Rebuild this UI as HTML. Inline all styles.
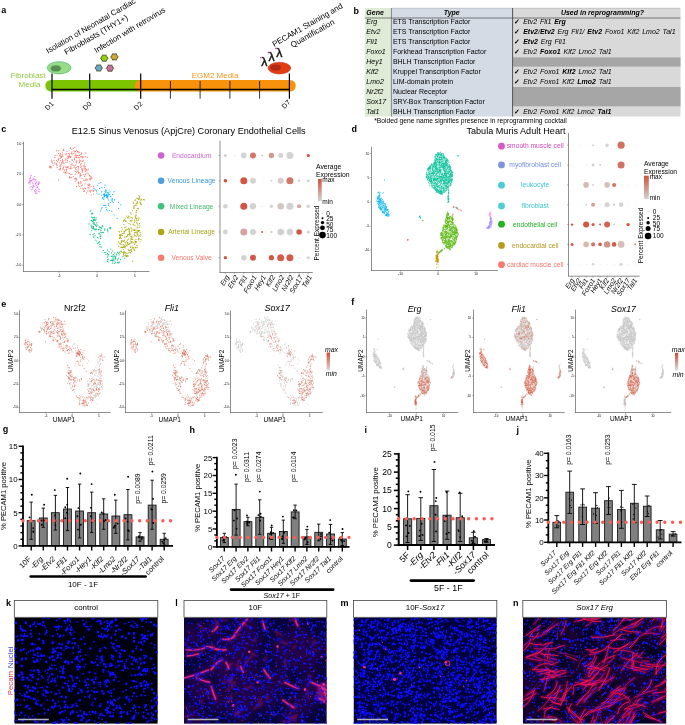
<!DOCTYPE html>
<html lang="en"><head><meta charset="utf-8"><title>Figure</title>
<style>html,body{margin:0;padding:0;background:#fff}svg{display:block}text{font-family:"Liberation Sans", Arial, Helvetica, sans-serif}</style>
</head><body>
<svg width="685" height="725" viewBox="0 0 685 725">
<rect width="685" height="725" fill="#fff"/>
<text x="1.2" y="13.2" font-size="9" font-weight="bold">a</text>
<rect x="45.3" y="79.9" width="100" height="11.7" rx="5.85" fill="#7dc400"/>
<rect x="134.5" y="79.9" width="161.3" height="11.7" rx="5.85" fill="#f7920a"/>
<line x1="51.5" y1="89.5" x2="290" y2="89.5" stroke="#000" stroke-width="1.3"/>
<line x1="52" y1="73.6" x2="52" y2="98.7" stroke="#000" stroke-width="1.2"/>
<line x1="89.7" y1="73.6" x2="89.7" y2="98.7" stroke="#000" stroke-width="1.2"/>
<line x1="140.7" y1="73.6" x2="140.7" y2="98.7" stroke="#000" stroke-width="1.2"/>
<line x1="289.4" y1="73.6" x2="289.4" y2="98.7" stroke="#000" stroke-width="1.2"/>
<line x1="170.4" y1="81" x2="170.4" y2="98.7" stroke="#000" stroke-width="0.8"/>
<line x1="200.1" y1="81" x2="200.1" y2="98.7" stroke="#000" stroke-width="0.8"/>
<line x1="229.9" y1="81" x2="229.9" y2="98.7" stroke="#000" stroke-width="0.8"/>
<line x1="259.6" y1="81" x2="259.6" y2="98.7" stroke="#000" stroke-width="0.8"/>
<text x="28" y="77.8" font-size="8" text-anchor="middle" fill="#8fc73e">Fibroblast</text>
<text x="29.5" y="87.3" font-size="8" text-anchor="middle" fill="#8fc73e">Media</text>
<text x="215" y="77.8" font-size="8" text-anchor="middle" fill="#f7941d">EGM2 Media</text>
<text x="54.2" y="104.3" font-size="7" text-anchor="end" transform="rotate(-45 54.2 104.3)">D1</text>
<text x="91.9" y="104.3" font-size="7" text-anchor="end" transform="rotate(-45 91.9 104.3)">D0</text>
<text x="142.9" y="104.3" font-size="7" text-anchor="end" transform="rotate(-45 142.9 104.3)">D2</text>
<text x="290.9" y="102.8" font-size="7" text-anchor="end" transform="rotate(-45 290.9 102.8)">D7</text>
<text x="48.1" y="53.7" font-size="7.95" transform="rotate(-30.1 48.1 53.7)">Isolation of Neonatal Cardiac</text>
<text x="66.3" y="55" font-size="8" transform="rotate(-30 66.3 55)">Fibroblasts (THY1+)</text>
<text x="96.3" y="53.2" font-size="7.9" transform="rotate(-31 96.3 53.2)">Infection with retrovirus</text>
<text x="274.2" y="47" font-size="8" transform="rotate(-29.7 274.2 47)">PECAM1 Staining and</text>
<text x="292.5" y="47.8" font-size="8" transform="rotate(-29.7 292.5 47.8)">Quantification</text>
<ellipse cx="59.1" cy="67.8" rx="11.8" ry="6.1" fill="#98dc88" stroke="#45b870" stroke-width=".7"/>
<ellipse cx="55.8" cy="68.4" rx="5" ry="2.9" fill="#5a8c52" stroke="#4aa860" stroke-width=".5"/>
<ellipse cx="279.4" cy="68.1" rx="11.4" ry="5.9" fill="#e23c12" stroke="#b42a10" stroke-width=".5"/>
<ellipse cx="275.7" cy="67.6" rx="4.8" ry="2.7" fill="#b02a1a" stroke="#8a1c10" stroke-width=".4"/>
<text x="261.2" y="65.9" font-size="12.3" fill="#111" stroke="#111" stroke-width=".4">&#955;</text>
<circle cx="260.9" cy="57.7" r="0.8" fill="#cc2299"/>
<text x="268.6" y="60.8" font-size="12.3" fill="#111" stroke="#111" stroke-width=".4">&#955;</text>
<circle cx="268.3" cy="52.6" r="0.8" fill="#cc2299"/>
<text x="276.3" y="56.6" font-size="12.3" fill="#111" stroke="#111" stroke-width=".4">&#955;</text>
<circle cx="276" cy="48.4" r="0.8" fill="#cc2299"/>
<line x1="107.8" y1="58.2" x2="108.8" y2="58.2" stroke="#9fc020" stroke-width="0.7"/>
<line x1="106" y1="61.2" x2="106.5" y2="62.1" stroke="#9fc020" stroke-width="0.7"/>
<line x1="102.5" y1="61.2" x2="102" y2="62.1" stroke="#9fc020" stroke-width="0.7"/>
<line x1="100.8" y1="58.2" x2="99.8" y2="58.2" stroke="#9fc020" stroke-width="0.7"/>
<line x1="102.5" y1="55.2" x2="102" y2="54.3" stroke="#9fc020" stroke-width="0.7"/>
<line x1="106" y1="55.2" x2="106.5" y2="54.3" stroke="#9fc020" stroke-width="0.7"/>
<polygon points="107.8,58.2 106,61.2 102.5,61.2 100.8,58.2 102.5,55.2 106,55.2" fill="#8fd400" stroke="#2b2b2b" stroke-width=".7"/>
<line x1="117.9" y1="56.9" x2="118.9" y2="56.9" stroke="#9fc020" stroke-width="0.7"/>
<line x1="116.2" y1="59.9" x2="116.7" y2="60.8" stroke="#9fc020" stroke-width="0.7"/>
<line x1="112.7" y1="59.9" x2="112.2" y2="60.8" stroke="#9fc020" stroke-width="0.7"/>
<line x1="110.9" y1="56.9" x2="109.9" y2="56.9" stroke="#9fc020" stroke-width="0.7"/>
<line x1="112.7" y1="53.9" x2="112.2" y2="53" stroke="#9fc020" stroke-width="0.7"/>
<line x1="116.2" y1="53.9" x2="116.7" y2="53" stroke="#9fc020" stroke-width="0.7"/>
<polygon points="117.9,56.9 116.2,59.9 112.7,59.9 110.9,56.9 112.7,53.9 116.2,53.9" fill="#d4a82a" stroke="#2b2b2b" stroke-width=".7"/>
<line x1="102.3" y1="68" x2="103.3" y2="68" stroke="#9fc020" stroke-width="0.7"/>
<line x1="100.5" y1="71" x2="101" y2="71.9" stroke="#9fc020" stroke-width="0.7"/>
<line x1="97" y1="71" x2="96.5" y2="71.9" stroke="#9fc020" stroke-width="0.7"/>
<line x1="95.3" y1="68" x2="94.3" y2="68" stroke="#9fc020" stroke-width="0.7"/>
<line x1="97" y1="65" x2="96.5" y2="64.1" stroke="#9fc020" stroke-width="0.7"/>
<line x1="100.5" y1="65" x2="101" y2="64.1" stroke="#9fc020" stroke-width="0.7"/>
<polygon points="102.3,68 100.5,71 97,71 95.3,68 97,65 100.5,65" fill="#6aa8cc" stroke="#2b2b2b" stroke-width=".7"/>
<line x1="113.5" y1="68.2" x2="114.5" y2="68.2" stroke="#9fc020" stroke-width="0.7"/>
<line x1="111.8" y1="71.2" x2="112.2" y2="72.1" stroke="#9fc020" stroke-width="0.7"/>
<line x1="108.2" y1="71.2" x2="107.8" y2="72.1" stroke="#9fc020" stroke-width="0.7"/>
<line x1="106.5" y1="68.2" x2="105.5" y2="68.2" stroke="#9fc020" stroke-width="0.7"/>
<line x1="108.2" y1="65.2" x2="107.8" y2="64.3" stroke="#9fc020" stroke-width="0.7"/>
<line x1="111.8" y1="65.2" x2="112.2" y2="64.3" stroke="#9fc020" stroke-width="0.7"/>
<polygon points="113.5,68.2 111.8,71.2 108.2,71.2 106.5,68.2 108.2,65.2 111.8,65.2" fill="#c870a0" stroke="#2b2b2b" stroke-width=".7"/>
<text x="353.5" y="13.6" font-size="9" font-weight="bold">b</text>
<rect x="364.8" y="8" width="26.6" height="108.5" fill="#dfebd6"/>
<rect x="391.4" y="8" width="121.6" height="108.5" fill="#d4dbe5"/>
<rect x="513" y="8" width="167.5" height="108.5" fill="#d9d9d9"/>
<rect x="513" y="57.4" width="167.5" height="9.2" fill="#a6a6a6"/>
<rect x="513" y="87" width="167.5" height="19.3" fill="#a6a6a6"/>
<line x1="391.4" y1="8.1" x2="680.5" y2="8.1" stroke="#888" stroke-width="0.35"/>
<line x1="364.8" y1="18" x2="680.5" y2="18" stroke="#333" stroke-width="0.6"/>
<line x1="391.4" y1="8" x2="391.4" y2="116.5" stroke="#444" stroke-width="0.6"/>
<line x1="512.6" y1="8" x2="512.6" y2="116.5" stroke="#444" stroke-width="0.9"/>
<text x="366.3" y="15.1" font-size="7" font-weight="bold" font-style="italic">Gene</text>
<text x="451.7" y="15.1" font-size="7" text-anchor="middle" font-weight="bold" font-style="italic">Type</text>
<text x="602.5" y="15.1" font-size="7" text-anchor="middle" font-weight="bold" font-style="italic">Used in reprogramming?</text>
<text x="366.3" y="24.4" font-size="7" font-style="italic">Erg</text>
<text x="392.9" y="24.4" font-size="7">ETS Transcription Factor</text>
<text x="515.5" y="24.4" font-size="7" font-style="italic" word-spacing=".9"><tspan font-weight="bold" font-style="normal" dx="-1.2">&#10003;</tspan> Etv2 Fli1 <tspan font-weight="bold">Erg</tspan></text>
<text x="366.3" y="34.4" font-size="7" font-style="italic">Etv2</text>
<text x="392.9" y="34.4" font-size="7">ETS Transcription Factor</text>
<text x="515.5" y="34.4" font-size="7" font-style="italic" word-spacing=".9"><tspan font-weight="bold" font-style="normal" dx="-1.2">&#10003;</tspan> <tspan font-weight="bold">Etv2</tspan>/<tspan font-weight="bold">Etv2</tspan> Erg Fli1/ <tspan font-weight="bold">Etv2</tspan> Foxo1 Klf2 Lmo2 Tal1</text>
<text x="366.3" y="44.3" font-size="7" font-style="italic">Fli1</text>
<text x="392.9" y="44.3" font-size="7">ETS Transcription Factor</text>
<text x="515.5" y="44.3" font-size="7" font-style="italic" word-spacing=".9"><tspan font-weight="bold" font-style="normal" dx="-1.2">&#10003;</tspan> <tspan font-weight="bold">Etv2</tspan> Erg Fli1</text>
<text x="366.3" y="54.3" font-size="7" font-style="italic">Foxo1</text>
<text x="392.9" y="54.3" font-size="7">Forkhead Transcription Factor</text>
<text x="515.5" y="54.3" font-size="7" font-style="italic" word-spacing=".9"><tspan font-weight="bold" font-style="normal" dx="-1.2">&#10003;</tspan> Etv2 <tspan font-weight="bold">Foxo1</tspan> Klf2 Lmo2 Tal1</text>
<text x="366.3" y="64.2" font-size="7" font-style="italic">Hey1</text>
<text x="392.9" y="64.2" font-size="7">BHLH Transcription Factor</text>
<text x="366.3" y="74.2" font-size="7" font-style="italic">Klf2</text>
<text x="392.9" y="74.2" font-size="7">Kruppel Transcription Factor</text>
<text x="515.5" y="74.2" font-size="7" font-style="italic" word-spacing=".9"><tspan font-weight="bold" font-style="normal" dx="-1.2">&#10003;</tspan> Etv2 Foxo1 <tspan font-weight="bold">Klf2</tspan> Lmo2 Tal1</text>
<text x="366.3" y="84.1" font-size="7" font-style="italic">Lmo2</text>
<text x="392.9" y="84.1" font-size="7">LIM-domain protein</text>
<text x="515.5" y="84.1" font-size="7" font-style="italic" word-spacing=".9"><tspan font-weight="bold" font-style="normal" dx="-1.2">&#10003;</tspan> Etv2 Foxo1 Klf2 <tspan font-weight="bold">Lmo2</tspan> Tal1</text>
<text x="366.3" y="94.1" font-size="7" font-style="italic">Nr2f2</text>
<text x="392.9" y="94.1" font-size="7">Nuclear Receptor</text>
<text x="366.3" y="104" font-size="7" font-style="italic">Sox17</text>
<text x="392.9" y="104" font-size="7">SRY-Box Transcription Factor</text>
<text x="366.3" y="114" font-size="7" font-style="italic">Tal1</text>
<text x="392.9" y="114" font-size="7">BHLH Transcription Factor</text>
<text x="515.5" y="114" font-size="7" font-style="italic" word-spacing=".9"><tspan font-weight="bold" font-style="normal" dx="-1.2">&#10003;</tspan> Etv2 Foxo1 Klf2 Lmo2 <tspan font-weight="bold">Tal1</tspan></text>
<text x="374.2" y="122.5" font-size="6.7">*Bolded gene name signifies presence in reprogramming cocktail</text>
<text x="1.2" y="132.3" font-size="9" font-weight="bold">c</text>
<text x="188.7" y="133.9" font-size="9.15" text-anchor="middle">E12.5 Sinus Venosus (ApjCre) Coronary Endothelial Cells</text>
<line x1="23.5" y1="141.7" x2="23.5" y2="271.8" stroke="#444" stroke-width="0.6"/>
<line x1="23.2" y1="271.5" x2="149.5" y2="271.5" stroke="#444" stroke-width="0.6"/>
<line x1="22" y1="143.6" x2="23.4" y2="143.6" stroke="#444" stroke-width="0.4"/>
<text x="21.3" y="144.7" font-size="3.2" text-anchor="end">5.0</text>
<line x1="22" y1="174.2" x2="23.4" y2="174.2" stroke="#444" stroke-width="0.4"/>
<text x="21.3" y="175.3" font-size="3.2" text-anchor="end">2.5</text>
<line x1="22" y1="204.5" x2="23.4" y2="204.5" stroke="#444" stroke-width="0.4"/>
<text x="21.3" y="205.6" font-size="3.2" text-anchor="end">0.0</text>
<line x1="22" y1="234.9" x2="23.4" y2="234.9" stroke="#444" stroke-width="0.4"/>
<text x="21.3" y="236" font-size="3.2" text-anchor="end">-2.5</text>
<line x1="22" y1="265.3" x2="23.4" y2="265.3" stroke="#444" stroke-width="0.4"/>
<text x="21.3" y="266.4" font-size="3.2" text-anchor="end">-5.0</text>
<line x1="59.1" y1="271.4" x2="59.1" y2="272.8" stroke="#444" stroke-width="0.4"/>
<text x="59.1" y="276.6" font-size="3.2" text-anchor="middle">-5</text>
<line x1="97.2" y1="271.4" x2="97.2" y2="272.8" stroke="#444" stroke-width="0.4"/>
<text x="97.2" y="276.6" font-size="3.2" text-anchor="middle">0</text>
<line x1="135" y1="271.4" x2="135" y2="272.8" stroke="#444" stroke-width="0.4"/>
<text x="135" y="276.6" font-size="3.2" text-anchor="middle">5</text>
<path d="M86.6 169.5h0M62.5 159.7h0M60.5 168.7h0M71.9 174.6h0M58.6 153.3h0M78.1 171.3h0M72.2 160.2h0M80.8 156.7h0M78.4 183.4h0M51.1 166.5h0M62.9 155h0M76.4 178.3h0M80.9 154.6h0M68.5 158.2h0M66.9 151.5h0M80.6 160.9h0M90 179.6h0M93.4 191.4h0M75.9 154.2h0M74.8 156h0M91.1 177.4h0M75.8 165.2h0M67.4 158.1h0M69.4 173.5h0M68.1 172.8h0M75.4 181.1h0M65.1 172.2h0M84.2 191h0M85.3 171.7h0M82.7 157.8h0M56.7 164.5h0M56 163.9h0M65.1 160.5h0M83.3 174.5h0M50.5 167.1h0M80.7 181.6h0M63.9 166.1h0M76.9 171h0M76 179h0M69.8 178.1h0M77.8 155.3h0M50.2 166.3h0M84.7 188.1h0M91.1 186.7h0M60.1 158.5h0M86.6 179h0M76.8 157.2h0M63.2 162.6h0M89.4 185.6h0M75.4 178.6h0M77.2 151.8h0M79.9 176.8h0M88.1 187.4h0M89.9 191.1h0M78.4 157.3h0M65.7 158.9h0M53.2 165.1h0M65.6 172.3h0M58.1 159h0M63.3 168.9h0M76.6 160.9h0M77.1 155.6h0M85.7 188.4h0M80.4 164.7h0M83.5 191.3h0M85.7 179.2h0M93.6 188.2h0M85.4 166.6h0M79.4 155.3h0M84.9 183.8h0M82.1 168.7h0M65.9 166.9h0M73.1 165.4h0M82.8 188.3h0M75.8 169.3h0M70.3 148.4h0M63.1 161.6h0M81.9 169.2h0M90.3 191.3h0M59.9 166h0M78.5 173.1h0M76.5 150.1h0M59.1 169.3h0M89.9 184.5h0M87.9 184.8h0M80.9 188.3h0M80.3 183h0M62.1 154.8h0M82 178.5h0M79.4 157.7h0M70.8 166.6h0M82.8 172.1h0M75.4 174.1h0M69.2 177.6h0M73.9 150.6h0M76.4 157.7h0M57.1 167.3h0M83.9 180.6h0M70.3 177.8h0M87.3 179.9h0M78.5 166.7h0M74.4 166h0M83.1 166.1h0M72 163.9h0M88.2 185.4h0M49.5 166.2h0M89.5 175.4h0M74.3 179h0M81.2 175.3h0M67.9 156.6h0M62.5 161.5h0M64.6 169.9h0M93.5 190.7h0M65.9 159.2h0M70.9 156.7h0M84.9 169.2h0M65.2 172.9h0M57.4 161.6h0M82.2 185.2h0M88.5 169.1h0M60 169.8h0M71.3 177.5h0M61.7 162.3h0M82.2 156.7h0M54.6 162.9h0M85.4 170.2h0M91.9 178.3h0M78.4 185.1h0M84.2 163.1h0M60.3 168.2h0M71.4 153.7h0M56.5 160.5h0M57.1 155h0M70.5 147.5h0M69.6 155.2h0M67.2 167.5h0M91.9 189.9h0M80.1 175.7h0M93.9 190.5h0M52.5 161.8h0M91.5 195h0M76.6 179.9h0M80.3 175h0M63.8 172.1h0M80.8 167.5h0M89 183.9h0M63.8 150.1h0M62.5 169h0M90.8 179.8h0M59.9 155.1h0M86 180.7h0M58.3 158.7h0M81.6 152.8h0M73.3 148.4h0M51.6 160.2h0M84.6 176.4h0M78.3 182.5h0M81.2 166.2h0M83.1 157.2h0M83 161.1h0M69.9 161.8h0M63.1 150.5h0M58.5 160.2h0M70.4 157.4h0M71.8 149.5h0M89 188.4h0M86.9 169.9h0M65.8 154.7h0M79.3 162.7h0M75.1 157.5h0M75.2 171.4h0M67.4 160.3h0M66.2 173h0M80.5 173.8h0M59.5 155.3h0M87.8 191h0M69.1 153.7h0M72.4 154h0M54.2 160.5h0M60.2 166.4h0M84.5 166.7h0M90.4 191.9h0M60.4 153.4h0M69.4 176.6h0M82.1 170.2h0M81.5 153.7h0M52.8 163.3h0M70.3 174.6h0M83.8 180.1h0M84.4 191.2h0M70.5 168.2h0M66.3 167.6h0M85.1 174.8h0M79.3 186.5h0M58.7 159.3h0M60.7 160.6h0M84.4 165h0M81.1 182.9h0M49.7 167.5h0M74.6 159.8h0M75.9 155.6h0M60.3 156.6h0M73.4 176.6h0M81.2 163.7h0M63.6 149.4h0M69.8 156.7h0M90.6 178.2h0M51.6 161.8h0M78 151.5h0M64 163.7h0M80.1 173.9h0M77.8 151.2h0M93.6 186.4h0M79.1 172.5h0M81.1 186h0M85.6 168.6h0M67.5 162h0M68.7 157.1h0M82.4 171.2h0M90.1 190.7h0M62.9 160.6h0M71.7 168h0M93.4 194.1h0M78.5 182.5h0M76.3 157.1h0M81.5 156.8h0M73.9 150.8h0M66.3 170.9h0M87.2 173.2h0M65.9 162.5h0M78.2 152h0M89.9 190.4h0M78.5 172.4h0M62.3 152.6h0M75.7 168.1h0M68.7 156.2h0M79.9 160.9h0M66.6 169.8h0M82.1 161.2h0M79.6 152.3h0M54.9 157.4h0M76.6 162.8h0M85.8 174.2h0M78.1 168.2h0M72 151.8h0M83.4 160h0M68.4 166.9h0M78.7 182.1h0M70.8 169h0M56.8 164.8h0M86.7 192.9h0M89.6 178.6h0M84 168.2h0M83.5 189.1h0M89.9 175.9h0M89.8 184.7h0M82.3 156.7h0M61.7 163.1h0M75.8 178h0M56.7 163.8h0M88.4 174h0M79.6 161.3h0M91 176.3h0M51.1 167.9h0M63.4 167.6h0M82.5 170.2h0M87 170.7h0M76.7 172.6h0M71.2 153.2h0M72 159.5h0M74.1 167.5h0M60.7 165.6h0M87.6 157.4h0M69.1 168.7h0M77.8 166.5h0M57.2 165.6h0M60.6 154.9h0M74.5 159.2h0M76.6 186.7h0M76.3 167.3h0M62.9 156.4h0M61.6 157.3h0M61.4 156.3h0M68.4 153.5h0M58.7 150.7h0M73.7 162h0M78.3 169.9h0M67.4 166.9h0M58.6 179.8h0M79.7 159.8h0M60.8 164.6h0M55.1 155.3h0M76.1 162.1h0M66.2 169.1h0M61.8 163.8h0M66.1 154.8h0M73.8 153.6h0M85.3 156.9h0M86 152.8h0M74.9 151.9h0M59.4 162.8h0M75.5 151.3h0M79.6 155.2h0M71.1 164.6h0M74.9 147.2h0M83 166h0M66.7 153.3h0M56.5 150.7h0M74.5 158.8h0M61 157.3h0" stroke="#f8766d" stroke-width="1.2" stroke-linecap="round" fill="none" stroke-opacity="0.95"/>
<path d="M33.1 185.6h0M34.8 179h0M36.3 182.4h0M39.2 182.9h0M33.8 179.3h0M37.9 184.8h0M38.8 191.6h0M29.9 180.9h0M35.5 184.1h0M37.2 186.9h0M29.7 184h0M32.8 187.3h0M32.5 187.3h0M35.4 192.2h0M35.2 191.4h0M35.6 189.6h0M38.7 189h0M29.5 182.1h0M33.4 185.3h0M32.6 179.8h0M31.4 180.6h0M39 182h0M34 186.5h0M36.1 180.9h0M33 187.5h0M30.4 177.9h0M34.4 176.5h0M33.5 186.1h0M29.9 187.6h0M29.8 178.8h0M37 187.5h0M28.5 182.9h0M37.6 187.6h0M36.9 193.1h0M32.8 182.8h0M38 183.5h0M38.5 184.6h0M35.9 193.7h0M39 191.7h0M29.9 183.8h0M33.3 185.5h0M32.5 189h0M33.5 178.8h0M31 175.4h0M29.3 181.7h0M30.8 180.4h0M30.7 181.8h0M30.5 177.1h0M35.7 183.4h0M38.7 181.8h0M38.8 183.7h0M35.8 179.8h0M39.2 189.6h0M31.2 186.5h0M34 181.1h0M34.6 190.6h0M33 183.3h0M36.2 185.6h0M36.7 190.8h0M31.1 189.8h0" stroke="#e76bf3" stroke-width="1.2" stroke-linecap="round" fill="none" stroke-opacity="0.95"/>
<path d="M118.6 208.4h0M108.4 203.8h0M107.7 198.2h0M99.6 188.4h0M113.2 202.5h0M110.3 202.5h0M105.7 190.6h0M112.3 201.2h0M111.8 211.2h0M111.9 200.6h0M117.2 218.3h0M110.3 191.9h0M100.7 182.5h0M106.7 209.3h0M112 199.6h0M105.9 205.6h0M108.8 203.6h0M109.2 210.7h0M103.6 199h0M101.3 208.8h0M97.4 185.3h0M103.8 199.2h0M106 207.5h0M120.8 204.8h0M101.9 187.7h0M105.9 192.6h0M103.8 205.4h0M99 183.3h0M104.6 196.8h0M118.6 202.4h0M114.1 214.8h0M104.5 187.6h0M110.9 196.8h0M112.2 198.6h0M106.3 191.1h0M96.5 190.9h0M114.6 199.8h0M105 185.1h0M107 210.6h0M110.6 196.5h0M108.5 205.5h0M102.1 207.6h0M95.8 189.8h0M100.6 210.9h0M99 194.2h0M97 193.1h0M94.7 188.8h0M104.9 205.3h0M105 191.7h0M108.1 192.5h0M104.3 194.8h0M109.1 190h0M112.5 194.3h0M107.2 196.8h0M107.7 192.8h0M114.1 191.7h0M107.2 196.3h0M104.3 194h0M108.6 200h0M104.8 194.1h0M109.5 194.4h0M103.9 195.2h0M107.8 195.3h0M110.9 196.7h0M108.7 195h0M104.2 193.9h0M108.1 193.3h0M107.8 192.3h0M112.1 199.4h0M106.3 195.2h0M106.8 197.3h0M108.8 194.4h0M106.8 194.6h0M104.5 195.9h0M105.3 195.5h0M107.9 196.9h0M107.4 196.7h0M104.7 195.7h0M106.8 194.7h0M107.7 196.5h0M101.4 195h0M103 197.1h0M101.6 191.8h0M102.5 198.2h0M103.6 194.5h0M105.9 189.9h0M106.5 195.8h0M106.9 196.5h0M106.4 194.3h0M106.3 195.1h0" stroke="#00b0f6" stroke-width="1.2" stroke-linecap="round" fill="none" stroke-opacity="0.95"/>
<path d="M99.9 244.4h0M102.8 252h0M121.3 251.7h0M98.2 238h0M94.2 233.3h0M93.8 228.3h0M100.3 236.7h0M91.9 227.7h0M117.3 262.8h0M93 234.5h0M99.5 227.1h0M102.4 225.7h0M114.6 256.2h0M95.1 235.9h0M110.4 227.6h0M116.7 255h0M115.6 256.7h0M107.9 231.8h0M108 254.5h0M119.7 252.1h0M112.7 256.1h0M99.1 233.4h0M93.2 228.6h0M93.9 224.1h0M111.8 260.3h0M100.8 238.6h0M110.2 228.9h0M102.4 232.2h0M98.3 242.9h0M113.3 254.4h0M110.6 227.9h0M105.6 252.7h0M92.9 226.3h0M92.9 213.7h0M92.1 213.2h0M100.1 234.9h0M99.1 229.1h0M101.6 228.3h0M104.7 252.5h0M104.4 230h0M114.8 261h0M103.4 250.5h0M97.2 243.5h0M102.8 226.6h0M112.6 261h0M90.9 210.6h0M98.6 229.7h0M92.2 228.5h0M98.8 233.8h0M104.9 228.9h0M96.5 229.2h0M115.4 257.4h0M107.6 229.1h0M111.3 256.1h0M95.2 229.8h0M101.2 247.2h0M95.5 225.3h0M93.5 220.6h0M107.5 249.8h0M109.3 227.9h0M92.1 221.3h0M108.7 254.6h0M100.5 238.4h0M91.2 213.9h0M115.4 262.8h0M90.3 211h0M107.9 230.4h0M100.8 232.2h0M98.4 229.5h0M94.2 229.5h0M110.9 249.1h0M99.5 226.9h0M101 229.8h0M113.3 260.1h0M95.2 224.6h0M91.7 230.6h0M95.3 229.2h0M97.7 237.5h0M101.2 227.1h0M100.5 227.7h0M96.8 222.9h0M92.2 221.1h0M108.1 255.9h0M109.1 251.8h0M93.2 236.1h0M96.1 217.9h0M89 223.9h0M93.1 217.6h0M100 246.6h0M119.3 262.2h0M96.6 226.5h0M96.6 225h0M93.4 227.5h0M95.2 240h0M107.6 253.3h0M103.3 232.6h0M113.4 259.8h0M99.6 241.9h0M104.4 230.2h0M91.7 226.4h0M112.5 251.1h0M119.1 254.8h0M98.9 242.1h0M90.2 234.4h0M96.5 241h0M93.9 237.4h0M101 236.2h0M101 230.4h0M91.9 220.8h0M117.7 262.4h0M110.7 260.3h0M102 232.4h0M92.9 221.1h0M108.2 259.1h0M97.3 225h0M112.2 258.9h0M107.4 257h0M117.5 260h0M112.3 260.6h0M122.9 256.6h0M118.4 253.2h0M107.6 259.7h0M115.6 258.5h0M113.1 257h0M118.7 263h0M114.6 252.9h0M120.5 259.7h0M118.2 258.4h0M124.7 258.1h0M117.5 252.3h0M113.1 255.8h0M115.3 258.9h0M112.5 263.1h0M111.2 256.5h0M116.4 254.1h0M117.7 259.8h0M114.3 263.6h0M115.8 258.7h0M111.6 252.9h0M112.9 256.9h0M113.6 260.2h0M105.9 254.5h0M108.1 261.9h0M113.2 256.3h0M111 260.6h0M113.8 258.6h0M107.3 261.4h0M94 222.6h0M95.2 220.4h0M93.1 223.1h0M94 220.2h0M93.4 219.5h0M94.5 223.8h0M93.4 226.6h0M91.1 220.3h0M96 219.7h0M91 225.2h0M94.2 217.4h0M94.6 217.9h0M91.4 220.5h0M92.7 217.7h0M92.8 218h0M93.5 220.9h0M94.5 219.6h0M91.4 217h0" stroke="#00bf7d" stroke-width="1.2" stroke-linecap="round" fill="none" stroke-opacity="0.95"/>
<path d="M123.8 246.5h0M125.6 230.1h0M122.5 240.8h0M120.2 235.4h0M136.6 241.8h0M138.5 219.8h0M129.1 252.6h0M130.7 234h0M137.3 232.2h0M123.7 241.4h0M128.7 239.1h0M123.5 253.3h0M122.1 244.8h0M140.8 204.1h0M132.6 210.5h0M129.4 234.9h0M136 239.4h0M126.6 216h0M123.5 220.9h0M125 255.4h0M135.6 217.7h0M134.8 221.2h0M138.9 231.4h0M128.2 256.1h0M123.6 252.2h0M134.2 234.3h0M135.1 200.4h0M137.1 218.2h0M141.6 199.4h0M122.3 247.4h0M138.4 208.8h0M128.6 234.7h0M131.6 237.1h0M136.1 212h0M134.4 230.3h0M130.6 252.7h0M125.3 252.3h0M121.3 238.5h0M136.1 212.8h0M124.6 237.1h0M127.4 240h0M128.6 216.1h0M136.8 245.5h0M124.4 240.3h0M120.6 236.2h0M126.7 236.4h0M120.7 237.5h0M119.8 243.2h0M131.7 251.4h0M137.3 198.5h0M129.5 243.8h0M131.7 236h0M139.4 230.5h0M122.3 235.6h0M136.8 222.2h0M121 247.3h0M125.3 218.1h0M123.4 221.1h0M124.3 245.7h0M135.1 225.8h0M137.8 224.9h0M120.6 234.5h0M143.6 199.7h0M126 256.6h0M136.8 232.8h0M128.8 244.2h0M133.9 208.4h0M131.2 239.2h0M134.1 229.2h0M137.2 202.3h0M134.4 222.5h0M129.3 229.9h0M126.1 236.9h0M127.3 229.5h0M121.4 231.1h0M130.8 236.3h0M133.1 230.3h0M137.7 203.1h0M137.7 234.1h0M136.5 220.1h0M119.9 253.1h0M130.3 250.1h0M128.3 228h0M134.6 230.4h0M121.8 227.3h0M144.4 199.8h0M139.9 225.8h0M119.5 235.6h0M136.4 210.5h0M125.4 255.2h0M124 220.8h0M130.9 238.2h0M140.4 203h0M135.5 205.1h0M121.5 247.5h0M130.5 224.3h0M120.9 251h0M131.6 250h0M119.7 238.3h0M128.7 228.9h0M135.4 247.1h0M139.9 202.1h0M125.2 242.7h0M131.9 220.2h0M134.4 235.8h0M118.8 246.7h0M128.9 216.7h0M119.6 232h0M138.1 220.6h0M136.5 205h0M134.4 250.4h0M139.5 223.6h0M134.5 244.2h0M127.7 242.7h0M131.7 241.8h0M137 198h0M139.4 196.6h0M129.7 232.9h0M139 198h0M135.3 216.2h0M139.4 197.3h0M123.3 247.4h0M135.3 199.8h0M126.3 245.3h0M126.2 255.3h0M139.3 238.9h0M123.8 241.1h0M137 228.1h0M134.2 205.7h0M126.2 253.2h0M134 249.2h0M136.5 218.3h0M119.5 234.9h0M120.5 244h0M135.8 247.7h0M137.4 227h0M133.8 206.9h0M138.5 239.8h0M125.1 247.9h0M123.5 254.8h0M130.5 247.3h0M133.6 242.9h0M128.3 250.3h0M133.4 247.5h0M123.8 233.7h0M135.4 242h0M121.3 240.6h0M122.2 252.5h0M140.1 232.5h0M127 245.9h0M133.2 202.1h0M124.6 246.8h0M139.1 198.3h0M131.8 239.4h0M127.9 253.4h0M137.5 208.6h0M140.3 236.2h0M140.7 234.1h0M136 242.8h0M127.5 217.7h0M124.9 252.9h0M131.3 242h0M126 227.1h0M139.3 227.5h0M139.6 199h0M130.1 218h0M121.5 247.1h0M130.5 247.5h0M127.6 243.3h0M125.8 221.4h0M131.1 227.9h0M137.4 247h0M124.7 231.4h0M131.2 221.2h0M119 231.5h0M136.3 203.6h0M132.1 246.1h0M122.2 233.5h0M140.9 200.7h0M140 199.1h0M126.9 256.7h0M136 218.8h0M135.3 230h0M141.4 204.4h0M137.3 201.8h0M126.8 241.8h0M119.6 237.7h0M120.4 244.2h0M134 207.3h0M135.8 216.1h0M131.8 229h0M124 220.7h0M139.7 230.4h0M140.4 203.6h0M128 244.3h0M128.3 249.7h0M126.4 256.3h0M123.9 224.6h0M118.5 241.9h0M127.6 234.9h0M133.8 225h0M137.9 230.8h0M136.2 215h0M137.1 235.2h0M138.5 199.5h0M121.3 234.9h0M137.6 198.6h0M138.3 236.8h0M133.2 224.2h0M123.4 254.4h0M138.5 230.7h0M134.9 241h0M139.1 235.6h0M122.4 229h0M121.6 241.4h0M126.5 229.8h0M127 256.2h0M133.7 203.5h0M130.4 212.9h0M131.3 214h0M125.8 220.7h0M129.7 231.1h0M132.5 218.1h0M135.7 241.4h0M134.5 219.8h0M138.9 195.5h0M131.3 217.3h0M123.4 249.6h0M123.7 244.7h0M137.3 233.8h0M129.8 234.1h0M135.4 242.4h0M124.4 219.9h0M125.2 246.7h0M128.1 218h0M131.5 230.9h0M137.1 202.3h0M124.8 227.6h0M130.3 220.6h0M124.9 252.4h0M129 231.8h0M131 241.1h0M136.1 247.7h0M132 242.7h0M131.8 241.5h0M139 218.1h0M130.3 243.3h0M136.9 230.7h0M133 248.3h0M129 223.3h0M129.4 229.7h0M134.5 232.8h0M140.1 241.8h0M127.2 236h0M125.8 244h0M138.7 238.6h0M135.9 232h0M132.8 261.2h0M124.2 251.6h0M137.1 223.6h0M124.1 231.7h0M136.1 236.6h0M130.4 246.9h0M131.8 242.5h0M129.6 250.6h0M127.3 255.6h0M129.5 233.3h0M134.5 244.6h0M121.3 242.5h0M124.5 233h0M135.1 232.7h0M133 237.1h0M140.9 239.6h0M125.3 230.5h0M126.7 241.6h0M131.2 249.2h0M132 241.6h0M132.8 239.3h0M132.6 247.5h0M135.1 235.5h0" stroke="#a3a500" stroke-width="1.2" stroke-linecap="round" fill="none" stroke-opacity="0.95"/>
<line x1="220" y1="140.7" x2="220" y2="272.8" stroke="#444" stroke-width="0.6"/>
<line x1="219.7" y1="272.5" x2="312.8" y2="272.5" stroke="#444" stroke-width="0.6"/>
<circle cx="161.1" cy="155.5" r="3.3" fill="#cc63d0"/>
<text x="191.6" y="157.8" font-size="6.7" text-anchor="middle" fill="#cc66cc">Endocardium</text>
<line x1="218.6" y1="155.5" x2="220" y2="155.5" stroke="#444" stroke-width="0.4"/>
<circle cx="161.1" cy="180.8" r="3.3" fill="#4a9fe0"/>
<text x="191.6" y="183.1" font-size="6.7" text-anchor="middle" fill="#3d9bdc">Venous Lineage</text>
<line x1="218.6" y1="180.8" x2="220" y2="180.8" stroke="#444" stroke-width="0.4"/>
<circle cx="161.1" cy="206.2" r="3.3" fill="#3ec47a"/>
<text x="191.6" y="208.5" font-size="6.7" text-anchor="middle" fill="#3cba6e">Mixed Lineage</text>
<line x1="218.6" y1="206.2" x2="220" y2="206.2" stroke="#444" stroke-width="0.4"/>
<circle cx="161.1" cy="232" r="3.3" fill="#a8a81a"/>
<text x="191.6" y="234.3" font-size="6.7" text-anchor="middle" fill="#a3a51a">Arterial Lineage</text>
<line x1="218.6" y1="232" x2="220" y2="232" stroke="#444" stroke-width="0.4"/>
<circle cx="161.1" cy="257.7" r="3.3" fill="#fb7b72"/>
<text x="191.6" y="260" font-size="6.7" text-anchor="middle" fill="#f8766d">Venous Valve</text>
<line x1="218.6" y1="257.7" x2="220" y2="257.7" stroke="#444" stroke-width="0.4"/>
<circle cx="225.4" cy="155.5" r="1.5" fill="#d3d3d3"/>
<circle cx="234.6" cy="155.5" r="0.35" fill="#d2503a"/>
<circle cx="243.8" cy="155.5" r="2.9" fill="#d3d3d3"/>
<circle cx="253" cy="155.5" r="3" fill="#d27768"/>
<circle cx="262.2" cy="155.5" r="0.7" fill="#d29286"/>
<circle cx="271.4" cy="155.5" r="2.7" fill="#d3988e"/>
<circle cx="280.7" cy="155.5" r="2.5" fill="#d3d3d3"/>
<circle cx="289.9" cy="155.5" r="3.5" fill="#d3d3d3"/>
<circle cx="299.1" cy="155.5" r="0.3" fill="#d3d3d3"/>
<circle cx="308.3" cy="155.5" r="1.6" fill="#d2503a"/>
<circle cx="225.4" cy="180.8" r="1.8" fill="#d2503a"/>
<circle cx="234.6" cy="180.8" r="0.2" fill="#d3d3d3"/>
<circle cx="243.8" cy="180.8" r="3.5" fill="#d25742"/>
<circle cx="253" cy="180.8" r="3" fill="#d3d3d3"/>
<circle cx="262.2" cy="180.8" r="0.4" fill="#d3d3d3"/>
<circle cx="271.4" cy="180.8" r="1" fill="#d3d3d3"/>
<circle cx="280.7" cy="180.8" r="3" fill="#d3cccb"/>
<circle cx="289.9" cy="180.8" r="3.5" fill="#d27768"/>
<circle cx="299.1" cy="180.8" r="1.3" fill="#d3d3d3"/>
<circle cx="308.3" cy="180.8" r="1.5" fill="#d3d3d3"/>
<circle cx="225.4" cy="206.2" r="2.3" fill="#d3d3d3"/>
<circle cx="234.6" cy="206.2" r="0.3" fill="#d3d3d3"/>
<circle cx="243.8" cy="206.2" r="3.5" fill="#d25742"/>
<circle cx="253" cy="206.2" r="3.2" fill="#d3d3d3"/>
<circle cx="262.2" cy="206.2" r="0.5" fill="#d3d3d3"/>
<circle cx="271.4" cy="206.2" r="1.7" fill="#d3d3d3"/>
<circle cx="280.7" cy="206.2" r="3.3" fill="#d3c6c4"/>
<circle cx="289.9" cy="206.2" r="3.5" fill="#d3d0d0"/>
<circle cx="299.1" cy="206.2" r="2" fill="#d3a59d"/>
<circle cx="308.3" cy="206.2" r="1.7" fill="#d3d3d3"/>
<circle cx="225.4" cy="232" r="2.4" fill="#d3d3d3"/>
<circle cx="234.6" cy="232" r="0.3" fill="#d3d3d3"/>
<circle cx="243.8" cy="232" r="3.5" fill="#d3a59d"/>
<circle cx="253" cy="232" r="3" fill="#d3d3d3"/>
<circle cx="262.2" cy="232" r="1" fill="#d2503a"/>
<circle cx="271.4" cy="232" r="1.2" fill="#d3d3d3"/>
<circle cx="280.7" cy="232" r="3.3" fill="#d3d0d0"/>
<circle cx="289.9" cy="232" r="3.2" fill="#d3d3d3"/>
<circle cx="299.1" cy="232" r="2.8" fill="#d25742"/>
<circle cx="308.3" cy="232" r="1.6" fill="#d3d3d3"/>
<circle cx="225.4" cy="257.7" r="1.6" fill="#d2503a"/>
<circle cx="234.6" cy="257.7" r="0.3" fill="#d3d3d3"/>
<circle cx="243.8" cy="257.7" r="2.8" fill="#d3d3d3"/>
<circle cx="253" cy="257.7" r="3" fill="#d25742"/>
<circle cx="262.2" cy="257.7" r="0.5" fill="#d3d3d3"/>
<circle cx="271.4" cy="257.7" r="2.6" fill="#d25742"/>
<circle cx="280.7" cy="257.7" r="3.5" fill="#d25d49"/>
<circle cx="289.9" cy="257.7" r="3.5" fill="#d25d49"/>
<circle cx="299.1" cy="257.7" r="0.8" fill="#d3d3d3"/>
<circle cx="308.3" cy="257.7" r="1.5" fill="#d3d3d3"/>
<line x1="225.4" y1="272.5" x2="225.4" y2="273.9" stroke="#444" stroke-width="0.4"/>
<text x="229.4" y="276.9" font-size="7.0" text-anchor="end" font-style="italic" transform="rotate(-60 229.4 276.9)">Erg</text>
<line x1="234.6" y1="272.5" x2="234.6" y2="273.9" stroke="#444" stroke-width="0.4"/>
<text x="238.6" y="276.9" font-size="7.0" text-anchor="end" font-style="italic" transform="rotate(-60 238.6 276.9)">Etv2</text>
<line x1="243.8" y1="272.5" x2="243.8" y2="273.9" stroke="#444" stroke-width="0.4"/>
<text x="247.8" y="276.9" font-size="7.0" text-anchor="end" font-style="italic" transform="rotate(-60 247.8 276.9)">Fli1</text>
<line x1="253" y1="272.5" x2="253" y2="273.9" stroke="#444" stroke-width="0.4"/>
<text x="257" y="276.9" font-size="7.0" text-anchor="end" font-style="italic" transform="rotate(-60 257 276.9)">Foxo1</text>
<line x1="262.2" y1="272.5" x2="262.2" y2="273.9" stroke="#444" stroke-width="0.4"/>
<text x="266.2" y="276.9" font-size="7.0" text-anchor="end" font-style="italic" transform="rotate(-60 266.2 276.9)">Hey1</text>
<line x1="271.4" y1="272.5" x2="271.4" y2="273.9" stroke="#444" stroke-width="0.4"/>
<text x="275.4" y="276.9" font-size="7.0" text-anchor="end" font-style="italic" transform="rotate(-60 275.4 276.9)">Klf2</text>
<line x1="280.7" y1="272.5" x2="280.7" y2="273.9" stroke="#444" stroke-width="0.4"/>
<text x="284.7" y="276.9" font-size="7.0" text-anchor="end" font-style="italic" transform="rotate(-60 284.7 276.9)">Lmo2</text>
<line x1="289.9" y1="272.5" x2="289.9" y2="273.9" stroke="#444" stroke-width="0.4"/>
<text x="293.9" y="276.9" font-size="7.0" text-anchor="end" font-style="italic" transform="rotate(-60 293.9 276.9)">Nr2f2</text>
<line x1="299.1" y1="272.5" x2="299.1" y2="273.9" stroke="#444" stroke-width="0.4"/>
<text x="303.1" y="276.9" font-size="7.0" text-anchor="end" font-style="italic" transform="rotate(-60 303.1 276.9)">Sox17</text>
<line x1="308.3" y1="272.5" x2="308.3" y2="273.9" stroke="#444" stroke-width="0.4"/>
<text x="312.3" y="276.9" font-size="7.0" text-anchor="end" font-style="italic" transform="rotate(-60 312.3 276.9)">Tal1</text>
<defs><linearGradient id="gr" x1="0" y1="0" x2="0" y2="1"><stop offset="0" stop-color="#d2503a"/><stop offset="1" stop-color="#d3d3d3"/></linearGradient></defs>
<text x="316" y="168.5" font-size="6.8">Average</text>
<text x="316" y="176.6" font-size="6.8">Expression</text>
<rect x="318" y="179" width="3.7" height="22" fill="url(#gr)"/>
<text x="322.3" y="181.8" font-size="6.5">max</text>
<text x="322.3" y="203.6" font-size="6.5">min</text>
<text x="319.3" y="233" font-size="6.5" text-anchor="middle" transform="rotate(-90 319.3 233)">Percent Expressed</text>
<circle cx="322.5" cy="213.8" r="0.3" fill="#000"/>
<text x="326.2" y="216.1" font-size="6.5">0</text>
<circle cx="322.5" cy="218.2" r="1" fill="#000"/>
<text x="326.2" y="221.1" font-size="6.5">25</text>
<circle cx="322.5" cy="222.6" r="1.7" fill="#000"/>
<text x="326.2" y="226.8" font-size="6.5">50</text>
<circle cx="322.5" cy="227.8" r="2.4" fill="#000"/>
<text x="326.2" y="232.3" font-size="6.5">75</text>
<circle cx="322.5" cy="235.1" r="3.3" fill="#000"/>
<text x="326.2" y="238.4" font-size="6.5">100</text>
<text x="351.5" y="131.9" font-size="9" font-weight="bold">d</text>
<text x="516" y="133.7" font-size="9.1" text-anchor="middle">Tabula Muris Adult Heart</text>
<line x1="371.5" y1="146.8" x2="371.5" y2="270.8" stroke="#444" stroke-width="0.6"/>
<line x1="371.2" y1="270.5" x2="498" y2="270.5" stroke="#444" stroke-width="0.6"/>
<line x1="370" y1="153.6" x2="371.4" y2="153.6" stroke="#444" stroke-width="0.4"/>
<text x="369.3" y="154.7" font-size="3.2" text-anchor="end">10</text>
<line x1="370" y1="177.7" x2="371.4" y2="177.7" stroke="#444" stroke-width="0.4"/>
<text x="369.3" y="178.8" font-size="3.2" text-anchor="end">5</text>
<line x1="370" y1="202" x2="371.4" y2="202" stroke="#444" stroke-width="0.4"/>
<text x="369.3" y="203.1" font-size="3.2" text-anchor="end">0</text>
<line x1="370" y1="226" x2="371.4" y2="226" stroke="#444" stroke-width="0.4"/>
<text x="369.3" y="227.1" font-size="3.2" text-anchor="end">-5</text>
<line x1="370" y1="250" x2="371.4" y2="250" stroke="#444" stroke-width="0.4"/>
<text x="369.3" y="251.1" font-size="3.2" text-anchor="end">-10</text>
<line x1="400.4" y1="270.2" x2="400.4" y2="271.6" stroke="#444" stroke-width="0.4"/>
<text x="400.4" y="275.4" font-size="3.2" text-anchor="middle">-10</text>
<line x1="438.2" y1="270.2" x2="438.2" y2="271.6" stroke="#444" stroke-width="0.4"/>
<text x="438.2" y="275.4" font-size="3.2" text-anchor="middle">0</text>
<line x1="476" y1="270.2" x2="476" y2="271.6" stroke="#444" stroke-width="0.4"/>
<text x="476" y="275.4" font-size="3.2" text-anchor="middle">10</text>
<path d="M444.9 166.5h0M433.7 187.7h0M428.8 176.4h0M446.7 175.8h0M439.2 170.2h0M436.5 179.3h0M441.4 192.6h0M450.3 173.6h0M443.1 178.4h0M446.4 188.2h0M446.7 179.3h0M441.8 157.2h0M449.6 177.1h0M438.3 192.6h0M448.1 160.6h0M448 169.4h0M442.7 177.9h0M436.7 174.1h0M443.6 157.6h0M436.2 184.7h0M439.7 165.4h0M446.9 160.1h0M444.8 184h0M428.7 176.3h0M441.7 193.7h0M433.4 171.5h0M450.1 167.4h0M436 162.6h0M431.7 181.3h0M443 162.2h0M439.7 163.9h0M448.3 167.1h0M443 191h0M438.9 179.7h0M432.5 181h0M445.6 177.4h0M448.8 172.1h0M441.1 178.2h0M441.8 153.4h0M443.1 188.5h0M443.6 187.1h0M437 158.6h0M434.1 162.4h0M430.6 181.6h0M441.9 187.3h0M440.8 193.7h0M439.3 153.3h0M444.3 175.5h0M432.5 175.5h0M443.5 170.4h0M431.6 164.8h0M446.5 182.7h0M437.7 186.8h0M440.9 180.8h0M430.7 169.2h0M440.7 157.4h0M436.2 171.2h0M444.9 157.9h0M436.9 174h0M447.2 166h0M443.4 180.6h0M439.5 178.2h0M438.6 178.3h0M438.1 190.8h0M445.1 167.4h0M439.5 174.1h0M445.9 172.4h0M442.7 160.8h0M450.2 168.2h0M443.5 163.8h0M444.6 170.5h0M447.7 163.4h0M434.8 178.9h0M442.4 193.6h0M430.4 181.9h0M437.7 171.8h0M441 171.7h0M431.1 180.6h0M433.1 164h0M446.6 180.7h0M445.3 191.6h0M452.5 173.8h0M440.9 163.7h0M435.8 175.4h0M434.6 181.3h0M444.9 178.1h0M427.4 175.7h0M435.1 182.7h0M445 173.4h0M445.8 158.1h0M436.9 191.7h0M440.7 160.8h0M440.3 188.3h0M444.1 187.8h0M450.8 173.8h0M435.9 158.9h0M444.1 190.4h0M447 175.9h0M440.2 153.1h0M436.5 181h0M441.8 155.7h0M452.1 175.8h0M446.3 180.2h0M439.6 170.6h0M431.6 163.7h0M443.8 175.5h0M441.6 174.3h0M433.3 175.8h0M445 179.4h0M444.1 175.8h0M445.6 167.6h0M451 176.5h0M434.9 179.4h0M444.4 191.3h0M443.1 174.1h0M435.6 170.1h0M433.5 178h0M449.2 177h0M449.5 164.7h0M444.2 192.3h0M451.5 175.9h0M450.4 169.1h0M451.4 180.6h0M429.2 174.5h0M435.9 189.4h0M432.8 182.5h0M446.8 188.5h0M437.6 165.6h0M431.1 165.9h0M437.9 172.8h0M441.7 187.8h0M436.6 168h0M449.2 171.8h0M443.8 163.7h0M444.3 168.1h0M446.8 173.2h0M451.1 175.4h0M448.6 171h0M443.9 163.1h0M442 180h0M431.1 175h0M439.1 187.5h0M437.2 152.8h0M439.8 171.6h0M450.9 180.3h0M447.2 167.5h0M427.6 180.1h0M450.4 179.9h0M441.9 174.9h0M433.6 185.5h0M437 180h0M447.1 183.1h0M447.9 179.7h0M439 159.5h0M451.1 182.7h0M440.9 181.1h0M444.5 164h0M439 154.6h0M448.8 183.8h0M428.2 178.4h0M445.1 169.9h0M435.6 182.9h0M432.8 170.8h0M440.9 170.1h0M446.6 185.8h0M439.2 162.9h0M441.7 179.1h0M443.7 188.9h0M436.7 174.5h0M445.2 176.4h0M438 179.1h0M445 186.1h0M440.7 180.6h0M447.8 161.4h0M437.7 189.8h0M429.6 180.8h0M432 179h0M447.7 186.6h0M446.7 173.6h0M441 159.2h0M431 183.1h0M438 178.2h0M446.1 164.4h0M448 184.2h0M441.3 176.7h0M436.4 162.1h0M440.4 191.5h0M451.1 176.6h0M436 184h0M441.2 186.6h0M448.5 181.5h0M452.2 180.1h0M452.3 179.9h0M431.5 178.7h0M447.2 170.3h0M430.1 166.8h0M447 161.2h0M447.6 183.4h0M440.6 179.4h0M446.3 165.8h0M431 181.4h0M441.9 194.2h0M436.5 169.8h0M429.5 177.4h0M429.9 181.1h0M437.6 184.5h0M442 158.2h0M427.6 179.1h0M440 162.3h0M430 166.5h0M433.9 167h0M434.7 183.8h0M437.9 188.2h0M439.6 164h0M451 179.7h0M448.9 162.1h0M452.3 179.2h0M435.9 162.4h0M430.7 165.1h0M440.1 168.7h0M433.7 179.1h0M439.3 191.8h0M439.8 172.2h0M431.9 175.7h0M440.7 193.5h0M434.5 167.4h0M439 159.1h0M441.4 164.6h0M433.2 173.8h0M426.8 172.7h0M443.2 167.8h0M431.4 181.2h0M442 166h0M442.2 188.4h0M439.8 168.1h0M442.4 173.7h0M429.1 183.6h0M437.3 185.6h0M439.9 187.2h0M438.6 162.2h0M447 187.2h0M439.5 191.5h0M444.9 191.8h0M435 175.7h0M450.4 181.1h0M433.9 164.1h0M451.8 180.7h0M441.3 159.6h0M438.7 180.3h0M444.4 171.9h0M443.3 166.1h0M441 155h0M434.1 176.2h0M448.1 165h0M433.8 178.6h0M444.9 181.4h0M449.1 181.1h0M443.9 177.5h0M443.7 183.3h0M443 157.1h0M436.7 176.2h0M431.2 173.6h0M426.1 176.7h0M451.8 182h0M443.8 175.8h0M434.4 185.3h0M436.3 166.5h0M440.7 194.2h0M446 180.3h0M437.2 178.8h0M440.4 185.3h0M444.1 156.6h0M428.2 174.1h0M434.8 164.9h0M442 193.6h0M435.7 185.1h0M434.7 184h0M444.7 183.8h0M436.7 170h0M447.9 173.7h0M444.7 179.8h0M448 174.9h0M436.8 160.2h0M451.2 184.5h0M433.3 173.8h0M438.6 177.9h0M442.6 173.2h0M443.4 155.9h0M440.4 193.1h0M452.4 175h0M441.9 192.4h0M441.4 161.3h0M437.4 184.2h0M436.1 158.7h0M436.2 155.8h0M439.8 165h0M430.3 183.1h0M442.2 187.2h0M430.2 178.6h0M433 172.5h0M437.9 176.3h0M441.1 191.1h0M442.5 167h0M446.6 177h0M432.9 184.4h0M433.2 173.7h0M442.8 165.7h0M441.2 194h0M433.9 172.2h0M447.8 189.7h0M435.1 166.4h0M441 171h0M443.6 169.4h0M441 159.8h0M428.9 169.1h0M452.2 181.9h0M447.8 159.8h0M441.3 154.7h0M428.3 182.1h0M442.6 161.4h0M443.4 156.3h0M440.8 162.6h0M446.2 165.2h0M435.8 162.3h0M439.8 153.3h0M430.1 179.7h0M440.9 162.2h0M446 180.3h0M434.6 187.9h0M437.9 171h0M450.3 185h0M437.6 181.9h0M431.2 181h0M433.1 180.2h0M435.6 187.4h0M439.2 162.3h0M435.4 166.5h0M438.2 180.2h0M441.4 167.1h0M430.7 177.4h0M442.8 158.6h0M448.8 180.7h0M439.9 191.6h0M439.7 193.2h0M428.1 177.7h0M445.1 181.6h0M435.7 174.6h0M451.4 171.9h0M437.8 175.9h0M450 178.3h0M434.1 177.4h0M444.4 157.8h0M446.5 165h0M439.4 162.9h0M445 181.7h0M432.7 182h0M445.1 165.5h0M450.3 185h0M445.8 164.3h0M427.1 176.2h0M445.9 183.4h0M443.2 173.1h0M438.7 176.6h0M447 181.1h0M445.3 185.3h0M438.1 189.8h0M444.3 170.6h0M444.2 155.3h0M436.3 188.2h0M439 175.3h0M441.2 192.1h0M431 181.3h0M437.9 162h0M427.1 178.1h0M430.5 176.5h0M437.5 169.4h0M441 169.5h0M430 168.7h0M443.9 163.4h0M439.9 175.6h0M435.7 160.6h0M451.5 171.8h0M433 182.4h0M434.9 171.8h0M434.5 165.5h0M444.5 173.4h0M433.2 174.3h0M443.4 165.1h0M448 184h0M446.3 179.8h0M432 182h0M439.4 159.2h0M429.1 177.5h0M437.9 155.6h0M440.4 176.7h0M439.2 153.7h0M444.8 173.6h0M441.8 180.5h0M450.8 170.6h0M437.9 159h0M436 190.4h0M452.1 171.6h0M433.5 165.7h0M450.3 170.7h0M439.6 170.1h0M450.5 183.8h0M437.4 159.7h0M450.6 169.8h0M444.7 183.7h0M440.3 154.6h0M440.4 152.1h0M435.9 186.3h0M447 182h0M435.6 168.7h0M436.6 163.7h0M451 174.6h0M444.9 177.5h0M429.3 173.6h0M450.3 183.3h0M436 166.9h0M445.1 166.5h0M446.6 183.3h0M432.8 185.7h0M435.6 154.5h0M442.7 179h0M448.7 164.7h0M446.6 163.2h0M434.7 179.8h0M434.3 161.6h0M430.3 166.2h0M439.2 154.4h0M436.2 185h0M434 163.5h0M444 157.2h0M439.8 181.8h0M451.5 178.3h0M449.3 174.8h0M432.3 169.7h0M442.2 174.7h0M446.8 174.9h0M436.2 173.7h0M434.7 176.7h0M444.8 169.6h0M446.1 173.1h0M435.8 162.1h0M445.6 161.5h0M445.1 173.4h0M446.5 171.2h0M448.5 177.6h0M440.2 161.9h0M428.8 168.5h0M440.5 171.9h0M444.4 174.7h0M446.1 169.3h0M432.8 186.1h0M435.9 171.4h0M443.5 157.7h0M433.2 169.3h0M433.3 179.8h0M429.4 179.5h0M428.7 176.9h0M451 175.3h0M430.1 167.5h0M443.6 165.8h0M450.6 166.3h0M434.1 163.7h0M440.1 193h0M440.7 183.6h0M440 155.1h0M441.5 177.1h0M442.1 164.2h0M432.9 165.9h0M433.6 173.2h0M450.1 181.6h0M439.7 182.6h0M437.8 154.3h0M444.5 182.2h0M443.4 188.6h0M447.1 187.5h0M441.7 177.4h0M442.7 163.1h0M441.5 193.2h0M431.5 176.8h0M441.9 154h0M442.6 167.9h0M437.2 159.8h0M441.7 180.6h0M444.8 163.7h0M440.4 155.3h0M440.8 164.9h0M440 184.2h0M426.4 172.7h0M438.3 162.9h0M441.9 167.4h0M440 171.4h0M427.4 169.5h0M444.9 157.2h0M439.8 159.3h0M445.1 159.9h0M436.6 186.1h0M435.3 159.9h0M438 163h0M436.1 168.1h0M433 164.4h0M443.3 181.2h0M446.2 179.1h0M450.2 175.6h0M445.9 175.6h0M429.8 173.9h0M451.2 177.8h0M434 185.9h0M433.5 166.9h0M428.1 168.7h0M446.6 174h0M449.4 171.4h0M443 164.8h0M441.6 158.9h0M450.5 173.1h0M444.9 159.5h0M438.4 182.3h0M436.2 154.5h0M438.4 186.8h0M440.8 189.5h0M439.6 167.4h0M439.1 165.1h0M447.5 168.9h0M438.9 176.3h0M430.5 176.5h0M437.2 179.1h0M452.8 172.3h0M438.5 152.8h0M436 167.2h0M446.4 175.3h0M439.6 169.5h0M438.6 181.5h0M434.8 186.1h0M445.6 187.8h0M449.9 185h0M428.5 172h0M427.6 175.7h0M443.5 160.5h0M438.5 172h0M449.8 182.4h0M446.6 186.5h0M441.8 186.4h0M438.3 169.3h0M444.8 171.6h0M434.4 163.2h0M437.5 168.4h0M446.1 185.4h0M447.4 187.9h0M435.4 167.6h0M444.4 174.2h0M443.9 181.7h0M444 162.4h0M450.3 173.4h0M443.6 155.6h0M438.2 176.9h0M445.1 160.9h0M448.2 186.8h0M435.8 166.2h0M430.1 177h0M442.9 173.9h0M434.2 163h0M442.9 159.7h0M450.5 179.2h0M446.9 166.2h0M437.2 162.4h0M432.3 169.7h0M447.3 173.4h0M439.9 180.6h0M429.5 179.6h0M439.7 177.7h0M442.1 192.2h0M446.8 165h0M446.1 171h0M452.2 172.6h0M432.9 187h0M442.1 183.7h0M445.9 190.8h0M448.4 179.1h0M434.6 173.2h0M433.5 166.7h0M438.3 169.7h0M433.4 164.8h0M434.4 159.7h0M441.7 155.9h0M444.7 163.9h0M437.4 186.3h0M434.3 166.7h0M440.6 154.8h0M450 180h0M446.4 161.1h0M450.1 174.6h0M436.7 160h0M445.2 182.3h0M438.4 172.4h0M440.1 166.9h0M445.8 170.1h0M439.3 159.8h0M445.2 180.4h0M434.8 178.6h0M441.6 181.9h0M441.1 169.1h0M444.4 174.5h0M434.1 170.8h0M435.3 168.1h0M443.4 165.8h0M448.7 167.3h0M437.4 170.2h0M450.3 177.5h0M449 178.5h0M444.1 168.4h0M436.4 158.6h0M429.5 178.3h0M430.8 171.4h0M450.8 176.4h0M444.4 188.9h0M442.3 193.1h0M445.4 182.6h0M435.7 154.9h0M429.5 180.9h0M438.9 164.6h0M432.8 167.2h0M435.6 161.6h0M437.5 178.3h0M444.5 165.8h0M443.1 176.8h0M445.4 175.4h0M451.5 174.7h0M430 185.1h0M439.3 161.5h0M447.7 160.5h0M443.2 180.9h0M439.5 157.3h0M441.1 162.5h0M439 154.6h0M431.9 178.7h0M444.3 178.2h0M448.3 171.9h0M446 162.4h0M447.4 173.1h0M448.2 173.9h0M448.1 182.1h0M443.3 192.6h0M439.7 182.3h0M443.9 168.4h0M440 193.5h0M439.1 191.2h0M444.2 168.6h0M446.1 168.2h0M446.9 187.4h0M447.9 163.1h0M442.9 171.8h0M436.7 169.4h0M438.7 167.4h0M442.5 178.8h0M436.8 179.6h0M443.6 183.7h0M430 179.7h0M437.1 189.8h0M441.7 186.7h0M448 161.2h0M444.6 170.1h0M443.8 157.4h0M443.2 191h0M433.9 168.8h0M439.2 189.9h0M438.3 154.9h0M443.3 188h0M442 190.1h0M426.4 177.7h0M437.1 156.7h0M436.7 183.6h0M441.8 177.7h0M433.1 173.9h0M438.1 191h0M449.4 170.3h0M439.5 164.9h0M441.1 157.7h0M447.5 166.9h0M430 168.9h0M436 190.3h0M440.3 191.6h0M436.6 169.1h0M440.3 180.5h0M448.8 187.2h0M434 183.4h0M435.6 185.1h0M444.4 157.8h0M432.1 165h0M440.1 190.6h0M452.2 178.2h0M443.7 180.1h0M443.8 182.6h0M434.9 179.9h0M438.3 160.4h0M439.2 160.3h0M446.5 180h0M429.9 167.8h0M436.4 171.1h0M430.2 181.7h0M446.6 161.9h0M436.8 169.7h0M437.1 177.1h0M446.9 185.7h0M451.1 180.6h0M449.7 168h0M434.8 188h0M431.3 179.1h0M433.6 175.1h0M437.4 182.8h0M439.3 157.3h0M442.1 170.1h0M443.4 176.9h0M445.9 180.2h0M444.8 188h0M434.4 156.1h0M433 172.7h0M449.4 178.5h0M437.6 156.5h0M435.9 168.2h0M436.9 165.2h0M447 171.3h0M450.5 166.8h0M429.8 167.5h0M449.7 167.1h0M448.5 181.7h0M429.1 171h0M444.1 164.1h0M447.1 159.2h0M450.7 169.2h0M431.3 168h0M428 175.9h0M442.5 174.7h0M430.2 178.8h0M447.7 184.5h0M441.1 173.8h0M440.8 169.9h0M441.5 190.2h0M435.3 171h0M437.5 189.2h0M432.4 170.3h0M445.9 168.5h0M449.3 174.9h0M428.5 167.4h0M429.3 171.1h0M436.2 166.4h0M446.2 185h0M450.6 174.9h0M440 177.1h0M440.8 176.6h0M444.1 192.5h0M434 177.9h0M430.8 169h0M435.5 160.9h0M427.5 168.5h0M450 166h0M438.9 181.5h0M435.5 157.8h0M443 169h0M449.6 165.6h0M439.9 168h0M438.9 193h0M440.4 165.3h0M444 180.7h0M451.4 183h0M429.3 167h0M431.2 175.5h0M449.4 168.1h0M439.7 162.2h0M438.2 165.6h0M430.3 175.2h0M445 166.1h0M449.8 171.7h0M445 158h0M436.8 155.4h0M439.4 189.9h0M428 179.3h0M430.1 173.9h0M434.6 163.5h0M437.2 181.6h0M442.6 157.2h0M432.8 173.2h0M446.2 188.7h0M434.2 179.6h0M444 190.7h0M431.5 173.1h0M448.9 182.3h0M447.1 176.2h0M449.1 168.7h0M432.4 167.7h0M444.3 158.1h0M429.6 179.9h0M449.8 180.6h0M435.1 167.8h0M435.4 163.5h0M447.3 164h0M437.3 172.2h0M444.5 166.1h0M447.5 168.5h0M426.1 174.1h0M434.1 163.3h0M445.3 175.5h0M443.4 175.9h0M436.2 171.4h0M438.7 190.9h0M435.1 158.3h0M441.6 177.3h0M445.6 180h0M428.4 168.5h0M435.7 156.6h0M441.8 185.2h0M426.6 174.5h0M441.3 154.9h0M439.8 162.2h0M431.2 180.7h0M436.5 191.7h0M436.7 190.5h0M435.4 188.9h0M426.3 176.4h0M441.1 157.6h0M444.4 173.7h0M431.9 175.1h0M437.8 153.1h0M445 182.9h0M436 179.2h0M442.2 153.9h0M445.3 163h0M437.2 178.1h0M439.3 164.1h0M442.3 159.5h0M444.9 189.5h0M446.1 179.6h0M446 190.6h0M431.7 183.1h0M430.4 172h0M435.1 179h0M443.5 190.8h0M444.9 166.7h0M446.3 177.5h0M442.6 180.5h0M431.6 173h0M441.3 165.6h0M447.6 167.4h0M440.5 177.1h0M451.7 176h0M445.3 186.5h0M428.4 176.9h0M447 163.9h0M449.3 185.9h0M435.8 177.1h0M438.3 192.1h0M440.7 155.3h0M440.1 152.7h0M429 172.7h0M438.3 154.7h0M434.5 164.2h0M433.2 171.2h0M432 183.1h0M448.2 188.1h0M445.4 162.9h0M439.3 170.2h0M426.8 174.7h0M443.8 185.9h0M447.7 171.8h0M432.6 172.7h0M440.6 170.4h0M434.6 180.4h0M444.5 166.7h0M439.9 167h0M451.6 174h0M450.8 170.8h0M453.1 172.5h0M443.8 167.4h0M433.2 166.5h0M432.6 169.6h0M439.3 188.8h0M446.7 179.3h0M434.8 182h0M441.6 192.1h0M441.6 176.2h0M449.5 176.5h0M427.6 178h0M433.9 178.8h0M448.3 166.6h0M433.4 165.7h0M443.6 183.9h0M446.6 184.1h0M448.8 182.5h0M437.9 169.5h0M449 169.1h0M439.9 191.9h0M439.6 163.3h0M436.5 179.7h0M450.8 175.1h0M438.1 174.2h0M451 167.5h0M443.3 187.2h0M451.2 181.5h0M448.2 186.6h0M447.6 177.8h0M428 174.6h0M436.2 164.3h0M436.3 155.9h0M442.8 165.5h0M450.1 183.6h0M452.3 176.3h0M440.4 180.6h0M429.9 172.1h0M439.3 157.4h0M452 176.7h0M446.3 185.9h0M444.7 170.8h0M442.7 156.1h0M435.7 189.7h0M452.6 174.6h0M434.4 166h0M441 157.7h0M438.2 157.5h0M437.9 190.1h0M445.2 183.6h0M437.2 190.5h0M428.5 169h0M430.8 181.1h0M441 181.5h0M444.8 185.3h0M438.9 176.6h0M432.2 173.2h0M440.2 172.3h0M434.6 178.4h0M436.8 168.9h0M426.6 177.3h0M438.5 167.1h0M443.8 190h0M430.4 168.6h0M436.5 167.4h0M429.1 176.1h0M441.4 176.3h0M446.2 189.9h0M436.4 165.5h0M448.9 162.1h0M449.6 182.1h0M448.8 179.3h0M428.5 182.7h0M439.4 159.4h0M441.3 154.4h0M441.2 176.4h0M446.6 186.9h0M440.1 187.8h0M439.8 174.1h0M426.4 173.7h0M441.4 191.3h0M429.5 168.4h0M447.1 159.2h0M446.9 177.2h0M449.6 165.9h0M436.3 154.6h0M439.7 185.5h0M440.1 173.8h0M450.7 185.4h0M445.2 164.8h0M431.3 180.7h0M439.4 177.5h0M449.3 169.6h0M440.5 170.3h0M433.4 174.1h0M443.7 167.5h0M433.8 188.6h0M443.9 164.4h0M430 168.4h0M431.2 178.1h0M435.2 164.4h0M430.8 181.2h0M431.4 180.3h0M440.8 179h0M442.5 179.8h0M446.8 165.7h0M448.8 170.1h0M434.9 179.4h0M435.1 173.2h0M440.6 182.1h0M433.5 180.7h0M432 185.6h0M426.3 177.4h0M434.7 176.1h0M434.2 170.7h0M438.9 183.8h0M436 190.4h0M440.2 190.3h0M443.6 154.4h0M429.6 167.8h0M443 190.8h0M432.8 168h0M443.4 164.6h0M439 191h0M429.3 174.2h0M431.2 185.1h0M431.3 186.9h0M436.9 192.2h0M435.3 173.1h0M436.9 190.4h0M441.7 186.8h0M434 187.6h0M446.1 175.9h0M436.5 172.9h0M435.6 157.8h0M432.2 186.2h0M446.1 183h0M441.1 191.6h0M432.2 178.7h0M435.4 162.2h0M446.6 186.4h0M445.4 185.3h0M430.7 177.9h0M440.4 191h0M436.3 162.6h0M434.1 173.7h0M445.1 171.5h0M436.1 192.1h0M437.6 157.3h0M446.9 160.3h0M436.2 178h0M443.7 157.7h0M442.9 177.4h0M439.3 170.5h0M440.2 192.5h0M435.5 171.6h0M429.8 168.7h0M429.4 180.4h0M441.7 179.9h0M433.8 188.2h0M441.2 191.9h0M449 169.4h0M439.2 187.4h0M443.3 170.2h0M451.6 170.1h0M433.9 173.3h0M435.2 168.7h0M439.4 154.8h0M442.2 176.9h0M445.5 161.7h0M435.7 178h0M432.9 166.6h0M433.2 173.5h0M443.3 161.7h0M434.1 171.5h0M444.4 167.4h0M427.4 174.1h0M441.6 153.7h0M442.9 155.5h0M442.1 159h0M439.7 171.8h0M436.3 183.9h0M430.9 167.2h0M427.1 170.1h0M437.7 161.3h0M447.4 177.6h0M442.2 178.2h0M430.6 177.6h0M445.2 186.5h0M446.4 165.5h0M446.6 158.2h0M436 169.1h0M444.7 178.6h0M433.4 183.6h0M433.9 180.3h0M428.2 169.4h0M436 164.8h0M439.8 174.1h0M447.5 182.9h0M432.6 168.1h0M430.5 166.5h0M432.5 168.6h0M450.2 183.8h0M446.7 162.8h0M437 164.2h0M441.5 188.6h0M435.8 163.3h0M441.3 183.3h0M435.7 155.7h0M448.2 173.2h0M432.2 173.1h0M438.8 186.8h0M431.8 173.4h0M437.5 156.2h0M437.6 175.9h0M446 190.7h0M436.5 185.3h0M434.6 183.6h0M439.6 161.5h0M441.6 159.2h0M442.2 184.6h0M442.2 187.8h0M435.9 180.5h0M438.1 190.9h0M449.5 176.2h0M448.7 185.6h0M445.2 188.1h0M443.1 168.5h0M435.9 164.6h0M438.4 173.1h0M440 159.7h0M433.8 179.8h0M446.4 169.6h0M438.6 190.5h0M432.1 173.1h0M445.4 165.8h0M438.5 153.4h0M444 159h0M445.1 168.7h0M451.3 181.5h0M432 165.5h0M435.6 160.4h0M438.5 185.5h0M439.9 158.8h0M438.2 158.2h0M445.8 174.7h0M447.3 177.6h0M443.2 177.4h0M446.5 160.9h0M441.6 163.3h0M445.3 162.6h0M433.9 170.1h0M446 182.4h0M445.9 164.9h0M431.6 178.1h0M432 174h0M430.9 166.6h0M446 162.5h0M437.7 179.8h0M449.8 176.6h0M439.3 156.4h0M440 170.5h0M441.6 157.6h0M447.5 180.1h0M439.6 161.9h0M438 152.8h0M434.3 172.6h0M428.5 176.8h0M437.4 154h0M429.6 172.9h0M441.2 164.2h0M436.6 191.1h0M443.1 163.5h0M449.4 169.8h0M439.6 171.7h0M450.6 179.4h0M439.7 176.4h0M435.7 189.8h0M440.9 188.4h0M444.5 180.6h0M444.3 185h0M447.6 181.3h0M434.5 163.1h0M442 188.8h0M439.7 181.6h0M442.8 166.8h0M446.9 189.3h0M436.1 162.3h0M449 179.8h0M449.9 167h0M441.1 166.8h0M440.3 159.9h0M435.8 171.3h0M441.8 161.1h0M442.3 161.2h0M440.8 171.3h0M444.1 156.9h0M436.7 175.9h0M441.2 164.9h0M428.6 178.9h0M440.9 172.2h0M445.3 172h0M447.1 164.2h0M441.4 192.7h0M441.4 157.1h0M433.9 172.4h0M440.9 172.7h0M435.1 182.3h0M439.8 180h0M441.2 191h0M431.4 176.2h0M428.1 170.3h0M441.6 173.9h0M437.8 191.7h0M434.3 179h0M439.3 185.4h0M442.1 194.5h0M443.2 166.8h0M436.9 188.7h0M437.7 192.1h0M429.5 185.8h0M437.8 161.4h0M441.8 154.5h0M440 166.7h0M431.8 171.3h0M437.3 189.4h0M448.7 182.1h0M432.8 170.5h0M451.3 172.7h0M430.6 175h0M444.7 180.5h0M431.5 183.5h0M441.1 182.1h0M448.7 189h0M443.3 169.1h0M440 157.3h0M445.5 174.9h0M441.3 182.3h0M435.7 180.1h0M450.7 168.5h0M441.3 185.9h0M438.2 153.5h0M443.6 180.1h0M444.4 166.6h0M448.7 177.1h0M435.6 162.5h0M434.3 188.1h0M434.6 164.5h0M447.1 168.2h0M452.6 175.8h0M449.5 172.2h0M445.7 174.7h0M439.1 159.9h0M436 168.3h0M435.5 182.6h0M448 187.3h0M444.4 182.9h0M446.8 190.4h0M435.8 165.6h0M428.5 180.6h0M439.7 178.5h0M449.2 176.5h0M440.2 178h0M438.1 168.1h0M445.4 176.8h0M435.6 180.1h0M440.2 156.8h0M445.3 173.1h0M445 160.7h0M448 180.5h0M444.5 177.3h0M444.2 192.1h0M435.3 161.7h0M441.1 191.6h0M448.6 181.4h0M437.7 164.2h0M426.8 175.9h0M436.2 163.9h0M437.2 186.4h0M448 182.7h0M439.8 159.2h0M436.6 183.3h0M447 178.2h0M449.9 175.8h0M437.4 170.1h0M438.8 171.8h0M428.4 170.6h0M432.6 177.9h0M440.5 184.5h0M435 157h0M436 187.2h0M437.2 168.6h0M447.2 176.8h0M429.8 167.3h0M446.3 164.9h0M446.1 159.1h0M443.5 188.4h0M448.3 174.2h0M439.3 187.1h0M445.8 163.2h0M445.9 164.5h0M437.1 155.1h0M429.1 173.4h0M448.3 185.9h0M429.7 175.1h0M434.2 160.6h0M435.8 180.6h0M433.7 184h0M439.1 168.4h0M448.1 187.6h0M448.4 177.8h0M443.5 153.6h0M437.4 178.6h0M433.2 181h0M440.6 180.5h0M449.2 165.5h0M442.7 153.7h0M447.1 187.1h0M444.7 181.2h0M440.7 165.9h0M441.3 156.3h0M445.5 173.3h0M443.2 158.9h0M437 180.5h0M437.9 183.2h0M436.6 184.2h0M442.2 186.1h0M427.7 171.4h0M437.4 159.2h0M443.5 182.2h0M441.9 163.2h0M430.2 167.2h0M437.3 178.6h0M431.7 179.5h0M437.2 167.1h0M446.4 176.1h0M442.8 163.5h0M451.3 179.7h0M443 184.3h0M443.8 190.1h0M437 186.2h0M450.7 174.2h0M436.9 173.1h0M451.6 179.7h0M427.7 177.2h0M432.4 187.9h0M447.1 171.7h0M430.4 166.5h0M433.9 181.8h0M446.7 183.1h0M444 183.6h0M449.8 180.5h0M447.1 179.2h0M433.7 176h0M434.6 186.3h0M431.9 185.3h0M452.1 172.7h0M443.8 180.2h0M437.8 187.6h0M450 172h0M445.1 167.7h0M430 168.7h0M437.7 186.7h0M444.5 173.2h0M450.3 177.1h0M445.9 162.4h0M434.3 189.6h0M432.2 183.5h0M442.5 165.9h0M446 161.6h0M441.6 158.6h0M443.1 176.1h0M436.1 180.8h0M446.8 164.6h0M446.5 160.8h0M442.3 167.2h0M440.4 167.5h0M441.8 183.5h0M444.9 170.3h0M428.8 167.9h0M450.9 179.4h0M449.5 179.3h0M428.1 178.4h0M446.7 173h0M445 171.9h0M429.3 166.8h0M437.1 160.1h0M430.6 170.4h0M447.9 173.3h0M436.9 176.6h0M443 177.9h0M431.8 173.6h0M445.9 159.2h0M448.6 176.4h0M436.9 186.8h0M429.6 168.8h0M443.6 166.4h0M434.1 170.4h0M450.2 171.6h0M441.7 174.9h0M451.6 173.8h0M447.3 184.1h0M438.7 169.7h0M438.4 156.8h0M436.6 158.2h0M432.2 165h0M445.7 178.4h0M442.8 191.9h0M441.6 191.4h0M428.9 169.7h0M432.8 166.6h0M447.2 183.1h0M447.5 159.7h0M434.9 179.2h0M438.9 186.2h0M436.7 190.9h0M431.4 179.9h0M435.7 189.6h0M442.2 179.4h0M441.1 176.7h0M430.6 181.1h0M445.9 158.8h0M446.9 179.4h0M433.5 179.9h0M444.7 173.5h0M444.3 185.7h0M451.2 172.3h0M439.9 171.7h0M449.4 181.3h0M441.1 190h0M443.1 163.6h0M449.8 182.9h0M435.9 187.9h0M434.5 188.8h0M452.1 174.4h0M440.4 177.9h0M448.7 166.5h0M436.6 189h0M444.1 183.5h0M431.3 181.2h0M437.7 171.1h0M436.4 191h0M436.3 160h0M452.1 179h0M451.3 171.1h0M442.2 165.8h0M446.4 179.2h0M446.8 160.3h0M427.6 179.3h0M445.5 160.6h0M444 183.7h0M428.3 178.7h0M448.5 182.9h0M439 162.8h0M445.5 188.7h0M431.1 182.2h0M436 168.9h0M445.9 163.6h0M447.8 167.5h0M446.2 170.4h0M450 185.9h0M448.5 178.8h0M431.4 164.5h0M436.2 159.6h0M435.9 178.3h0M431.4 184.1h0M446.7 185.4h0M441.4 165.1h0M446.6 179.1h0M444.4 176.1h0M436.2 175h0M432.4 176.9h0M448.5 173.1h0M441.2 179.5h0M446.9 161.9h0M446 176.7h0M439 192.8h0M444.7 177.8h0M435 158.2h0M430.1 173.3h0M451.1 175.7h0M430 165.1h0M434.3 188.3h0M436.5 179.6h0M435 186.9h0M445.4 171.6h0M449 176.5h0M440.4 173.2h0M426.7 177.2h0M442.3 163.5h0M434.1 169.4h0M434.1 162.8h0M434.3 164.6h0M436.5 189.4h0M428.6 172.8h0M439.2 192.3h0M438.1 183.4h0M438.3 192.6h0M442.8 178.1h0M444.8 163.2h0M437.8 161.3h0M447.6 165.7h0M437.8 179.6h0M446.9 173.9h0M449.9 174.4h0M429.2 174.7h0M452 175.7h0M437.6 156.6h0M436.1 159.5h0M438 171.6h0M450.8 168.8h0M435.1 183.2h0M437.6 155.2h0M435.2 175.4h0M441.8 166.5h0M436.6 166h0M443.8 189.6h0M437.2 172.5h0M437.5 172.9h0M449.1 167h0M446.6 162.9h0M438.5 155h0M449.5 166.9h0M442.6 175.8h0M439.4 162.1h0M448.2 172.1h0M439.9 176.2h0M448.6 181h0M448.4 192.4h0M448.1 198.9h0M448.4 196.2h0M448.3 197.2h0M448.8 191.9h0M448.7 190h0M448.5 201.6h0M448.3 198.4h0M447.5 202.5h0M448.3 196.2h0M448.6 193.2h0M448.7 190.3h0M447.4 197h0M447.7 200h0M448.6 201.9h0M448.1 194.6h0M448.4 193.2h0M448.3 192.8h0M448.7 202.1h0M447.9 198.6h0M448.3 196.7h0M448.8 201.8h0M448.6 199.5h0M448.2 196.7h0M448.7 199.9h0M448.6 198.4h0M448.2 199.6h0M448.7 194h0M448.7 199h0M448.5 191.7h0M448.8 190.2h0M448.1 196.2h0M448.8 199.7h0M448.4 192.5h0M448.2 201.4h0M448.3 195.8h0M448.9 198.4h0M448.3 201.2h0M448.4 200.2h0M448.3 198.3h0" stroke="#00c19a" stroke-width="0.7" stroke-linecap="round" fill="none" stroke-opacity="1"/>
<path d="M384 206.4h0M385.5 208.8h0M379.9 194.7h0M384.7 213.1h0M379 202h0M380.2 199.1h0M384.7 205.3h0M378.4 197.7h0M378.5 198.1h0M379.1 202.4h0M379.6 198.7h0M381.8 209.4h0M378.2 197.7h0M376.7 200.8h0M385.9 215.2h0M388.4 215.1h0M379.8 198.8h0M385 206.9h0M382 206.8h0M378 204.1h0M387.4 209.4h0M386.7 214.3h0M388.7 216.3h0M387.3 213.8h0M378.4 196.3h0M386.2 215.2h0M380.4 209.2h0M380.5 199.9h0M383.2 201h0M381.1 206.2h0M386.2 210.1h0M380.5 209.9h0M382.5 211.8h0M387.2 210.5h0M381.8 200h0M385.3 208.8h0M382.4 207h0M384.3 211.1h0M379.7 199.8h0M377.8 201.2h0M386.7 206.6h0M385.6 206.2h0M388.9 211.4h0M380.6 198.6h0M383.2 201.7h0M383.2 205.2h0M379 200.3h0M387.5 216.3h0M383.1 202.5h0M379.5 205.6h0M381.4 204h0M385.5 210h0M381.1 206.6h0M380 208.9h0M386.1 212.6h0M382.4 203.8h0M380.6 201.1h0M380.6 207.6h0M382.6 212.4h0M382.1 203h0M381.6 209h0M380.8 205.9h0M377.9 201.8h0M380.1 192.4h0M383.5 207.2h0M388.1 213.9h0M383.6 213h0M388.2 213.9h0M381.6 198.3h0M382.1 207.6h0M385 209.3h0M381.3 208.5h0M379.6 207.8h0M386.1 207.1h0M382.5 211.6h0M382.5 207.4h0M382.6 211.9h0M380.7 204.5h0M378.4 198.2h0M385.2 208.2h0M378.9 207.1h0M380.2 208.2h0M384.4 207.9h0M387.2 214.6h0M378.7 196.8h0M386.6 215h0M387.1 215.3h0M385.5 204.7h0M382.2 199.6h0M380.8 209.4h0M383.5 205.3h0M384.9 206.1h0M382.5 203.9h0M386.9 215.4h0M383.4 207.9h0M383.9 211.4h0M382.2 201h0M381.9 202h0M379 206.6h0M384.6 213.7h0M381.3 206.3h0M380.7 200.3h0M377.6 198h0M379.8 199.8h0M385.4 206.9h0M380.5 202.5h0M386.8 209.4h0M382.3 209.8h0M378.8 197.6h0M379.5 202.4h0M378.9 195.4h0M383.4 203.9h0M378.2 201.4h0M381.5 209h0M383.1 201.5h0M386.7 207.5h0M380 207.3h0M386.2 215.9h0M386 207.6h0M377.3 203.2h0M385.8 211.7h0M387.8 213.5h0M385.8 209.1h0M378 197.9h0M379.8 192.8h0M380.2 203.2h0M380.1 208.2h0M382.2 207.7h0M382.2 212.4h0M382.5 212.4h0M377.6 198h0M383.8 211.3h0M386.7 214.6h0M385.2 215.3h0M387.7 210.8h0M379.7 205.1h0M388.4 212.6h0M379.1 197h0M383.7 205.6h0M381.8 202.6h0M381 204.7h0M378.3 201.6h0M385.5 215.4h0M378.6 204.3h0M378.8 197.2h0M379.3 196.1h0M380.6 207.9h0M384.9 203.5h0M387.8 214.2h0M379.1 195.5h0M382.8 205.4h0M385.8 208.3h0M378.2 193.6h0M384.5 207.2h0M386.5 207.9h0M379 199.7h0M381.1 198.6h0M385.8 209.1h0M380.5 201.2h0M385.1 211.2h0M386 215.5h0M389 215.9h0M386.4 215.8h0M380.3 199.8h0M381.4 202h0M384.6 209.9h0M379.1 202.2h0M378 198h0M379.3 192h0M380.6 202.1h0M387.2 210h0M379.2 200.7h0M379.4 201.9h0M384.6 212.2h0M388.8 214.5h0M383.7 209.9h0M388.2 209.7h0M382.6 211.8h0M389.4 215.1h0M378.4 204h0M381.2 201h0M378.8 207.6h0M377.3 196.6h0M386.1 208.9h0M384.4 212.5h0M379.4 194.5h0M379.8 203.9h0M385.3 204.7h0M387.3 214.3h0M384.3 208.4h0M378.1 201.6h0M380.4 208.6h0M380 199.3h0M377.9 201.7h0M386.5 210.6h0M385 208.7h0M378.2 192.5h0M387 212.8h0M377.9 192.2h0M386.1 206.3h0M379.9 208.6h0M387 213.3h0M382.1 211.1h0M380.6 200.9h0M382.2 208.7h0M378.1 199.4h0M377.3 199.3h0M379.4 203.6h0M379 201.6h0M381.3 203.1h0M379.1 202.9h0M381 200.6h0M387.5 209.4h0M380 204.9h0M385.7 214.2h0M388.3 215.8h0M377.3 198.1h0M383.4 212.7h0M387.5 215.2h0M384.4 212.7h0M379.7 195.7h0M385.7 208.7h0M379.5 201.6h0M381.3 203.4h0M388.4 211.6h0M381.2 210.1h0M386.8 210.4h0M383.7 202.9h0M379.2 197.1h0M378.6 205h0M380.1 196.1h0M379.1 206.2h0M378.7 204.9h0M388.1 209.9h0M383.5 201.8h0M380.2 202.5h0M382.3 199.4h0M384.2 210h0M385.5 209.9h0M384 212.5h0M387 209.7h0M385.1 211h0M382.2 212.5h0M378.4 192.6h0M380.4 199.4h0M379.3 200.2h0M385.4 203.7h0M381.6 209.8h0M379.5 193.7h0M377.2 199.2h0M382.9 205.3h0M383.3 212.4h0M384.8 205.1h0M380.5 208.1h0M384.5 203.7h0M383.6 203.3h0M378.8 206.9h0M377.1 201.4h0M386.7 212.9h0M387.5 210.1h0M384.3 179.8h0M384.5 180.2h0M383.6 192.6h0M382.4 193.1h0" stroke="#00b6eb" stroke-width="0.7" stroke-linecap="round" fill="none" stroke-opacity="1"/>
<path d="M456.3 237.8h0M448.9 222.8h0M442.5 235.3h0M448.3 246.8h0M440.3 234.5h0M449 221.5h0M449.6 245.1h0M453.6 232.8h0M455.9 232.3h0M447.9 241h0M444.7 242.7h0M450.3 221.8h0M442.1 235h0M447.6 213.9h0M446.4 226.6h0M443 237.6h0M446 247h0M449 245.7h0M449.9 246.5h0M455.7 233.2h0M452.8 240h0M451.1 240.5h0M449.2 218.7h0M451.7 228.5h0M451 228.4h0M446.9 232.2h0M451.4 227.6h0M440.9 237.9h0M449.2 248.9h0M446.5 237.1h0M441.3 237.7h0M441.2 235.1h0M452.3 238.6h0M449.3 229.3h0M446.6 231.2h0M445.8 221h0M455.3 243.7h0M451.9 245.4h0M455.9 232.9h0M442.9 233.5h0M445.5 225.4h0M447.7 226.3h0M452.3 222.2h0M446 242h0M446 242.8h0M446.6 237.3h0M448.8 241.5h0M451.4 236.4h0M455.6 230.7h0M452.6 220.5h0M445.5 232.2h0M448.8 214.4h0M456.7 239h0M451 228.3h0M449.4 248h0M455 237.5h0M449.2 241.6h0M453.6 242.6h0M453.3 219.3h0M447.5 218h0M447.6 226.1h0M455.1 240.5h0M443.1 242.6h0M453.5 223.1h0M445.2 230.7h0M447.7 218h0M449.9 244.7h0M449.9 227.4h0M455.5 238.2h0M452.2 246.2h0M449.4 236.7h0M453 244.5h0M447.1 237.9h0M445.9 239.3h0M450.5 221.2h0M450.8 228.8h0M442.4 231.9h0M458.3 233.8h0M448 216.8h0M445.7 229.9h0M451.8 231.7h0M446.8 215.2h0M449 246.5h0M457.2 233.2h0M449.9 218.5h0M454.3 233.3h0M447.7 212.3h0M443.2 237.6h0M449.8 240.9h0M442 237.5h0M454 231.4h0M446.3 223.6h0M443 235h0M455.3 226.4h0M448.3 242.1h0M444.8 231.6h0M450.5 237h0M452.1 218.7h0M445.1 231.8h0M448.9 247.8h0M447.8 222.4h0M445.4 241.2h0M447.3 215.4h0M448.6 217.7h0M449.2 219.3h0M447.6 247.8h0M449.2 239.2h0M446.4 217.6h0M446.8 218.3h0M449.8 237.4h0M445 238.4h0M449.6 242.1h0M446.4 225.6h0M447.4 237.1h0M453 226.4h0M451 228.8h0M452.9 243.5h0M450.3 245.5h0M451.7 222.8h0M452.4 217.3h0M452.3 234h0M448.6 239.9h0M448.8 221.4h0M454.5 237.6h0M448.7 243.9h0M454.5 227.5h0M448.6 244.3h0M450.2 235.4h0M452.1 227.3h0M452.2 219.4h0M455.9 232.8h0M444.7 233.8h0M454 244.3h0M451.4 231.7h0M451.9 219.6h0M450.9 248.7h0M446.6 231.8h0M451.9 234.2h0M446.7 233.7h0M448.3 239.1h0M446.9 228.3h0M451.3 217.2h0M450 245.8h0M453.1 230.1h0M442.3 233.2h0M448 224.5h0M450 216.9h0M453.2 228.1h0M456.2 241.2h0M447 243.2h0M450.4 238.6h0M441.6 234.5h0M453 237.4h0M442 237.5h0M451.6 247.6h0M450.9 243.2h0M446.2 244.7h0M443.5 227.5h0M447.7 222.1h0M447.7 220.2h0M448 214.5h0M445.5 238h0M441.7 232.7h0M447.5 227.7h0M448.8 218.3h0M452.5 234.3h0M444.7 231.6h0M449.6 226.6h0M447.4 247.2h0M453.1 226.4h0M451.1 235.7h0M456.2 228.1h0M454.1 238.6h0M441.6 232.8h0M454.9 238.6h0M455.4 238.2h0M447.3 218.3h0M446.6 243.9h0M450.7 246.1h0M449.7 240.1h0M451.9 235.6h0M445.3 234.5h0M454.2 244.2h0M453.8 231.6h0M454.1 240.4h0M451.1 244.8h0M444.2 225h0M457.3 232.3h0M442.9 242.8h0M446 245.8h0M450.2 236.4h0M445.6 239.9h0M447.5 244.7h0M450.8 227.1h0M449.3 226.3h0M449.5 238.4h0M453.2 228h0M442.4 236.2h0M444.1 242.7h0M450.6 244.6h0M452.8 227.9h0M449.8 246.3h0M456.6 232.4h0M444.7 243.5h0M446.3 234.7h0M447.6 215.1h0M448.5 222.9h0M453.9 240h0M452.2 230.4h0M443.8 228.5h0M454.6 232.3h0M450.1 242.2h0M446.3 243.2h0M448.1 242.3h0M450.3 249.9h0M451.9 236.1h0M446.2 240.8h0M447.9 227.2h0M446.1 224.9h0M451.5 236.4h0M451.7 227h0M442.8 239.9h0M443.8 228.9h0M454.3 242.1h0M450.2 234.9h0M452.5 242.1h0M453.5 243.2h0M445.4 235.9h0M450.3 243.8h0M452.1 236.5h0M454 242.8h0M445.6 222.3h0M455.3 242.3h0M454.6 238.8h0M447.6 242.5h0M453.1 227.3h0M449.3 218.5h0M448.1 214.1h0M451 230.1h0M451.1 236.5h0M449.6 246.6h0M452.3 215.3h0M441.1 232.3h0M448.4 246.3h0M448.3 246.8h0M446.1 218h0M451.9 217.6h0M454.5 232.1h0M448.4 233.7h0M447.2 247.3h0M455.1 236.4h0M445.6 238.2h0M447.2 247h0M447 244.9h0M449.5 233.9h0M453.4 227.7h0M451.2 224.1h0M450.6 220.2h0M442.8 230.9h0M447.9 225.2h0M452.7 216.3h0M449.1 247h0M447.3 239.6h0M447.5 219.5h0M447.5 212.3h0M445.9 222h0M454.5 229.7h0M441.4 237.5h0M449.6 242.4h0M448.5 215.2h0M446.7 226.1h0M450.6 235.3h0M452.7 243.6h0M447.9 226.1h0M454.2 231.8h0M458.4 234.8h0M452.6 223.8h0M453.3 236.8h0M454.8 234.3h0M449.3 230.4h0M456 237.7h0M451 241.9h0M441.4 234.2h0M456.2 233h0M450.7 221.3h0M453.9 233.5h0M449.8 241.6h0M454.9 243.1h0M450.2 229.1h0M449.4 247.7h0M446.9 241.9h0M445.1 220.9h0M445.2 221.1h0M449.3 230.4h0M445 229.3h0M445.7 227.1h0M448 214h0M443.1 237.2h0M444.1 235.9h0M446.4 235.9h0M452 218.5h0M451.2 235h0M452.8 223.4h0M452 215.9h0M454.5 240.4h0M456.2 228.3h0M445.4 242.8h0M447 228.8h0M448.4 225.5h0M443.3 234.2h0M445.4 237.1h0M446.2 238h0M450.8 226.7h0M449.4 225.1h0M451.9 221.2h0M457 236.1h0M452.3 244.9h0M448.5 213.7h0M445.8 223.2h0M450.7 232h0M445.9 234.1h0M443.8 236.8h0M445.9 218.7h0M446.7 219.8h0M454.6 240.8h0M449.2 230.4h0M453.7 231.9h0M453.1 222.2h0M453.7 225.9h0M454.3 240.1h0M444.3 226.6h0M453 232.1h0M453.8 243h0M450.5 234h0M450.9 221.1h0M442.9 230.8h0M453.2 229.5h0M450.7 226.7h0M456.4 229.3h0M455.7 227.4h0M448.3 236.8h0M444.1 227.1h0M448.7 234h0M447.7 217.5h0M455.1 232.1h0M446.4 226.7h0M445.6 220.4h0M452.8 218.3h0M454.3 239.7h0M448.2 236.9h0M445.6 239h0M447.1 238.3h0M442.7 227.9h0M443.5 225.2h0M443.6 238.3h0M456.6 237.7h0M442.8 235.4h0M448.1 222.1h0M442.6 230.9h0M451.7 218.4h0M447.2 232.3h0M449.3 227.5h0M448.6 222.1h0M447.2 241.9h0M454.4 233.9h0M448.6 233h0M451.5 242.9h0M447.6 225.7h0M454.8 243.6h0M451.1 245.1h0M455 229.1h0M446.1 234h0M447.3 218.1h0M455.7 242.5h0M441.2 238.5h0M448.3 246.3h0M457.3 236.6h0M452.2 218.9h0M452 247.7h0M450.9 247.3h0M446.7 220.1h0M446 236.5h0M449.4 246.5h0M452.3 246.7h0M451.8 217.9h0M454.7 243.8h0M450.2 224.7h0M452.7 219h0M451.9 222.1h0M447.1 247.7h0M446.8 241.9h0M442 237.8h0M448.3 235.7h0M453.7 239.1h0M448.7 227.1h0M448.1 232.2h0M454.9 233h0M443.3 237h0M446.3 229.4h0M457.8 230.5h0M449.3 225.4h0M451 235.2h0M449.2 243.7h0M446.7 213.8h0M453 240h0M447.8 236.6h0M452.4 235h0M448.6 217.7h0M446.5 226.4h0M455.6 239.7h0M449.7 222h0M446.9 223.1h0M448.1 215.5h0M452.5 219.1h0M456.9 236h0M448.2 221.5h0M448.4 241.1h0M456.5 233.7h0M452.5 222.5h0M445.7 239.5h0M447.7 213h0M452.2 230.4h0M452.4 241.3h0M449.8 242h0M450.4 249.2h0M451.5 222.5h0M445.7 245.5h0M445.5 242h0M456.3 238.9h0M445.9 235h0M456.5 238.9h0M450.4 237.1h0M455.4 241.3h0M445.9 243.8h0M444.6 240.7h0M446.6 216.6h0M451.3 224.8h0M446.5 223.8h0M443.4 228.7h0M442.2 238.2h0M445.2 232.3h0M450 216.6h0M456.7 228.6h0M449.4 237h0M441.9 237.6h0M440.7 235.4h0M452.9 218.9h0M448 220.8h0M452.8 239.2h0M444.8 242.2h0M445.4 240.5h0M451.6 221.6h0M446 240.8h0M450.4 245.8h0M450.2 241h0M444.1 241.8h0M446.2 223.9h0M454.3 233h0M447.7 223.9h0M446.2 245.4h0M451.3 241.2h0M449.2 237.3h0M454.5 234.7h0M449.2 247.8h0M443.4 237.9h0M455.6 227.8h0M445.2 232.6h0M449.6 240.7h0M456.4 236.3h0M450 240.7h0M456.5 230.4h0M446.6 217.6h0M452.5 238.1h0M443 239.8h0M450.2 237.3h0M456 228.7h0M457.6 233h0M444.8 225.2h0M452.3 231.8h0M457.5 234.1h0M449.9 228.2h0M456.5 230.8h0M447.2 218h0M445.9 241.2h0M443.8 244.3h0M450.5 243.9h0M452.4 219.7h0M455 225.7h0M448.1 222.2h0M446.6 214.6h0M450.9 224.5h0M443.7 226.1h0M451.1 229.9h0M442.4 236.8h0M444.2 242.5h0M448.2 224.5h0M443.2 242.5h0M449.5 234.6h0M444.6 234.1h0M445.5 246.1h0M446.2 227.4h0M455.2 233.7h0M446.5 231.9h0M453 244.7h0M448 222.2h0M454.3 234.3h0M448.6 213.6h0M450 229.5h0M443.3 239.6h0M445.6 228.1h0M448 218.4h0M451.7 241.5h0M447.5 219.1h0M446.3 217.4h0M455.6 229.4h0M447.3 227.2h0M456.5 239.3h0M449.7 243.5h0M449.9 216.6h0M451.7 240.9h0M450.1 229.8h0M445.6 225.7h0M446.3 236.6h0M454.4 230.5h0M456.6 239.9h0M453.2 225.9h0M450.6 233.5h0M442.5 241.7h0M445.4 227.4h0M444.6 236.5h0M444.2 232.9h0M448.3 233.8h0M456.3 229.3h0M451.7 233.6h0M444 244h0M450 244h0M456.8 233.8h0M446.3 229.5h0M441.9 234.7h0M452.4 232.3h0M457 236.9h0M444.7 237.1h0M449.3 219.1h0M448.2 240.2h0M451.9 234h0M455.8 230h0M449.3 237.9h0M441.3 232.8h0M450.3 223.4h0M455.3 235.6h0M446.9 240.6h0M451.2 217.7h0M445.2 221.9h0M446.3 233.2h0M451 241.1h0M455.4 232.5h0M443.2 229.8h0M446.3 244.3h0M455 241.9h0M442.8 231.1h0M447.5 225.9h0M448 248.5h0M450 218.8h0M453.1 235.7h0M454.7 228.5h0M455.3 242.6h0M456.1 241.3h0M457.3 235.8h0M445.3 241h0M450.4 246.6h0M446.5 217.7h0M445.6 226.7h0M450.5 230.7h0M452.6 224.7h0M453.1 232.6h0M452.3 236.8h0M442.6 240.6h0M447.9 222.7h0M453.6 227.2h0M446.8 224h0M446.3 246.4h0M448 242h0M442 239.3h0M450.3 230.5h0M447 216.4h0M448 243.6h0M445.7 221.7h0M457.2 230.4h0M448 244.8h0M447.4 233.2h0M445.4 235.5h0M448 234.7h0M454.6 233.8h0M449.3 217.6h0M443.6 227.5h0M445.5 238.9h0M448.6 233.6h0M446.8 241.4h0M449.8 244.1h0M448.8 244.2h0M447.7 235.5h0M457.1 231.4h0M449.7 248.4h0M442.2 230.1h0M448.5 240.7h0M447.4 217.3h0M455.1 231.1h0M451.7 242h0M442.7 240.3h0M446.3 235h0M446.6 220.2h0M449.4 242.6h0M444.3 238.8h0M442 233.8h0M452.1 217.7h0M445.9 231.7h0M453.8 245.5h0M448.7 246.8h0M448.1 229.5h0M451.8 224.2h0M447.1 226.7h0M450.3 216.7h0M442.1 235.5h0M449.2 227.4h0M447.4 230.2h0M443.7 230.7h0M448.3 248.6h0M447.2 247h0M449.4 237.8h0M456.2 228.7h0M455.6 235.3h0M440.9 235.7h0M449.6 249.7h0M446.4 245.7h0M451.4 222.7h0M450.6 235h0M448.1 215h0M445.2 232h0M443.7 227.8h0M456.6 227h0M453.7 224.5h0M454.7 235.9h0M453 220h0M446.2 247h0M445.9 226.2h0M451 237.7h0M451.8 232.1h0M447 243.9h0M453.1 241.7h0M458 234.6h0M448.7 244.6h0M443.1 233.9h0M443.6 225.6h0M456.8 237.2h0M452.4 232.4h0M444.8 226.4h0M449.7 221.1h0M448.7 224.3h0M457 235.9h0M454.4 228h0M441.9 235.1h0M444.6 241.2h0M454.8 224.6h0M443.3 242.9h0M449.4 220.4h0M447.3 217.3h0M449.5 217.4h0M443.2 228.8h0M452.3 247.4h0M445.4 219.4h0M451.8 240.8h0M445.8 235.8h0M444.1 240.7h0M452.3 246h0M453 232.4h0M454.2 242.3h0M452.7 219.2h0M447.4 228.4h0M443 235.2h0M452.4 224.2h0M445.8 226.5h0M445.8 236.3h0M448.8 239.5h0M454.2 227h0M455.6 228.2h0M455.7 236.1h0M448.3 219.4h0M456 232.5h0M456.5 231.5h0M448.5 232.1h0M447 221.8h0M443.9 237.7h0M453 220.3h0M442.8 240.8h0M455.2 229.2h0M454.7 231.3h0M451.4 245.4h0M449 231h0M451.9 230.1h0M445.7 227.6h0M444.7 237h0M441.7 236.9h0M455 234.5h0M454.5 242.6h0M448.4 222.3h0M456.9 228.5h0M440.3 233.5h0M449 239.7h0M451.4 229.4h0M454.6 238.6h0M447.7 226.3h0M451 246.8h0M448.6 223.9h0M444.5 229.7h0M446.7 233.5h0M448.2 243.7h0M455.5 231.7h0M456.7 230h0M446.9 233.1h0M456.1 232.1h0M452.5 232.8h0M452.4 228h0M447.9 225.1h0M448.1 223.1h0M452.2 230.6h0M446.7 231.6h0M446.4 229h0M453.8 243.5h0M441.1 233.2h0M445.8 233.6h0M451.9 226.3h0M453.8 244.5h0M445.9 226.1h0M454.4 244.9h0M446 237.3h0M447.8 228.6h0M449.4 225.2h0M445.9 225.2h0M453.6 234.4h0M442.7 237.1h0M449.5 230.4h0M444.7 226.7h0M442.9 229.2h0M455.1 225.4h0M448.9 236.3h0M443.9 235.5h0M454.9 237.7h0M441 238h0M453.8 223.2h0M445.2 237.3h0M454.9 234.5h0M444.2 232.9h0M452.3 241.9h0M453.4 236.9h0M446.2 246.8h0M452.7 228.5h0M444.6 238.3h0M453.3 234.5h0M446.3 223.4h0M457.1 229.5h0M450.3 230.1h0M446.7 248h0M441.6 239h0M447 243.4h0M447 221.5h0M449.8 217.1h0M442.8 240.5h0M450.7 236.7h0M451.7 219.1h0M450.6 232.8h0M453.7 226.8h0M448.2 213.7h0M447.3 247.1h0M448.5 222h0M448.3 243.7h0M446 221.1h0M454.3 229.9h0M447.5 233h0M450.9 224.8h0M448.1 222.3h0M452.6 221.1h0M457.1 232.6h0M443.1 228.8h0M446.1 225.9h0M448.5 237.6h0M449.9 230.8h0M452.2 231.3h0M449.5 233h0M448.9 217.5h0M443 233h0M455.2 237.3h0M441.7 232.5h0M441.2 233.9h0M456.7 230.6h0M447.4 237h0M443.4 227.6h0M446.8 215.8h0M451 236.5h0M451.9 245.4h0M446.4 236.6h0M441.9 250.4h0M439.4 252.3h0M440.8 250.4h0M438.8 252.4h0M438.9 253.5h0M442 250.1h0M443.6 248h0M438.5 252.6h0M444.4 248.4h0M442.1 250.6h0M444.4 248.5h0M440 252.3h0M439.9 251.9h0M442 249.8h0M439.2 252.6h0M441.5 251.3h0M441.2 250.8h0M440.9 251.6h0M439.4 252.2h0M442.4 250h0M440.6 251.6h0M442.2 249.4h0M440.7 251.3h0M441.4 250.1h0M440.5 251.6h0" stroke="#53b400" stroke-width="0.7" stroke-linecap="round" fill="none" stroke-opacity="1"/>
<path d="M438 258.5h0M437.6 257.5h0M437.9 260.5h0M436.4 264.5h0M438.1 261.1h0M437.6 258.4h0M438 266.4h0M437.3 255.2h0M437.3 258.8h0M438 254.8h0M437 257.6h0M438 261.9h0M437.5 261.8h0M437.4 258.8h0M435.7 255.8h0M436.5 259.9h0M437.4 255.2h0M437.4 258.1h0M437.6 256.8h0M436.8 262.1h0M437.1 261.5h0M436.7 257.7h0M437.1 255.5h0M437.8 254.3h0M437.5 251.9h0M437.8 258.5h0M438.1 264.5h0M436.8 258.4h0M436.4 257h0M437.4 258.5h0M437.9 259.9h0M438 256.3h0M437.4 255.2h0M437.2 250.1h0M437.2 258.5h0M437 257.1h0M436.1 256.4h0M436.9 259h0M437.6 257h0M437.2 259.4h0M436.7 261.4h0M438.7 259.5h0M437 259h0M438.1 262.1h0M436.4 259.3h0M436.8 257h0M437.5 259.9h0M437.1 255.8h0M437.2 255.2h0M438.5 253.6h0M437.7 258.6h0M437.3 255.2h0M437 257.3h0M436.9 257.6h0M437.4 257h0M437.6 260.5h0M436.9 260.5h0M437.3 256.6h0M437.6 261.6h0M437.1 252.8h0M437.8 261.3h0M436.5 257.9h0M437.6 251.2h0M437.8 260.4h0M437.9 262.7h0M436.6 261.1h0M438.9 251.5h0M437 260.3h0M436.8 252.8h0M437.5 258.7h0M436.8 259h0M437.9 261.2h0M437.6 254.5h0M437.1 251.4h0M436.5 258.7h0M437.7 258.1h0M437.3 252.3h0M436.4 254.7h0M436.9 256.4h0M438.8 261.2h0M436.5 256.2h0M436.9 256.4h0M436.9 252h0M438.1 260.2h0M437.7 258.5h0M437.6 257.1h0M435.9 258.5h0M437.3 254.2h0M435.7 261.5h0M436.5 257.5h0M436.8 263.2h0M436.2 261.3h0M435.5 260.9h0M436.9 251.3h0M437.3 257.9h0M436.1 259.2h0M437.2 259.5h0M436.3 255.8h0M436.6 258.5h0M436.9 255.1h0M438.2 256.5h0M438 260.6h0M436.7 252.6h0M437.4 260.1h0M438.1 259.3h0M437.6 256.2h0M436.7 267.8h0M438.1 254.1h0M437.5 259.5h0M436 257.2h0" stroke="#c49a00" stroke-width="0.7" stroke-linecap="round" fill="none" stroke-opacity="1"/>
<path d="M490.6 217.8h0M487 227.6h0M490.2 216.9h0M489.6 227h0M491.1 219.5h0M490.5 221.5h0M489.5 223.7h0M490.8 218.3h0M490 227h0M491 225.1h0M488.7 226.2h0M491.6 220.9h0M489.7 227.8h0M491.3 218.2h0M491.4 224.9h0M488.1 226.5h0M488.6 227.3h0M490.1 218.6h0M488.7 226.5h0M490.8 222.8h0M490.3 226.5h0M487.4 228.4h0M490.1 224.1h0M489.7 226.1h0M491.3 224.5h0M489.9 222.4h0M487.2 228.5h0M489.5 227h0M491.7 222.8h0M491.4 224.2h0M489.8 222.6h0M489.7 224.8h0M491.6 222.1h0M490.5 221.2h0M486.4 228.1h0M491.4 219.3h0M490.4 219.9h0M491.6 222.3h0M490.5 219.1h0M491.8 223.4h0M490.1 222.5h0M490.3 222.4h0M491 227.3h0M490.6 222.8h0M490.5 217.8h0M490.7 220.6h0M487.9 228.1h0M491.1 220.4h0M491.5 221.1h0M490.8 221.7h0M488.2 228.6h0M489.9 221.9h0M491.3 220.5h0M488 227.2h0M488.4 226.7h0M489.5 223.3h0M489.6 225.8h0M490.2 219.1h0M489.8 225.4h0M490.5 224.9h0M490.3 224.6h0M490.7 222.9h0M491.8 223.6h0M488.6 225.7h0M487.1 228.3h0M488.2 227h0M491.3 225.8h0M492.4 221.5h0M487.9 227.3h0M489.9 222.4h0M491.5 223.1h0M490.4 218h0M491.3 218.1h0M491.3 218.8h0M489.8 227.8h0M488.3 227.4h0M489.2 224.1h0M488.8 227.9h0M489.8 226.4h0M490.1 221.6h0M488.7 227.6h0M490.7 226.2h0M490.1 223.9h0M490.3 222.1h0M489.7 227.4h0M491.1 218.3h0M490.2 216.8h0M489.1 228.6h0M488.5 228.1h0M491.6 221.1h0" stroke="#a58aff" stroke-width="0.7" stroke-linecap="round" fill="none" stroke-opacity="1"/>
<path d="M488.9 215h0M489.2 215.3h0M489.6 213.6h0M491.1 213.1h0M490 212.8h0M490 214.5h0M490.7 211.5h0M490.1 214.7h0M490.4 213.3h0M490.1 216h0M490.2 216.2h0M489.6 213.4h0" stroke="#fb61d7" stroke-width="0.7" stroke-linecap="round" fill="none" stroke-opacity="1"/>
<path d="M460.7 210.2h0M453.7 207.1h0M461.2 210.7h0M459.3 209.7h0M453.2 207.7h0M457.3 209.1h0M456.9 208.5h0M458.6 209.2h0M456.7 208.2h0M461.6 211h0M457 208h0M453.2 207.1h0M455.5 207.6h0M455.3 207h0M453.9 207.4h0M453.5 207h0M460.4 210.1h0M453.5 206.8h0M453.7 207h0M453.6 206.7h0M458.7 209.7h0M457 208.9h0M407.6 239.8h0M407.7 240.3h0M407.7 239.6h0M407.5 240h0M407.6 239.6h0M408.1 240h0M408 239.4h0M408 239.8h0M453.1 214.4h0M453 214.4h0M453.2 214.6h0" stroke="#f8766d" stroke-width="0.7" stroke-linecap="round" fill="none" stroke-opacity="1"/>
<path d="M420.8 217.3h0M419.9 216.9h0M419.4 216.4h0M420 215.9h0M420.6 218h0M419 217.8h0M420.3 217.7h0M420.1 218.1h0M419.4 216.6h0M420.1 217h0M457.9 156h0M458.6 155.6h0M458.4 156h0M457.7 155.5h0M456.5 207.5h0M456.2 207.2h0M457.4 208.1h0M456.2 208.1h0M458 207.9h0" stroke="#00c0c8" stroke-width="0.7" stroke-linecap="round" fill="none" stroke-opacity="1"/>
<path d="M423.1 220.6h0M423 220.4h0M422.7 220.7h0" stroke="#53b400" stroke-width="0.7" stroke-linecap="round" fill="none" stroke-opacity="1"/>
<line x1="568.5" y1="133" x2="568.5" y2="276.4" stroke="#444" stroke-width="0.6"/>
<line x1="568.3" y1="276.2" x2="639.6" y2="276.2" stroke="#444" stroke-width="0.6"/>
<circle cx="501.5" cy="146.2" r="3.4" fill="#d659c4"/>
<text x="535.2" y="147.8" font-size="6.7" text-anchor="middle" fill="#d048b8">smooth muscle cell</text>
<line x1="567.1" y1="145.2" x2="568.5" y2="145.2" stroke="#444" stroke-width="0.4"/>
<circle cx="501.5" cy="164.9" r="3.4" fill="#7a95d9"/>
<text x="535.2" y="167.1" font-size="6.7" text-anchor="middle" fill="#6f8fd8">myofibroblast cell</text>
<line x1="567.1" y1="165" x2="568.5" y2="165" stroke="#444" stroke-width="0.4"/>
<circle cx="501.5" cy="185.2" r="3.4" fill="#4ccfd2"/>
<text x="535.2" y="187.4" font-size="6.7" text-anchor="middle" fill="#3cc4c9">leukocyte</text>
<line x1="567.1" y1="184.9" x2="568.5" y2="184.9" stroke="#444" stroke-width="0.4"/>
<circle cx="501.5" cy="206" r="3.4" fill="#4ccfd2"/>
<text x="535.2" y="207.7" font-size="6.7" text-anchor="middle" fill="#3cc4c9">fibroblast</text>
<line x1="567.1" y1="204.8" x2="568.5" y2="204.8" stroke="#444" stroke-width="0.4"/>
<circle cx="501.5" cy="224.2" r="3.4" fill="#1fb51f"/>
<text x="535.2" y="226.6" font-size="6.7" text-anchor="middle" fill="#1fae1f">endothelial cell</text>
<line x1="567.1" y1="224.6" x2="568.5" y2="224.6" stroke="#444" stroke-width="0.4"/>
<circle cx="501.5" cy="245.4" r="3.4" fill="#b89a1e"/>
<text x="535.2" y="247.6" font-size="6.7" text-anchor="middle" fill="#b2961e">endocardial cell</text>
<line x1="567.1" y1="244.4" x2="568.5" y2="244.4" stroke="#444" stroke-width="0.4"/>
<circle cx="501.5" cy="264.7" r="3.4" fill="#fa7a70"/>
<text x="535.2" y="266.9" font-size="6.7" text-anchor="middle" fill="#f8766d">cardiac muscle cell</text>
<line x1="567.1" y1="264.3" x2="568.5" y2="264.3" stroke="#444" stroke-width="0.4"/>
<circle cx="572.1" cy="145.2" r="0.42" fill="#d3d3d3"/>
<circle cx="579.1" cy="145.2" r="0.42" fill="#d3d3d3"/>
<circle cx="586.1" cy="145.2" r="0.42" fill="#d3d3d3"/>
<circle cx="593.1" cy="145.2" r="1" fill="#d3d3d3"/>
<circle cx="600.1" cy="145.2" r="0.42" fill="#d3d3d3"/>
<circle cx="607.1" cy="145.2" r="1.7" fill="#d3d3d3"/>
<circle cx="614.1" cy="145.2" r="0.42" fill="#d3d3d3"/>
<circle cx="621.1" cy="145.2" r="3.6" fill="#d27160"/>
<circle cx="628.1" cy="145.2" r="0.42" fill="#d3d3d3"/>
<circle cx="635.1" cy="145.2" r="0.42" fill="#d3d3d3"/>
<circle cx="572.1" cy="165" r="0.42" fill="#d3d3d3"/>
<circle cx="579.1" cy="165" r="0.42" fill="#d3d3d3"/>
<circle cx="586.1" cy="165" r="0.5" fill="#d3d3d3"/>
<circle cx="593.1" cy="165" r="1.4" fill="#d3d3d3"/>
<circle cx="600.1" cy="165" r="0.8" fill="#d39f96"/>
<circle cx="607.1" cy="165" r="0.42" fill="#d3d3d3"/>
<circle cx="614.1" cy="165" r="0.42" fill="#d3d3d3"/>
<circle cx="621.1" cy="165" r="3.5" fill="#d27160"/>
<circle cx="628.1" cy="165" r="0.42" fill="#d3d3d3"/>
<circle cx="635.1" cy="165" r="0.42" fill="#d3d3d3"/>
<circle cx="572.1" cy="184.9" r="0.42" fill="#d3d3d3"/>
<circle cx="579.1" cy="184.9" r="0.42" fill="#d3d3d3"/>
<circle cx="586.1" cy="184.9" r="2.8" fill="#d3b9b4"/>
<circle cx="593.1" cy="184.9" r="1" fill="#d3d3d3"/>
<circle cx="600.1" cy="184.9" r="0.42" fill="#d3d3d3"/>
<circle cx="607.1" cy="184.9" r="2.8" fill="#d3bfbc"/>
<circle cx="614.1" cy="184.9" r="2" fill="#d27160"/>
<circle cx="621.1" cy="184.9" r="0.42" fill="#d3d3d3"/>
<circle cx="628.1" cy="184.9" r="0.42" fill="#d3d3d3"/>
<circle cx="635.1" cy="184.9" r="0.42" fill="#d3d3d3"/>
<circle cx="572.1" cy="204.8" r="0.42" fill="#d3d3d3"/>
<circle cx="579.1" cy="204.8" r="0.42" fill="#d3d3d3"/>
<circle cx="586.1" cy="204.8" r="1" fill="#d3d3d3"/>
<circle cx="593.1" cy="204.8" r="2" fill="#d39f96"/>
<circle cx="600.1" cy="204.8" r="0.5" fill="#d3d3d3"/>
<circle cx="607.1" cy="204.8" r="2.5" fill="#d3d3d3"/>
<circle cx="614.1" cy="204.8" r="1.2" fill="#d3d3d3"/>
<circle cx="621.1" cy="204.8" r="2.2" fill="#d3d3d3"/>
<circle cx="628.1" cy="204.8" r="0.42" fill="#d3d3d3"/>
<circle cx="635.1" cy="204.8" r="0.42" fill="#d3d3d3"/>
<circle cx="572.1" cy="224.6" r="1.2" fill="#d2503a"/>
<circle cx="579.1" cy="224.6" r="0.42" fill="#d3d3d3"/>
<circle cx="586.1" cy="224.6" r="3" fill="#d25742"/>
<circle cx="593.1" cy="224.6" r="1.6" fill="#d25d49"/>
<circle cx="600.1" cy="224.6" r="1" fill="#d25d49"/>
<circle cx="607.1" cy="224.6" r="3" fill="#d26451"/>
<circle cx="614.1" cy="224.6" r="1" fill="#d3d3d3"/>
<circle cx="621.1" cy="224.6" r="0.42" fill="#d3d3d3"/>
<circle cx="628.1" cy="224.6" r="1.7" fill="#d25742"/>
<circle cx="635.1" cy="224.6" r="0.42" fill="#d3d3d3"/>
<circle cx="572.1" cy="244.4" r="1.5" fill="#d25d49"/>
<circle cx="579.1" cy="244.4" r="0.42" fill="#d3d3d3"/>
<circle cx="586.1" cy="244.4" r="2.8" fill="#d3b9b4"/>
<circle cx="593.1" cy="244.4" r="2.1" fill="#d27768"/>
<circle cx="600.1" cy="244.4" r="1.8" fill="#d25d49"/>
<circle cx="607.1" cy="244.4" r="3.2" fill="#d29286"/>
<circle cx="614.1" cy="244.4" r="2.3" fill="#d25d49"/>
<circle cx="621.1" cy="244.4" r="3.4" fill="#d3bfbc"/>
<circle cx="628.1" cy="244.4" r="0.42" fill="#d3d3d3"/>
<circle cx="635.1" cy="244.4" r="0.8" fill="#d2503a"/>
<circle cx="572.1" cy="264.3" r="0.42" fill="#d3d3d3"/>
<circle cx="579.1" cy="264.3" r="0.42" fill="#d3d3d3"/>
<circle cx="586.1" cy="264.3" r="0.5" fill="#d3d3d3"/>
<circle cx="593.1" cy="264.3" r="1.2" fill="#d3d3d3"/>
<circle cx="600.1" cy="264.3" r="0.42" fill="#d3d3d3"/>
<circle cx="607.1" cy="264.3" r="0.42" fill="#d3d3d3"/>
<circle cx="614.1" cy="264.3" r="0.42" fill="#d3d3d3"/>
<circle cx="621.1" cy="264.3" r="1.5" fill="#d3d3d3"/>
<circle cx="628.1" cy="264.3" r="0.42" fill="#d3d3d3"/>
<circle cx="635.1" cy="264.3" r="0.42" fill="#d3d3d3"/>
<line x1="572.1" y1="276.2" x2="572.1" y2="277.6" stroke="#444" stroke-width="0.4"/>
<text x="574.5" y="280.2" font-size="6.9" text-anchor="end" font-style="italic" transform="rotate(-58 574.5 280.2)">Erg</text>
<line x1="579.1" y1="276.2" x2="579.1" y2="277.6" stroke="#444" stroke-width="0.4"/>
<text x="581.5" y="280.2" font-size="6.9" text-anchor="end" font-style="italic" transform="rotate(-58 581.5 280.2)">Etv2</text>
<line x1="586.1" y1="276.2" x2="586.1" y2="277.6" stroke="#444" stroke-width="0.4"/>
<text x="588.5" y="280.2" font-size="6.9" text-anchor="end" font-style="italic" transform="rotate(-58 588.5 280.2)">Fli1</text>
<line x1="593.1" y1="276.2" x2="593.1" y2="277.6" stroke="#444" stroke-width="0.4"/>
<text x="595.5" y="280.2" font-size="6.9" text-anchor="end" font-style="italic" transform="rotate(-58 595.5 280.2)">Foxo1</text>
<line x1="600.1" y1="276.2" x2="600.1" y2="277.6" stroke="#444" stroke-width="0.4"/>
<text x="602.5" y="280.2" font-size="6.9" text-anchor="end" font-style="italic" transform="rotate(-58 602.5 280.2)">Hey1</text>
<line x1="607.1" y1="276.2" x2="607.1" y2="277.6" stroke="#444" stroke-width="0.4"/>
<text x="609.5" y="280.2" font-size="6.9" text-anchor="end" font-style="italic" transform="rotate(-58 609.5 280.2)">Klf2</text>
<line x1="614.1" y1="276.2" x2="614.1" y2="277.6" stroke="#444" stroke-width="0.4"/>
<text x="616.5" y="280.2" font-size="6.9" text-anchor="end" font-style="italic" transform="rotate(-58 616.5 280.2)">Lmo2</text>
<line x1="621.1" y1="276.2" x2="621.1" y2="277.6" stroke="#444" stroke-width="0.4"/>
<text x="623.5" y="280.2" font-size="6.9" text-anchor="end" font-style="italic" transform="rotate(-58 623.5 280.2)">Nr2f2</text>
<line x1="628.1" y1="276.2" x2="628.1" y2="277.6" stroke="#444" stroke-width="0.4"/>
<text x="630.5" y="280.2" font-size="6.9" text-anchor="end" font-style="italic" transform="rotate(-58 630.5 280.2)">Sox17</text>
<line x1="635.1" y1="276.2" x2="635.1" y2="277.6" stroke="#444" stroke-width="0.4"/>
<text x="637.5" y="280.2" font-size="6.9" text-anchor="end" font-style="italic" transform="rotate(-58 637.5 280.2)">Tal1</text>
<text x="644" y="166" font-size="6.7">Average</text>
<text x="644" y="174" font-size="6.7">Expression</text>
<rect x="644" y="175.7" width="4.8" height="23.4" fill="url(#gr)"/>
<text x="649.7" y="179.3" font-size="6.5">max</text>
<text x="649.7" y="200.3" font-size="6.5">min</text>
<text x="642.8" y="235.5" font-size="6.6" text-anchor="middle" transform="rotate(-90 642.8 235.5)">Percent Expressed</text>
<circle cx="648.1" cy="211.6" r="0.3" fill="#000"/>
<text x="652.8" y="213.9" font-size="6.5">0</text>
<circle cx="648.1" cy="218.1" r="1" fill="#000"/>
<text x="652.8" y="220" font-size="6.5">25</text>
<circle cx="648.1" cy="222.8" r="1.7" fill="#000"/>
<text x="652.8" y="225.5" font-size="6.5">50</text>
<circle cx="648.1" cy="228.6" r="2.5" fill="#000"/>
<text x="652.8" y="231.3" font-size="6.5">75</text>
<circle cx="648.1" cy="236" r="3.3" fill="#000"/>
<text x="652.8" y="238.1" font-size="6.5">100</text>
<text x="1.2" y="307.2" font-size="9" font-weight="bold">e</text>
<line x1="19.5" y1="310.3" x2="19.5" y2="412.8" stroke="#444" stroke-width="0.6"/>
<line x1="19.2" y1="412.5" x2="110.6" y2="412.5" stroke="#444" stroke-width="0.6"/>
<line x1="18.2" y1="314.2" x2="19.5" y2="314.2" stroke="#444" stroke-width="0.4"/>
<text x="18.2" y="315.1" font-size="3.0" text-anchor="end">5.0</text>
<line x1="18.2" y1="337.4" x2="19.5" y2="337.4" stroke="#444" stroke-width="0.4"/>
<text x="18.2" y="338.3" font-size="3.0" text-anchor="end">2.5</text>
<line x1="18.2" y1="360.7" x2="19.5" y2="360.7" stroke="#444" stroke-width="0.4"/>
<text x="18.2" y="361.6" font-size="3.0" text-anchor="end">0.0</text>
<line x1="18.2" y1="384.2" x2="19.5" y2="384.2" stroke="#444" stroke-width="0.4"/>
<text x="18.2" y="385.1" font-size="3.0" text-anchor="end">-2.5</text>
<line x1="18.2" y1="407.4" x2="19.5" y2="407.4" stroke="#444" stroke-width="0.4"/>
<text x="18.2" y="408.3" font-size="3.0" text-anchor="end">-5.0</text>
<line x1="46" y1="412.5" x2="46" y2="413.8" stroke="#444" stroke-width="0.4"/>
<text x="46" y="416.6" font-size="3.0" text-anchor="middle">-5</text>
<line x1="72.3" y1="412.5" x2="72.3" y2="413.8" stroke="#444" stroke-width="0.4"/>
<text x="72.3" y="416.6" font-size="3.0" text-anchor="middle">0</text>
<line x1="98.9" y1="412.5" x2="98.9" y2="413.8" stroke="#444" stroke-width="0.4"/>
<text x="98.9" y="416.6" font-size="3.0" text-anchor="middle">5</text>
<text x="74.8" y="311.2" font-size="8.9" text-anchor="middle">Nr2f2</text>
<text x="64" y="421.8" font-size="6.5" text-anchor="middle">UMAP1</text>
<text x="13" y="360.7" font-size="6.5" text-anchor="middle" transform="rotate(-90 13 360.7)">UMAP2</text>
<path d="M69.7 350.7h0M41.6 330.5h0M55.5 330.7h0M45.8 333.7h0M57.8 324.9h0M56.4 331.2h0M61.1 338.4h0M60.8 332.3h0M49 319h0M45.2 325.6h0M45.4 326.8h0M67.6 351h0M46.6 321.6h0M63 342h0M63.8 337.9h0M57.4 323.2h0M54.5 332.7h0M59.1 320.5h0M60.2 327.3h0M61.8 327.6h0M67.2 345.5h0M54.2 321.4h0M46.9 330.9h0M52.2 321.7h0M55.9 328.2h0M56.4 325.7h0M30.5 347.2h0M27.4 347.5h0M31.5 348.8h0M26.5 342.4h0M29.7 342.6h0M27.6 347.7h0M29.6 352.5h0M27.8 346.1h0M26.1 338.4h0M29.5 341.8h0M29.8 346.3h0M80.1 360.2h0M81.4 359.2h0M81.4 351.1h0M78.3 361.5h0M80.6 365.5h0M73.6 344.5h0M74.7 365.6h0M79 353.2h0M75.2 353.4h0M74.2 391.2h0M81.5 378.4h0M83.1 400.2h0M68.8 367.4h0M75.3 378.9h0M77.4 380.3h0M75.1 393.4h0M69.7 373h0M80.7 378.7h0M70.9 379.6h0M69.5 384.9h0M74.2 392.9h0M77.3 380.4h0M87.5 399.2h0M71.8 388.6h0M70 385.9h0M79.9 402.5h0M86.6 403h0M69.3 371h0M88.4 384.3h0M101.1 372.4h0M94.6 397.5h0M89.6 391.6h0M97 365.3h0M99.4 387.4h0M92.8 369.5h0M98.5 373.5h0M101.3 381.3h0M93.9 400.2h0M103.2 356.8h0M89.8 393.6h0M101 364h0M96.3 385.7h0M99.4 366.5h0M91.9 397.3h0M89.1 386.7h0M99.4 367h0M91.4 385.7h0M93.4 387.9h0M99.9 392.1h0M91.3 388.1h0M88.7 386h0M96.3 396.6h0M100.3 356.1h0M94.8 390.8h0M96.4 384.8h0M89.8 384.5h0M88.9 393.5h0M98.7 377h0M100.6 376.4h0M88.6 383.7h0M104.6 357h0M92.4 400.6h0M97.9 363.7h0M96 387.3h0M100.2 359h0M98.2 374.5h0M94.7 380.1h0M89.2 381h0M95.7 385h0M100.5 359.6h0M105.2 357.1h0M102.1 377h0M87.8 384.5h0M99.6 365.3h0M91.9 399.5h0M90.9 373.1h0M102.4 359.5h0M99 361.2h0M95.5 375.8h0M88 386.6h0M94.2 379.4h0M102.1 358.9h0M96.5 372.7h0M94.4 370h0M87.9 381.7h0M99.7 361.1h0M98.2 395.9h0M98.3 391.1h0M94.9 382.5h0M92.6 391.9h0M101.6 387h0M90.8 388.7h0M98.1 361.6h0M99.7 371.3h0M88.5 391h0M100.3 377.9h0M97.8 362.5h0M101.1 387.8h0M91.8 394h0M90.6 399.2h0M95.5 393.5h0M90.8 383h0M89.1 388.4h0M89.8 397.5h0M97.4 358.9h0M101.5 356h0M96.4 387.4h0M102.6 383.4h0M99.3 390.1h0M93.4 370.8h0M101.6 378.3h0M101.8 356.5h0M89.3 393.3h0M95.5 393.6h0M95.9 378.6h0M96 373.5h0M87.5 381.4h0M96.6 392.6h0M89.7 382.9h0M102.1 356.6h0M99.4 371.6h0M98.8 380.2h0M103.1 360.6h0M92.9 389.3h0M87.9 386.1h0M98 362.8h0M90.9 373.1h0M101.9 380.5h0M102.4 360h0M90.9 376.1h0M97.8 376.4h0M89.1 384h0M101 385.5h0M97.4 375.8h0M90.6 398.9h0M101.5 384.5h0M89.9 379.4h0M89.3 388.9h0M93.1 400.3h0M97.7 359.9h0M95.5 367.1h0M96 368h0M96.9 371.1h0M98.3 372.4h0M90.6 395.2h0M100.3 383.1h0M98.9 389.8h0M91.8 393h0M96.2 380.9h0M95.3 373h0M94.5 381.6h0M99.4 393.8h0M95.4 390.4h0M94.8 380h0M98.3 382.4h0M102.2 389.3h0M93.2 384.8h0M92.2 391h0M101.2 386.8h0M99.2 381.8h0M97.1 404.2h0M100.1 375.3h0M99.4 385.3h0M95.4 393.1h0M94.9 396h0M93.3 399.8h0M89.1 389.8h0M91.3 382.5h0M97.2 385.6h0M102.7 387.6h0M97 393.6h0M98.7 384.4h0" stroke="#c9c9c9" stroke-width="0.85" stroke-linecap="round" fill="none" stroke-opacity="0.95"/>
<path d="M48.4 322.8h0M60.9 322.5h0M51.2 320.1h0M67.3 341.6h0M68.1 339.9h0M51.6 325.2h0M52.9 337h0M57.1 342.8h0M63.2 350.4h0M44.1 330.1h0M39.7 332h0M58.1 324.5h0M59.2 324.6h0M48.7 333.4h0M63.7 344.9h0M46.3 331.2h0M59.3 336.7h0M61.7 340.8h0M57.1 337.4h0M52.8 340.1h0M65.4 341.9h0M54.7 329.6h0M66.9 338.4h0M49.6 334.2h0M69.7 350.1h0M50.5 326h0M61.8 345.9h0M54.3 321.8h0M58 341.8h0M66.6 344.9h0M48.1 333.5h0M40.5 326.8h0M62.4 327.5h0M53.3 328h0M54.6 318.5h0M65.1 334.2h0M57 335.4h0M65.8 350.3h0M55 322h0M42.3 327h0M40.5 328h0M51.6 328.2h0M52.4 324.4h0M48.4 327.1h0M50.8 335h0M59.3 336.1h0M42.8 324.6h0M59.4 343.6h0M66.2 337.3h0M40.1 332.7h0M65.6 324.6h0M48.4 323.9h0M47.3 323.8h0M45.5 319.5h0M59.1 334.2h0M51.5 331.9h0M56.8 320.5h0M45.9 328.8h0M60 322.9h0M56.7 316.8h0M44 319.5h0M27.6 346.2h0M28.8 341.2h0M25.1 343.6h0M31.7 343.5h0M28.5 339.3h0M30.7 347.8h0M30.3 352h0M31.7 350.9h0M25.4 344.9h0M27.9 341h0M25 343.2h0M25.8 339.7h0M29.4 344.5h0M26.3 346.9h0M28.3 342.8h0M79.6 355.9h0M75.2 364h0M87.2 359.1h0M78.6 350.5h0M75.7 363.1h0M73.5 352.8h0M79.9 351.5h0M80.3 353.4h0M78.6 353.6h0M77.4 354.1h0M78.3 349.5h0M76.2 397.1h0M70.9 384.7h0M85.9 399.4h0M79.8 399h0M69.5 379.2h0M75.9 381.9h0M83.5 398.9h0M69.3 377.4h0M74.3 384h0M83.1 404h0M73.4 383.1h0M77.7 379.4h0M82.1 400.2h0M80.3 399.1h0M67.5 365.7h0M81.8 394.9h0M83.5 403.2h0M68.5 380.7h0M76.6 382.3h0M73.5 389.5h0M75.6 382.1h0M69.3 373.4h0M72.4 376.4h0M79.4 400.9h0M87.1 398h0M91.5 401.8h0M84.9 402.4h0M82 400.5h0M85.7 398.7h0M82.3 397.7h0M78.4 399h0M83.9 402.1h0M69.5 375h0M69.7 372.2h0M71.4 372.3h0M70.2 370.6h0M69.1 370.8h0M68.2 370.3h0M100.3 381.9h0M98.7 357.5h0M98.2 380.5h0M94.2 369.6h0M92.9 385.2h0M88 390.3h0M92.4 385.5h0M97.3 380.5h0M94 378.7h0M95.8 386.5h0M88.8 396.3h0M96.2 395.5h0M87.4 393h0M101.4 355.7h0M90.5 393.6h0M92.5 399.6h0M87.8 384h0M91.6 397.8h0M96.1 389.4h0M100.3 393.2h0M93 400.7h0M93.8 391.1h0M93.9 395.3h0M101.1 356.9h0M101.1 380.7h0M101.3 353.8h0M100.1 359h0M91.5 378.4h0M91.6 397.3h0M95.9 388.8h0M96.6 389.9h0M97.2 394.2h0M98.7 382.3h0" stroke="#e4bbb0" stroke-width="0.85" stroke-linecap="round" fill="none" stroke-opacity="0.95"/>
<path d="M64.9 333.9h0M54.6 337.8h0M59 335.3h0M60.9 324.1h0M60.8 327.3h0M64 335.6h0M62.2 325h0M43.6 329.6h0M62.6 337.7h0M49.1 331.3h0M58.1 335.1h0M39.5 331.5h0M48.6 328.6h0M58.3 320.3h0M50.3 325.8h0M45.1 325.9h0M53.6 317.7h0M61.6 333.7h0M65.8 345.6h0M59.9 324.9h0M44.3 332.2h0M51.9 324h0M54 324.1h0M63.7 333.6h0M54.2 340h0M47.5 328.4h0M61.8 324.1h0M59.2 345.9h0M43.9 327h0M53.7 317.1h0M60.4 338.7h0M70 350h0M63.5 339.2h0M62.4 324.5h0M66.6 348.3h0M59.8 328.7h0M52.7 321.8h0M63.5 331.8h0M52.9 339.3h0M61.3 321.8h0M53.6 337.8h0M50.8 332.5h0M45.5 326h0M63.4 330.5h0M62 335.2h0M67.3 350.1h0M69.6 352.8h0M56 319.6h0M48 321h0M54.8 320.4h0M44.2 330.3h0M63.1 332.9h0M60.1 327.6h0M68 339.1h0M48.7 332.4h0M52.7 333.3h0M56.5 326h0M46.9 330.1h0M57.6 328.3h0M50.7 333.6h0M47.6 329.5h0M50.6 322.6h0M31 345.6h0M27.8 346h0M27.4 344.1h0M27.2 348.8h0M26 342.3h0M31.5 343.3h0M87.2 363.7h0M78.9 364.4h0M80.4 360h0M72.4 346h0M76.9 356.6h0M88.8 360.9h0M77.4 347.7h0M71.8 350.3h0M77.7 350.9h0M77.2 353.3h0M77.6 352.8h0M76.9 353.6h0M79.7 353.7h0M82.7 356.8h0M79.4 354.7h0M77.5 354h0M76 355.9h0M79.1 354.6h0M89.1 396.9h0M69.9 378.9h0M75.9 377h0M84.4 400.3h0M79.8 381.6h0M88 397.2h0M70 375.7h0M73.7 379.6h0M76.2 377.7h0M68.8 379.1h0M79.5 379.5h0M79.5 395.4h0M74.6 386.6h0M74.6 378.5h0M68.8 373.4h0M80.6 396.9h0M66.6 375.6h0M69.4 370.7h0M71.9 377.6h0M71.9 376.4h0M74.9 380.5h0M86.6 405.1h0M81.7 403.4h0M82.7 402.4h0M86.5 403.2h0M82.8 403.7h0M83.4 400.4h0M81.9 403.7h0M70.1 374.6h0M70.1 372.8h0M70.4 375.5h0M69.6 377.6h0M90.8 389h0M94.2 387.2h0M90.6 398.1h0M90.6 373.3h0M98.1 383.5h0M94.2 383.8h0M95.6 397.6h0M101.7 380.6h0M90.5 373.4h0M99.9 382.3h0M94.3 391.1h0M98 379.6h0M99.7 372.6h0M95.4 395.7h0M98.4 380.5h0M98.9 393.3h0M93.5 389.9h0M101.7 354.6h0M101.7 355.2h0M98.9 357.1h0M99.2 393.8h0M102.2 382.1h0M93 392.4h0M91.4 393.1h0M102.3 385h0M92.4 378h0M95.2 371h0M99.5 360h0M102.8 357.8h0M100.3 358.6h0M87.2 389.3h0M99.5 368.7h0M100.5 356.2h0M98.6 388.6h0M92.7 380.1h0M94.9 381.1h0M90.8 391.5h0M95 383.4h0M96.4 389h0M94.5 375.1h0M91.1 396.8h0M91.9 380.6h0" stroke="#dd917c" stroke-width="0.85" stroke-linecap="round" fill="none" stroke-opacity="0.95"/>
<path d="M48.1 326.4h0M46.7 333.3h0M45.4 321.5h0M54.9 326.8h0M59.2 344.5h0M40.1 331.6h0M57.8 340.6h0M52.3 325.3h0M57.5 322.2h0M56.7 323.5h0M57.4 330.6h0M52 336.4h0M49.9 335.9h0M49.9 327h0M60.8 343.2h0M57.6 341.2h0M53.2 340.5h0M58.8 323h0M63.6 348.1h0M68.1 347h0M46.5 325.4h0M64.9 341.2h0M66.9 346.3h0M57.1 340.9h0M60.3 339.5h0M66 347.6h0M67.2 350.5h0M50.3 336.1h0M57.9 327.3h0M58.3 323.3h0M64.3 348.4h0M60.6 330.2h0M62.8 350.6h0M64.3 341.3h0M69.8 348.2h0M64.1 331.7h0M59.9 323.1h0M61.7 333.3h0M50.5 331.9h0M62.2 348.3h0M57.4 333.8h0M48.5 327.8h0M67.5 350.6h0M57.9 319.1h0M67.2 345.4h0M61 348.3h0M60.5 344.2h0M47.8 322.6h0M53.9 331.7h0M62.3 335.9h0M56.1 319.4h0M63 342.4h0M53.6 340.3h0M59.3 331.7h0M62.5 331.3h0M66 346.1h0M39 331.4h0M56.3 341.2h0M48.1 327.7h0M50 336.5h0M44.5 327.9h0M66.2 333.6h0M46.3 334.1h0M42.6 328.9h0M64.1 334.5h0M68.6 340.7h0M63.2 329h0M46.6 332.9h0M44.4 322.8h0M53.1 323h0M51.4 332.3h0M68.6 349.5h0M41.2 328h0M68.3 353.4h0M60.5 338.1h0M49 335.9h0M67.8 341.8h0M46.3 322.8h0M64.5 342.4h0M61.4 321.1h0M55.6 317.8h0M59.1 343.8h0M61.2 331.4h0M48.5 319.4h0M53.6 324.7h0M50.4 322.6h0M56.9 324.7h0M51.5 326.8h0M50.7 336.6h0M60.7 337.2h0M46 323h0M46.5 331.5h0M61.8 334.4h0M41.4 329.1h0M63.4 350.6h0M53.7 332.9h0M59.8 346.9h0M46.8 327.1h0M61.1 344.1h0M39.2 332.4h0M56.6 326.5h0M46.6 324h0M55.7 339.3h0M61.2 329.4h0M48.9 318.5h0M53.2 324.1h0M67.7 340.6h0M58.9 320.1h0M49.2 329.5h0M60.4 337.3h0M58.8 319.9h0M69.8 346.9h0M59.7 336.2h0M61.1 346.5h0M64.2 333.2h0M59.3 343.9h0M57.7 324.4h0M61.4 324.2h0M65.3 336.7h0M50.5 328.5h0M67.2 349.9h0M57.3 332.8h0M52.4 323.7h0M51 334.1h0M60 320.8h0M57.9 328.7h0M64.4 337.5h0M59 332.9h0M62.7 326.6h0M52.2 331.9h0M53.9 333.5h0M65 351.8h0M67 340.9h0M62.7 348.9h0M67.2 338.8h0M61.9 324.1h0M47.5 329h0M57.4 340.4h0M44.1 329.6h0M62 334.4h0M65.2 334.8h0M58 336.2h0M54.7 326.2h0M56.2 332.4h0M58.7 331.6h0M44.4 330.9h0M46.8 322.7h0M57.9 347.1h0M57.7 332.2h0M47.5 324.5h0M45.4 341.8h0M60.1 326.5h0M43 323h0M56 321.7h0M64 324.2h0M64.5 321.1h0M57.2 320h0M54.1 330.1h0M62.4 331.2h0M51 321.5h0M47.1 324.6h0M29.9 343.8h0M31.9 344.1h0M28.1 341.4h0M31.6 350.9h0M25.4 342.6h0M29.3 345.1h0M25.2 345h0M27.2 347.5h0M29.2 351.3h0M29.1 350.6h0M29.4 349.3h0M27.3 341.8h0M28.3 346.9h0M25.7 340.3h0M27.9 346.6h0M25.4 347.8h0M25.3 341h0M30.4 347.7h0M24.4 344.1h0M31 344.7h0M31.4 345.5h0M26 343.3h0M31.6 344.7h0M31.9 349.3h0M28.6 350.1h0M27.6 344.5h0M30.1 350.2h0M26.3 349.4h0M73.9 348.4h0M83.4 359.2h0M78.2 350.1h0M82.8 358.2h0M82.5 365.8h0M82.6 357.7h0M86.2 371.3h0M74.7 343.8h0M82.6 357h0M76.7 356.5h0M78.5 363h0M75.6 347.8h0M78.4 351.6h0M76.9 361.4h0M77.5 354.8h0M84.1 368.6h0M81.8 354.8h0M82.8 356.1h0M84.4 357.1h0M77.7 345.8h0M79.1 365.4h0M81.6 354.6h0M80.2 361.5h0M71.3 349.5h0M72.1 351.9h0M70.5 348.7h0M77.6 361.3h0M80.6 349.6h0M83 352.9h0M79.2 354.8h0M79.6 351.7h0M84.1 350.9h0M79.3 354.4h0M77.2 352.7h0M80.3 357.3h0M80.8 353h0M81.8 354.7h0M77.2 352.6h0M79.9 352.1h0M79.7 351.3h0M79 355.2h0M80.4 353h0M79 353.1h0M78 353.8h0M79.7 354.9h0M79.6 354.6h0M76.3 355.1h0M75.3 351h0M76.8 353.1h0M78.8 354.1h0M78.7 352.9h0M78.7 353.5h0M73 386.4h0M70.2 382.8h0M74.5 385.4h0M68.6 378.5h0M86.3 405.3h0M69.4 383.7h0M73.9 378h0M85.2 400.7h0M73.6 382.9h0M82.5 403.5h0M74.8 386.8h0M81.4 379.4h0M73.1 390.1h0M81.7 378.7h0M78.1 397.6h0M69.3 367.7h0M77.5 397.4h0M84.6 404h0M76.6 395.9h0M72.3 390.5h0M67.9 365.3h0M73.3 380h0M71.8 379.6h0M85 401.2h0M70.9 380.1h0M71.1 376.6h0M68.7 373.6h0M68.1 367.9h0M85 405.4h0M79.8 380.5h0M74.8 381.9h0M73.2 379.8h0M70.2 379.8h0M73.9 377.8h0M74.9 380.1h0M70.9 376.1h0M72.6 386h0M75.1 378h0M72 374.8h0M79.9 400.1h0M71.5 371h0M87.7 404.9h0M69.7 378.3h0M70.9 387.9h0M79.5 398.1h0M83.6 403.1h0M74 389.4h0M68.5 377.5h0M82.9 396.4h0M67.4 383.6h0M75 385h0M68.6 373.1h0M90.2 400.6h0M79.5 403h0M85.1 402h0M83.4 400.9h0M87.3 405.5h0M84.4 397.8h0M88.6 403h0M86.9 402h0M86.5 397.3h0M83.4 400h0M82.9 405.6h0M84.2 406h0M85.2 402.2h0M83.3 400.8h0M83.7 403.3h0M79.9 404.7h0M79.3 404.3h0M70.9 372.9h0M68 372.8h0M68 376.5h0M70.5 371h0M68.2 373h0M69.7 373.3h0M70.4 372.3h0M90.9 392.8h0M92.1 380.3h0M90 388.5h0M99.8 389.2h0M95.6 383.3h0M102.7 360.4h0M94.7 384h0M91.7 399.7h0M99.1 370.8h0M90.7 397.2h0M100.1 371.2h0M88.6 385h0M99.9 374.3h0M91.9 371.1h0M91.2 392.2h0M93.3 379.8h0M100.5 383.3h0M88.1 397.9h0M89.4 378.2h0M89.2 393.6h0M91.8 389.9h0M98.2 384.7h0M100.8 373h0M101.8 375.3h0M96.4 389.3h0M100 355.7h0M98.9 369.6h0M100 378.7h0M92.5 398h0M98 394.9h0M97.7 390.1h0M94 395.8h0M97.5 393.6h0M98.9 389.4h0M93.7 398.1h0M100.4 363.9h0M93.5 390.4h0M92.3 373.7h0M91.4 381.3h0M88.5 391.1h0M99.2 369.6h0M96.4 379.4h0M92.7 400.4h0M93.5 384h0M100.6 380.9h0M100.1 384.2h0M92.3 373.1h0M99.1 389h0M96.1 370.5h0M91.3 372.5h0M93.8 371h0M101.4 371.1h0M100 380.7h0M91 381.5h0M96.4 389.8h0M94.8 382.8h0M98.3 391.4h0M92.8 389.1h0M96 394.9h0M96.6 389.1h0M97.1 387.3h0" stroke="#d6624a" stroke-width="0.85" stroke-linecap="round" fill="none" stroke-opacity="0.95"/>
<line x1="125.5" y1="310.3" x2="125.5" y2="412.8" stroke="#444" stroke-width="0.6"/>
<line x1="125.2" y1="412.5" x2="219.9" y2="412.5" stroke="#444" stroke-width="0.6"/>
<line x1="124.2" y1="314.2" x2="125.5" y2="314.2" stroke="#444" stroke-width="0.4"/>
<text x="123.9" y="315.1" font-size="3.0" text-anchor="end">5.0</text>
<line x1="124.2" y1="337.4" x2="125.5" y2="337.4" stroke="#444" stroke-width="0.4"/>
<text x="123.9" y="338.3" font-size="3.0" text-anchor="end">2.5</text>
<line x1="124.2" y1="360.7" x2="125.5" y2="360.7" stroke="#444" stroke-width="0.4"/>
<text x="123.9" y="361.6" font-size="3.0" text-anchor="end">0.0</text>
<line x1="124.2" y1="384.2" x2="125.5" y2="384.2" stroke="#444" stroke-width="0.4"/>
<text x="123.9" y="385.1" font-size="3.0" text-anchor="end">-2.5</text>
<line x1="124.2" y1="407.4" x2="125.5" y2="407.4" stroke="#444" stroke-width="0.4"/>
<text x="123.9" y="408.3" font-size="3.0" text-anchor="end">-5.0</text>
<line x1="151.7" y1="412.5" x2="151.7" y2="413.8" stroke="#444" stroke-width="0.4"/>
<text x="151.7" y="416.6" font-size="3.0" text-anchor="middle">-5</text>
<line x1="178" y1="412.5" x2="178" y2="413.8" stroke="#444" stroke-width="0.4"/>
<text x="178" y="416.6" font-size="3.0" text-anchor="middle">0</text>
<line x1="204.6" y1="412.5" x2="204.6" y2="413.8" stroke="#444" stroke-width="0.4"/>
<text x="204.6" y="416.6" font-size="3.0" text-anchor="middle">5</text>
<text x="171.8" y="311.2" font-size="8.9" text-anchor="middle" font-style="italic">Fli1</text>
<text x="169.7" y="421.8" font-size="6.5" text-anchor="middle">UMAP1</text>
<text x="118.7" y="360.7" font-size="6.5" text-anchor="middle" transform="rotate(-90 118.7 360.7)">UMAP2</text>
<path d="M170.6 333.9h0M153.8 326.4h0M166.6 324.1h0M166.6 322.5h0M158 325.3h0M166.5 327.3h0M173 341.6h0M175.4 350.7h0M163.2 322.2h0M162.4 323.5h0M157.3 325.2h0M167.9 325h0M149.8 330.1h0M149.3 329.6h0M154.8 331.3h0M164.5 323h0M152.2 325.4h0M163.8 324.5h0M162.8 340.9h0M164 320.3h0M171.7 347.6h0M172.9 350.5h0M164.9 324.6h0M156 325.8h0M156 336.1h0M163.6 327.3h0M168.5 350.6h0M175.5 348.2h0M165.6 323.1h0M169.4 344.9h0M163.6 319.1h0M159.6 331.7h0M161.8 319.4h0M163.5 324.9h0M172.6 338.4h0M157.6 324h0M156.2 326h0M150.2 327.9h0M167.5 324.1h0M169.8 334.5h0M152.3 332.9h0M149.6 327h0M150.1 322.8h0M158.8 323h0M163.7 341.8h0M153.8 333.5h0M152 322.8h0M150.9 325.6h0M167.1 321.1h0M161.3 317.8h0M154.2 319.4h0M159.3 324.7h0M160.3 318.5h0M165.5 328.7h0M162.6 324.7h0M151.7 323h0M169.2 331.8h0M167 321.8h0M163.1 323.2h0M152.3 324h0M158.9 324.1h0M146.2 328h0M164.6 320.1h0M164.5 319.9h0M158.1 324.4h0M163.4 324.4h0M167.1 324.2h0M171 336.7h0M164.8 320.5h0M158.1 323.7h0M167.5 327.6h0M165.7 320.8h0M148.5 324.6h0M170.1 337.5h0M164.7 332.9h0M160.5 320.4h0M168.4 326.6h0M149.9 330.3h0M168.8 332.9h0M167.6 324.1h0M154.4 332.4h0M159.9 321.4h0M152.6 330.9h0M163.6 347.1h0M154.1 323.9h0M153.2 324.5h0M153 323.8h0M148.7 323h0M156.4 333.6h0M161.7 321.7h0M169.7 324.2h0M162.9 320h0M165.7 322.9h0M162.4 316.8h0M149.7 319.5h0M152.8 324.6h0M133.3 346.2h0M130.9 345h0M133.1 347.5h0M134 346.9h0M135.4 342.6h0M133.6 346.6h0M130.1 344.1h0M136.4 347.8h0M137.4 350.9h0M131.8 338.4h0M137.2 343.3h0M134 342.8h0M185.8 360.2h0M185.3 355.9h0M188.3 357.7h0M186.3 365.5h0M181.3 347.8h0M183.1 347.7h0M185.4 353.7h0M184.4 353.5h0M174.5 367.4h0M179.4 379.6h0M176.8 376.6h0M185.2 395.4h0M190.7 405.4h0M180.5 381.9h0M176.6 376.1h0M177.7 374.8h0M193.2 399.2h0M175.7 385.9h0M180.7 385h0M181.3 382.1h0M192.2 403.2h0M187.7 400.5h0M185.6 404.7h0M189.1 400.4h0M189.6 402.1h0M173.7 376.5h0M173.9 373h0M175 371h0M194.1 384.3h0M208.4 360.4h0M204.2 373.5h0M196.4 397.2h0M203.8 383.5h0M205.1 366.5h0M201.3 397.6h0M193.7 390.3h0M201.1 395.7h0M207.8 377h0M197.6 399.5h0M199.9 379.4h0M203.9 384.7h0M200.1 370h0M200.6 382.5h0M204.6 357.1h0M203.8 361.6h0M198.2 398h0M205.4 371.3h0M201.2 393.5h0M197.1 393.1h0M207.3 378.3h0M201.7 373.5h0M196.6 373.1h0M207.6 380.5h0M199.2 384h0M205.8 384.2h0M206.8 356.9h0M194.8 384h0M206.8 380.7h0M198.8 400.3h0M204.6 389.8h0M207.1 371.1h0M196.8 396.8h0M200.6 396h0M202.9 385.6h0M202.8 387.3h0" stroke="#c9c9c9" stroke-width="0.85" stroke-linecap="round" fill="none" stroke-opacity="0.95"/>
<path d="M151.1 321.5h0M164.7 335.3h0M154.1 322.8h0M163.5 340.6h0M156.9 320.1h0M173.8 339.9h0M155.6 327h0M145.4 332h0M169.3 348.1h0M172.6 346.3h0M150.8 325.9h0M164 323.3h0M173.2 350.6h0M165 336.7h0M165.6 324.9h0M162.8 337.4h0M175.4 350.1h0M174.3 340.7h0M168.9 329h0M159.4 317.1h0M166.1 338.7h0M146.9 328h0M154.7 319h0M173.5 341.8h0M168.1 324.5h0M168.1 327.5h0M151.1 326.8h0M166.4 337.2h0M152.2 331.5h0M152.5 327.1h0M166.8 344.1h0M162.3 326.5h0M166.1 337.3h0M175.5 346.9h0M166.8 346.5h0M169.9 333.2h0M173 350.1h0M160.2 332.7h0M156.5 335h0M165 336.1h0M165.1 343.6h0M159.6 333.5h0M153.2 329h0M171.9 337.3h0M163.7 336.2h0M161.9 332.4h0M151.2 319.5h0M164.8 334.2h0M157.2 331.9h0M162.5 320.5h0M136.7 345.6h0M137.3 350.9h0M135 345.1h0M132.9 347.5h0M134.8 350.6h0M137.2 348.8h0M130.8 343.6h0M132.2 342.4h0M133.3 347.7h0M136 352h0M133.5 346.1h0M133.3 344.5h0M135.5 346.3h0M192.9 363.7h0M188.5 358.2h0M188.2 365.8h0M187.1 351.1h0M188.3 357h0M182.6 361.4h0M188.5 356.1h0M177 349.5h0M180.4 365.6h0M179.2 352.8h0M182.9 353.3h0M183.3 352.8h0M186.5 353h0M186 353.4h0M183.7 353.8h0M185.4 354.9h0M185.1 354.7h0M184.8 354.6h0M194.8 396.9h0M175.6 378.9h0M191.6 399.4h0M189.2 398.9h0M183.8 397.6h0M181 378.9h0M190.3 404h0M182.3 395.9h0M185.2 379.5h0M174.4 373.6h0M173.8 367.9h0M173.2 365.7h0M185.5 380.5h0M175.9 379.8h0M180.6 380.1h0M177.2 371h0M177.6 377.6h0M175.4 378.3h0M173.1 383.6h0M187.4 403.4h0M188.5 403.7h0M192.8 398h0M185.2 403h0M190.9 402.2h0M189 400.8h0M184.1 399h0M175.4 372.2h0M176.1 375.5h0M175.9 370.6h0M174.8 370.8h0M175.4 373.3h0M176.1 372.3h0M202 396.6h0M200.4 380.1h0M201.4 385h0M193.8 397.9h0M199.7 378.7h0M204.1 380.5h0M210.9 357.1h0M196.6 373.1h0M208.1 359.5h0M194.9 393.6h0M194.5 396.3h0M201.9 395.5h0M204.6 393.3h0M197.5 389.9h0M193.1 393h0M207.4 354.6h0M193.5 384h0M206 377.9h0M197.5 394h0M196.5 383h0M204.6 389.4h0M194.8 388.4h0M195.5 397.5h0M207.9 382.1h0M202.1 387.4h0M201.8 389.4h0M193.2 381.4h0M204.5 380.2h0M208.8 360.6h0M194.2 391.1h0M199.6 395.3h0M196.6 376.1h0M198.4 380.1h0M201.2 367.1h0M200.6 381.1h0M204 372.4h0M207 353.8h0M201.8 370.5h0M206 383.1h0M200.7 383.4h0M197.2 378.4h0M202.1 389h0M204 382.4h0M202.8 404.2h0M204 391.4h0M197 382.5h0" stroke="#e4bbb0" stroke-width="0.85" stroke-linecap="round" fill="none" stroke-opacity="0.95"/>
<path d="M152.4 333.3h0M157.7 336.4h0M169.7 335.6h0M158.9 340.5h0M145.2 331.5h0M154.4 333.4h0M169.8 331.7h0M167.9 348.3h0M171.5 345.6h0M150 332.2h0M168.7 342.4h0M165 331.7h0M162.1 331.2h0M144.7 331.4h0M153.8 327.7h0M159.7 324.1h0M169.4 333.6h0M155.7 336.5h0M171.9 333.6h0M152 334.1h0M159.9 340h0M148.3 328.9h0M164.9 345.9h0M166.2 338.1h0M146.2 326.8h0M166.9 331.4h0M156.1 322.6h0M152.3 321.6h0M168.7 342h0M156.5 332.5h0M151.2 326h0M169.1 330.5h0M154.6 318.5h0M154.9 329.5h0M154.1 327.1h0M161.7 319.6h0M156.2 328.5h0M172.7 340.9h0M168.4 348.9h0M171.3 324.6h0M150.1 330.9h0M152.5 322.7h0M157.9 321.7h0M156.3 322.6h0M151.6 328.8h0M159.8 330.1h0M131.1 342.6h0M136.2 347.2h0M137.1 345.5h0M130.7 343.2h0M131.7 343.3h0M135.8 350.2h0M132 349.4h0M187.1 359.2h0M191.9 371.3h0M184.2 363h0M192.9 359.1h0M190.1 357.1h0M176.2 348.7h0M189.8 350.9h0M185 354.4h0M185.4 351.3h0M184.7 353.1h0M183.1 354.1h0M181 351h0M184 349.5h0M184.4 352.9h0M180.2 385.4h0M190.1 400.3h0M187.2 378.4h0M185.5 381.6h0M175.2 379.2h0M175 377.4h0M179 380h0M174.5 379.1h0M175.4 373h0M180.3 386.6h0M178.9 379.8h0M187.5 394.9h0M179.6 377.8h0M178.3 386h0M174.5 373.4h0M186.3 396.9h0M175.2 384.9h0M188.6 396.4h0M185.6 402.5h0M178.1 376.4h0M192.3 403h0M188 397.7h0M189.4 403.3h0M175.8 374.6h0M195.7 388.5h0M206.8 372.4h0M200.3 397.5h0M201.3 383.3h0M196.3 398.1h0M195.3 391.6h0M202.7 365.3h0M199.6 400.2h0M197.6 397.3h0M205.1 367h0M197.1 385.7h0M205.6 392.1h0M197 388.1h0M194.4 386h0M202.1 384.8h0M205.6 374.3h0M204.4 377h0M203.6 363.7h0M198.1 385.5h0M194.9 381h0M206.2 359.6h0M205.3 365.3h0M207.5 375.3h0M207.1 355.7h0M205.7 378.7h0M203.7 394.9h0M204.9 393.8h0M206.1 363.9h0M197.3 397.8h0M195 393.3h0M198 373.7h0M206 393.2h0M197.1 381.3h0M195.4 382.9h0M206 358.6h0M203.7 362.8h0M202.1 379.4h0M208.1 360h0M195.6 379.4h0M204.8 389h0M196.3 395.2h0M196.5 391.5h0M201.9 380.9h0M200.2 381.6h0M201.6 388.8h0M205.1 393.8h0M205.7 380.7h0M196.7 381.5h0M201.1 393.1h0M199 399.8h0M198.5 389.1h0" stroke="#dd917c" stroke-width="0.85" stroke-linecap="round" fill="none" stroke-opacity="0.95"/>
<path d="M160.3 337.8h0M160.6 326.8h0M164.9 344.5h0M145.8 331.6h0M163.1 330.6h0M158.6 337h0M162.8 342.8h0M155.6 335.9h0M168.9 350.4h0M168.3 337.7h0M166.5 343.2h0M163.8 335.1h0M163.3 341.2h0M173.8 347h0M170.6 341.2h0M154.3 328.6h0M166 339.5h0M147.3 330.5h0M170 348.4h0M166.3 330.2h0M170 341.3h0M167.4 333.3h0M156.2 331.9h0M161.2 330.7h0M163.1 333.8h0M159.3 317.7h0M154.2 327.8h0M167.3 333.7h0M152 331.2h0M151.5 333.7h0M172.9 345.4h0M166.7 348.3h0M166.2 344.2h0M153.5 322.6h0M167.4 340.8h0M168 335.9h0M158.5 340.1h0M159.3 340.3h0M171.1 341.9h0M168.2 331.3h0M160.4 329.6h0M171.7 346.1h0M162 341.2h0M166.8 338.4h0M155.3 334.2h0M167.5 345.9h0M153.2 328.4h0M160 321.8h0M157.1 332.3h0M174.3 349.5h0M175.7 350h0M174 353.4h0M154.7 335.9h0M166.5 332.3h0M172.3 344.9h0M170.2 342.4h0M169.2 339.2h0M164.8 343.8h0M159 328h0M172.3 348.3h0M170.8 334.2h0M162.7 335.4h0M157.2 326.8h0M156.4 336.6h0M171.5 350.3h0M158.4 321.8h0M160.7 322h0M148 327h0M173.3 351h0M158.6 339.3h0M167.5 334.4h0M147.1 329.1h0M159.3 337.8h0M169.1 350.6h0M159.4 332.9h0M169.5 337.9h0M165.5 346.9h0M144.9 332.4h0M161.4 339.3h0M166.9 329.4h0M173.4 340.6h0M165.4 336.2h0M157.3 328.2h0M167.7 335.2h0M175.3 352.8h0M165 343.9h0M172.9 349.9h0M153.7 321h0M163 332.8h0M165.9 327.3h0M156.7 334.1h0M163.6 328.7h0M157.9 331.9h0M170.7 351.8h0M172.9 338.8h0M172.9 345.5h0M163.1 340.4h0M149.8 329.6h0M165.8 327.6h0M173.7 339.1h0M145.8 332.7h0M167.7 334.4h0M170.9 334.8h0M160.4 326.2h0M158.4 333.3h0M164.4 331.6h0M162.2 326h0M163.4 332.2h0M161.6 328.2h0M151.1 341.8h0M165.8 326.5h0M152.6 330.1h0M163.3 328.3h0M153.3 329.5h0M170.2 321.1h0M168.1 331.2h0M156.7 321.5h0M162.1 325.7h0M134.5 341.2h0M135.6 343.8h0M137.6 344.1h0M133.8 341.4h0M134.9 351.3h0M135.1 349.3h0M133.5 346h0M133 341.8h0M137.4 343.5h0M131.4 340.3h0M134.2 339.3h0M131.1 347.8h0M131 341h0M136.1 347.7h0M133.1 344.1h0M136.7 344.7h0M135.3 352.5h0M131.1 344.9h0M132.9 348.8h0M133.6 341h0M131.7 342.3h0M131.5 339.7h0M135.1 344.5h0M137.3 344.7h0M135.2 341.8h0M137.6 349.3h0M132 346.9h0M134.3 350.1h0M179.6 348.4h0M189.1 359.2h0M183.9 350.1h0M180.4 343.8h0M184.6 364.4h0M184 361.5h0M186.1 360h0M182.4 356.5h0M180.9 364h0M178.1 346h0M182.6 356.6h0M194.5 360.9h0M184.1 351.6h0M179.3 344.5h0M183.2 354.8h0M189.8 368.6h0M187.5 354.8h0M184.3 350.5h0M177.5 350.3h0M183.4 345.8h0M184.8 365.4h0M187.3 354.6h0M185.9 361.5h0M181.4 363.1h0M177.8 351.9h0M183.3 361.3h0M183.4 350.9h0M185.6 351.5h0M186.3 349.6h0M188.7 352.9h0M184.9 354.8h0M185.3 351.7h0M182.9 352.7h0M186 357.3h0M182.6 353.6h0M187.5 354.7h0M182.9 352.6h0M185.6 352.1h0M188.4 356.8h0M184.3 353.6h0M184.7 355.2h0M186.1 353h0M183.2 354h0M184.7 353.2h0M185.3 354.6h0M180.9 353.4h0M182 355.1h0M181.7 355.9h0M182.5 353.1h0M184.5 354.1h0M179.9 391.2h0M181.9 397.1h0M178.7 386.4h0M175.9 382.8h0M174.3 378.5h0M192 405.3h0M175.1 383.7h0M179.6 378h0M181.6 377h0M176.6 384.7h0M190.9 400.7h0M185.5 399h0M193.7 397.2h0M188.8 400.2h0M179.3 382.9h0M175.7 375.7h0M188.2 403.5h0M180.5 386.8h0M187.1 379.4h0M181.6 381.9h0M178.8 390.1h0M187.4 378.7h0M175 367.7h0M180 384h0M183.2 397.4h0M183.1 380.3h0M178 390.5h0M181.9 377.7h0M188.8 404h0M173.6 365.3h0M179.1 383.1h0M183.4 379.4h0M177.5 379.6h0M190.7 401.2h0M187.8 400.2h0M176.6 380.1h0M180.8 393.4h0M186.4 378.7h0M186 399.1h0M189.2 403.2h0M174.2 380.7h0M176.6 379.6h0M180.8 378h0M180.3 378.5h0M185.6 400.1h0M172.3 375.6h0M175.1 370.7h0M179.9 392.9h0M193.4 404.9h0M177.6 376.4h0M176.6 387.9h0M185.2 398.1h0M182.3 382.3h0M189.3 403.1h0M179.7 389.4h0M183 380.4h0M174.2 377.5h0M179.2 389.5h0M177.5 388.6h0M180.6 380.5h0M174.3 373.1h0M192.3 405.1h0M175 373.4h0M188.4 402.4h0M185.1 400.9h0M195.9 400.6h0M190.8 402h0M189.1 400.9h0M193 405.5h0M190.1 397.8h0M194.3 403h0M192.6 402h0M197.2 401.8h0M192.2 397.3h0M189.1 400h0M190.6 402.4h0M188.6 405.6h0M191.4 398.7h0M189.9 406h0M187.6 403.7h0M185 404.3h0M176.6 372.9h0M175.2 375h0M175.8 372.8h0M175.3 377.6h0M173.7 372.8h0M177.1 372.3h0M176.2 371h0M173.9 370.3h0M196.6 392.8h0M197.8 380.3h0M205.5 389.2h0M206 381.9h0M196.5 389h0M199.9 387.2h0M200.4 384h0M205.1 387.4h0M198.5 369.5h0M196.3 373.3h0M197.4 399.7h0M204.8 370.8h0M207 381.3h0M204.4 357.5h0M205.8 371.2h0M208.9 356.8h0M195.5 393.6h0M206.7 364h0M199.9 383.8h0M202 385.7h0M203.9 380.5h0M194.8 386.7h0M199.1 387.9h0M199.9 369.6h0M194.3 385h0M198.6 385.2h0M206 356.1h0M200.5 390.8h0M207.4 380.6h0M195.5 384.5h0M194.6 393.5h0M197.6 371.1h0M196.2 373.4h0M196.9 392.2h0M206.3 376.4h0M194.3 383.7h0M210.3 357h0M198.1 400.6h0M205.6 382.3h0M200 391.1h0M201.7 387.3h0M203.7 379.6h0M205.9 359h0M203.9 374.5h0M199 379.8h0M203 380.5h0M206.2 383.3h0M205.4 372.6h0M195.1 378.2h0M193.5 384.5h0M201.5 386.5h0M204.7 361.2h0M201.2 375.8h0M193.7 386.6h0M207.8 358.9h0M202.2 372.7h0M193.6 381.7h0M206.5 373h0M205.4 361.1h0M203.9 395.9h0M204 391.1h0M199.2 389.9h0M202.1 389.3h0M205.7 355.7h0M204.6 369.6h0M207.4 355.2h0M196.2 393.6h0M198.3 391.9h0M198.2 399.6h0M207.3 387h0M196.5 388.7h0M194.2 391h0M203.5 362.5h0M206.8 387.8h0M196.3 399.2h0M203.4 390.1h0M199.7 395.8h0M203.2 393.6h0M198.7 392.4h0M203.1 358.9h0M207.2 356h0M199.4 398.1h0M208 385h0M208.3 383.4h0M205 390.1h0M199.1 370.8h0M198.1 378h0M207.5 356.5h0M200.9 371h0M201.2 393.6h0M199.2 390.4h0M201.6 378.6h0M205.2 360h0M202.3 392.6h0M208.5 357.8h0M207.8 356.6h0M198.7 400.7h0M205.1 371.6h0M198.6 389.3h0M193.6 386.1h0M204.9 369.6h0M199.5 391.1h0M198.4 400.4h0M192.9 389.3h0M203.5 376.4h0M206.3 380.9h0M205.2 368.7h0M206.2 356.2h0M206.7 385.5h0M203.1 375.8h0M196.3 398.9h0M204.3 388.6h0M207.2 384.5h0M195 388.9h0M203.4 359.9h0M201.7 368h0M198 373.1h0M202.6 371.1h0M197 372.5h0M197.5 393h0M199.5 371h0M205.8 359h0M201 373h0M197.3 397.3h0M202.3 389.9h0M201.1 390.4h0M202.9 394.2h0M200.2 375.1h0M200.5 380h0M207.9 389.3h0M198.9 384.8h0M197.9 391h0M206.9 386.8h0M204.9 381.8h0M205.8 375.3h0M205.1 385.3h0M202.1 389.8h0M200.5 382.8h0M194.8 389.8h0M204.4 382.3h0M208.4 387.6h0M197.6 380.6h0M201.7 394.9h0M202.3 389.1h0M202.7 393.6h0M204.4 384.4h0" stroke="#d6624a" stroke-width="0.85" stroke-linecap="round" fill="none" stroke-opacity="0.95"/>
<line x1="230.5" y1="310.3" x2="230.5" y2="412.8" stroke="#444" stroke-width="0.6"/>
<line x1="230.2" y1="412.5" x2="322.8" y2="412.5" stroke="#444" stroke-width="0.6"/>
<line x1="229.2" y1="314.2" x2="230.5" y2="314.2" stroke="#444" stroke-width="0.4"/>
<text x="229" y="315.1" font-size="3.0" text-anchor="end">5.0</text>
<line x1="229.2" y1="337.4" x2="230.5" y2="337.4" stroke="#444" stroke-width="0.4"/>
<text x="229" y="338.3" font-size="3.0" text-anchor="end">2.5</text>
<line x1="229.2" y1="360.7" x2="230.5" y2="360.7" stroke="#444" stroke-width="0.4"/>
<text x="229" y="361.6" font-size="3.0" text-anchor="end">0.0</text>
<line x1="229.2" y1="384.2" x2="230.5" y2="384.2" stroke="#444" stroke-width="0.4"/>
<text x="229" y="385.1" font-size="3.0" text-anchor="end">-2.5</text>
<line x1="229.2" y1="407.4" x2="230.5" y2="407.4" stroke="#444" stroke-width="0.4"/>
<text x="229" y="408.3" font-size="3.0" text-anchor="end">-5.0</text>
<line x1="256.8" y1="412.5" x2="256.8" y2="413.8" stroke="#444" stroke-width="0.4"/>
<text x="256.8" y="416.6" font-size="3.0" text-anchor="middle">-5</text>
<line x1="283.1" y1="412.5" x2="283.1" y2="413.8" stroke="#444" stroke-width="0.4"/>
<text x="283.1" y="416.6" font-size="3.0" text-anchor="middle">0</text>
<line x1="309.7" y1="412.5" x2="309.7" y2="413.8" stroke="#444" stroke-width="0.4"/>
<text x="309.7" y="416.6" font-size="3.0" text-anchor="middle">5</text>
<text x="277.2" y="311.2" font-size="8.9" text-anchor="middle" font-style="italic">Sox17</text>
<text x="274.8" y="421.8" font-size="6.5" text-anchor="middle">UMAP1</text>
<text x="223.8" y="360.7" font-size="6.5" text-anchor="middle" transform="rotate(-90 223.8 360.7)">UMAP2</text>
<path d="M258.9 326.4h0M265.4 337.8h0M256.2 321.5h0M269.8 335.3h0M265.7 326.8h0M270 344.5h0M250.9 331.6h0M259.2 322.8h0M271.7 322.5h0M263.1 325.3h0M262 320.1h0M271.6 327.3h0M278.1 341.6h0M280.5 350.7h0M268.3 322.2h0M267.5 323.5h0M268.2 330.6h0M262.4 325.2h0M263.7 337h0M260.7 335.9h0M274.8 335.6h0M273 325h0M254.9 330.1h0M254.4 329.6h0M260.7 327h0M250.5 332h0M271.6 343.2h0M259.9 331.3h0M268.9 335.1h0M268.4 341.2h0M264 340.5h0M269.6 323h0M250.3 331.5h0M274.4 348.1h0M257.3 325.4h0M268.9 324.5h0M259.4 328.6h0M277.7 346.3h0M269.1 320.3h0M271.1 339.5h0M278 350.5h0M270 324.6h0M261.1 325.8h0M252.4 330.5h0M255.9 325.9h0M259.5 333.4h0M268.7 327.3h0M269.1 323.3h0M275.1 348.4h0M271.4 330.2h0M280.6 348.2h0M274.9 331.7h0M270.7 323.1h0M274.5 344.9h0M261.3 331.9h0M266.3 330.7h0M268.2 333.8h0M264.4 317.7h0M259.3 327.8h0M272.4 333.7h0M257.1 331.2h0M268.7 319.1h0M256.6 333.7h0M276.6 345.6h0M271.8 348.3h0M271.3 344.2h0M258.6 322.6h0M264.7 331.7h0M273.1 335.9h0M266.9 319.4h0M268.6 324.9h0M255.1 332.2h0M264.4 340.3h0M276.2 341.9h0M270.1 331.7h0M267.2 331.2h0M265.5 329.6h0M249.8 331.4h0M277.7 338.4h0M267.1 341.2h0M271.9 338.4h0M262.7 324h0M261.3 326h0M264.8 324.1h0M274.5 333.6h0M260.8 336.5h0M255.3 327.9h0M272.6 345.9h0M277 333.6h0M257.1 334.1h0M265 340h0M258.3 328.4h0M272.6 324.1h0M253.4 328.9h0M274.9 334.5h0M274 329h0M257.4 332.9h0M265.1 321.8h0M254.7 327h0M255.2 322.8h0M264.5 317.1h0M262.2 332.3h0M279.4 349.5h0M252 328h0M279.1 353.4h0M268.8 341.8h0M259.8 335.9h0M271.6 332.3h0M259.8 319h0M258.9 333.5h0M257.1 322.8h0M256 325.6h0M272.2 321.1h0M266.4 317.8h0M251.3 326.8h0M269.9 343.8h0M272 331.4h0M273.2 324.5h0M273.2 327.5h0M264.1 328h0M259.3 319.4h0M256.2 326.8h0M264.4 324.7h0M265.4 318.5h0M275.9 334.2h0M261.2 322.6h0M267.7 324.7h0M267.8 335.4h0M262.3 326.8h0M256.8 323h0M263.5 321.8h0M265.8 322h0M253.1 327h0M257.3 331.5h0M274.3 331.8h0M257.4 321.6h0M272.6 334.4h0M272.1 321.8h0M252.2 329.1h0M264.4 337.8h0M273.8 342h0M274.2 350.6h0M264.5 332.9h0M261.6 332.5h0M256.3 326h0M257.6 327.1h0M274.2 330.5h0M271.9 344.1h0M250 332.4h0M268.2 323.2h0M257.4 324h0M266.5 339.3h0M272 329.4h0M259.7 318.5h0M264 324.1h0M278.5 340.6h0M251.3 328h0M269.7 320.1h0M260 329.5h0M271.2 337.3h0M269.6 319.9h0M271.9 346.5h0M275 333.2h0M262.4 328.2h0M263.2 324.4h0M272.8 335.2h0M259.2 327.1h0M265.3 332.7h0M280.4 352.8h0M270.1 343.9h0M268.5 324.4h0M272.2 324.2h0M266.8 319.6h0M261.6 335h0M276.1 336.7h0M261.3 328.5h0M269.9 320.5h0M278 349.9h0M258.8 321h0M268.1 332.8h0M263.2 323.7h0M271 327.3h0M261.8 334.1h0M272.6 327.6h0M270.8 320.8h0M253.6 324.6h0M268.7 328.7h0M265.6 320.4h0M273.5 326.6h0M263 331.9h0M264.7 333.5h0M255 330.3h0M277.8 340.9h0M273.9 332.9h0M278 345.5h0M272.7 324.1h0M258.3 329h0M268.2 340.4h0M277 337.3h0M270.9 327.6h0M278.8 339.1h0M250.9 332.7h0M259.5 332.4h0M276 334.8h0M265 321.4h0M265.5 326.2h0M267 332.4h0M257.7 330.9h0M276.4 324.6h0M263.5 333.3h0M269.5 331.6h0M255.2 330.9h0M257.6 322.7h0M267.3 326h0M268.7 347.1h0M268.5 332.2h0M259.2 323.9h0M263 321.7h0M256.3 319.5h0M266.7 328.2h0M269.9 334.2h0M262.3 331.9h0M256.2 341.8h0M270.9 326.5h0M253.8 323h0M268.4 328.3h0M261.5 333.6h0M258.4 329.5h0M261.4 322.6h0M266.8 321.7h0M274.8 324.2h0M275.3 321.1h0M267.6 320.5h0M268 320h0M270.8 322.9h0M264.9 330.1h0M267.5 316.8h0M273.2 331.2h0M261.8 321.5h0M254.8 319.5h0M267.2 325.7h0M257.9 324.6h0M238.4 346.2h0M239.6 341.2h0M240.7 343.8h0M242.7 344.1h0M238.9 341.4h0M241.8 345.6h0M242.4 350.9h0M236.2 342.6h0M240.1 345.1h0M241.3 347.2h0M238.2 347.5h0M238 347.5h0M240 351.3h0M239.9 350.6h0M240.2 349.3h0M242.3 348.8h0M235.9 343.6h0M238.6 346h0M238.1 341.8h0M242.5 343.5h0M239.1 346.9h0M240.5 342.6h0M236.5 340.3h0M239.3 339.3h0M238.7 346.6h0M236.2 347.8h0M236.1 341h0M241.2 347.7h0M235.2 344.1h0M241.5 347.8h0M241.1 352h0M238.2 344.1h0M242.2 345.5h0M240.4 352.5h0M242.5 350.9h0M236.2 344.9h0M238.6 346.1h0M238 348.8h0M238.7 341h0M236.9 338.4h0M235.8 343.2h0M236.8 342.3h0M236.8 343.3h0M236.6 339.7h0M240.2 344.5h0M242.3 343.3h0M242.4 344.7h0M240.3 341.8h0M242.7 349.3h0M237.1 346.9h0M239.1 342.8h0M239.4 350.1h0M238.4 344.5h0M240.6 346.3h0M240.9 350.2h0M237.1 349.4h0M298 363.7h0M290.9 360.2h0M284.7 348.4h0M294.2 359.2h0M292.2 359.2h0M293.3 365.8h0M293.4 357.7h0M292.2 351.1h0M285.5 343.8h0M289.7 364.4h0M291.2 360h0M286 364h0M283.2 346h0M287.7 356.6h0M289.3 363h0M299.6 360.9h0M287.7 361.4h0M284.4 344.5h0M288.3 354.8h0M298 359.1h0M294.9 368.6h0M288.2 347.7h0M292.6 354.8h0M293.6 356.1h0M289.4 350.5h0M282.6 350.3h0M289.9 365.4h0M292.4 354.6h0M286.5 363.1h0M282.1 349.5h0M285.5 365.6h0M284.3 352.8h0M281.3 348.7h0M288.4 361.3h0M288.5 350.9h0M290.7 351.5h0M288 353.3h0M293.8 352.9h0M290 354.8h0M290.4 351.7h0M288 352.7h0M291.1 357.3h0M288.4 352.8h0M287.7 353.6h0M290.5 353.7h0M292.6 354.7h0M291.1 353.4h0M288 352.6h0M290.5 351.3h0M293.5 356.8h0M289.4 353.6h0M289.8 355.2h0M289.8 353.1h0M288.8 353.8h0M288.3 354h0M289.8 353.2h0M290.4 354.6h0M287.1 355.1h0M286.1 351h0M287.6 353.1h0M289.1 349.5h0M289.6 354.1h0M289.9 354.6h0M289.5 353.5h0M287 397.1h0M283.8 386.4h0M281 382.8h0M284.7 378h0M286.7 377h0M295.2 400.3h0M281.7 384.7h0M292.3 378.4h0M296.7 399.4h0M296 400.7h0M290.6 381.6h0M290.6 399h0M298.8 397.2h0M284.4 382.9h0M280.3 379.2h0M280.8 375.7h0M293.3 403.5h0M285.6 386.8h0M294.3 398.9h0M292.5 378.7h0M288.9 397.6h0M279.6 367.4h0M285.1 384h0M284.5 379.6h0M295.4 404h0M287.4 395.9h0M283.1 390.5h0M287 377.7h0M293.9 404h0M278.7 365.3h0M279.6 379.1h0M282.6 379.6h0M290.3 379.5h0M281.7 380.1h0M285.9 393.4h0M281.9 376.6h0M280.5 373h0M290.3 395.4h0M291.5 378.7h0M285.4 386.6h0M278.9 367.9h0M295.8 405.4h0M278.3 365.7h0M285.6 381.9h0M284 379.8h0M281 379.8h0M292.6 394.9h0M284.7 377.8h0M285.7 380.1h0M281.7 376.1h0M279.3 380.7h0M281.7 379.6h0M283.4 386h0M285.4 378.5h0M282.8 374.8h0M279.6 373.4h0M290.7 400.1h0M282.3 371h0M298.5 404.9h0M281.7 387.9h0M290.3 398.1h0M287.4 382.3h0M284.8 389.4h0M293.7 396.4h0M298.3 399.2h0M284.3 389.5h0M278.2 383.6h0M282.6 388.6h0M285.8 385h0M279.4 373.1h0M297.4 405.1h0M286.4 382.1h0M290.7 402.5h0M283.2 376.4h0M293.5 402.4h0M293.6 403.7h0M301 400.6h0M297.9 398h0M290.3 403h0M295.9 402h0M294.2 400.9h0M298.1 405.5h0M295.2 397.8h0M297.7 402h0M302.3 401.8h0M297.3 397.3h0M294.2 400h0M293.7 405.6h0M296.5 398.7h0M297.4 403h0M294.1 400.8h0M294.5 403.3h0M289.2 399h0M294.2 400.4h0M292.7 403.7h0M290.1 404.3h0M280.9 374.6h0M281.7 372.9h0M280.3 375h0M280.9 372.8h0M280.4 377.6h0M278.8 372.8h0M282.2 372.3h0M278.8 376.5h0M279 373h0M279.9 370.8h0M280.1 371h0M280.5 373.3h0M281.2 372.3h0M279 370.3h0M306.4 383.3h0M301.6 389h0M309.9 370.8h0M309.3 373.5h0M301.5 397.2h0M305 369.6h0M299.4 385h0M307.2 384.8h0M310.7 374.3h0M303.2 400.6h0M306.8 387.3h0M308.8 379.6h0M305.5 380.1h0M300 381h0M309.2 380.5h0M300.2 378.2h0M299.6 396.3h0M298.8 386.6h0M305 379.4h0M309.7 393.3h0M309 395.9h0M307.2 389.3h0M310.8 355.7h0M312.5 354.6h0M309.7 357.1h0M303.3 399.6h0M308.9 361.6h0M298.6 384h0M311.2 363.9h0M304.2 370.8h0M300.1 393.3h0M302.2 381.3h0M306.8 373.5h0M298.3 381.4h0M313.9 360.6h0M311.1 358.6h0M311.8 385.5h0M309.4 388.6h0M303.5 380.1h0M312.1 353.8h0M306.9 370.5h0M311.1 383.1h0M307 380.9h0M305.3 381.6h0M306.7 388.8h0M307.4 389.9h0M312.2 371.1h0M305.6 380h0M304 384.8h0M307.9 404.2h0M301.9 396.8h0M305.7 396h0M299.9 389.8h0M302.7 380.6h0" stroke="#c9c9c9" stroke-width="0.85" stroke-linecap="round" fill="none" stroke-opacity="0.95"/>
<path d="M257.5 333.3h0M267.9 342.8h0M274 350.4h0M267.9 340.9h0M273.6 350.6h0M270.1 336.7h0M263.6 340.1h0M273.8 342.4h0M273.3 331.3h0M271.3 338.1h0M275.3 342.4h0M270.6 328.7h0M278.1 350.1h0M269.8 332.9h0M275.8 351.8h0M278 338.8h0M254.9 329.6h0M258.1 323.8h0M257.7 330.1h0M236 345h0M293.4 357h0M282.9 351.9h0M291.6 353h0M290.7 352.1h0M290.5 354.9h0M286.8 355.9h0M285 391.2h0M299.9 396.9h0M280.7 378.9h0M285.3 385.4h0M279.4 378.5h0M297.1 405.3h0M288.2 380.3h0M284.2 383.1h0M291.1 399.1h0M290.6 380.5h0M291.4 396.9h0M280.3 384.9h0M282.7 376.4h0M280.5 378.3h0M288.1 380.4h0M280.1 373.4h0M290.2 400.9h0M297.3 403.2h0M295 406h0M296 402.2h0M290.7 404.7h0M280.5 372.2h0M281.3 371h0M302.9 380.3h0M300.8 388.5h0M299.2 384.3h0M300.4 391.6h0M313.5 360.4h0M305.5 384h0M301.4 373.3h0M300.6 393.6h0M311.8 364h0M309 380.5h0M299.9 386.7h0M303.7 385.2h0M307.1 396.6h0M312.5 380.6h0M302.7 371.1h0M302 392.2h0M315.4 357h0M305.1 391.1h0M309 374.5h0M310.5 372.6h0M304.8 378.7h0M309 384.7h0M298.2 393h0M305.2 370h0M310.5 361.1h0M312.6 375.3h0M309.1 391.1h0M301.3 393.6h0M303.4 391.9h0M311.1 377.9h0M304.8 395.8h0M300.6 397.5h0M313 382.1h0M302.2 393.1h0M312.3 356h0M313.1 385h0M312.6 356.5h0M306.3 393.6h0M306.7 378.6h0M300.5 382.9h0M313.6 357.8h0M303.7 389.3h0M298.7 386.1h0M310 369.6h0M307.2 379.4h0M301.7 373.1h0M313.2 360h0M304.7 395.3h0M303.5 400.4h0M311.3 356.2h0M301.4 398.9h0M300.7 379.4h0M308.5 359.9h0M306.8 368h0M309.7 389.8h0M302.1 372.5h0M307.2 389h0M306.2 390.4h0M312 386.8h0M310.9 375.3h0M310.2 385.3h0M304.1 399.8h0M309.5 382.3h0M307.9 387.3h0" stroke="#e4bbb0" stroke-width="0.85" stroke-linecap="round" fill="none" stroke-opacity="0.95"/>
<path d="M275.7 333.9h0M271.7 324.1h0M278.9 339.9h0M273.4 337.7h0M278.9 347h0M261.1 336.1h0M275.1 341.3h0M272.5 333.3h0M273 348.3h0M278.3 350.6h0M278 345.4h0M272.5 340.8h0M258.9 327.7h0M260.4 334.2h0M280.5 350.1h0M279.4 340.7h0M270 345.9h0M263.9 323h0M271.2 338.7h0M278.6 341.8h0M274.3 339.2h0M261.5 336.6h0M276.6 350.3h0M263.7 339.3h0M274.6 337.9h0M267.4 326.5h0M275.2 337.5h0M273.5 348.9h0M272.8 334.4h0M268.8 336.2h0M258.3 324.5h0M256.7 328.8h0M237.3 342.4h0M238.4 347.7h0M241.8 344.7h0M290.4 355.9h0M297 371.3h0M289.1 361.5h0M291.4 365.5h0M287.5 356.5h0M289.2 351.6h0M291 361.5h0M291.4 349.6h0M294.9 350.9h0M290.1 354.4h0M291.2 353h0M286 353.4h0M280.2 383.7h0M292.2 379.4h0M286.7 381.9h0M283.9 390.1h0M280.1 377.4h0M288.5 379.4h0M292.9 400.2h0M285 392.9h0M282.7 377.6h0M294.4 403.1h0M280.8 385.9h0M285.7 380.5h0M292.5 403.4h0M299.4 403h0M292.8 400.5h0M294.7 402.1h0M281.2 375.5h0M301.7 392.8h0M305.4 397.5h0M311.1 381.9h0M301.4 398.1h0M307.8 365.3h0M310.2 387.4h0M312.1 381.3h0M309.5 357.5h0M305 383.8h0M310.2 366.5h0M302.7 397.3h0M310.2 367h0M304.2 387.9h0M302.1 388.1h0M311.4 376.4h0M311 359h0M303.2 385.5h0M306.5 385h0M309.8 361.2h0M300 393.6h0M311.6 373h0M305.7 382.5h0M309.7 369.6h0M312.5 355.2h0M310 393.8h0M301.4 399.2h0M308.3 393.6h0M313.4 383.4h0M302.4 397.8h0M312.4 378.3h0M306 371h0M311.1 393.2h0M303.8 400.7h0M310.2 371.6h0M309.6 380.2h0M299.3 391.1h0M312.7 380.5h0M301.7 376.1h0M298 389.3h0M304.3 384h0M311.4 380.9h0M303.9 400.3h0M301.6 391.5h0M310.9 359h0M302.3 378.4h0M302.4 397.3h0M313 389.3h0M303.6 389.1h0M306.8 394.9h0M307.4 389.1h0" stroke="#dd917c" stroke-width="0.85" stroke-linecap="round" fill="none" stroke-opacity="0.95"/>
<path d="M268.6 340.6h0M262.8 336.4h0M275.7 341.2h0M276.8 347.6h0M270.7 324.9h0M267.9 337.4h0M276.8 346.1h0M280.8 350h0M277.4 344.9h0M277.4 348.3h0M271.5 337.2h0M278.4 351h0M270.6 346.9h0M280.6 346.9h0M270.5 336.2h0M270.1 336.1h0M270.2 343.6h0M289 350.1h0M293.6 358.2h0M286.4 347.8h0M295.2 357.1h0M288.5 345.8h0M288.2 354.1h0M290.2 354.7h0M289.5 352.9h0M293.9 400.2h0M280.1 367.7h0M286.1 378.9h0M288.3 397.4h0M284.1 380h0M295.8 401.2h0M279.5 373.6h0M294.3 403.2h0M285.9 378h0M277.4 375.6h0M280.2 370.7h0M279.3 377.5h0M295.7 402.4h0M293.1 397.7h0M281 370.6h0M310.6 389.2h0M311.9 372.4h0M305 387.2h0M303.6 369.5h0M302.5 399.7h0M304.7 400.2h0M308.9 383.5h0M310.9 371.2h0M314 356.8h0M307.1 385.7h0M306.4 397.6h0M302.2 385.7h0M310.7 392.1h0M299.5 386h0M298.8 390.3h0M311.1 356.1h0M305.6 390.8h0M300.6 384.5h0M299.7 393.5h0M301.3 373.4h0M309.5 377h0M299.4 383.7h0M310.7 382.3h0M308.7 363.7h0M304.1 379.8h0M308.1 380.5h0M311.3 359.6h0M311.3 383.3h0M298.9 397.9h0M306.2 395.7h0M316 357.1h0M312.9 377h0M298.6 384.5h0M310.4 365.3h0M302.7 399.5h0M301.7 373.1h0M306.6 386.5h0M313.2 359.5h0M306.3 375.8h0M307 395.5h0M312.9 358.9h0M302.6 389.9h0M307.3 372.7h0M298.7 381.7h0M304.3 389.9h0M312.2 355.7h0M312.4 387h0M301.6 388.7h0M310.8 378.7h0M303.3 398h0M308.8 394.9h0M310.5 371.3h0M299.3 391h0M308.6 362.5h0M311.9 387.8h0M302.6 394h0M306.3 393.5h0M308.5 390.1h0M301.6 383h0M309.7 389.4h0M299.9 388.4h0M303.8 392.4h0M308.2 358.9h0M307.2 387.4h0M304.5 398.1h0M310.1 390.1h0M306.9 389.4h0M303.2 378h0M304.3 390.4h0M303.1 373.7h0M310.3 360h0M307.4 392.6h0M312.9 356.6h0M308.8 362.8h0M304.6 391.1h0M308.6 376.4h0M310.3 368.7h0M310.9 384.2h0M311.9 356.9h0M299.9 384h0M308.2 375.8h0M311.9 380.7h0M312.3 384.5h0M300.1 388.9h0M306.3 367.1h0M303.1 373.1h0M305.7 381.1h0M307.7 371.1h0M309.9 389h0M309.1 372.4h0M301.4 395.2h0M305.8 383.4h0M302.6 393h0M304.6 371h0M306.1 373h0M310.2 393.8h0M310.8 380.7h0M308 394.2h0M305.3 375.1h0M309.1 382.4h0M303 391h0M310 381.8h0M301.8 381.5h0M306.2 393.1h0M307.2 389.8h0M305.6 382.8h0M309.1 391.4h0M302.1 382.5h0M308 385.6h0M313.5 387.6h0M307.8 393.6h0M309.5 384.4h0" stroke="#d6624a" stroke-width="0.85" stroke-linecap="round" fill="none" stroke-opacity="0.95"/>
<defs><linearGradient id="gr2" x1="0" y1="0" x2="0" y2="1"><stop offset="0" stop-color="#d6482f"/><stop offset="1" stop-color="#dcdcdc"/></linearGradient></defs>
<rect x="326.6" y="352.5" width="3.4" height="18" fill="url(#gr2)"/>
<text x="325" y="351.5" font-size="6.9" font-style="italic">max</text>
<text x="325.7" y="376.3" font-size="6.9" font-style="italic">min</text>
<text x="351.2" y="305.3" font-size="9" font-weight="bold">f</text>
<line x1="366.5" y1="309.6" x2="366.5" y2="412.8" stroke="#444" stroke-width="0.6"/>
<line x1="366.2" y1="412.5" x2="458.2" y2="412.5" stroke="#444" stroke-width="0.6"/>
<line x1="365.2" y1="318" x2="366.5" y2="318" stroke="#444" stroke-width="0.4"/>
<text x="364.5" y="318.9" font-size="3.0" text-anchor="end">10</text>
<line x1="365.2" y1="337.4" x2="366.5" y2="337.4" stroke="#444" stroke-width="0.4"/>
<text x="364.5" y="338.3" font-size="3.0" text-anchor="end">5</text>
<line x1="365.2" y1="356.8" x2="366.5" y2="356.8" stroke="#444" stroke-width="0.4"/>
<text x="364.5" y="357.7" font-size="3.0" text-anchor="end">0</text>
<line x1="365.2" y1="376.2" x2="366.5" y2="376.2" stroke="#444" stroke-width="0.4"/>
<text x="364.5" y="377.1" font-size="3.0" text-anchor="end">-5</text>
<line x1="365.2" y1="395.7" x2="366.5" y2="395.7" stroke="#444" stroke-width="0.4"/>
<text x="364.5" y="396.6" font-size="3.0" text-anchor="end">-10</text>
<line x1="389.7" y1="412.5" x2="389.7" y2="413.8" stroke="#444" stroke-width="0.4"/>
<text x="389.7" y="416.6" font-size="3.0" text-anchor="middle">-10</text>
<line x1="416.3" y1="412.5" x2="416.3" y2="413.8" stroke="#444" stroke-width="0.4"/>
<text x="416.3" y="416.6" font-size="3.0" text-anchor="middle">0</text>
<line x1="443.6" y1="412.5" x2="443.6" y2="413.8" stroke="#444" stroke-width="0.4"/>
<text x="443.6" y="416.6" font-size="3.0" text-anchor="middle">10</text>
<text x="414.5" y="311.5" font-size="8.8" text-anchor="middle" font-style="italic">Erg</text>
<text x="411.7" y="421.4" font-size="6.5" text-anchor="middle">UMAP1</text>
<text x="363.3" y="360.5" font-size="6.5" text-anchor="middle" transform="rotate(-90 363.3 360.5)">UMAP2</text>
<path d="M422.9 341.8h0M410.4 332.8h0M418.9 339.5h0M417.1 347.1h0M416.3 336.6h0M422.2 323.6h0M421 332.3h0M424.5 336.4h0M415.2 344h0M421.9 331.8h0M422.3 336.6h0M415.5 339.1h0M414.8 322h0M424.2 330.7h0M414.7 330.2h0M418.8 338.3h0M417 347.1h0M418.3 319h0M420 317.9h0M422.1 338.5h0M414.8 330.3h0M410.6 328.8h0M414.9 326.1h0M416.3 330.5h0M417.5 329.4h0M413.1 338.4h0M423.8 354.3h0M413.8 342h0M413 333.6h0M425.7 337.7h0M418.7 348.8h0M420.4 339.7h0M411.6 326h0M416.2 337.7h0M425 333.5h0M420.5 329.7h0M420.4 342h0M414.5 334.8h0M414.6 328h0M417.4 327h0M417.9 336.8h0M412.7 330.5h0M415.4 321.8h0M413.8 340.1h0M420.7 346.3h0M416.3 334.4h0M408.6 334.3h0M419.4 339h0M414.2 329.5h0M411.8 333.9h0M423.3 340.8h0M412.8 333.9h0M421.9 327.2h0M411 332.2h0M415.8 335.8h0M414.7 326.9h0M420.9 333.8h0M420.9 334h0M410 339.4h0M417.2 318.8h0M418.4 350.4h0M415.2 342h0M423.5 343.8h0M423.4 334.1h0M413.4 324.9h0M414.6 325.6h0M414.1 341.7h0M423 355.2h0M416 317.4h0M409.4 331.5h0M413.8 342.3h0M419.4 335.7h0M409.9 342h0M419.7 342.5h0M409.2 330.5h0M415.1 346.7h0M411.6 333.4h0M411.2 341.6h0M421.2 340.4h0M424.9 339h0M417.9 327.2h0M414.5 319.5h0M412.6 333.2h0M419.6 337h0M415 332h0M415 345.7h0M415.2 348.1h0M420.9 345.5h0M425.2 331.6h0M423.8 326.8h0M414.3 346.3h0M417.3 320.8h0M415.6 325h0M423.3 327h0M417.2 337.1h0M414.7 337.7h0M425.5 336.3h0M424.7 329h0M419.7 330.3h0M409.4 332.7h0M416.2 347h0M424.4 327.8h0M412.2 331.2h0M423.9 324.7h0M415.9 320.8h0M414.2 330h0M424.3 328.6h0M420 336.6h0M421.9 331.4h0M421.9 343.5h0M423 332.5h0M415.3 330.8h0M421.9 341.5h0M417.5 348.5h0M411.4 340.1h0M417 331.2h0M423.5 328.3h0M424.1 335h0M421.4 343.4h0M419.8 348h0M422.5 346.5h0M418.7 336h0M410.6 340.4h0M413.2 332.8h0M418.1 339.6h0M409.5 339.5h0M425.7 335.8h0M424.7 334.8h0M418.8 341.9h0M421.9 338.3h0M416.2 347.9h0M412.4 341.1h0M417 327.1h0M410.5 338.9h0M420.9 338h0M410.9 340.4h0M416.4 320.4h0M419.1 348.9h0M422.3 321.5h0M413.4 331.7h0M422.4 327.6h0M423 328.9h0M423.4 350.9h0M422.2 342.4h0M411.1 340.1h0M422.4 333.4h0M417.5 348.6h0M418.7 321.9h0M419.4 324.1h0M423.7 331.9h0M417.4 334.3h0M419.8 325.8h0M423.8 347.3h0M418.2 326h0M415.3 338.7h0M418.4 328.5h0M418.5 349.2h0M412.3 335.5h0M422 338.9h0M426.1 336.4h0M423.2 354.1h0M417.5 332.4h0M417.7 317.1h0M420.8 340.9h0M420.3 337.1h0M421.8 339.3h0M420.1 342.1h0M413.3 339.3h0M414.7 328.8h0M411.5 326.6h0M419.3 350.1h0M422.3 341.6h0M415.8 330.5h0M416.5 332.7h0M423.6 340.3h0M426.1 333.2h0M420 326.7h0M410.2 338.8h0M413.6 345.6h0M417.4 322.4h0M418.1 332.1h0M423.6 352.1h0M409.4 329.8h0M419.3 334.8h0M416.3 321.6h0M414.7 344.9h0M413.2 338h0M411.9 343.6h0M418.9 320.8h0M417 322.9h0M415.2 336.1h0M407.9 333.2h0M422.2 339.6h0M419.7 334.3h0M423.8 328.8h0M416.2 325.4h0M412.7 339.3h0M424.2 331.3h0M415.3 334.3h0M419.8 329.3h0M408.8 338.3h0M423.5 334.4h0M420.7 321.2h0M415 319.7h0M414 338.6h0M418.4 325h0M423.5 355.4h0M426.2 338.3h0M419.2 322.6h0M415.2 335.8h0M413.4 336h0M424.2 343.8h0M418.2 345.8h0M417.1 320.1h0M426.5 334.8h0M412.2 345.4h0M418.8 345.3h0M414.9 342.2h0M420.3 320.9h0M416.1 332.3h0M423.3 323.5h0M410.8 336.3h0M416.4 318.7h0M419.9 327.9h0M417.4 349.7h0M418.3 348.5h0M412.7 326.2h0M419.8 328.5h0M415.2 346.4h0M421.7 335.5h0M410.3 335.1h0M417 325.3h0M416.8 338.9h0M419.8 333.6h0M420.8 339.6h0M418.8 350.1h0M419.6 334.2h0M415.6 322.9h0M413 337.5h0M415.9 324h0M416.3 325.3h0M421.8 341.1h0M415.4 346.1h0M413.5 331.6h0M424.5 329.4h0M418.4 348.6h0M426 339.7h0M422.6 345.2h0M420.5 347.5h0M422.7 331.3h0M416 324.1h0M420.2 318.5h0M424.3 326.8h0M411.8 335.6h0M423.8 331.2h0M415.2 323h0M415.9 326.4h0M418.7 340.7h0M416.8 318.6h0M417.7 324.5h0M414.7 332.2h0M419.8 325.9h0M409.2 330h0M422.1 327.7h0M416.9 322.3h0M411 330.4h0M420.7 328.3h0M421.6 334.8h0M418.5 336.2h0M425.4 335.6h0M424 330.6h0M413.7 327.4h0M425 330.3h0M424.7 339.1h0M420.1 321.1h0M422.5 323.1h0M420.6 337.7h0M422.4 335h0M420.2 328.1h0M417 349h0M421.2 328.9h0M414.7 328.6h0M421.7 334.8h0M425.4 335.3h0M418.5 338.7h0M416 324h0M421.9 338.8h0M410.8 329.9h0M421 326h0M423.2 330.5h0M415.2 329.4h0M412.2 329.2h0M418.2 332.8h0M420.4 347.7h0M414.6 339.6h0M424.9 336.8h0M420.6 321.4h0M415.7 331.1h0M412.9 334.4h0M412.5 331.7h0M421.2 327.4h0M414.4 331.1h0M417.1 320.9h0M419.6 327.6h0M416.1 331.9h0M415.1 338.8h0M417.1 348.6h0M416.6 337.4h0M410.7 341.6h0M416.5 333h0M424.4 336.8h0M424.6 335.7h0M425.2 336.2h0M425.2 330.4h0M413.4 337h0M414.6 323.5h0M421.1 344h0M411.5 339h0M418.9 325.5h0M417.6 347.7h0M410.5 333.7h0M420.4 335.7h0M413.7 337.8h0M422.2 324.5h0M419 321.5h0M410.2 339.7h0M419.1 322.2h0M417.9 316.7h0M408.9 332.1h0M414.9 332.2h0M408.6 335.7h0M407.9 336.2h0M416.3 327.5h0M424.3 332.8h0M418 338.6h0M423.1 329.1h0M420.9 337.3h0M417.7 349.6h0M418.5 328.7h0M423.6 356.5h0M423.5 349.4h0M415.7 332.8h0M423 342.7h0M420.5 345.4h0M412 327h0M418.7 336.8h0M421.9 335.8h0M413.8 338.9h0M420.8 331.1h0M422.5 334.2h0M420.3 326.6h0M423.3 323.9h0M411.4 338.4h0M419 339.1h0M414.9 335h0M421.2 330h0M417.5 328.7h0M416.2 347.8h0M417.3 324.5h0M410 334.4h0M424.2 330.9h0M409.7 333.2h0M418.6 320.7h0M410.4 340h0M419.5 317.9h0M411.3 343.2h0M413.5 346.9h0M416.9 345.1h0M424.1 334.9h0M410.4 329.3h0M419 342.1h0M423.7 353.9h0M416.1 322.2h0M416 335.8h0M417.1 343.4h0M415 324.7h0M412.5 327.7h0M410.6 328.4h0M411.5 340h0M414.9 343.2h0M412.1 330.8h0M412.8 335.7h0M423.2 344.9h0M424.9 343.1h0M413.5 324.3h0M415.1 339.9h0M423.2 338.8h0M416.1 319.4h0M421.5 333.7h0M415.6 337.6h0M414.2 324.3h0M420.5 349.1h0M426.3 336.1h0M418.8 339h0M421.6 337h0M417 318.5h0M420.5 326.3h0M419.6 327.4h0M412.9 326.9h0M425.2 331.6h0M412.5 328.8h0M418.5 327.5h0M416 344.6h0M419.1 345.3h0M410.2 339h0M422.1 323.9h0M417.1 344.8h0M425.5 340.3h0M413.9 327h0M423.8 343.6h0M415.4 344.1h0M423.4 352.9h0M414.1 328.1h0M422.7 336.5h0M416.4 333.6h0M425.4 338.8h0M417.7 349.2h0M411 337.4h0M420.8 333.6h0M415.2 321.6h0M413 327.5h0M420.2 339.2h0M421.8 347.7h0M412.6 326.5h0M407.9 337h0M413.5 328.4h0M411.4 339.6h0M420.9 331.7h0M409.7 330.8h0M422.9 329.8h0M422.6 338.4h0M420.6 329.5h0M417.8 329h0M422.3 325.2h0M416.1 336.1h0M416.8 349.4h0M423.8 348.7h0M417.2 326.9h0M413.3 325.8h0M421.2 328.2h0M420.8 328.4h0M419.6 319.4h0M424.9 333.9h0M418.1 323.6h0M413.1 342.3h0M419.7 329.8h0M414.2 326.5h0M421.8 322.4h0M422.5 324.6h0M417.2 337.7h0M417.3 331.5h0M420.4 329.8h0M420.4 342.1h0M416.1 333.3h0M418.8 328.2h0M412.9 342h0M419.4 339.5h0M418.5 318.5h0M410.9 335.1h0M422.7 327.8h0M413 328.5h0M416.8 335.3h0M408.5 331.1h0M416.1 347.2h0M423.9 353.9h0M422.6 344.9h0M411 330.2h0M408.7 329.8h0M423.6 349.7h0M417.8 345.8h0M415.6 338.1h0M425.7 332.5h0M420.4 322.2h0M417.5 322h0M411.6 337.5h0M423.5 356.1h0M411 337h0M418.8 319.6h0M413.6 333.1h0M411.4 335.4h0M413.6 319.9h0M422.2 332h0M419.1 345.8h0M421.5 323.5h0M425.4 335.3h0M415.1 330.3h0M413.2 345.7h0M420.7 329h0M424 330h0M422.6 340.7h0M409.3 340.8h0M420.9 342.1h0M415.6 343.6h0M420 324.3h0M424.1 336.7h0M418.3 348.4h0M411 340h0M422.8 345.5h0M424.3 340.1h0M411.4 329.5h0M424.7 343.9h0M410 328.6h0M422.3 344.6h0M424.5 339.6h0M414.8 347.4h0M426.7 332.9h0M415.4 333.6h0M415.9 342.7h0M417.4 322.3h0M416.9 318.6h0M414.6 346.8h0M426.2 335.7h0M408.2 335.8h0M423.9 340.9h0M422.1 335.3h0M425.2 334.1h0M423.4 353.8h0M420.7 333.7h0M418.9 350.5h0M422.1 327.4h0M425 342.1h0M420 346h0M419 347.2h0M416.1 324.6h0M423.8 340.8h0M418.9 344.2h0M408 336.9h0M418.7 348.3h0M423.4 356.3h0M423.3 339.5h0M418.2 325h0M410.1 339.9h0M423.6 338.1h0M417.3 336.2h0M424 330.3h0M420.2 321.2h0M423.5 352.5h0M414.6 335.4h0M416.3 317.7h0M413.6 327.8h0M422.4 323.3h0M410.5 330.1h0M414.3 325.8h0M412.5 342.6h0M412.8 338.9h0M423.8 356.8h0M409.5 333.3h0M422 347.1h0M416.4 330.8h0M414.4 332.4h0M410.4 334.2h0M414 338.6h0M418 339.5h0M417.3 332.4h0M413.3 338.1h0M413.3 333.7h0M424 328.6h0M415.7 322.4h0M426.1 335.6h0M415.6 338.4h0M425 328.5h0M420.7 327.9h0M426.3 335h0M423.5 351.8h0M418.8 318.6h0M421.3 345.6h0M421.1 323.6h0M410 333.9h0M414.5 330h0M413.9 345.6h0M418.4 344.4h0M410.7 338.1h0M415.5 326.4h0M414.7 339.5h0M422.5 338.6h0M419.4 327.8h0M413.8 336h0M421.8 324.9h0M412.3 337.4h0M417.8 333.6h0M420.7 335.9h0M421 328.4h0M413.4 325.6h0M421.3 342h0M412.7 334.1h0M412.6 333.1h0M408.5 336h0M413.7 325.5h0M422.6 326.1h0M417.4 324.8h0M416.9 348.1h0M417.4 337.9h0M410.5 330h0M415.5 319h0M412.5 344.8h0M411.5 342.4h0M415.4 339.5h0M425.6 338.8h0M424.3 329.5h0M423.8 338.5h0M420.3 326h0M415.2 347.9h0M412.1 341.9h0M421.3 326.8h0M416.7 329h0M417.8 339.6h0M418.5 320h0M413 335.2h0M417.7 337.5h0M416.5 317.7h0M418.7 336.9h0M413.6 345.8h0M417.6 319h0M416 339h0M415.3 319.3h0M423.3 342.5h0M414.7 345.4h0M414 321.5h0M423 337.3h0M421.5 335h0M418.5 341.7h0M414.9 334h0M417.4 332.4h0M413.3 337.4h0M421.7 325.6h0M423.4 345.6h0M423.8 350.4h0M415.1 329h0M419.5 325.5h0M412.8 334h0M422.3 335.7h0M410.9 340h0M413.7 329h0M415.1 338.5h0M421.6 337.8h0M417 345h0M415.8 346.5h0M415.9 320.2h0M411.3 340.8h0M418.9 345h0M418.8 337h0M420.2 329.1h0M419.9 345.6h0M411.5 341.9h0M414.6 332.1h0M420.1 340.9h0M417.1 317.6h0M417.6 332.2h0M417.6 324.8h0M420.7 332.6h0M419.7 347.7h0M410.8 340.6h0M421.8 341.9h0M423.7 346.3h0M414.8 329.5h0M408.9 336.8h0M415.6 317.2h0M420 327.7h0M426.4 334.1h0M414.6 324.7h0M417.7 328.5h0M420.1 342.2h0M410 331.9h0M408.8 337.5h0M415.4 348.9h0M420.6 319.2h0M410.6 338h0M422.5 324h0M421.4 325.3h0M425.4 329h0M418.9 337.2h0M414.9 337.5h0M409.5 338.2h0M412.8 332h0M415.8 329.8h0M424.1 336.3h0M415 348h0M414.5 347h0M410.5 330h0M416.6 337.7h0M419.3 334h0M422.8 326.2h0M420 335.8h0M424.6 343.1h0M412 333.5h0M422.7 342.4h0M416.5 328.7h0M419 335h0M411.9 341.6h0M420.8 326.2h0M418.2 340h0M417 324.8h0M417.1 322.3h0M423.5 352.1h0M419.1 318h0M417.4 332.5h0M411.9 338.3h0M419.1 334.8h0M409.4 330.2h0M418.3 348h0M423.1 324.1h0M419.6 337.6h0M419.7 337.8h0M426.2 332.4h0M425.9 335.8h0M414.7 347.5h0M418.8 317.7h0M421.8 347.7h0M420.6 329.9h0M417.3 328.9h0M413.9 338h0M417.7 317.4h0M426 340.7h0M419.6 328.5h0M421.4 336.5h0M409.6 329.8h0M421.5 346.1h0M408.5 337.6h0M409.9 334.6h0M418.3 330.6h0M414.8 348.9h0M419.5 321.9h0M418.2 331.1h0M409.5 336.6h0M422.3 325.3h0M419.2 338.6h0M416 345.2h0M416.9 322.6h0M418.7 334.5h0M411.3 334h0M411.5 336.5h0M423.8 347.3h0M417.4 324.7h0M423.5 353.9h0M414.5 323.3h0M417.4 343.5h0M421 346.8h0M423.7 349.7h0M422.5 328h0M425.6 332h0M414.9 326.5h0M417 331.2h0M420.3 340.5h0M420.1 345.9h0M417.5 328.4h0M408.6 330.6h0M424.1 332.5h0M409.1 337.2h0M418.7 317.9h0M417.8 339.5h0M409.6 336.1h0M413.2 326.3h0M413.4 325.4h0M423.3 345.2h0M411.2 328.8h0M418.5 322.6h0M412 344.1h0M417.9 342.7h0M423.8 356.7h0M419.8 337h0M423.6 348.5h0M414 320.6h0M425.2 330h0M420.3 339.3h0M413.4 326h0M421.7 332.9h0M425.8 331.1h0M415.7 318.1h0M410.3 329h0M420.1 344.8h0M415.8 333.4h0M417.7 332.9h0M412.6 341h0M414.6 322.1h0M413.1 345.3h0M419.8 336h0M413.4 323.5h0M420.3 341.2h0M421.3 332.7h0M420.2 346.3h0M417.4 334.4h0M424.5 341h0M422.9 341.4h0M409.4 341.2h0M422.3 343.4h0M412.9 328.4h0M414.1 333.7h0M413.9 340.7h0M414.5 341.4h0M422.1 337.1h0M409.1 334.7h0M422.8 337.2h0M423.8 355h0M420.6 331.5h0M423.4 332.7h0M418.8 323.8h0M423.3 342.3h0M419.9 331.2h0M425.7 341.5h0M423.5 338.4h0M414.4 321.2h0M421.8 336.5h0M413.8 342.2h0M414.3 322.9h0M409.8 335.9h0M417.5 336h0M424.8 342h0M413.3 345.2h0M422.8 352.8h0M415 328.2h0M423.1 322.8h0M416.8 325.2h0M411.7 338.7h0M422.3 341.7h0M417.4 332.8h0M418.3 340.8h0M424.3 338.5h0M421.9 329.6h0M416.3 321h0M416.8 336.1h0M425.6 333.2h0M422.8 333.6h0M421.6 329.1h0M421.8 327h0M425.3 338.6h0M418.8 335h0M412.4 340.7h0M412.7 334.1h0M414.5 337.5h0M414.4 339.1h0M424.3 336h0M421.1 337.1h0M422.8 333.7h0M408.1 336.8h0M415.6 347.5h0M416.1 345.7h0M424.2 337.8h0M421 342.3h0M419.8 336.5h0M412.5 333.6h0M426.5 335.7h0M410.7 328h0M418 350.6h0M423.7 340.2h0M410.5 343.2h0M414.7 338.4h0M422.2 338.4h0M413.4 334h0M424.6 334.6h0M425.2 334.4h0M419.1 350.7h0M417.6 320.9h0M416.4 349.2h0M411.1 328.3h0M422.9 327.6h0M420.3 335.5h0M420.1 347.8h0M413.1 335.9h0M426.2 333.1h0M409.7 336.2h0M418.4 347.1h0M418.3 322.4h0M417.7 347.3h0M423.2 335h0M420.2 343.8h0M411.9 338h0M411.3 327.8h0M423.6 341.4h0M424.5 332.4h0M415 327.4h0M418.5 336.1h0M425.1 335h0M410.1 337.7h0M416.5 340.9h0M419.1 344.9h0M422.9 322.7h0M417 346.2h0M425.1 338.6h0M425.4 336.3h0M409.4 336.5h0M423.4 344.4h0M423.5 337.3h0M413.6 322.7h0M412.8 334.1h0M417.1 322.8h0M413.5 338.3h0M421.3 325.4h0M414.7 344.1h0M420.9 338.9h0M414.4 323.7h0M420 327.1h0M408.2 333.2h0M422.3 344.3h0M410.1 337h0M420.1 330.6h0M424.8 342.1h0M421.2 322.9h0M423.6 340.4h0M418.3 332.4h0M417.1 324.2h0M423.9 338.9h0M424.4 327.5h0M413.4 343.9h0M422.9 328.6h0M416.7 336.4h0M420.3 346.8h0M416.2 341.9h0M413.1 343.5h0M410.5 329h0M411.3 337.5h0M417.8 348.5h0M413 339.6h0M423.5 332.6h0M418.7 347.3h0M410.2 330.1h0M411.8 332.1h0M416.8 349.5h0M410.4 330h0M417.5 336.7h0M418.1 346.8h0M412.5 329.4h0M425.4 339.6h0M421.8 326.6h0M418.8 339.6h0M424.5 328.7h0M414.5 320.3h0M422.6 344.8h0M423.4 344.5h0M421.8 329.8h0M420.4 325.5h0M423.5 349.1h0M415 321.8h0M420.7 334.6h0M413.8 336.4h0M414.5 343.2h0M426.3 340.6h0M414.1 321.6h0M422.4 326.7h0M415.6 328.7h0M421.6 345.4h0M425.1 330.9h0M422.2 341.2h0M422.3 344.2h0M415.9 320.2h0M419.5 325.8h0M409.7 330.3h0M411.5 339.3h0M415.9 327.5h0M418.4 348.8h0M425.2 329.8h0M420.9 342.1h0M417.4 341h0M412.3 330h0M421.9 330.5h0M423.3 352.2h0M421.1 332.6h0M420 339.6h0M425.8 334.2h0M422.5 323.2h0M414.3 333.5h0M412 327h0M419.9 330.3h0M424.9 333.8h0M421.1 337.6h0M425.1 328.1h0M410.6 334.2h0M423.2 333.7h0M423.8 342.2h0M415.9 332.5h0M419.4 329.4h0M413.4 338.8h0M409.3 336.6h0M418 331.4h0M410.8 332.6h0M421.4 335.4h0M414.8 322.6h0M410.9 331.4h0M423.2 341.3h0M425.6 340.3h0M414.3 329.1h0M423.7 336.8h0M419.8 322.1h0M418.5 318.9h0M422.3 338.5h0M419.4 338.1h0M424.7 337.7h0M418.6 327.1h0M418.3 340.3h0M415.7 337.9h0M424.9 340h0M410.7 328.2h0M416.8 326.7h0M424.9 337h0M411.8 335.2h0M418.8 344.5h0M422.7 329h0M415.4 344.6h0M419.2 349.6h0M415.1 330.9h0M418.5 340.9h0M414.9 318.6h0M418.1 336.4h0M421.3 339.4h0M411.6 333.5h0M414.1 338.3h0M410.1 343.7h0M426.2 339.1h0M423 344.4h0M413.4 325.2h0M423.6 349.2h0M408.1 334.7h0M412.1 333.6h0M409.9 334.8h0M417.4 337.3h0M414.9 322.7h0M413.2 340.5h0M420.7 348.2h0M421.2 344.3h0M419.7 337.4h0M419.5 319.9h0M410.5 328.2h0M411.7 340.1h0M418.4 336.5h0M421.7 331.1h0M421 348.6h0M417.1 331.5h0M422.6 322.3h0M414.3 324.7h0M422.9 330.1h0M409.2 337.8h0M417 323.3h0M424.5 339.5h0M419.2 328.8h0M422.1 330.7h0M416.7 339.3h0M416.2 317.2h0M411.3 339.9h0M422.7 341.6h0M421.1 340.2h0M422 326.9h0M410.5 327.1h0M421.7 326.4h0M414.3 328.2h0M419.1 331.1h0M422.6 326.4h0M421.8 347.8h0M423.6 339.9h0M414.5 346.9h0M418 350h0M416.6 330.8h0M422.2 327h0M418.7 321h0M421.2 340.5h0M420.5 320.5h0M414.8 347.5h0M417.5 344.9h0M423.4 333.6h0M422.6 322.3h0M414.1 341.3h0M412.2 336.6h0M411.5 336h0M418.8 344.5h0M421.2 323.7h0M418.6 349.7h0M421.8 324.3h0M409.9 331.8h0M415.5 323.1h0M415.2 334.6h0M421 321.3h0M408.8 338.5h0M415.4 327.2h0M414.4 318.6h0M410.1 329.7h0M414.9 328.2h0M416.4 318.9h0M414 338.4h0M411.3 339.6h0M422.2 334.3h0M417.3 340.4h0M419.4 328.6h0M421.9 333.6h0M413.8 325.8h0M417.8 337.4h0M423.1 346.9h0M416.7 347.9h0M417.1 320.8h0M419.7 324.7h0M415.8 340.6h0M417.4 327.3h0M422.5 336.8h0M412.3 329.5h0M419.9 340.1h0M426.3 339h0M421.1 321.3h0M416.3 347.8h0M424.5 341.4h0M416.6 324.8h0M423.4 354.3h0M413.4 341.8h0M417.6 330h0M421.9 339.4h0M414.3 331.9h0M421.3 343.4h0M413.4 330.6h0M423 323.4h0M419.2 336.6h0M421.6 324.2h0M420.7 334.8h0M415.8 337.7h0M426.9 333.1h0M414.1 341h0M423 325.8h0M415.2 347.5h0M421.8 322h0M421.3 335.4h0M415.5 320.3h0M410.2 329.3h0M413.4 331.4h0M417.3 325.6h0M414.6 324.8h0M416.5 343.5h0M412.6 328.3h0M416 348.5h0M417.2 348.4h0M410.4 328.9h0M418.2 338.3h0M415.7 337.9h0M421.1 341.4h0M420.7 341.5h0M425.4 334.8h0M416 318.4h0M420.7 321.2h0M412.5 344h0M421.3 340.9h0M419.1 342.8h0M413.7 333.6h0M422.1 345.7h0M425.7 332.6h0M422.4 345.9h0M424.8 335.6h0M420 323.4h0M419.5 323.7h0M413.3 333h0M415.3 348.5h0M418.7 325.7h0M412.9 332.3h0M417.6 342.5h0M418.4 348h0M419.7 320.7h0M425.5 332.9h0M420.2 341.7h0M414.9 323h0M423.8 341.1h0M422.6 332.4h0M419.8 345.9h0M421.8 339.3h0M425.8 334.9h0M421.7 321.5h0M413 339h0M421.1 333.8h0M423.4 328.7h0M419 327.8h0M415.3 330.5h0M419.7 326.8h0M421.2 329.2h0M423.2 334h0M412 338.1h0M424 337.9h0M409.1 335.8h0M419.1 344h0M419.4 320.8h0M424.9 343.1h0M416.4 348.9h0M416.7 344.6h0M422.3 338.5h0M414.7 326.7h0M413.9 338.2h0M418.3 321.1h0M418.3 321.1h0M414 339h0M412.5 328.3h0M411.9 343.3h0M416 338.8h0M418.2 339.7h0M423.8 347.1h0M415.1 342.5h0M411.9 340.7h0M416.1 330.6h0M422 346.1h0M415.2 326h0M425.4 341.3h0M425.5 337.3h0M422.2 339.1h0M413.3 328.7h0M421 330.7h0M422.6 329.6h0M415.7 341.4h0M417.8 336.4h0M422.3 325.5h0M415.6 340.4h0M421.3 325.1h0M418.1 342h0M411.2 340.2h0M418.6 346h0M417 318h0M421.4 332.3h0M417.4 339.1h0M415.9 344.5h0M413.4 332.3h0M407.7 334.3h0M418.3 322.8h0M422.6 340h0M420.7 334.1h0M410.5 329.8h0M413.7 339.4h0M421.3 333.5h0M409.1 338.5h0M424.4 340.8h0M425.7 339.6h0M411.4 344.6h0M418 318.8h0M419 326.4h0M411.6 326.9h0M410.9 337.2h0M415.3 323.2h0M418.1 330.9h0M415.4 336.4h0M424.7 327.8h0M410.2 333.3h0M426.3 338.5h0M420.4 324.9h0M422.5 332.1h0M415.2 327.8h0M413.2 346h0M419.9 349.2h0M418.5 343.8h0M417.8 343.3h0M416.8 332.5h0M424.2 332.2h0M422.1 343.9h0M419.7 322.8h0M416.4 323.3h0M423.2 325.5h0M416.8 340.3h0M417.7 320.4h0M424.6 328.7h0M423.7 354.8h0M423.6 337.2h0M418 340.8h0M424.8 332.3h0M421.2 333.8h0M408.2 334.8h0M420.7 334.4h0M410.8 336.3h0M415.1 343.4h0M425.3 339.3h0M423.6 333.5h0M416.2 338.3h0M419.1 327.7h0M414.1 329.3h0M415.7 346.7h0M422.9 357.2h0M415.9 319.2h0M421.9 326.6h0M412 333.5h0M414.5 321.2h0M411.9 327.5h0M414.6 327.5h0M422.5 345h0M420.5 320.2h0M424.9 331.6h0M416.5 319h0M417.5 329.5h0M422.6 337.7h0M415.1 333.4h0M417.8 348h0M418.2 333.2h0M416.5 317.2h0M419.7 348h0M415.4 347.4h0M414.6 336.7h0M418.4 326.4h0M420.5 341.9h0M425.8 338.9h0M409.8 337.1h0M412.7 339.9h0M420.4 320.8h0M407.9 334h0M415.1 348.5h0M420.6 335.5h0M424.7 340.4h0M413.3 331.1h0M420.7 327.6h0M415.6 333.1h0M415.6 329.9h0M422.4 333.7h0M415.8 319.9h0M420.1 321.1h0M418.6 326.7h0M411.2 340.1h0M417.9 331.3h0M416.1 341.7h0M417.4 326.2h0M419.9 344.9h0M421.8 325.9h0M417.1 322.5h0M417.8 322.9h0M409.3 338.1h0M418.5 324h0M377.7 359.7h0M374 358.6h0M376.7 349.6h0M376.6 362.2h0M376.9 365.2h0M374.9 349.4h0M377.4 365.2h0M374.2 361.3h0M378.3 365h0M374.4 357h0M373.9 352.2h0M378.9 363.2h0M375.3 362.6h0M373.7 354.7h0M373.1 354.5h0M374 353.7h0M376.5 364.1h0M373.9 358.4h0M374.1 359.2h0M376.3 357.3h0M379.3 361.3h0M374.8 361.5h0M379.9 362.8h0M374.6 355.4h0M375.5 361.6h0M377.6 349.2h0M376.7 363.1h0M375.2 354.4h0M375.8 354h0M380.6 366.6h0M379.9 367.6h0M379.3 360.3h0M376.6 361.4h0M376.6 356h0M373.9 349.2h0M375.4 357.2h0M380.3 367.4h0M381 364.5h0M373.8 349.1h0M379.3 360.9h0M377.6 363.2h0M376.8 364.6h0M376.6 365.2h0M374.2 353.3h0M375.2 355h0M379.5 363.3h0M378.1 365.2h0M375.9 356h0M375.4 363.2h0M378.4 359.3h0M380 363h0M378.3 358.2h0M378.8 360.7h0M375.9 362h0M378.9 358.2h0M375.1 359.1h0M379.6 361.5h0M376.6 354.8h0M376.5 357.6h0M376 356.8h0M379.3 367.6h0M376.9 364.8h0M381.2 368.3h0M378.4 359.5h0M381 367.4h0M373.6 358.5h0M373.5 356.6h0M374.4 356.8h0M375.8 359h0M380.5 363.9h0M381.3 366.9h0M379.1 366.6h0M374.2 360.9h0M380 365.9h0M378.6 362.2h0M376.9 364.7h0M374.6 348.8h0M375.3 354.7h0M375.6 359.9h0M378.7 364.2h0M376.5 361.3h0M374.4 360.1h0M378.9 358.9h0M375.1 361h0M373.9 353.3h0M374.9 355h0M374.6 352h0M374.4 357.1h0M373.8 356.3h0M375.6 362.8h0M378.6 362.7h0M374.2 352.9h0M376.8 358.3h0M374.4 351.6h0M374.9 358.3h0M377.6 365.7h0M372.7 355.9h0M375 354.7h0M376 358.4h0M379.2 362.5h0M377.5 361h0M380.6 366h0M374.3 360.5h0M378.1 364.1h0M378.5 358h0M375.5 356.9h0M380.4 368.3h0M379.3 365.3h0M377.8 364.3h0M377.1 359.5h0M377.5 356.6h0M377.5 365.4h0M377.6 357.9h0M376.8 361.1h0M378 363.2h0M379.9 363.5h0M379.1 362.2h0M376.8 358.3h0M377.5 358.3h0M374.6 356.7h0M377.5 361.5h0M375.8 360.5h0M380.1 367.5h0M374.5 355.8h0M374.6 350.7h0M380.4 363.3h0M373.1 352.5h0M374.9 354.2h0M375.4 356.2h0M376.3 362.8h0M375.8 360.2h0M375.5 358.8h0M378.3 363.1h0M374.4 357.5h0M377.3 356.4h0M373 356.3h0M376.7 360.8h0M377.5 359.5h0M374.7 356.5h0M374.3 356.5h0M379.8 361.2h0M378.1 362h0M380.8 366.4h0M377.3 356h0M378.8 359h0M375.5 355.9h0M380.3 362.7h0M373.5 356.5h0M375 350.9h0M381.7 367.4h0M373.3 353.6h0M374.5 352.9h0M375.5 355.5h0M381.4 368h0M374.2 360.7h0M377.3 359.4h0M374.7 357.1h0M378.2 339.3h0M374.7 359.7h0M375.2 361.8h0M374.3 351.5h0M373.5 348.9h0M375 362.3h0M379.1 364.6h0M379.4 367.4h0M377.8 365.2h0M378.5 360.1h0M374.4 355.5h0M375.1 352.1h0M376.3 355.2h0M373.6 353.6h0M375.3 362.1h0M376.6 365.1h0M376.8 365.1h0M380.8 363.1h0M379.4 368h0M379 360.1h0M374.8 351.8h0M380.7 366.4h0M374.8 354.2h0M376.2 362.4h0M379.8 365.6h0M376.2 353.8h0M373.5 356.2h0M380.2 366.3h0M377.8 364.3h0M378.4 365.7h0M374.6 358.1h0M376.4 356.8h0M379.6 363.7h0M379.3 362.4h0M374.9 362.1h0M374.7 350.2h0M378.6 360.8h0M380.2 366.7h0M373.8 350.1h0M380.8 363h0M380.2 367h0M375.5 356.1h0M374.4 354.9h0M376 357.7h0M378.3 366.2h0M379.2 367.4h0M379.6 367.9h0M373.9 353.7h0M376.8 364.7h0M378.8 362.3h0M375.2 357.8h0M378.2 365.4h0M379 362.2h0M378.1 338.9h0M378.7 364.1h0M377 359.5h0M380.1 363.6h0M376.1 362.4h0M377.3 356.6h0M375.2 357.2h0M379.8 366.9h0M376.2 363.1h0M373.1 354.6h0M380.9 367.9h0M379.8 360.5h0M376.4 360.7h0M424.2 392.7h0M420.9 380.6h0M423.2 366.4h0M422.5 388.9h0M425.4 383.9h0M424.5 372.2h0M424.9 385h0M424.4 376.6h0M425.9 374.7h0M420.3 390.9h0M418 396.5h0M424.7 368.8h0M422.8 369.1h0M421.3 388.2h0M423.6 372.9h0M424.2 371.6h0M420.9 385h0M420.2 377.6h0M423.3 374.9h0M426.6 374.1h0M426.6 390.3h0M427.8 381h0M427.8 377.3h0M422.7 377.1h0M419.8 385.1h0M427.3 376.8h0M421.5 392.3h0M418.9 383.5h0M421 375.5h0M422.1 369.2h0M418.5 381.6h0M424.6 380h0M423.6 390.9h0M429.7 378.9h0M422.3 390.5h0M418.5 382.7h0M423 366.4h0M423.4 384.8h0M423 367.4h0M422.9 369.7h0M426.7 377.6h0M420.2 375.8h0M423.8 366.8h0M421.7 386.8h0M419.8 385.4h0M428.2 378.6h0M428.7 384.2h0M419.6 383.7h0M425.1 383.4h0M428.6 378.9h0M426.4 389.1h0M426.1 370.1h0M423 383.8h0M419 386.8h0M425.8 389.7h0M423.3 381.1h0M423.5 370.8h0M423.6 367.4h0M425.9 370h0M422.2 374.3h0M423.3 394.2h0M422.4 388.5h0M426.3 383.4h0M418.8 381.5h0M424.2 385.6h0M424.1 379.7h0M419.3 384.3h0M426.2 379.8h0M420.9 382.4h0M425 385h0M423.1 369.3h0M426 376.3h0M424.1 370.7h0M427.3 374.9h0M424.7 379.1h0M422.1 383.1h0M422.3 376.2h0M422.2 385.1h0M423.2 373h0M422.6 386h0M428.2 389.9h0M421.8 384.6h0M424.5 372.9h0M422.7 388.9h0M421.6 372.6h0M428.6 383.6h0M419.8 389.4h0M424.9 390.5h0M423 369.7h0M425.2 377h0M423.3 367.7h0M425.7 373.3h0M427.7 387.2h0M425.4 379.3h0M423 373h0M421.3 379.9h0M423.7 366.1h0M423.4 390.4h0M425.7 373.4h0M423.2 377.1h0M420.9 389.5h0M423.9 372.5h0M421.7 372.1h0M424.1 393h0M425.9 388.6h0M428.2 375.9h0M421.9 372.2h0M425.5 369.5h0M421.5 375.6h0M429.6 384.9h0M421.8 370.3h0M421.3 372.2h0M428.9 378.3h0M423.6 373.1h0M422.3 366.9h0M422.2 376.4h0M428.7 377.2h0M424.1 394.6h0M424.9 379.7h0M424.2 370.5h0M422.3 366.3h0M423.1 376.2h0M429 381h0M421.6 377h0M426.8 385.3h0M423.1 384.6h0M422 391.2h0M429.1 378h0M422 392.6h0M425 386.2h0M428.2 381.8h0M423.5 390.4h0M421.6 377.4h0M419.2 381.9h0M426.9 379.4h0M424.1 377.3h0M422.1 390h0M424.2 370.1h0M422.9 376.2h0M424.4 390.2h0M424.9 368.6h0M421.6 387h0M420.6 375.4h0M419.1 383.8h0M421.8 388.1h0M422.1 376.7h0M421.9 369.7h0M427.8 382.5h0M423.1 365.6h0M424.7 390.6h0M423.5 375.7h0M423.1 373.4h0M427.1 384.9h0M426.8 376.5h0M424.2 375.5h0M424.9 372.8h0M428.6 377.6h0M424.1 369.4h0M424.4 394.1h0M422.1 383.4h0M424.2 377.3h0M429.1 381.8h0M425.1 371.4h0M424 387.1h0M419.7 387.3h0M419.6 389.6h0M418 396.7h0M425.2 376.7h0M422.7 393h0M423.3 367.3h0M424.7 387.9h0M422 388.1h0M426.9 373.1h0M424.3 393.8h0M425.9 373.6h0M423.4 392.9h0M424.4 389.3h0M427.2 373.8h0M425.3 372.2h0M418 383.7h0M424.6 370.1h0M421.4 370.8h0M428.2 385.4h0M427.3 380.6h0M425.3 374.9h0M420.9 376.7h0M420.2 376.2h0M423.6 373h0M424.4 391.5h0M423.7 374.4h0M421.6 379.3h0M425.3 376.7h0M423.6 373.6h0M427.1 390h0M417.2 397.3h0M426.6 370.5h0M427 382.9h0M425.5 383.4h0M426.8 371.5h0M426.9 376.5h0M422.4 367.4h0M424.6 368.6h0M419.7 382.2h0M426.4 371.1h0M428.3 385.2h0M423.3 379h0M422.8 369.1h0M423.3 383.1h0M420 377.4h0M426.5 374.3h0M424.1 390.3h0M426.8 377.2h0M423.4 374.9h0M423.3 373.1h0M424.8 378.6h0M417 397.5h0M429.2 378.8h0M426.3 382.5h0M426.3 386.3h0M426.5 375.1h0M426.5 372.2h0M423.8 377h0M425.7 380.7h0M426 373h0M419.9 389.8h0M424.7 392.1h0M424.1 370.2h0M429.4 378.2h0M423.3 371.9h0M423 371.5h0M421.9 375.2h0M422.5 372.7h0M428.5 385.9h0M426.3 367.5h0M422.4 371.1h0M429.4 385.5h0M428.3 381h0M423.5 386.7h0M422 374.2h0M426.8 388.8h0M426.2 370.2h0M418.2 385.7h0M426.7 370.4h0M422.9 370.5h0M426 383.8h0M423.5 388.3h0M421.4 388.3h0M422.1 376.6h0M424.3 379.7h0M423.4 366.2h0M426.3 370.8h0M425.4 388.3h0M423.7 381.7h0M423.4 384.9h0M428.9 381.6h0M424.3 369.2h0M429.4 377h0M425.6 369h0M426.8 391h0M422.8 369.7h0M416.7 397.4h0M419.5 377.6h0M421.7 376.6h0M421.4 387.8h0M428.3 375.7h0M423.6 366.2h0M420.4 390.6h0M421.2 372.8h0M422.9 381.8h0M419.5 380.2h0M422 374h0M420.1 377.3h0M427 370.7h0M426.1 369.5h0M421.8 376.3h0M422.1 378.9h0M424.9 374h0M425.4 385.6h0M422.7 369.7h0M426 369.3h0M423.7 369.4h0M423 389.4h0M426.1 377.1h0M424.2 389.5h0M428.9 381.2h0M419.7 378.7h0M423.3 373.1h0M425.6 384.5h0M425.6 375.1h0M420.1 375.5h0M420.1 377.3h0M423.3 373h0M423.1 373.2h0M424.1 385.2h0M422.9 370.9h0M422.3 368.5h0M422.9 377.5h0M429.1 378.8h0M418.9 385.5h0M422.2 380.8h0M423.3 370h0M425.3 375.2h0M423 376.4h0M426.4 369.1h0M424.6 370.3h0M423.2 375.4h0M415.9 401.1h0M416 398.9h0M415.4 402.7h0M416.2 405.2h0M415.3 402.2h0M416 404.5h0M416.2 407.1h0M415.8 403.1h0M415.5 396.5h0M415.9 401.1h0M415.3 397.5h0M415.8 400.4h0M415.7 401.8h0M415.5 399.8h0M415.6 397.3h0M415.3 400.6h0M416.2 400.5h0M415.4 403.9h0M415.6 398.8h0M415.8 403.4h0M415.4 396.5h0M416.2 402.9h0M415.3 397.7h0M416.1 404.5h0M414.7 402.3h0M415.4 400.6h0M451.7 377h0M451.2 378h0M453.5 371.8h0M454 370.7h0M451.6 377.1h0M451.9 377.3h0M452.8 375.1h0M453.8 370h0M452.7 376.9h0M452.4 374.6h0M454.2 372.2h0M453.1 370.2h0M453.2 368.8h0M453.7 375.4h0M452.8 376.2h0M453.1 373.3h0M453 373.2h0M453.6 373.5h0M453.4 372.5h0M453.9 370.3h0M450.5 377.8h0M452.9 377.6h0M453.3 375h0M453.6 369.9h0M453.2 373.2h0M452.1 377.7h0M453.6 372.6h0M454.1 372h0M453.2 376.5h0M453 376.9h0M452.8 376h0M454 371.7h0M452.8 377.6h0M451 378.2h0M452.9 375.7h0M454.2 373.6h0M453.3 369.6h0M453.8 370.9h0M453.3 371.2h0M453.4 369.5h0M453 373.2h0M452.1 376.3h0M451.9 376.6h0M452.8 377.2h0M454.2 373h0M453.8 371.6h0M452.1 375.9h0M453.9 369.8h0M454.7 372.5h0M451.7 378.2h0M454 375.2h0M452.1 377.4h0M453.1 374.4h0M454.1 373.8h0M450.9 377.4h0M451.6 377.2h0M451.9 377.8h0M454.1 372.2h0M452.1 376.6h0M454.2 373.2h0M454.3 374h0M453.5 373.6h0M453.9 369.8h0M452.4 378.2h0M452.8 376.9h0M451 378h0M452.3 367.2h0M453.3 365.9h0M452.8 366.1h0M453.2 368.2h0M453 365.5h0M452.5 367.5h0M453.1 368h0M453.5 364.4h0M453 366.9h0M453.8 365.7h0M426.9 361.4h0M394.6 387.4h0M426.8 366.8h0M426.9 360.9h0M429.6 362.4h0M432.1 363.3h0M429.4 361.8h0M427.4 361.2h0M394.6 387.1h0M429.6 362h0M394.6 387.2h0M429.6 361.7h0M428.4 360.9h0M432.3 363.4h0M394.7 387.1h0M432.6 363.8h0M432.9 364h0M430.8 363h0M429.9 362.5h0M430.8 362.6h0M394.9 386.9h0M427.1 360.6h0M427.1 360.9h0M426.9 366.9h0M426.9 366.8h0M394.7 387.6h0M427.3 360.8h0M431.3 363h0M429.9 361.7h0M404 369.1h0M403 368.4h0M429.1 361h0M403.5 368.9h0M430.8 319.5h0M403.8 369.7h0M402.7 369.5h0M429.3 361.3h0M403.6 369.5h0M403.5 369.8h0M429.1 361.7h0" stroke="#c6c6c6" stroke-width="0.6" stroke-linecap="round" fill="none" stroke-opacity="0.95"/>
<path d="M379.8 366.7h0M421.4 384.1h0M425.7 378.9h0M424.2 379.6h0M425.9 370.6h0M429.7 381.9h0M429 378.3h0M422.9 365.1h0M424.9 395.3h0M417.5 396.9h0M427.9 385.5h0M422.5 387.9h0M427.2 389.5h0M422.2 385.2h0M425.9 382.2h0M429.1 377.8h0M430.6 383.2h0M425.9 376.9h0M421.5 386.5h0M423.4 372.5h0M419.9 385h0M425.4 387.8h0M425.1 381.6h0M424.2 385.7h0M424.4 387.9h0M425.8 393.5h0M426.9 378.9h0M425 382.6h0M427.6 389.2h0M423.4 392.8h0M424.8 385.2h0M430.1 381.8h0M418.8 381.4h0M421.8 376.2h0M426.4 381.2h0M421.7 384.4h0M422 385.8h0M421.2 372h0M419.9 378.4h0M423.3 389.3h0M423.7 374.7h0M420.5 388h0M419.4 387.9h0M422.9 375.9h0M421.3 381.5h0M426 379.5h0M420.7 394.1h0M426 393.6h0M428.4 376.4h0M424.8 383.7h0M422.1 384.1h0M423.2 389h0M424.6 377.2h0M426.3 384.9h0M427.4 389.8h0M426 391.8h0M423.1 378.2h0M420.2 384.8h0M426.6 378.1h0M429.3 386.5h0M420.8 379.1h0M423.2 388.2h0M421.1 386.1h0M423.4 394.3h0M426.8 381.1h0M419.4 380h0M420.6 386.4h0M428.3 382.4h0M423.8 382.6h0M421.5 375.9h0M424.5 390.7h0M427.8 379.1h0M427.7 382.8h0M422.7 387.1h0M424.2 393.6h0M421.9 376h0M427.4 391.8h0M420.5 381.7h0M428 378.1h0M423.8 392.8h0M428.4 389.5h0M418.2 383.9h0M426 372.3h0M428.6 385.9h0M423.2 368.7h0M422.1 378.5h0M422.3 380.8h0M421.8 372.9h0M429.6 384.2h0M418.5 385.5h0M422.4 367.9h0M419.1 383.3h0M421.6 376.7h0M423 374.4h0M418.4 381.2h0M428.2 383h0M422.3 371.4h0M416 402.2h0M415.7 401h0M414.7 401.3h0M415.4 401.2h0M415.9 404.8h0M416.2 404h0M415.9 396.4h0M415.3 409.8h0M416 403.8h0M415.3 405.2h0M415.3 406.1h0M416.1 405.7h0M415.6 402.3h0M452.7 374h0M453.7 377.2h0M453.5 376.3h0M452.1 377.1h0M453 372.9h0M430.7 319.8h0M403 368.6h0" stroke="#e4bbb0" stroke-width="0.6" stroke-linecap="round" fill="none" stroke-opacity="0.95"/>
<path d="M428.5 388.4h0M424.9 379.4h0M422 393h0M419.5 385.1h0M422.6 376.7h0M424.8 388.2h0M422.4 374.5h0M421.6 385.9h0M426 382.6h0M428.3 387.8h0M422.3 382.2h0M421.5 389h0M419.7 381.7h0M423.8 369.9h0M423.9 384.4h0M427 384.8h0M429.4 379.4h0M422.2 369.4h0M421 376.4h0M421.7 373.9h0M423.2 390.3h0M428.9 381.3h0M420.5 388.9h0M419 395.3h0M418.7 381.6h0M425.4 377.9h0M422.4 388.9h0M425.1 382.2h0M421.4 385h0M419.8 379.1h0M429.4 379.8h0M428.4 389.2h0M420.2 379.9h0M421.8 390.5h0M426.4 377.8h0M427.3 382.8h0M426 391.7h0M425.2 384.7h0M425.1 380.9h0M422 392.9h0M428 382.8h0M422.6 390h0M424.6 391.1h0M422 374.5h0M426 382.7h0M429.3 382.3h0M424.2 378.8h0M423.2 375.5h0M426.8 371.3h0M428.1 386.2h0M423.7 369.4h0M429.1 386.5h0M420.9 390.2h0M424.2 375.6h0M425 379.9h0M419.8 378.3h0M418.2 395.8h0M422.1 384.6h0M424.8 384.5h0M419.8 382.5h0M419 385.4h0M427.3 386.7h0M421.8 389h0M424.6 368.5h0M426.7 386.8h0M425 372.3h0M423.6 385.5h0M427.2 377.1h0M425.4 383.5h0M420.6 376.6h0M424.6 388.7h0M422.3 382.3h0M420.6 381.7h0M421.4 389.7h0M420.9 386h0M420.9 388.4h0M422.4 381.8h0M425.1 383.6h0M421.8 393h0M424.9 394.8h0M426.4 385.9h0M425.4 378h0M427.7 387.4h0M426.4 381.3h0M424.4 395.2h0M425.4 379.4h0M424.3 383.1h0M424.8 375h0M427.7 382h0M419 382.4h0M422.6 368.4h0M427.9 388.1h0M422.8 381.9h0M428.6 377.9h0M424.5 392.4h0M419.3 395.5h0M426 381.1h0M427.8 377.8h0M422.9 376h0M425.3 389.9h0M422.9 393.7h0M424.4 392.7h0M425.4 391.5h0M427.7 380.8h0M426.2 379.6h0M420.5 389.6h0M423.9 373.6h0M425.4 388.9h0M422.5 372.5h0M427.8 387.7h0M426.6 368.3h0M429.2 384.4h0M421.2 381.2h0M426.8 381.3h0M421.8 382.7h0M430.3 383.1h0M423.8 388.6h0M426.8 387.4h0M418.2 396.7h0M423.5 383.9h0M423.5 382.3h0M425.5 374.6h0M424.8 383.3h0M415.1 401.5h0M415.9 402h0M416.2 404.3h0M415.7 402.5h0M416.1 403.9h0M415.1 404.4h0M414.8 402.8h0M416.2 403.6h0M416.7 404.4h0M416.2 405h0M415.6 399.6h0M415.1 403.4h0M415.5 404.7h0M415 399.2h0M416.8 396.6h0M415.9 400.9h0M415.5 400.1h0M415.1 400.4h0M415 401.1h0M451.6 377.8h0M453.9 374.9h0M454.3 374.2h0M451.7 376.5h0M453.1 372.6h0M430.3 319.7h0M403.4 368h0" stroke="#dd917c" stroke-width="0.6" stroke-linecap="round" fill="none" stroke-opacity="0.95"/>
<path d="M426.4 374.6h0M418.7 386.6h0M423.7 387.3h0M421.7 388.4h0M421.8 389.7h0M423.4 389.1h0M428.4 390.4h0M417.8 382.2h0M427 377.8h0M420.5 384.1h0M417.1 397.2h0M429.3 387.3h0M416.5 397.6h0M426.9 381.5h0M426.4 388.4h0M423.8 390.8h0M418.6 395.5h0M427.4 391h0M419.6 380h0M428.5 381.3h0M418.3 382h0M425.8 384.5h0M424.3 382.5h0M423.8 390.5h0M421.8 380.7h0M419.5 387.3h0M427.9 382.4h0M419.7 383.3h0M426.2 379.7h0M423.3 391.2h0M423.8 387h0M427.9 381.2h0M419.1 379.4h0M421.9 382.6h0M425.8 372.6h0M427.9 386.5h0M424.1 386.8h0M419 385.6h0M422.5 390.5h0M429.5 385.2h0M427.4 387.4h0M419.7 383.5h0M428 390.3h0M425.4 392.8h0M428 390.4h0M423.9 393.6h0M427.6 387.7h0M421.9 391.7h0M419.1 395.9h0M422.2 371.5h0M426.3 380.8h0M426.3 393.3h0M427.6 386.3h0M424.6 377.9h0M420.8 384.6h0M429.7 380.5h0M426.2 392.4h0M422.3 393.8h0M428.8 381.7h0M419.4 383.6h0M421.4 383.8h0M424.4 389h0M429 388.4h0M419.3 380.9h0M425.3 378.4h0M422.9 391.2h0M419.3 384.8h0M422.9 385.1h0M419.7 385.5h0M429.5 382.4h0M425 390.5h0M419.3 388.7h0M418.4 396.1h0M420.1 386h0M426.9 377.8h0M429.1 388.4h0M421.6 371.6h0M422.4 378h0M425.9 388h0M423.4 382.4h0M426.4 382.8h0M428.2 388.9h0M426.3 392.8h0M423.7 391.1h0M426.8 391.2h0M425.4 384.6h0M419.5 387.8h0M422.8 393.2h0M421.5 387.3h0M428.6 380.7h0M425.1 391.1h0M425.1 392.3h0M419.5 388.1h0M420.3 385.6h0M427.3 376.1h0M421.4 381.1h0M428.7 389.4h0M422.8 385h0M422.5 378.4h0M427.7 379.2h0M427.4 382.1h0M419.1 394.9h0M420.7 394.2h0M420.3 378.1h0M424 392h0M430.6 382.4h0M419.1 385.9h0M418.9 383.1h0M423.7 382.2h0M424.9 392.1h0M422.4 380.6h0M426.2 370.4h0M423 376.4h0M422 381.9h0M421.8 392.1h0M421.2 380.8h0M422.7 381.2h0M428.7 387.1h0M428.1 385.5h0M428.4 383.9h0M426.3 392.2h0M425.3 393.3h0M423.6 381h0M422 390.8h0M419.5 387.6h0M421.3 385.2h0M420.5 389.4h0M421.3 381h0M422.7 393.1h0M420.3 383.8h0M420 378.3h0M417.6 397.3h0M427.8 379.8h0M421.7 383.4h0M427.5 389.6h0M426.4 370.6h0M424.5 388.1h0M427.3 380.9h0M427.5 380.4h0M425.4 378.4h0M423.4 387.5h0M425.8 378.1h0M424.2 384.7h0M427.4 390.2h0M428.4 378.7h0M425 392.7h0M424.3 381.7h0M426.4 381.6h0M424 392.6h0M418.9 395.8h0M421.5 385.8h0M424.5 387.5h0M420 385.7h0M421.7 384h0M420.1 393.8h0M422.8 379.5h0M426 371h0M428.1 383h0M422 378.9h0M427.9 389.5h0M427.9 383.1h0M426 384.3h0M426.7 387.4h0M421 380.7h0M422.4 373.8h0M426.3 391.3h0M418.6 396.5h0M424.3 386.1h0M428.6 379.9h0M418.6 385.4h0M422.5 391.3h0M419 385.4h0M421 389.2h0M421.1 378.7h0M421.8 385.3h0M424.2 385h0M415.7 402.3h0M415.3 401.1h0M415.8 402.5h0M416.2 399.3h0M416.1 403.4h0M415.4 401.3h0M416.2 402.3h0M415.7 403.6h0M415.7 399.6h0M415.4 399.5h0M415.7 401.9h0M415.4 401.5h0M415.9 401.4h0M414.8 400.6h0M415.8 397h0M415.1 401.8h0M414.4 404.2h0M415.3 402.6h0M416 402.3h0M415 402.9h0M415.9 402.2h0M415.5 397.7h0M415.4 402.7h0M416 402.4h0M415.4 397.1h0M416.5 398.4h0M415.5 403.8h0M416.1 408.6h0M415.6 403h0M415.7 399.6h0M414.9 400.1h0M415.2 404.6h0M415.6 395.5h0M416.2 398.7h0M416.7 403.1h0" stroke="#d6624a" stroke-width="0.6" stroke-linecap="round" fill="none" stroke-opacity="0.95"/>
<line x1="473.5" y1="309.6" x2="473.5" y2="412.8" stroke="#444" stroke-width="0.6"/>
<line x1="473.2" y1="412.5" x2="564.7" y2="412.5" stroke="#444" stroke-width="0.6"/>
<line x1="472.2" y1="318" x2="473.5" y2="318" stroke="#444" stroke-width="0.4"/>
<text x="471" y="318.9" font-size="3.0" text-anchor="end">10</text>
<line x1="472.2" y1="337.4" x2="473.5" y2="337.4" stroke="#444" stroke-width="0.4"/>
<text x="471" y="338.3" font-size="3.0" text-anchor="end">5</text>
<line x1="472.2" y1="356.8" x2="473.5" y2="356.8" stroke="#444" stroke-width="0.4"/>
<text x="471" y="357.7" font-size="3.0" text-anchor="end">0</text>
<line x1="472.2" y1="376.2" x2="473.5" y2="376.2" stroke="#444" stroke-width="0.4"/>
<text x="471" y="377.1" font-size="3.0" text-anchor="end">-5</text>
<line x1="472.2" y1="395.7" x2="473.5" y2="395.7" stroke="#444" stroke-width="0.4"/>
<text x="471" y="396.6" font-size="3.0" text-anchor="end">-10</text>
<line x1="496.2" y1="412.5" x2="496.2" y2="413.8" stroke="#444" stroke-width="0.4"/>
<text x="496.2" y="416.6" font-size="3.0" text-anchor="middle">-10</text>
<line x1="522.8" y1="412.5" x2="522.8" y2="413.8" stroke="#444" stroke-width="0.4"/>
<text x="522.8" y="416.6" font-size="3.0" text-anchor="middle">0</text>
<line x1="550.1" y1="412.5" x2="550.1" y2="413.8" stroke="#444" stroke-width="0.4"/>
<text x="550.1" y="416.6" font-size="3.0" text-anchor="middle">10</text>
<text x="518.7" y="311.5" font-size="8.8" text-anchor="middle" font-style="italic">Fli1</text>
<text x="516.8" y="421.4" font-size="6.5" text-anchor="middle">UMAP1</text>
<text x="469.8" y="360.5" font-size="6.5" text-anchor="middle" transform="rotate(-90 469.8 360.5)">UMAP2</text>
<path d="M518.1 326h0M525 338.7h0M524.4 342.7h0M521.1 328h0M524.9 348.6h0M527 320.2h0M528.1 324.2h0M525 318.8h0M528.9 327h0M519.8 331.1h0M530.2 336.2h0M525 336.2h0M521.1 322.1h0M518.4 338.3h0M531.9 335.3h0M524.2 328.5h0M525.2 334.2h0M532.2 339.6h0M522.1 337.6h0M521.2 325.1h0M520.1 343.3h0M521.7 336.1h0M523.3 349.5h0M517 329.8h0M524.2 317.4h0M523.6 326.3h0M532.3 334.1h0M521 334.8h0M529.7 334h0M528.8 325.3h0M531.1 335.7h0M522.2 346.7h0M524 328.7h0M520.9 331.1h0M521.4 342.2h0M519.8 333h0M523.3 336.1h0M529.4 328.6h0M518.7 331.2h0M532.2 335.8h0M528.6 339.3h0M521.2 326.7h0M525.4 344.2h0M528.3 339.3h0M517.9 340.1h0M524 348.5h0M516.7 339.7h0M519.9 343.9h0M517 330.1h0M521.6 330.3h0M515.6 338.5h0M526.7 339.2h0M517.8 340.8h0M525.2 322.4h0M523.9 334.3h0M529.7 325.5h0M528 323.5h0M521.9 346.1h0M527.9 341.2h0M530.1 339.9h0M516.3 337.1h0M527.7 340.5h0M522.8 339.2h0M527.2 334.1h0M526.9 324.9h0M526.2 320.7h0M527.9 324.4h0M524 336.7h0M522.8 330.5h0M524.9 337.7h0M524.1 324.8h0M520.6 341.7h0M528.8 341.7h0M521 346.9h0M522 319h0M527.7 329.2h0M525.3 339.6h0M523.6 344.8h0M515.1 334.3h0M529.7 338.8h0M529.7 330.5h0M530.5 328.6h0M518.3 332.1h0M529 346.5h0M522.4 324h0M530.8 326.8h0M523 328.7h0M517.1 334.2h0M529.1 338.4h0M530.8 336.2h0M521.9 344.1h0M522.1 338.1h0M521.6 333.4h0M517.1 338h0M523.4 318.6h0M518.1 333.5h0M531.7 334.1h0M525.9 328.6h0M522.1 322.9h0M530 349.4h0M523.9 332.4h0M524.6 332.1h0M531 329.4h0M528.9 326.7h0M522.9 330.8h0M527 349h0M522.5 347h0M526 317.9h0M515.3 339.1h0M532.8 339h0M517.7 340.1h0M529.5 323.4h0M531.4 343.1h0M527.5 328.4h0M530.8 338.5h0M530.2 328.2h0M531.4 340h0M516.2 329.3h0M528.3 322h0M523.9 332.8h0M528.4 338.8h0M527.5 348.6h0M516.1 336.1h0M518.3 335.6h0M525.1 320.7h0M530.6 336.3h0M526.1 337h0M517.3 340.6h0M528.1 334.8h0M522 326.4h0M529.4 330.1h0M529.7 333.7h0M525.2 322.1h0M530.3 344.9h0M530.8 329.5h0M528.4 343.5h0M521.9 327.2h0M527.5 343.4h0M528.3 326.6h0M531 328.7h0M529.3 337.2h0M525.7 349.6h0M530.4 338.9h0M521.9 339.5h0M519.9 336h0M516.9 332.8h0M520.5 339h0M529.1 336h0M524 328.4h0M526.1 319.4h0M532.6 336.4h0M530.1 348.5h0M528.3 327h0M530.3 350.4h0M519.5 327.5h0M516.7 329.3h0M528.7 332h0M517.6 340.1h0M530.9 327.5h0M523.1 337.4h0M520.2 329h0M527.6 331.3h0M529.8 323.5h0M532.7 332.4h0M521.3 348.9h0M514.2 336.4h0M518.4 327.5h0M527.3 333.6h0M531.3 342h0M527 320.5h0M514.2 334.3h0M522.4 332.5h0M523.9 341h0M525.6 342.8h0M519.4 342h0M519.2 339.3h0M523.5 318.5h0M516 339.5h0M519 342.6h0M529.6 346.9h0M521.5 348h0M519 344.8h0M523.6 320.8h0M518.2 340.1h0M526.9 347.7h0M527.6 341.4h0M520.9 341.2h0M523.5 324.8h0M518.2 341.6h0M522.3 340.6h0M529.9 344.5h0M528.4 322.3h0M531.6 328.1h0M519.3 334.1h0M526.1 348.6h0M527.9 343.4h0M520.5 338.4h0M523.3 342.1h0M523.9 324.8h0M530.7 343.8h0M514.7 333.2h0M516.4 334.8h0M527.4 333.8h0M529.4 339.2h0M521.6 339.9h0M529.1 340h0M522.6 330.6h0M527.8 332.7h0M527.2 341.5h0M523.3 336.4h0M531.3 335.6h0M525.6 345.8h0M528.7 342.4h0M521.4 322.7h0M519.9 331.4h0M519.9 324.9h0M523.9 343.5h0M530.9 327.8h0M522.8 325.3h0M520.8 333.5h0M523.8 328.9h0M527.8 326.8h0M526.9 342.1h0M522.7 347.9h0M514.4 333.2h0M519.9 334h0M525.1 348.2h0M529.9 345.6h0M519.6 345.3h0M521 343.2h0M520.5 320.6h0M520.9 339.1h0M525.1 349.3h0M519.5 339h0M523.9 317.6h0M516 338.2h0M520.4 327h0M516.6 337.7h0M526.5 336.6h0M525.4 318.2h0M528.8 333.9h0M531.3 332.3h0M530.3 356.7h0M528 339.1h0M527.3 328.4h0M523.6 317.6h0M526 338.3h0M529 335.8h0M519.9 330.6h0M527.2 334.4h0M519.2 334.1h0M528.7 324.5h0M521.2 332.2h0M524.8 340.8h0M518.1 337.5h0M524.8 348.5h0M521.1 324.7h0M523.8 331.2h0M525.9 335.7h0M530.1 340.3h0M527.2 333.7h0M519.1 326.5h0M522.8 321h0M524.6 346.8h0M527 347.5h0M528.8 344.6h0M531.4 336.8h0M526.7 328.1h0M515.6 337.8h0M527.2 321.2h0M526.7 343.8h0M527.7 323.7h0M526.8 341.2h0M521.2 346.6h0M523.6 324.2h0M524.2 347.3h0M516.2 333.2h0M516.9 328.9h0M523.3 325.2h0M524.8 321.1h0M529.9 352.5h0M517.2 341.6h0M520.6 328.1h0M521 343.2h0M524.5 327.8h0M529 343.7h0M527.2 334.6h0M522.6 319.4h0M524.3 329h0M517.3 329.9h0M530.3 331.2h0M522.4 327.5h0M524.3 333.6h0M529.9 350.9h0M532 342.7h0M524.3 339.5h0M523.5 345h0M522.7 317.2h0M524.3 348h0M525.2 347.3h0M518.5 344.1h0M527.1 319.2h0M531.2 343.9h0M517.9 338.4h0M522.9 349.2h0M530.2 354.8h0M529.8 323.9h0M516.5 333.9h0M526.9 325.5h0M529.8 345.2h0M523.8 336.2h0M526.8 346.8h0M517.8 343.2h0M519 333.6h0M515.1 335.7h0M519 331.5h0M522.9 333.6h0M528.4 326.6h0M528.4 331.8h0M517.1 328.8h0M527.4 339.5h0M525.3 328.2h0M522.2 344.2h0M525.6 334.8h0M517.1 328.4h0M530 355.4h0M521.7 327.8h0M526.5 339.6h0M523.9 327h0M515.6 331.3h0M530.5 330.6h0M515.7 337.8h0M520.6 321.6h0M521.2 338.4h0M528.8 336.6h0M530 349.1h0M529.3 352.8h0M524.3 348.5h0M515.9 336.5h0M525.3 341.9h0M529.1 345.2h0M520.3 340.1h0M523.9 337.9h0M522.1 317.2h0M522.7 337.7h0M524.2 349.6h0M520.5 338.6h0M526.4 340.1h0M514.7 335.8h0M526.6 347.8h0M522.4 344.5h0M520.6 341h0M529.9 334.1h0M521.6 346.7h0M529 328h0M530.1 341.4h0M519.9 337h0M522.9 323.3h0M532.8 340.6h0M524.7 345.8h0M517.3 336.3h0M532.3 334.9h0M523.2 344.6h0M521.8 319.3h0M524.5 331.4h0M521.4 332h0M528.2 332.9h0M516.6 337h0M530 343.8h0M528.2 331.1h0M527.1 321.4h0M521.3 322.6h0M521.7 346.4h0M528.7 339.1h0M530.6 340h0M527.6 332.6h0M515 337.6h0M526.8 326h0M521.3 322h0M522.6 322.2h0M519.7 345.7h0M528.6 337.1h0M523.7 348.4h0M528.5 326.9h0M527.6 337.6h0M518 336h0M529.5 325.8h0M515.9 329.8h0M528.4 331.4h0M528.3 325h0M527 326.3h0M523.9 332.5h0M519.9 332.3h0M523.7 334.3h0M527.7 330h0M521.8 330.8h0M527.4 331.7h0M524.4 348.3h0M525.4 339.5h0M517.4 340h0M522.3 319.9h0M523.8 324.2h0M530.5 330h0M522.2 341.4h0M526.8 326.6h0M522.2 322.4h0M530.1 333.5h0M530.3 354.3h0M525.8 334.8h0M522.9 320.4h0M523.5 347.1h0M523 340.3h0M532.6 335.6h0M521.6 338.8h0M528.3 339.3h0M524.8 322.4h0M519.2 339.9h0M515.7 334.3h0M525 318.9h0M530.1 337.2h0M522.1 344.3h0M524.6 323.6h0M529 324h0M520.2 339.4h0M527.4 345.5h0M517.8 327.8h0M518.5 327h0M521.4 342.8h0M524.2 324.5h0M529.3 326.2h0M529.3 333.6h0M528.3 322.4h0M526.6 340.9h0M520 324.3h0M525 336.1h0M521.7 342h0M526.7 346.3h0M527.8 345.6h0M526 337.4h0M525.2 340.7h0M518 341.9h0M530.6 335h0M517.9 339.7h0M530.4 324.7h0M529.5 355.2h0M519.5 339.6h0M524.7 340h0M520.4 332.5h0M520.8 331.9h0M517.9 339.6h0M521.6 342.5h0M522.6 341.7h0M529.9 356.3h0M526.2 324.7h0M523.3 349.4h0M520.2 326.6h0M525.2 348.3h0M526.3 336.5h0M524.2 320.4h0M522.8 321.6h0M516.3 333.7h0M528.9 335h0M532.7 334.6h0M523.1 324.8h0M533.2 332.9h0M522.1 329.9h0M526.6 342.1h0M522.1 338.4h0M521.4 328.2h0M526.7 318.5h0M523.7 337.1h0M522.5 348.8h0M525.5 350h0M531 341.4h0M522.1 325h0M522.9 344.6h0M522.8 317.7h0M532.5 340.7h0M525.4 328.9h0M523.9 322.3h0M529.1 329.6h0M532.2 332.5h0M522 320.3h0M531.3 342.1h0M519.4 327.6h0M524.7 326.9h0M531.5 338.5h0M530.3 340.8h0M520.3 342h0M515.3 338.3h0M517.5 327.1h0M527.8 348.5h0M519.9 325.6h0M525.3 335h0M521.1 346.8h0M521.4 326.1h0M520.2 344.2h0M522.4 320.2h0M517.2 328h0M530.4 353.9h0M521 324.3h0M523 317.7h0M524.9 350.4h0M521.6 343.4h0M525.1 327.1h0M527.4 334h0M520.1 345.6h0M524.5 350.6h0M523.9 339.1h0M521 319.5h0M532.3 334.2h0M526 319.9h0M521.6 338.9h0M516.2 330.3h0M531.7 334.4h0M527.2 327.9h0M525.9 320.8h0M523.2 347.9h0M524.8 330.6h0M526.2 347.7h0M519.7 326.3h0M525.3 323.8h0M523.6 348.6h0M529.2 331.3h0M529.2 341.6h0M521.9 347.4h0M523 332.7h0M527.5 320.8h0M521.7 341.8h0M530 352.1h0M528.1 337.8h0M519.8 345.2h0M520.2 325.5h0M525.3 344.5h0M518.3 333.9h0M520.2 346.2h0M525.4 337.2h0M530.3 348.7h0M531 339.5h0M517.8 339.6h0M527.8 325.4h0M523.2 339.3h0M522.6 333.3h0M521.8 334.3h0M524.6 319.2h0M526.1 327.4h0M524.9 348h0M522.2 342.5h0M528.8 344.3h0M531.4 341.7h0M531.9 338.8h0M530.2 340.2h0M522.1 333.1h0M524.4 316.7h0M521.9 348.9h0M525.5 326.4h0M524 339.6h0M521.7 347.9h0M520.2 333.6h0M528.9 345.9h0M525.2 336.9h0M530.6 336.7h0M522.6 347.2h0M531 332.4h0M524.8 332.4h0M521.2 328.8h0M524.6 330.9h0M519.5 337.5h0M525.9 327.8h0M519.8 328.7h0M518.7 345.4h0M531.5 330.3h0M520.3 342.2h0M516.9 329.3h0M523.3 344.1h0M524.2 337.5h0M525.6 350.7h0M522.3 330.5h0M523 343.5h0M521.6 330.9h0M519.4 334.4h0M530.8 328.6h0M521.5 328.2h0M527.8 333.5h0M531.5 342.1h0M530.6 334.9h0M526.8 339.3h0M517.4 340.4h0M518.4 343.6h0M525.2 321.9h0M521.6 348.5h0M519.2 330.5h0M517.3 336.3h0M517.5 332.2h0M521 323.3h0M517.2 338.1h0M524 348.6h0M525.5 346.1h0M520.7 329.5h0M525.6 344h0M523.7 337.7h0M526.1 337.6h0M528.1 337h0M528.4 333.6h0M526.2 337.8h0M520.4 344h0M529.2 336.5h0M522.3 333.4h0M531.9 341.3h0M530.2 346.3h0M531.6 335h0M524.5 350h0M521.7 331h0M529.3 337.2h0M514.6 334.7h0M522.3 337.7h0M526.3 333.6h0M516.8 329h0M526.9 339.7h0M526.4 330.3h0M516.8 335.1h0M520.8 346.3h0M527.2 328.3h0M524.3 349.6h0M527.8 344.3h0M529.2 329h0M531.7 330h0M526.2 330.3h0M527.8 339.4h0M527.9 335.4h0M522.9 348.9h0M529.1 337.7h0M526.8 320.9h0M529.6 329.1h0M528.3 329.8h0M522.5 348.5h0M522.8 334.4h0M529.9 353.8h0M531.9 339.6h0M523.8 341.2h0M527.1 331.5h0M522.7 341.9h0M531.2 332.7h0M526.2 329.8h0M514.4 336.2h0M521.9 344.6h0M518.9 340.7h0M529.9 333.6h0M517 333.7h0M524.1 349.9h0M520.6 329.3h0M519.1 328.3h0M524.8 340.3h0M526.5 320h0M528.5 347.1h0M523.5 327.1h0M521.9 336.4h0M522.5 345.2h0M526 321.9h0M531.4 343.1h0M521.1 329.6h0M531.6 330.9h0M529.4 329.8h0M519.3 332h0M518 338.1h0M530 351.8h0M520.4 345.6h0M515.3 338.5h0M528.2 335.5h0M520.2 337.8h0M526.8 335.5h0M528.3 347.8h0M522.6 324.6h0M532.3 338.9h0M519.7 332.8h0M525.6 327.7h0M526.1 328.5h0M521.7 335.8h0M529.9 354.9h0M527.5 321.3h0M517.7 328.8h0M526.1 327.6h0M528.4 330.5h0M528.7 343.7h0M527.1 343.7h0M521.5 319.7h0M521.4 323h0M527.4 331.4h0M530.3 339.7h0M516.5 339.4h0M520.6 344.6h0M517.1 340.4h0M528.7 338.4h0M525.9 329.4h0M526.6 326.1h0M532.7 333.1h0M523.5 323.3h0M516.9 330h0M524.7 331.1h0M527.2 348.2h0M526.4 331.2h0M524.1 330h0M527.7 344.3h0M521.9 321.8h0M523.8 340.4h0M521.7 348.1h0M520.3 342.3h0M522.2 337.9h0M516.6 329.7h0M525.5 321.5h0M532 337.3h0M525.6 331.1h0M514.4 337h0M527.4 338.9h0M523.4 322.6h0M521.2 330.2h0M519.4 328.4h0M525.2 317.9h0M526 325.5h0M523.5 322.9h0M526.8 340.5h0M530.3 347.1h0M530.3 332.8h0M524.7 326h0M524.6 350.2h0M521.5 327.4h0M527 345.4h0M520 331.6h0M518.6 333.6h0M532.5 339.7h0M524.5 340.8h0M518.5 333.5h0M525.3 344.5h0M526.8 325.7h0M522.6 331.9h0M524.1 319h0M528.4 341.5h0M520.5 335.6h0M515.8 338.1h0M519.6 338.4h0M518.8 337.4h0M521 330h0M516.5 331.9h0M529.8 340.8h0M527.1 337.7h0M528.1 329.1h0M521.7 344h0M528.7 323.6h0M525 340.9h0M524.3 322.9h0M526.7 341.7h0M526.3 325.9h0M526.5 327.7h0M521.8 334.3h0M527.6 344h0M514.5 336.9h0M527.6 322.6h0M527.7 333.8h0M523 319h0M528.9 327.6h0M528.7 339.6h0M527.8 325.1h0M521.3 347.5h0M523.2 329h0M530.4 324.7h0M529.7 344.9h0M531.2 334.8h0M518.6 330.8h0M526.7 321.2h0M526.9 335.7h0M519.5 333.6h0M525.5 339.1h0M522.9 318.9h0M529.2 342.4h0M520.8 322.9h0M522 336.8h0M530.7 331.3h0M516.5 334.4h0M530.1 356.7h0M515.6 334.7h0M526.5 319.7h0M531.4 333.9h0M530.3 356.8h0M532.4 335.8h0M526.2 332.5h0M523.3 326.7h0M521.5 325.1h0M528.6 327.7h0M532.9 334.1h0M524.3 345.8h0M529.5 332.5h0M530.3 347.3h0M525.3 350.1h0M523.6 320.1h0M526.9 322.2h0M524.5 332.6h0M527.2 335.9h0M524.9 347.1h0M526 323.7h0M526.2 334.3h0M519.6 335.9h0M523.8 326.2h0M518.6 330.8h0M519.5 335.2h0M527.2 321.2h0M526.2 326.8h0M519.9 325.4h0M519.3 335.7h0M517.5 340h0M527.6 321.3h0M516.2 336.2h0M524.5 339.5h0M522.6 345.7h0M523.9 334.4h0M518.8 330h0M528.3 324.9h0M527.4 337.3h0M520.1 325.5h0M518.4 340.7h0M521.2 329.7h0M514.7 334.8h0M518.8 330.7h0M522.7 325.4h0M520.3 336h0M521.5 332h0M526.4 345.6h0M525.3 345.3h0M523 317.2h0M521.2 342.3h0M525.2 348.8h0M525.1 346h0M518.4 341.6h0M530 356.1h0M517 329h0M521 345h0M526.9 342h0M530.3 342.2h0M521 341.4h0M525.9 333.7h0M519.7 346h0M523.5 318h0M521.2 345.4h0M525.9 339.5h0M526.2 322.8h0M525.4 325.5h0M521.3 339.7h0M526.3 345.9h0M529.3 345.5h0M528.8 321.5h0M524.3 339.6h0M530.3 341.1h0M525.7 328.8h0M531.7 329.8h0M529.1 326.4h0M523.6 343.4h0M519.8 339.3h0M528.5 346.1h0M522.5 317.4h0M521.7 347.5h0M526.8 347.2h0M518.8 339.9h0M521.5 324.7h0M525 320h0M528 335h0M525 328.7h0M519.3 334h0M530.8 332.8h0M531.1 343.1h0M530 337.3h0M521.5 321.8h0M522.7 347h0M524.9 330.3h0M530.5 337.9h0M515.7 330h0M527.5 332.3h0M517.2 328.2h0M523.8 332.4h0M524 329.5h0M527.2 329h0M528.1 345.4h0M521.1 327.5h0M519.9 338.8h0M529.1 322.3h0M523.6 324.7h0M527.7 328.9h0M523.7 326.9h0M524.6 336.4h0M518 340h0M518.5 338.1h0M525.4 350.5h0M524 332.4h0M516.6 339.9h0M526.3 325.8h0M521.7 329.4h0M519.4 326.9h0M524 344.9h0M526.3 348h0M523.5 331.2h0M526.8 337.1h0M532 332.9h0M521.2 326.9h0M524.2 345.3h0M524.6 342h0M527.6 327.9h0M528.6 343.9h0M527.1 343.1h0M523.6 322.8h0M521.4 335h0M517 328.2h0M517.9 329.5h0M526.6 330.6h0M525.3 317.7h0M523.1 347.5h0M527.5 330.7h0M521.8 348.5h0M529.8 342.5h0M526.7 328.9h0M531.8 339.3h0M530.3 347.3h0M530 352.5h0M530.2 355.1h0M522.4 320.2h0M528.8 341.6h0M532.6 333.2h0M520.3 336.4h0M530.1 352.1h0M518.4 343.3h0M527.2 334.8h0M528.8 343.4h0M523.6 347.1h0M529 338.6h0M527.6 333.8h0M520.8 324.7h0M521.3 324.9h0M522.5 324.1h0M526.6 342.2h0M521.5 345.7h0M525.4 320.8h0M532.3 331.1h0M523.9 326.2h0M527.3 339.6h0M532.8 336.1h0M516 333.3h0M529.8 339.5h0M522.5 339h0M528.6 330.7h0M523.4 345.1h0M519.9 326h0M525.6 348.9h0M528.8 344.2h0M524.4 336.8h0M515.2 329.8h0M528.3 341.9h0M527.8 343.4h0M531.7 331.6h0M528.4 335.8h0M528.5 343.1h0M522.2 331.1h0M531.2 340.4h0M522.9 349.2h0M520.7 326.5h0M528.6 345.7h0M531.9 329h0M526.3 339.8h0M522 323.1h0M521.2 337.7h0M516.9 340h0M515.1 330.6h0M527.4 338h0M520.6 338.3h0M525.2 321h0M524.2 332.9h0M523.3 318.6h0M528.6 338.5h0M529.5 344.4h0M531.2 339.1h0M519.7 340.5h0M527.5 346.8h0M519.1 341h0M525.2 325.7h0M520 326.7h0M521 320.3h0M530.7 330.9h0M521.1 336.7h0M531 339.6h0M517.4 331.4h0M521.1 324.8h0M524 335.6h0M526.5 323.4h0M532.1 338.8h0M530.3 355h0M517.2 335.2h0M517 338.9h0M517 330h0M526.3 336h0M531.2 329h0M529.4 341.4h0M531.7 330.4h0M524.9 344.4h0M523.8 320.8h0M517.4 335.1h0M520 346.9h0M482 358.8h0M481.2 356.5h0M481.8 362.6h0M482.5 360.2h0M484.8 363.1h0M482.7 362.4h0M479.6 354.5h0M487.5 367.4h0M481 355.8h0M482 355.9h0M484.6 338.9h0M485.3 362.3h0M484 361h0M481.5 362.3h0M523.3 398.3h0M528.1 373.2h0M528.3 389h0M526.3 389.5h0M530.1 385.5h0M532.4 373.6h0M525.3 381.5h0M534.5 382.8h0M533.1 370.5h0M531.5 385h0M524.7 396.7h0M526.6 377.3h0M533.3 387.4h0M535.9 379.4h0M531.9 388.9h0M531.3 384.5h0M534.2 379.2h0M532.7 384.6h0M528.5 381.9h0M532.8 392.8h0M530 382.3h0M535.6 381.8h0M530.8 386.1h0M530.2 381.7h0M529.6 384.6h0M526 387.8h0M530.3 388.6h0M530.6 369.4h0M527.8 385.2h0M528.9 371.1h0M531.8 372.2h0M536.6 381.8h0M534.4 382.4h0M529.2 393h0M535.2 387.1h0M528.6 369.4h0M532.5 369.3h0M530.6 394.6h0M528.1 371.6h0M522.1 395.5h0M521.7 401.7h0M521.6 402.3h0M522.4 401.4h0M522.7 402.3h0M521.8 409.8h0M522.6 405.7h0M522.4 402.2h0M522.4 404.8h0M521.9 396.5h0M522.7 402.9h0M521.7 404.6h0M522.7 403.6h0M522.6 403.4h0M522.7 404h0M522.1 399.6h0M522.2 399.6h0M522.2 403.6h0M521.9 403.9h0M522.5 403.8h0M522.7 399.3h0M522.4 403.9h0M522.2 402.3h0M520.9 404.2h0M522.7 404.3h0M522.2 399.6h0M522.7 400.5h0M521.8 402.6h0M521.9 401.3h0M521.5 407.1h0M521.3 402.8h0M522.1 403.1h0M522 400.1h0M521 400.1h0M522.3 397h0M522.3 404.9h0M521.8 397.5h0M522.3 403.4h0M521.2 402.3h0M522 399.8h0M522 396.5h0M521.4 404.5h0M521.9 400.6h0M522.6 404.5h0M521.5 401.1h0M560.1 372.6h0M560.7 373.6h0M560.4 369.8h0M558.1 377.1h0M559.6 370.2h0M559.9 370.6h0M559.3 375.1h0M560 373.6h0M561.2 372.5h0M558.6 375.9h0M558.2 378.2h0M558.6 377.7h0M557 377.8h0M559.6 368.7h0M560 371.8h0M559.6 373.3h0M558.9 378.2h0M558.1 377.2h0M559.7 376.5h0M560.7 373h0M558.6 377.4h0M560.4 374.9h0M559.4 376.5h0M559.8 371.2h0M559.3 377.2h0M558.9 374.6h0M559.2 374.3h0M559.5 373.2h0M559.3 376.9h0M560.3 370h0M558.1 377.8h0M560.7 372.2h0M558.6 376.3h0M560.7 373.2h0M559.5 376.9h0M557.4 377.4h0M560.4 369.8h0M560.5 374.6h0M559.9 372.3h0M560.2 377.2h0M560.1 373.5h0M559.8 373h0M559.3 376h0M559 367.5h0M559.2 366h0M559.6 368h0M558.8 367.2h0M559.8 365.9h0M559.7 368.2h0M501.2 387.1h0M533.9 361.2h0M539.4 364h0M533.4 366.9h0M501.2 387.6h0M533.6 360.9h0M533.3 366.8h0M501.4 387.3h0M539.1 363.8h0M537.3 362.6h0M533.6 360.6h0M501.5 387.4h0M533.8 360.8h0M533.4 360.9h0M538.6 363.3h0M538.8 363.4h0M533.4 366.8h0M509.5 368.6h0M535.6 361h0M509.9 368h0M510 369.8h0M509.5 368.4h0M537.2 319.8h0M537.3 319.5h0M509.2 369.5h0" stroke="#c6c6c6" stroke-width="0.6" stroke-linecap="round" fill="none" stroke-opacity="0.95"/>
<path d="M529.9 354.3h0M527.7 328.2h0M522.1 328.7h0M520.1 327.8h0M516.6 338.7h0M520.1 322.7h0M530.1 349.7h0M522.1 343.6h0M529.2 327.8h0M531.7 343.4h0M521.1 325.6h0M526.4 327.9h0M530 328.3h0M526.7 339.2h0M532.2 337.7h0M517.1 336.7h0M524.8 348.4h0M517.4 337.2h0M526.5 326.7h0M519.7 338.9h0M518.2 338.7h0M524.4 319.2h0M526.3 329.3h0M526.8 335.7h0M527.7 331h0M527 329.7h0M523.4 329.7h0M531.3 329.6h0M517.8 337.5h0M515.9 330.2h0M517.8 339.9h0M522.4 320.8h0M522.9 318.7h0M529.5 342.7h0M525.9 338.1h0M530.2 349.7h0M520.2 327.4h0M531.4 337h0M524.8 322.8h0M532.8 335h0M519.9 323.5h0M525.6 337.6h0M518.8 335.5h0M527.7 322.9h0M521.6 329h0M518.5 333.5h0M522.2 332.8h0M523.4 322.3h0M519.3 338.9h0M528.6 336h0M522 346.9h0M527.5 325.6h0M519 328.3h0M519.3 328.3h0M532.7 338.3h0M518.8 329.5h0M528 346.1h0M524.3 343.3h0M527 348.8h0M520.7 335.4h0M525.4 349.1h0M518.5 327h0M519.5 328.5h0M527.5 326h0M525.3 338.3h0M528.3 347.7h0M524.1 334.1h0M527.3 331.1h0M530.3 343.6h0M532.1 333.2h0M526.3 328.5h0M521 325h0M531.4 339h0M516.1 329.8h0M524.7 338.3h0M519.8 338.1h0M520.1 333.1h0M514.4 334h0M529.1 326.1h0M521.8 330.2h0M532.2 332.6h0M524.8 321.1h0M520.5 321.5h0M528.8 335.7h0M521.8 323.2h0M532.7 339.1h0M519.3 333.9h0M520.8 328.2h0M521.2 344.1h0M522.2 322.7h0M525.8 334h0M522.7 329.5h0M529.1 322.3h0M526.2 348h0M524.1 342.5h0M530.1 349.2h0M529.7 354.1h0M524 322h0M523.6 322.5h0M530.5 330.3h0M529.1 344.9h0M531.7 336.2h0M531.4 333.8h0M522.6 332.3h0M531.5 333.5h0M515.6 335.8h0M527.9 327.6h0M527.1 329.5h0M528.9 333.4h0M521.4 332.2h0M521.3 329.5h0M520.9 323.7h0M518.7 336.6h0M533 335.7h0M523.8 324.5h0M524 336h0M523.6 320.9h0M524.1 320.9h0M529 324.6h0M533 334.8h0M516.7 333.3h0M517 330h0M515 331.1h0M480.5 353.7h0M479.6 354.6h0M480.9 356.8h0M481.2 350.2h0M486.3 361.2h0M480.9 351.6h0M479.6 357.8h0M481.9 363.2h0M487.8 366.9h0M483.4 364.7h0M482 356.1h0M480 356.5h0M485.6 364.6h0M483.2 360.8h0M486.9 362.7h0M481.9 357.2h0M484.3 364.3h0M479.5 356.3h0M482.7 353.8h0M486.5 365.5h0M486.3 365.6h0M480.5 359.2h0M484.6 364.1h0M481.8 362.1h0M481.1 352h0M482.8 357.3h0M479.6 353.7h0M483.7 357.2h0M482.4 356h0M485.1 362.2h0M481.4 355h0M487.4 367.9h0M481.9 356.2h0M484.1 357.9h0M481.3 359.3h0M483.1 365.1h0M484.8 365h0M485.7 367.4h0M480.4 349.2h0M526.6 375.5h0M529.4 391.2h0M532.5 372.3h0M531.4 385h0M528.3 372.9h0M534.2 387.4h0M533.7 389.5h0M525.2 382.9h0M532.8 393.3h0M529.4 370.9h0M525.5 386.8h0M524.3 382.2h0M531.6 383.4h0M535.6 378.8h0M531.6 380.9h0M529.6 376.2h0M529.3 379.5h0M528.1 379.3h0M532.9 381.3h0M529.8 373.1h0M528.8 371.4h0M529.1 393.6h0M526.6 377.3h0M528.1 385.9h0M530.7 389.5h0M532.2 373.4h0M530.7 375.5h0M524.5 396.5h0M536.1 384.9h0M528.9 388.9h0M524.3 383h0M532.9 377.8h0M531.8 376.7h0M535 388.4h0M528.9 373.8h0M535.8 382.3h0M529.2 393.1h0M525.2 381.6h0M533.5 376h0M532.1 384.5h0M531.9 388.3h0M530.6 385.2h0M528.6 375.8h0M528.6 376.7h0M528.7 374.3h0M531.7 384.7h0M532.6 377.1h0M531.4 374h0M532.2 377.4h0M535.9 385.5h0M534.7 383h0M524.5 396.7h0M527.1 381.7h0M528.4 376h0M529.8 367.3h0M534.3 381h0M528.4 375.2h0M532.5 371h0M528.3 376.2h0M532.1 388.3h0M532.8 383.4h0M528 385.8h0M536.1 384.1h0M532.4 370h0M525.6 383.8h0M524.5 383.7h0M528.2 382.3h0M533.2 370.4h0M524 396.9h0M529.5 383.8h0M530.7 385.6h0M531.1 385.3h0M535.3 381.7h0M528.7 376.4h0M533.1 390.3h0M533.4 373.1h0M528.8 368.5h0M531.5 372.3h0M529 388.9h0M528.1 387h0M528.6 383.4h0M529.8 366.5h0M528.2 386.8h0M527.8 372.2h0M530.8 382.5h0M529.7 375.4h0M528.7 385.2h0M533.2 390.2h0M533.5 377.8h0M530.2 391.1h0M535.1 377.6h0M530.5 387.1h0M533.4 376.5h0M533.8 376.1h0M534.7 389.9h0M534.5 390.4h0M534.8 380.3h0M528.2 375.5h0M532.8 382.5h0M533 372.2h0M529.2 388.9h0M532.4 374.7h0M524.7 385.7h0M528.5 392.6h0M531.1 370.1h0M534.2 387.2h0M529.3 369.1h0M536 382.4h0M533.5 384.8h0M528.4 382.6h0M524.9 396.1h0M528.6 376.6h0M530.1 392.4h0M527.1 386.4h0M527.3 379.1h0M532.9 388.4h0M528.7 371.5h0M531.3 388.2h0M532.9 381.6h0M527.9 387.8h0M526.7 384.8h0M527.4 386h0M530.6 393.7h0M530.7 392.7h0M536.2 378.9h0M530.2 374.4h0M526.1 389.6h0M527.3 384.6h0M535.8 380.5h0M535.6 386.5h0M534.9 389.5h0M527.4 382.4h0M528.3 385.3h0M529.5 389.4h0M534.5 384.1h0M531 390.7h0M533.7 381.6h0M531.5 390.5h0M532.8 367.5h0M531.2 379.1h0M530.6 388.7h0M529.8 383.1h0M527.7 372.8h0M531.3 389.1h0M535.4 381.3h0M530.4 393.6h0M528.8 393.8h0M534.8 381h0M529.9 389.1h0M534.2 382.8h0M528.8 390.5h0M530 383.9h0M525.9 383.6h0M534.4 381.2h0M530.7 375.4h0M531.8 394.4h0M535.5 388.4h0M527.2 394.1h0M527.9 388.3h0M522 397.7h0M523.2 403.1h0M521.6 401.8h0M522.2 400.8h0M521.6 404.4h0M522.7 398.7h0M523.3 396.6h0M522.4 401.1h0M521.5 399.2h0M521.5 402.9h0M560.8 374h0M559.7 368.8h0M560.5 375.2h0M559.9 369.5h0M559.3 376.2h0M560.5 375.9h0M558.6 376.6h0M559.7 373.2h0M559.7 370.5h0M559.9 369.5h0M560.6 372h0M559.8 369.6h0M559.5 366.9h0M559.3 366.1h0M501.1 387.2h0M501.4 386.9h0M534.9 360.9h0M536.1 362.4h0M501.1 387.4h0M535.6 361.7h0M535.8 361.3h0" stroke="#e4bbb0" stroke-width="0.6" stroke-linecap="round" fill="none" stroke-opacity="0.95"/>
<path d="M530.2 336.8h0M530.1 356.5h0M524.6 339.6h0M521.4 343.2h0M528.6 327.4h0M529 334.2h0M525 336.5h0M519.2 334.5h0M525.2 336.8h0M528.2 325.6h0M530 332.6h0M525 327.5h0M520.3 325.8h0M516.9 334.2h0M516.4 331.8h0M523.8 330.6h0M515.8 340.8h0M517.7 341.6h0M518.3 335.2h0M529 345h0M528.4 329.6h0M521 318.9h0M520.7 324.3h0M526.5 327.1h0M523.9 349.7h0M530.6 327.4h0M525 349.2h0M530.2 353.9h0M520.6 341.3h0M525.6 318h0M525.2 336h0M522.3 335.8h0M520.4 338h0M523.1 337.7h0M521.1 324.9h0M530 338.4h0M526.5 335.8h0M527.1 329.9h0M521.7 321.6h0M531.1 334.6h0M515.6 337.2h0M522.8 327.5h0M527.8 340.9h0M518.9 341.1h0M528.8 338.5h0M531.7 331.6h0M521.1 323.5h0M521.9 333.6h0M524.9 325h0M532.1 332h0M524.5 318.8h0M528.5 338.9h0M523.4 348.1h0M521.2 339.5h0M529.9 332.7h0M529.3 333.7h0M523.3 332.5h0M528.9 323.3h0M524.5 338.6h0M526.5 317.9h0M516.7 339h0M526.4 349.2h0M530.3 326.8h0M521.4 337.5h0M528.6 323.9h0M528.3 347.7h0M531.9 334.8h0M531.8 335.1h0M520.5 338.6h0M520 338.3h0M519.9 331.7h0M525.2 334.5h0M531.9 335.3h0M524.2 317.1h0M523 333h0M524.1 331.4h0M519 328.8h0M527.8 335.4h0M522.3 346.5h0M525.7 322.6h0M531.1 328.7h0M531.2 337.7h0M517.4 328.2h0M523.3 338.9h0M523.9 337.3h0M515.3 337.5h0M520.3 338.9h0M521.2 328.6h0M522.3 329.8h0M526.9 329.8h0M531.2 327.8h0M527.6 328.2h0M526.5 346h0M530.8 336h0M524.7 333.2h0M529.7 341.3h0M532.1 340.3h0M524 329.4h0M531.5 328.5h0M516.3 335.9h0M529.8 342.3h0M526.9 320.8h0M525 322.6h0M525.5 347.2h0M528.8 325.5h0M523.5 331.2h0M525.6 322.2h0M519.8 333.7h0M527.3 336.9h0M522.4 342.7h0M522.7 347.8h0M524.2 349.2h0M522.1 340.4h0M529.1 332.4h0M524.9 328.5h0M523.5 346.2h0M522 339.1h0M526.1 334.2h0M523.6 322.3h0M529.9 344.4h0M530.4 336.3h0M520.9 321.2h0M523.9 322.4h0M526.3 322.1h0M519.4 332.3h0M518.1 333.4h0M527.9 332.3h0M525.8 350.1h0M529 323.1h0M527.8 336.2h0M523.8 331.5h0M528.8 325.2h0M486.6 363.6h0M484 365.4h0M486.4 363.5h0M486.4 367.6h0M487.9 368h0M482.8 355.2h0M481.5 350.9h0M484 358.3h0M485.2 364.2h0M482.7 363.1h0M485.8 367.6h0M480.7 360.7h0M484.8 366.2h0M484.7 361h0M483 364.1h0M480 356.6h0M485.8 360.3h0M485.5 360.1h0M485.2 364.1h0M482.5 358.4h0M485.2 361.8h0M484.3 364.3h0M487.3 363h0M480.9 357.5h0M481.4 362.1h0M485.6 361.9h0M483.8 356.4h0M481.4 358.3h0M483.1 354.8h0M486.9 363.3h0M482 361.6h0M485.8 360.9h0M485.4 358.2h0M480.8 360.5h0M484 356.6h0M482 355.5h0M481.1 350.7h0M480.3 356.3h0M486 363.3h0M486.5 365.9h0M485.3 360.7h0M484.9 365.7h0M481.3 351.8h0M484.2 359.7h0M480.3 350.1h0M482.1 362.8h0M484.9 359.5h0M485.5 362.2h0M485.1 362.7h0M481.7 354.4h0M524.9 381.2h0M534.6 383h0M533.3 388.8h0M527.4 380.6h0M529.4 385.1h0M528.6 384.1h0M530.3 372.4h0M530.1 373.1h0M531.2 392.1h0M531.6 371.4h0M528.9 369.9h0M529.9 372.5h0M525.1 396.5h0M526.8 378.1h0M528.6 378.9h0M533.9 391h0M529.4 375.9h0M532.4 376.9h0M533.2 386.8h0M531.9 391.5h0M529.4 365.1h0M534.1 390.7h0M533 371.7h0M535.6 378h0M533.8 380.6h0M526.4 387h0M529.7 389h0M525.2 386.6h0M530.3 382.6h0M529.3 381.9h0M530.8 393.8h0M535.1 383.6h0M535.1 377.9h0M530.3 387h0M532 374.6h0M529.9 394.3h0M528.5 390.8h0M527.9 383.8h0M534.5 386.3h0M530.6 377.3h0M535.1 379.9h0M530.1 373.6h0M528.9 367.9h0M533.1 368.3h0M528.8 366.3h0M532.8 388.9h0M525.5 385.4h0M525.3 381.4h0M524.8 385.8h0M528.5 374.2h0M530.7 377.3h0M534.9 383.9h0M525.1 395.5h0M536.4 384h0M534.8 375.7h0M532 369.5h0M530.4 384.4h0M531.3 375h0M530.5 392.6h0M524.7 383.9h0M530.7 376.4h0M533.3 385.3h0M533.7 373.8h0M529.3 369.1h0M537.1 383.2h0M524.9 383.4h0M529.9 384.9h0M530 388.3h0M527.9 389.7h0M531.8 375.2h0M531.3 383.7h0M529.6 365.6h0M526.7 375.8h0M527.6 378.7h0M530.6 370.7h0M526.2 387.3h0M525.6 395.9h0M526.3 379.1h0M528.2 373.9h0M526.1 383.7h0M529.2 387.1h0M531.4 394.8h0M535 381.3h0M534.7 381.8h0M530.3 366.8h0M528 386.6h0M534.4 386.5h0M529.8 366.8h0M532.5 382.6h0M532.7 379.8h0M529.1 385.7h0M531.9 387.8h0M533.7 377.1h0M532.5 391.7h0M533.6 377.5h0M527.5 380.7h0M532.5 393.6h0M526 387.6h0M534.6 386.2h0M529.5 376.4h0M527.1 375.4h0M534.3 377.3h0M526.2 383.5h0M524.4 396.7h0M531.7 372.3h0M527.7 380.8h0M527.4 376.7h0M527.1 376.6h0M530.4 373.6h0M528.4 372.2h0M531 388.1h0M529.7 368.7h0M530.9 392.7h0M534.5 378.1h0M536.7 379.7h0M528.9 378h0M536.3 381.2h0M531.1 391.1h0M533.9 389.8h0M529.2 377.1h0M531.4 392.1h0M527.9 383h0M529.3 385h0M530.1 367.4h0M533.4 378.9h0M528.9 367.4h0M529 391.3h0M528.9 380.6h0M528.7 380.8h0M525.8 384.8h0M530.1 388h0M522 404.7h0M521.3 400.6h0M522.4 399.1h0M522.7 405h0M522 403.8h0M521.6 400.4h0M522.1 397.3h0M522.5 402.4h0M522.1 402.3h0M522.4 401.1h0M521.8 400.6h0M522.6 408.6h0M559.6 372.6h0M560 373.6h0M559.9 372.5h0M559.4 377.6h0M559.3 377.6h0M560.5 370.7h0M560 364.4h0M559.5 365.5h0M533.4 361.4h0M533.7 360.6h0M536.4 362.5h0M533.8 360.9h0M510.3 369.7h0M509.8 368.8h0" stroke="#dd917c" stroke-width="0.6" stroke-linecap="round" fill="none" stroke-opacity="0.95"/>
<path d="M521.6 338.5h0M529.5 328.9h0M525.5 335h0M518.8 333.2h0M528.4 338.3h0M532 336.3h0M522.4 326.4h0M526.6 327.7h0M527.3 326.2h0M519.9 341.8h0M524.3 336.4h0M522.4 319.2h0M519.1 333.2h0M518.4 334.3h0M521 321.2h0M515 336h0M521.4 334h0M521.4 326.5h0M525.7 325.8h0M528 333.7h0M516.4 342h0M526.2 342.5h0M527.9 336.5h0M518 336.5h0M518 326.6h0M522.8 336.6h0M529 323.2h0M529.6 322.8h0M526.3 337h0M516 336.6h0M524.3 337.4h0M524.7 325h0M519.2 334.1h0M519.1 333.1h0M531.6 338.6h0M522.5 318.4h0M515.9 331.5h0M524.8 331.8h0M517.8 334h0M524.9 326.4h0M525 318.5h0M528.7 327h0M527.2 327.6h0M525.5 327.8h0M522.2 337.9h0M523.6 331.5h0M520.4 338.2h0M528.4 327.2h0M530.7 332.2h0M529.7 335h0M527.9 325.3h0M519.8 337.4h0M480.9 357h0M480.6 352.6h0M485.8 362.4h0M482.3 360.5h0M482.4 362h0M486.6 363.2h0M486.6 367.5h0M484.1 349.2h0M485.4 367.6h0M485.6 362.2h0M483.2 354.7h0M485.8 361.3h0M485.1 360.8h0M484.8 358.2h0M484.5 363.2h0M481.6 361h0M481.3 361.5h0M487 363.9h0M482.4 357.9h0M487.3 366.4h0M484.7 365.4h0M480 348.9h0M480.5 358.6h0M481.5 354.7h0M481.9 355.1h0M481.7 357.8h0M480.9 354.9h0M481.6 361.8h0M482.8 362.8h0M486.3 360.5h0M481.1 348.8h0M480.4 358.4h0M483.8 356.6h0M483.3 364.6h0M484.6 361.6h0M482 354.1h0M480.8 351.5h0M481.3 355h0M483.6 359.5h0M487.5 364.5h0M484.2 357.6h0M480.3 349.1h0M487.9 364.4h0M481.7 361.8h0M479.6 352.5h0M486.7 366.7h0M483.3 358.3h0M480.3 356.5h0M481.8 354.7h0M482.9 356.8h0M483.8 356h0M481.4 349.4h0M482.3 360.2h0M481.4 354.2h0M480.9 360.1h0M484.1 365.7h0M483.5 359.5h0M487.3 363.1h0M480.4 353.7h0M482.9 360.7h0M481.9 361.3h0M485.8 365.3h0M484.4 360.3h0M486.5 363h0M485.7 362.5h0M481.7 355h0M483.4 365.2h0M480.4 353.3h0M484.3 365.2h0M487.1 366.6h0M484.7 339.3h0M480.9 357.1h0M481.7 357.2h0M481.9 361.7h0M484.6 365.2h0M481.1 358.1h0M485.9 367.4h0M482.1 359.9h0M481 352.9h0M483.3 358.3h0M485 358h0M480.9 355.5h0M485.7 362.5h0M480.7 352.9h0M481.6 359.1h0M481.3 354.2h0M483.1 362.2h0M486.7 367h0M487.1 366h0M486.2 367.3h0M483.1 365.2h0M485.9 368h0M482.5 357.7h0M487.2 366.4h0M480.7 353.3h0M483.2 363.1h0M485.2 367.5h0M479.8 353.6h0M486.8 367.4h0M487.5 365.3h0M484.1 363.2h0M483.1 356h0M486.3 366.7h0M485 360.1h0M480.1 353.5h0M483.3 364.7h0M485.4 358.9h0M480.9 352.8h0M483.2 349.6h0M482.3 354h0M483.4 364.8h0M480.3 353.4h0M484.6 362h0M485.3 359h0M479.8 353.6h0M486.8 362.7h0M481.6 352.1h0M483.3 361.1h0M480.1 353.6h0M487.7 368.3h0M486.3 366.9h0M531.7 377h0M528.5 388.1h0M532.7 379.7h0M531.6 392.3h0M526.6 386h0M529.8 373h0M533.1 378.1h0M534.2 376.9h0M528.3 393h0M532.8 373.1h0M531.8 378.4h0M529.8 389.3h0M526.8 385.6h0M532.9 389.1h0M527.9 377.3h0M528.3 382.7h0M535.4 381.6h0M528.7 369.4h0M533.4 377.8h0M530.7 393.6h0M526.1 380h0M530.7 375.6h0M532.7 379.6h0M527.9 381.1h0M526.7 376.2h0M529.7 377.1h0M531.1 377.9h0M530.3 369.9h0M526.6 393.8h0M527 389.4h0M532.3 388.2h0M529.6 373.4h0M530.4 372.5h0M529.3 369.7h0M534.1 387.7h0M535.5 378.3h0M530.2 369.4h0M533.8 382.8h0M526.2 378.7h0M531.5 379.9h0M532.8 370.8h0M528.5 385.8h0M527.8 388.2h0M532.5 383.8h0M527.3 382.6h0M535.4 381.2h0M529.5 373h0M536.1 384.2h0M528.1 391.8h0M536.5 382.6h0M536.2 380.5h0M525.4 383.5h0M527.5 389.2h0M532.5 369.6h0M528 392.3h0M528.6 383.1h0M528.6 369.2h0M531 372.9h0M533.3 381.3h0M529.8 371.9h0M526 377.6h0M525.5 385.4h0M529.6 369.3h0M530.7 371.6h0M531.6 391.1h0M530.7 379.6h0M528.4 391.7h0M528.6 384.6h0M531.9 391.2h0M525.9 380h0M529.1 390h0M532.3 389h0M527.8 381.5h0M527.2 394.2h0M528.1 377h0M533.2 387.4h0M530 390.4h0M533.3 391.2h0M529.5 369.7h0M527.9 385h0M535.2 379.3h0M535.6 377.8h0M532.3 378.1h0M535.7 378.8h0M526.8 383.8h0M525.8 384.3h0M534.8 387.8h0M533 375.1h0M528 387.3h0M527 389.6h0M535.8 379.7h0M528.5 392.9h0M527.9 384.1h0M531.4 390.5h0M527 384.1h0M530 375.7h0M529.9 392.8h0M533.8 374.9h0M529.8 381.1h0M527.5 375.5h0M531.7 376.7h0M535.2 389.4h0M530.5 392h0M530.7 384.7h0M530.2 369.4h0M531.1 392.6h0M526 387.3h0M526.8 390.9h0M534.1 386.3h0M528.9 388.5h0M529.9 390.4h0M527.8 381h0M533.3 371.5h0M534 380.4h0M526.9 390.6h0M526.5 385.7h0M528.8 376.2h0M528.3 388.1h0M531.6 381.6h0M530.3 390.8h0M530.6 370.2h0M530.6 379.7h0M530.7 379.7h0M531.1 370.3h0M527.4 385.1h0M530.9 390.2h0M534.5 380.4h0M525 381.6h0M524.9 382.5h0M532.9 369.1h0M531.1 380h0M528.5 374h0M531.6 382.2h0M531.9 379.3h0M534.1 389.2h0M528.6 392h0M525.4 383.1h0M528 375.6h0M535.8 379.9h0M526.2 383.3h0M532.4 382.2h0M528.5 391.2h0M532.4 380.7h0M529.8 367.7h0M528.6 390h0M534.9 389.2h0M528.7 385.1h0M528.3 392.1h0M529.9 387.5h0M527.4 389.5h0M526.2 385.5h0M526.1 380.1h0M535.8 387.3h0M525.6 379.4h0M525.4 385.5h0M532.2 380.7h0M529.8 391.2h0M532.8 392.2h0M532.4 388.6h0M532.9 381.2h0M533.1 370h0M532.5 376.3h0M530.8 379.7h0M535.6 388.4h0M530.6 390.3h0M535.4 378.3h0M528.4 369.7h0M530 386.7h0M531.9 392.8h0M532.6 370.1h0M532.2 378.9h0M533.3 376.5h0M526.4 385h0M531.4 395.3h0M526 385.1h0M531 392.4h0M534.9 378.7h0M533.9 391.8h0M534.9 390.4h0M532.8 384.9h0M529.8 373.8h0M528.6 378.5h0M532.1 391.8h0M533.9 390.2h0M526.3 385.4h0M531.4 379.7h0M534.2 380.8h0M527 388h0M526 380.2h0M536.8 383.1h0M531.1 368.6h0M529.6 373.2h0M531.6 383.6h0M529.7 366.4h0M535.2 381.9h0M532.9 370.6h0M530.9 391.5h0M529.7 390.3h0M535.2 384.2h0M532.9 382.8h0M537.1 382.4h0M529.8 394.2h0M527.4 385h0M533.3 371.3h0M530.8 383.1h0M536.2 381.4h0M530.3 390.5h0M529.1 386h0M532.1 375.1h0M531.1 377.2h0M532.5 381.1h0M532.8 380.8h0M529.4 377.5h0M536.2 381.9h0M533.9 382.1h0M534.3 391.3h0M526.2 381.7h0M528.9 381.8h0M525.5 385.6h0M529 390.1h0M535.7 384.4h0M525.9 387.9h0M529.4 369.7h0M529.8 373.1h0M531.1 388.7h0M529 390.5h0M531 372.2h0M528.5 393h0M529.2 369.7h0M535.5 381h0M536.1 378.1h0M529.3 367.6h0M532.5 384.3h0M531.9 378h0M533.8 376.8h0M535.6 385.6h0M527.7 372h0M530.6 386.8h0M531.3 383.3h0M525.6 394.9h0M529.4 370.5h0M532.3 393.5h0M534.4 383.1h0M534.7 378.6h0M526.5 378.3h0M534.3 379.1h0M530.7 370.5h0M528.2 384h0M531.4 379.4h0M529.4 393.7h0M527.4 388.4h0M528.9 374.5h0M525.5 382.4h0M529.4 378.1h0M527.4 390.2h0M529.9 374.9h0M529.8 370h0M531.5 382.6h0M526.7 378.4h0M526.3 378.3h0M523.5 397.5h0M529.5 371.5h0M529.2 370h0M529.8 379h0M529 372.5h0M536.3 384.7h0M528.5 378.9h0M534.2 382h0M527.3 388h0M528.8 380.8h0M524.1 397.3h0M529.1 368.4h0M532.9 374.6h0M529.9 382.4h0M532.5 373h0M525.3 384.9h0M526 388.1h0M530.9 395.2h0M530.7 385.7h0M533.3 377.2h0M524.8 382h0M535.1 380.7h0M530.9 389.3h0M529.5 367.4h0M535.9 379.8h0M531 368.9h0M525 385.5h0M528.3 370.3h0M532.7 392.4h0M534.9 376.4h0M529.4 376h0M534 389.6h0M529.1 376.7h0M529.2 393.3h0M531.9 384.6h0M528 375.9h0M534.6 375h0M533.8 380.9h0M526.7 379.9h0M529.5 376.4h0M532.4 370.6h0M529.9 392.9h0M529.2 393.1h0M529.5 374.4h0M531 389h0M525.6 383.3h0M530.5 380.1h0M530.9 387.9h0M533.8 386.7h0M523.2 397.4h0M531 387.5h0M530.7 370.1h0M528.8 382.2h0M532.9 373.3h0M529.7 388.2h0M536 384.1h0M532.3 389.7h0M532.3 372.6h0M528 377.8h0M531.4 368.6h0M534.2 389.1h0M529.9 384.8h0M528.1 376.7h0M528.1 372.6h0M532.8 386.3h0M530.1 372.9h0M531.3 378.6h0M532.3 384.5h0M534.8 385.2h0M535.9 377h0M528 389h0M532.5 382.7h0M526.5 377.4h0M528.8 382.3h0M535.2 377.2h0M533.4 379.4h0M529.5 366.4h0M530.3 392.8h0M535.4 385.5h0M527 388.9h0M525.4 395.8h0M530.7 378.8h0M528.3 390.5h0M528.2 372.1h0M531.2 378.9h0M523.7 397.3h0M530.2 374.7h0M530.8 369.2h0M532.7 370.2h0M536 385.2h0M530.6 393h0M528.8 369.3h0M535.1 378.9h0M530.2 366.1h0M529 378.4h0M529.7 373h0M526.4 382.7h0M533.8 373.9h0M531.1 368.5h0M529.7 375.5h0M532.5 391.8h0M530 370.8h0M531.8 374.9h0M535.8 386.9h0M527.9 370.8h0M533.9 387.4h0M530 392.4h0M529.5 365.1h0M533.5 382.9h0M527.8 379.9h0M523 397.6h0M528.1 377.4h0M522.1 403h0M522.8 400.7h0M522.2 402.5h0M521.8 402.2h0M522.2 401.9h0M521 404.7h0M522.7 407.1h0M522.5 398.9h0M521.9 399.5h0M521.6 401.5h0M521.9 401.2h0M522.5 402.2h0M521.8 397.7h0M522.5 402.3h0M523.2 404.4h0M522.2 402.5h0M521.9 402.7h0M521.8 406.1h0M522.2 399.6h0M521.9 402.7h0M521.6 402.4h0M522.2 401.8h0M521.4 400.1h0M522.4 402h0M521.2 401.3h0M522 401.5h0M560.3 371.6h0M559.6 374.6h0M560.6 372.2h0M560.3 370.9h0M558.6 377.1h0M560.2 375.4h0M557.7 378h0M559.9 375.2h0M560.5 371.7h0M559.2 376.9h0M558.4 377.8h0M560 376.3h0M559.8 375h0M558.4 376.6h0M559.5 372.9h0M535.1 361.3h0M536.1 362h0M536.6 319.4h0M536.4 361.7h0M510.5 369.1h0M536.8 361.5h0" stroke="#d6624a" stroke-width="0.6" stroke-linecap="round" fill="none" stroke-opacity="0.95"/>
<line x1="575.5" y1="309.6" x2="575.5" y2="412.8" stroke="#444" stroke-width="0.6"/>
<line x1="575.2" y1="412.5" x2="671.2" y2="412.5" stroke="#444" stroke-width="0.6"/>
<line x1="574.2" y1="318" x2="575.5" y2="318" stroke="#444" stroke-width="0.4"/>
<text x="573.7" y="318.9" font-size="3.0" text-anchor="end">10</text>
<line x1="574.2" y1="337.4" x2="575.5" y2="337.4" stroke="#444" stroke-width="0.4"/>
<text x="573.7" y="338.3" font-size="3.0" text-anchor="end">5</text>
<line x1="574.2" y1="356.8" x2="575.5" y2="356.8" stroke="#444" stroke-width="0.4"/>
<text x="573.7" y="357.7" font-size="3.0" text-anchor="end">0</text>
<line x1="574.2" y1="376.2" x2="575.5" y2="376.2" stroke="#444" stroke-width="0.4"/>
<text x="573.7" y="377.1" font-size="3.0" text-anchor="end">-5</text>
<line x1="574.2" y1="395.7" x2="575.5" y2="395.7" stroke="#444" stroke-width="0.4"/>
<text x="573.7" y="396.6" font-size="3.0" text-anchor="end">-10</text>
<line x1="598.9" y1="412.5" x2="598.9" y2="413.8" stroke="#444" stroke-width="0.4"/>
<text x="598.9" y="416.6" font-size="3.0" text-anchor="middle">-10</text>
<line x1="625.5" y1="412.5" x2="625.5" y2="413.8" stroke="#444" stroke-width="0.4"/>
<text x="625.5" y="416.6" font-size="3.0" text-anchor="middle">0</text>
<line x1="652.8" y1="412.5" x2="652.8" y2="413.8" stroke="#444" stroke-width="0.4"/>
<text x="652.8" y="416.6" font-size="3.0" text-anchor="middle">10</text>
<text x="623.5" y="311.5" font-size="8.8" text-anchor="middle" font-style="italic">Sox17</text>
<text x="621.1" y="421.4" font-size="6.5" text-anchor="middle">UMAP1</text>
<text x="572.5" y="360.5" font-size="6.5" text-anchor="middle" transform="rotate(-90 572.5 360.5)">UMAP2</text>
<path d="M628.7 325.5h0M626.8 330h0M626.5 324.2h0M624.4 321.6h0M626.9 324.5h0M633 328.8h0M630.3 340.2h0M632.2 325.8h0M619.4 338.8h0M624.2 332h0M634.5 335.1h0M629.8 337.7h0M622.2 339h0M625.7 340.9h0M625.4 317.2h0M631.1 327.2h0M623.3 338.3h0M627.4 333.2h0M619.7 338.9h0M632.8 339.9h0M631.5 341.7h0M633 356.7h0M632.9 340.2h0M623.7 334.8h0M621.1 327.5h0M631.7 335.8h0M622.1 334.4h0M625.2 348.8h0M625.5 336.6h0M630.6 336.5h0M627.7 343.8h0M629.2 323.4h0M629 345.9h0M625.1 319.2h0M634.9 332.6h0M618 337.5h0M624.1 334h0M626.6 332.5h0M629.2 320h0M629.9 327.9h0M627.6 337.7h0M617.9 329.8h0M629.6 325.5h0M634.2 338.5h0M625.5 339.2h0M626.6 349.7h0M633.4 330.9h0M629.5 326.6h0M626.2 323.3h0M625.8 337.4h0M630.1 342.1h0M625.4 329.5h0M624.4 327.8h0M620.2 327.1h0M632.3 322.8h0M629.3 342.1h0M627.2 332.6h0M623.8 346.8h0M631.7 323.1h0M624.4 323h0M620.7 338.1h0M625.5 325.3h0M620.3 340.1h0M630.5 343.4h0M630 336.9h0M628.5 334.8h0M629.9 334.1h0M620.7 341.9h0M622 333.9h0M633.3 336.7h0M623.7 330h0M632.6 353.8h0M626.5 326.2h0M629.5 340.5h0M635.3 336.4h0M632.6 356.3h0M631.6 326.7h0M631.4 334.3h0M625 331.2h0M627.8 349.3h0M633.9 329h0M627.6 347.1h0M632.1 329.8h0M624.1 318.6h0M625.1 342.7h0M627.5 321.1h0M624.7 326.4h0M627.5 321.1h0M622.9 344.2h0M628.7 337.4h0M618.4 334.3h0M634.1 333.9h0M633.5 329.5h0M631.3 337.1h0M619.9 328h0M619.9 338.1h0M624.9 344.2h0M618.7 339.5h0M623.6 318.6h0M618.5 336.6h0M632.2 323.4h0M631 347.8h0M628.1 325.5h0M618.8 329.8h0M624.2 327.4h0M624.3 329h0M626.9 347.3h0M624.3 339.9h0M624 324.9h0M633.7 328.7h0M629.7 320.5h0M627.9 348.8h0M623 338.9h0M629.9 321.2h0M635.5 340.6h0M624.9 322.7h0M624.4 326h0M618.6 331.5h0M630.3 321.3h0M619.6 340h0M628.1 328.9h0M630 333.6h0M625.5 330.5h0M625.3 345.7h0M624.3 330.3h0M624.1 323h0M626.8 342.5h0M633.9 327.8h0M632.1 340.1h0M630.2 320.8h0M626.3 324.2h0M624.6 348.9h0M623.5 325.8h0M635.9 332.9h0M620.1 340h0M628.9 334.3h0M628.3 337.6h0M630.9 334.8h0M633 355h0M627.4 326h0M622.5 328.7h0M626.6 324.7h0M631 339.3h0M632.5 339.5h0M623.1 327h0M629.8 335.5h0M623.8 322.1h0M617.7 331.1h0M630.8 337.8h0M624.6 321.8h0M626.1 318.6h0M625.1 320.2h0M625.1 324h0M631.5 344.2h0M621.5 337.4h0M630.4 332.3h0M619.2 339.4h0M624.8 333.1h0M630.3 338.6h0M630.1 339.5h0M627.4 340h0M629.5 337.1h0M622.4 326.3h0M622 335.7h0M626.5 341.2h0M633 340.8h0M617.1 336.2h0M623.5 328.2h0M622.1 328.4h0M627.9 321h0M623 325.8h0M623.7 325h0M625.7 332.7h0M622.4 338.9h0M631.6 333.4h0M619.7 330.1h0M622.9 339.4h0M629.8 319.2h0M624.4 346.4h0M620 329.9h0M633.3 336.3h0M633.9 343.9h0M617.2 336.9h0M626.4 337.1h0M627.2 340.8h0M632.8 338.1h0M625.4 341.9h0M619.7 333.7h0M629 348h0M623.8 339.6h0M627.4 332.8h0M631.9 329h0M619.6 330h0M623.4 329.5h0M628.6 324.1h0M628.4 338.6h0M623.9 342.3h0M625.9 339.3h0M621.2 327h0M623.7 323.3h0M629.2 327.7h0M631.9 341.6h0M628.1 337.2h0M624.9 337.9h0M624.8 337.6h0M622 334h0M628.9 337.4h0M626.3 317.6h0M622.6 325.2h0M632.7 328.3h0M635.4 335.7h0M623.2 321.5h0M621.7 328.8h0M624.6 339.5h0M627.8 349.7h0M625.5 321h0M631.8 337.7h0M628 328.2h0M627 322.9h0M623.4 324.3h0M619.6 334.2h0M629.3 347.8h0M623.8 332.1h0M632.8 356.7h0M627.8 326.7h0M629.2 339.6h0M628.6 335.7h0M617.4 335.8h0M624.2 328.2h0M620.8 326.9h0M625.2 318.4h0M624.2 321.8h0M622.2 339.6h0M630.1 338h0M628.4 324h0M626.6 322.4h0M633.2 337.9h0M635 338.9h0M619.3 338.7h0M626.4 326.9h0M627.3 346.8h0M627 348.5h0M632.8 348.5h0M633.6 336.8h0M625.4 325.4h0M628.1 344.2h0M623.9 326.9h0M624.6 333.6h0M629.7 320.2h0M629.2 336.6h0M628.2 326.4h0M626 349.4h0M626.3 320.8h0M626.3 343.4h0M623.8 329.6h0M627 333.6h0M629.4 319.5h0M631 347.7h0M625.2 324h0M623.6 331.1h0M632.7 349.1h0M634.5 339.3h0M627.2 350h0M623.2 338.6h0M630.2 346.8h0M618.5 340.8h0M618.6 330.2h0M623.2 320.6h0M627 349.6h0M634.2 330.3h0M629.9 341.5h0M626.6 340.5h0M627.9 336.8h0M624.1 322.7h0M624.8 343.6h0M620.5 327.8h0M629.2 319.7h0M630.3 337.6h0M625.3 324.6h0M620.4 340.2h0M630.3 328.2h0M622.9 333.6h0M622.5 330.1h0M633.7 341h0M624.3 348.5h0M633.1 336.3h0M622.5 325.8h0M633.5 326.8h0M632.9 353.9h0M627.6 348.6h0M627 339.6h0M627.5 321.1h0M625.5 321.6h0M623.9 329.7h0M632.4 333.7h0M621.4 331.2h0M626.4 348.4h0M618.3 334.7h0M625.5 317.7h0M629.5 341.2h0M622.6 331.7h0M628.8 328.5h0M627.9 317.9h0M623.4 326.5h0M633.7 329.4h0M630.5 348.5h0M622.6 323.5h0M623.5 333.5h0M625.5 347.8h0M622.8 327.8h0M631.9 327.8h0M624.8 329.9h0M631.9 331.3h0M629.7 349h0M631.8 344.8h0M625.1 332.5h0M628.3 331.1h0M625.4 337.7h0M629.5 326h0M626.5 325.6h0M632 333.6h0M626.1 348.1h0M627.3 350.2h0M623.9 339.5h0M633.5 336h0M632.6 352.5h0M622.6 330.6h0M624.1 326.5h0M621.4 345.4h0M626.9 345.3h0M624.9 318.1h0M622.5 339.3h0M632.8 341.4h0M624.8 328.7h0M624.8 317.2h0M633.6 327.5h0M623.4 335.4h0M629.6 322.2h0M627.3 323.6h0M623.2 338.4h0M627.5 330.6h0M620.6 339.6h0M619.8 328.4h0M622.8 322.7h0M625.6 320.4h0M619 337.1h0M630.7 346.1h0M620.7 342.4h0M629.3 344.8h0M629.5 335.5h0M631.5 341.6h0M627 336.4h0M631 324.9h0M626.9 349.6h0M621.5 330h0M634.1 343.1h0M626 336.4h0M619.3 337.7h0M632.2 355.2h0M619.4 330.1h0M634 335.6h0M629.6 342.1h0M625 330.5h0M631 324.9h0M625.7 317.7h0M632.1 339.2h0M629.5 325.7h0M621.9 334.1h0M635.4 337.6h0M633.4 337.8h0M623.8 328h0M622.6 334h0M618 338.3h0M629.4 318.5h0M626.2 322.9h0M632.6 350.9h0M620.8 333.4h0M634.6 334.8h0M621.3 330.8h0M634.1 333.8h0M620.8 333.5h0M628.8 337h0M630.1 338.9h0M625.3 333.3h0M621 333.9h0M628.9 337.8h0M621.9 330.5h0M621.2 333.5h0M633.1 340.9h0M621.2 327h0M632.4 325.5h0M625.2 324.1h0M633.3 327.4h0M633 347.3h0M630.1 331.7h0M632.3 346.9h0M627.4 324.7h0M626.5 320.8h0M630.3 341.4h0M621.5 335.5h0M629.9 334.6h0M629.3 342.2h0M625.3 331.9h0M625.3 330.6h0M631.7 324h0M629.7 326.3h0M626.9 332.9h0M626.5 331.2h0M635.2 339.7h0M622.9 329h0M622.3 335.9h0M629.1 340.1h0M622.1 326.9h0M634.3 335h0M628 337h0M628.2 350h0M627.7 318.8h0M618.1 332.1h0M630 340.9h0M622.5 331.1h0M622.5 338.1h0M632.6 345.6h0M631.7 334.2h0M626 349.5h0M624.8 322.9h0M628.6 327.8h0M632 333.7h0M634.9 332.5h0M632.6 333.6h0M626 318.6h0M623.7 341.4h0M631.3 323.9h0M622.5 333.7h0M627.1 348.3h0M625.8 324.8h0M631 336.5h0M629.4 329.1h0M624.2 319.7h0M632.4 330.5h0M635.4 333.1h0M626.8 319h0M625.6 330.8h0M620.5 337.5h0M632.7 352.5h0M630.8 337h0M635.7 334.8h0M620.6 344.6h0M631.5 338.5h0M626.3 322.5h0M625.3 336.1h0M632.1 341.8h0M622 334.1h0M634.2 342.1h0M630.8 324.2h0M633 343.6h0M631 324.3h0M633.3 334.9h0M629.4 341.7h0M633.8 334.6h0M634.1 339h0M625.1 320.2h0M629.5 320.9h0M625.2 347h0M630.1 337.3h0M620.7 336h0M618.4 330h0M634.8 338.8h0M624.1 332.2h0M626.7 335.6h0M622.8 319.9h0M617.4 334.8h0M627.6 344.4h0M623.8 323.5h0M630.5 325.4h0M621.7 344.8h0M622.9 326.6h0M631.4 339.6h0M635 331.1h0M631.3 330.7h0M628.3 322.2h0M621.1 334.3h0M626.7 348.6h0M628.7 319.9h0M621.6 340.7h0M617.2 337.2h0M629.4 339.2h0M627.5 322.8h0M623.8 324.9h0M623.8 335.4h0M630.1 334h0M630.4 329.2h0M630.5 342h0M632.1 327.6h0M629.4 346.3h0M624.4 344h0M634.9 337.7h0M629.8 343.1h0M619.8 338h0M634.3 338.6h0M626.6 337.9h0M628.1 318.2h0M631.8 338.4h0M634 332.3h0M627.7 327.5h0M623 342h0M632.6 344.5h0M632.9 354.8h0M624.8 338.1h0M624.3 338.9h0M626.4 325.3h0M627.9 322.1h0M628.2 347.2h0M619.2 333.9h0M624.8 338.4h0M628.8 327.4h0M623.7 320.3h0M625.2 345.2h0M627.2 318.8h0M631.4 343.7h0M626.6 324.8h0M628 339.6h0M626 342.1h0M629.6 347.7h0M627.1 319.2h0M627.3 320.9h0M631.9 342.4h0M634.2 333.5h0M622.7 346.9h0M628.4 328.8h0M623.2 338.6h0M628 319.6h0M623.7 339.2h0M630.2 342.3h0M634.4 334.1h0M628.1 345h0M618.9 330.3h0M623 340.1h0M631.9 336.5h0M633 348.7h0M629.3 327.7h0M624.2 348h0M628.9 322.8h0M625.9 347.9h0M631.8 322.3h0M623.3 333.7h0M633 339.7h0M625.3 347.2h0M632.8 340.4h0M632.7 332.6h0M625.6 323.3h0M630.9 325.6h0M629.2 324.3h0M623.8 327.5h0M626.3 324.7h0M629.4 343.8h0M621.7 331.5h0M621.4 329.2h0M626 326.7h0M633 341.1h0M634.1 336.8h0M628.1 339.5h0M631 329.8h0M629.4 328.1h0M632.4 344.9h0M633 338.5h0M623.9 346.6h0M625.3 332.3h0M626.5 330.6h0M632.3 329.1h0M623.7 324.3h0M633.8 335.7h0M631.5 343.4h0M633.3 332.5h0M619.1 331.8h0M632.4 341.3h0M629.1 331.2h0M624.8 344.3h0M631.3 343.9h0M626.1 322.6h0M634.6 336.3h0M630.9 331.1h0M624.7 339.1h0M624.5 348.5h0M625.2 348.5h0M631.1 329.6h0M624 347.5h0M622.2 328.5h0M626.2 331.2h0M624.2 325.1h0M624.9 331.1h0M624.1 328.2h0M631.7 336.8h0M623.5 331.9h0M629.9 333.7h0M621.7 333.6h0M631.2 343.1h0M616.9 334.3h0M633.9 334.8h0M623 336.4h0M629 329.3h0M621.1 341.6h0M619.6 328.9h0M627 329h0M633.3 340h0M621.9 334.5h0M623.9 337.7h0M628 319.7h0M627.3 319.2h0M626.6 339.1h0M631.8 345.2h0M620.2 332.2h0M626.3 348.6h0M631.5 344.6h0M622.4 340.5h0M627.7 349.2h0M635.4 334.6h0M628.8 334.2h0M631.5 325.2h0M632.8 352.1h0M623.9 345.4h0M621.3 330.8h0M618.5 338.1h0M621.7 342.6h0M624.1 337.5h0M632.5 323.9h0M630.3 332.6h0M634.5 338.6h0M630.7 335h0M625 346.5h0M632.8 333.5h0M625.6 348.9h0M623.5 329.1h0M629.9 328.3h0M628.1 320.8h0M618.3 337.8h0M627.7 336.2h0M633 342.2h0M628 344.5h0M621.2 338.1h0M632.4 335h0M628.9 324.7h0M619.3 329.7h0M627.2 331.4h0M631 326.6h0M629 325.8h0M631.5 344.3h0M626.8 349.9h0M626.3 322.8h0M623.7 321.2h0M623.3 341.3h0M632.2 337.3h0M622.7 328.4h0M633 332.8h0M627.4 331.1h0M627.7 336.1h0M629.2 326.7h0M634.1 340h0M624.1 326.1h0M622.6 332.3h0M622.2 327.5h0M633.2 328.6h0M627.5 340.3h0M621.5 330.7h0M632.1 322.7h0M626.6 334.4h0M634.9 341.5h0M629.4 328.9h0M623.9 328.6h0M634.8 333.2h0M626.7 328.4h0M626.6 327h0M624.5 334.3h0M631.2 347.1h0M621.1 343.3h0M633.1 353.9h0M628 318.6h0M633.8 328.7h0M620.9 338.7h0M620.6 329.5h0M633 347.1h0M621.8 341h0M626.7 344.9h0M634.4 343.4h0M631.1 343.5h0M624.9 346.7h0M624.1 332h0M626.7 336h0M622.9 327.4h0M622.8 325.5h0M627.9 347.3h0M632.8 349.7h0M624.9 342.5h0M622.9 337.8h0M629.1 330.3h0M629.6 342h0M623.7 343.2h0M632.5 323.5h0M632.7 351.8h0M632 352.8h0M627.9 334.5h0M630 326.2h0M630.3 322.6h0M630.9 335.5h0M620.7 339.3h0M626.9 337.5h0M629.8 331.5h0M619.3 337h0M629.9 329h0M618.8 336.1h0M629 325.9h0M619.7 329.8h0M630.4 322.9h0M634.4 330h0M627.6 326.9h0M631.7 323.2h0M631.1 339.4h0M633.9 337.7h0M621.7 328.3h0M626.9 317.4h0M626.2 318.5h0M627.5 348.5h0M623.9 325.1h0M627.6 326.4h0M635.1 335.8h0M626.4 334.3h0M629.3 321.1h0M631.4 341.2h0M622.3 343.5h0M628.2 321.5h0M634.4 334.4h0M618.6 336.5h0M623.2 339h0M621.1 338h0M625.8 337.7h0M634.7 342.7h0M623.3 341h0M629 336h0M629.9 332.6h0M619.8 334.2h0M631.3 338.5h0M626.6 341h0M625.3 322.2h0M633.2 330.6h0M623.1 344h0M623.9 344.9h0M632.2 328.9h0M622.7 326.7h0M628.9 326.8h0M628.3 334.8h0M621.8 333.1h0M623.3 344.6h0M633.4 343.8h0M630.5 336.2h0M621.1 340.7h0M629.4 321.2h0M627.4 325h0M631.6 347.5h0M635.3 333.2h0M627.7 328.7h0M626.2 318h0M626.7 336.7h0M631.7 328h0M630.1 340h0M631.5 338.5h0M623.7 347h0M631 339.3h0M628 344.5h0M620.1 328.2h0M627.6 350.4h0M632.7 349.4h0M632.9 346.3h0M626 344.1h0M627.7 318.5h0M627.4 326.9h0M634.6 329h0M621.9 326.2h0M629.2 327.1h0M622.2 337.5h0M622.8 333.1h0M624 329.5h0M617.1 333.2h0M632.5 352.2h0M628.3 345.3h0M635.6 334.1h0M626.7 322h0M619.3 339.9h0M629.5 335.7h0M629.7 345.4h0M623.6 323.7h0M627.7 338.7h0M629.8 321.4h0M633.5 328.6h0M630.9 326.4h0M631.8 332.4h0M631.1 338.8h0M627.3 330.9h0M617.7 336h0M625 337.7h0M632.1 341.4h0M628.3 318h0M624.1 342.2h0M631.6 333.7h0M624.6 347.4h0M635.4 339.1h0M623.1 338h0M630.2 348.6h0M618.3 335.8h0M625.9 344.6h0M627.7 324h0M628.1 350.5h0M622.9 345.4h0M630.7 339.1h0M627.9 336.9h0M625.1 344.5h0M633.7 341.4h0M625.6 349.2h0M622.4 346h0M620.1 335.1h0M632.6 354.3h0M631 325.9h0M634.4 330.4h0M634.1 337h0M627 318.6h0M632.8 349.2h0M631.3 335.3h0M633.4 332.2h0M634.4 329.8h0M633.8 343.1h0M621.6 341.1h0M624.7 346.9h0M625.2 335.8h0M627 337.4h0M626.8 331.4h0M633.5 338.5h0M630.6 341.2h0M621.9 334.1h0M635.5 336.1h0M627.2 350.6h0M618 338.5h0M628.8 348.6h0M620.5 343.2h0M632.4 354.1h0M633.5 340.1h0M626.1 329.7h0M630.6 324.4h0M620.5 339.6h0M632.7 334.4h0M626.5 324.5h0M631.4 332h0M630.2 332.3h0M625.7 333h0M623.7 337.5h0M624.4 348.1h0M626.8 324.8h0M633.7 339.5h0M621.5 339.9h0M630.6 343.4h0M624 322.6h0M624.6 336.4h0M632.1 330.1h0M630.6 327.6h0M626.3 320.1h0M630.5 333.5h0M631.4 324.5h0M623.9 332.2h0M626 335.3h0M625.7 328.7h0M631.3 327.4h0M626.2 331.2h0M616.9 336.4h0M628.6 339.5h0M619.6 332.8h0M631.6 345.9h0M624.2 345.7h0M620.7 336.5h0M626.3 320.9h0M624.8 325h0M618.6 329.8h0M620.2 330.2h0M623.5 324.7h0M624 330.3h0M623.9 338.4h0M631 341.1h0M632.3 324.1h0M628.8 337.6h0M629.9 327.6h0M632.9 331.9h0M627.3 342h0M619.2 331.9h0M627 339.5h0M629 322.1h0M631.3 327.7h0M626.3 326.3h0M632.8 337.2h0M621.9 339.9h0M630.3 327.9h0M627 343.3h0M624 347.4h0M619.7 328.2h0M626.6 343.5h0M627.4 338.3h0M618 335.6h0M629.9 346.3h0M626 340.3h0M627 345.8h0M626.9 349.2h0M627.5 348.4h0M622 338.9h0M631.3 339.3h0M627.7 340.9h0M622.2 335.2h0M622.6 331.4h0M628.3 344h0M628 338.3h0M626.5 331.5h0M627.7 318.9h0M626.7 329.4h0M626.8 347.7h0M619.8 336.7h0M634.8 340.3h0M634.4 331.6h0M627.9 348.3h0M620.2 337.4h0M625.2 344.6h0M627.9 321.9h0M628.7 338.3h0M628.1 343.3h0M628.7 321.9h0M631 322.4h0M624.8 347.5h0M630.6 332.3h0M621.7 329.4h0M618.3 331.3h0M622.9 325.5h0M630.4 330h0M626.4 337.7h0M621.8 333.2h0M626.7 329.5h0M626.3 331.5h0M618.6 341.2h0M619.5 335.1h0M630.3 333.8h0M630.4 331h0M623.7 319.5h0M628.6 339h0M635 334.2h0M623.6 341.2h0M625.1 320.8h0M629 336.5h0M620.7 326.6h0M627.3 332.1h0M623.1 345.6h0M622.6 341.8h0M634.7 337.3h0M631.4 323.7h0M622.3 345.3h0M626.2 346.2h0M628.3 345.8h0M625.7 319h0M629.9 321.2h0M627.5 332.4h0M624.9 332.8h0M626.6 317.6h0M624.6 346.1h0M634.6 335.3h0M623.6 339.1h0M627 348h0M624.1 342.8h0M628.2 327.8h0M635.3 335.6h0M630 331.1h0M622.8 345.8h0M627.6 328.5h0M618.6 332.7h0M617.8 334.3h0M634.6 335.3h0M621.1 338.3h0M622.5 345.2h0M622.2 333.6h0M624.6 344.1h0M623.9 330.2h0M622.8 343.3h0M634.4 331.6h0M626.3 344.8h0M634.7 332.9h0M627.4 339.7h0M619.8 340.4h0M632.6 328.7h0M624.5 338.7h0M625.4 347h0M623.6 332.4h0M619.8 328.8h0M620 340.6h0M619 335.9h0M632.6 352.9h0M627.7 341.7h0M629.9 334.4h0M628.6 329.4h0M631 347.7h0M626.6 332.8h0M634.2 328.5h0M627.8 346h0M631 341.9h0M623.3 328.1h0M628.2 346.1h0M632.1 328.6h0M630.2 343.4h0M625.4 338.3h0M625.2 331.9h0M630.4 333.8h0M628.6 320.8h0M624.9 341.4h0M619.5 329h0M634.9 339.6h0M631.5 336.6h0M631.8 336h0M634.6 339.6h0M632.6 344.4h0M624.9 322.4h0M622.6 336h0M630.4 340.5h0M622.6 343.9h0M626.2 327.1h0M624.5 323.2h0M631.8 322.3h0M626.8 332.2h0M624.4 341.8h0M628 345.3h0M620.1 337.2h0M631.2 326.9h0M628.2 342.1h0M633.2 330.3h0M636.1 333.1h0M624.4 329.4h0M623.3 341.7h0M618.4 330.5h0M630.1 326.1h0M629.5 347.2h0M618.9 329.3h0M631.5 321.5h0M632.7 337.3h0M628 350.1h0M631.7 332.1h0M625 340.6h0M626.6 332.4h0M631.6 327.6h0M629.8 343.7h0M627.1 331.3h0M619.7 330h0M626.7 328.7h0M622.8 345.6h0M621.5 333.2h0M619.7 329h0M622.7 338.3h0M626.9 320.4h0M631.7 324.6h0M631.5 333.9h0M628.4 349.6h0M625.1 327.5h0M625.8 330.8h0M623.9 326.7h0M624.4 334.6h0M626.6 326.2h0M624 348.9h0M619.6 329.3h0M627.5 340.8h0M621.9 339.3h0M626.2 347.1h0M624 339.7h0M632.4 334h0M625.4 347.8h0M630.7 333.7h0M620.2 337h0M620.3 328.3h0M625 333.4h0M633.1 338.9h0M633 356.8h0M630.4 340.4h0M626.1 347.9h0M633.1 324.7h0M618.7 328.9h0M618.1 336.8h0M627.2 338.6h0M623.1 340.7h0M633.7 339.6h0M629.3 345.9h0M618.9 336.2h0M632.7 343.8h0M631 325h0M625 319.9h0M631.2 338.9h0M618.7 336.6h0M625.4 347.9h0M631.3 336h0M632.7 355.4h0M631.7 338.6h0M623.8 324.8h0M631.4 327h0M624.8 340.4h0M629.1 344.9h0M622.3 342.3h0M634.1 341.7h0M631.7 345h0M633 344.9h0M628.3 327.7h0M627.6 348.8h0M620.9 341.6h0M627.5 322.4h0M622.7 331.6h0M624.5 319.3h0M634.1 343.1h0M632.5 342.3h0M626.5 328.9h0M628.3 344.9h0M624.1 318.6h0M619.9 341.6h0M622.3 338.4h0M627.2 339.5h0M617.8 335.7h0M624.4 331h0M629.6 329.8h0M632 337.2h0M625 329.8h0M623 342.2h0M621.8 328.3h0M630.9 332.9h0M622.5 333h0M628.6 328.6h0M625.6 349.2h0M626.7 322.8h0M628 317.7h0M623.7 318.9h0M632.6 354.9h0M627.3 339.6h0M625.2 317.4h0M626.6 337.3h0M628.4 325.8h0M629.9 335.9h0M627.6 334.1h0M627.4 345.8h0M628.5 350.1h0M629.6 320.8h0M621 335.2h0M627.9 325.7h0M629 333.6h0M626 336.1h0M633.4 330.7h0M631.4 338.4h0M620.8 337.5h0M626 332.5h0M623.8 325.6h0M624.3 333.4h0M626.6 334.3h0M624.3 343.4h0M629 328.5h0M630.4 328.2h0M626 338.9h0M617.3 334.7h0M625.2 338.8h0M626.6 322.3h0M632.1 357.2h0M623.7 343.2h0M621 333.7h0M624 322h0M633.4 331.3h0M628.9 348h0M620.1 340.4h0M619.3 343.7h0M628.7 325.8h0M633 331.2h0M628 339h0M630.5 339.4h0M629.4 339.2h0M629.7 329.7h0M619.2 334.4h0M631.8 341.6h0M619.9 335.2h0M629.7 341.9h0M628.4 322.6h0M630.6 325.3h0M629.1 327.9h0M631.6 327h0M618.7 338.2h0M618 339.1h0M629.6 339.7h0M622.4 345.7h0M632.7 352.1h0M624.2 324.7h0M622.6 325.4h0M619.4 333.3h0M629.2 335.8h0M627.7 336.5h0M621.1 343.6h0M629.1 345.6h0M620 336.3h0M630.8 345.4h0M628.7 317.9h0M622.9 326.4h0M629.5 339.3h0M629.7 348.8h0M619.9 328.2h0M630.5 344.3h0M635.5 335h0M623.6 321.2h0M631.1 330.5h0M625.6 344.6h0M634.3 330.9h0M622.1 342h0M620 336.3h0M621.7 344h0M630.5 332.7h0M628.9 347.7h0M618.4 337.8h0M630.4 323.7h0M627.1 336.8h0M631.7 346.5h0M632.2 344.4h0M629 339.8h0M620.6 338.4h0M628.7 323.7h0M621.2 344.1h0M617.1 334h0M634.3 328.1h0M628.8 327.6h0M629.2 346h0M631 322h0M634.7 336.3h0M630.3 344h0M627.8 320.7h0M623.9 347.5h0M635.4 338.3h0M629.3 321.1h0M621.4 336.6h0M626.7 332.4h0M624.3 342.5h0M623.9 344.1h0M631.5 335.7h0M622 332h0M630.2 321.3h0M626.3 322.3h0M632.5 327h0M620.4 341.6h0M633.3 335h0M631.1 335.8h0M632.2 342.7h0M619.7 330h0M623 336h0M626.3 347.1h0M617.3 336.8h0M633.9 340.4h0M629.9 334.8h0M633 347.3h0M624.6 327.2h0M618.3 338.5h0M626.4 318.8h0M623.5 346.3h0M634.1 331.6h0M630.4 327.4h0M619.2 328.5h0M620.7 339h0M625.9 336.4h0M620.6 335.4h0M632 337.2h0M624.3 346.7h0M635 334.1h0M632.7 353.9h0M626.5 332.4h0M627.3 336.4h0M628.9 332.5h0M620.8 326h0M624.5 334.3h0M631.1 331.8h0M620.6 340.1h0M621 332.1h0M632.2 332.5h0M630.5 326.8h0M630.9 321.5h0M631.1 326.6h0M630.2 325.6h0M625.3 319.4h0M628.5 334h0M633.5 332.8h0M628.4 336.6h0M631.8 340.7h0M632.5 342.5h0M620.2 340h0M630.3 337.1h0M625.2 339h0M633.6 340.8h0M631.6 323.3h0M631.5 325.3h0M632.9 328.2h0M629.7 347.5h0M630.2 328.4h0M626.7 339.6h0M632.7 338.4h0M627.9 340.7h0M631.8 340h0M626.5 340.4h0M635.2 340.7h0M633.7 332.4h0M623.3 321.6h0M624.1 319.6h0M631.5 325.5h0M631.1 331.4h0M626.5 336.2h0M623.3 329.3h0M627.6 325h0M632.6 334.1h0M590.6 368h0M586 364.7h0M583.4 361.3h0M587.4 361h0M587.4 339.3h0M588.3 361.9h0M586 358.3h0M589.2 365.5h0M588.6 368h0M583.8 348.8h0M588.3 362.2h0M589.2 363h0M589.4 367h0M586.4 357.2h0M590.2 365.3h0M588.8 367.9h0M585 354h0M588.1 367.6h0M583 350.1h0M587.6 359.3h0M590.1 367.9h0M586.9 359.7h0M589.8 366.6h0M589.9 366.4h0M582.7 356.5h0M584.3 361h0M586 361.1h0M587.5 366.2h0M589.3 367.5h0M587 364.3h0M587.9 367.5h0M587.2 363.2h0M588.1 363.2h0M586.7 365.4h0M588.3 364.6h0M583.9 357.1h0M590 363.1h0M583.4 352.9h0M584.1 355h0M583 349.1h0M585.3 362.4h0M586.2 359.5h0M583.2 359.2h0M585.4 363.1h0M584.3 349.1h0M584.1 358.3h0M583.1 349.2h0M587.3 364.1h0M588.8 361.5h0M584.1 349.4h0M587.3 362h0M584 354.2h0M587.7 358h0M586.5 356.4h0M585.8 356h0M582.5 353.6h0M583.3 359.2h0M583.3 352.6h0M588 359h0M584.7 354.1h0M586.1 364.7h0M589 360.5h0M584.6 361.7h0M584.4 355h0M588.2 362.2h0M582.9 356.5h0M590.6 364.4h0M590 366.4h0M582.7 356.2h0M589 361.2h0M584.4 357.8h0M586.7 361h0M586.5 356h0M589 366.7h0M585 359h0M582.5 353.6h0M584.7 358.8h0M588.4 362.5h0M583 356.5h0M585.8 361.4h0M584.4 361.8h0M586 365.1h0M583.6 356.8h0M584.1 362.1h0M588.3 366.6h0M587.3 365.2h0M585.9 363.1h0M589.1 362.8h0M585.9 349.6h0M586.1 364.8h0M585.8 365.1h0M583.6 357.5h0M586.7 361.5h0M586.5 359.4h0M583.1 352.2h0M583.9 350.2h0M587.3 338.9h0M582.8 353.5h0M583.6 351.6h0M587 365.2h0M584.5 362.1h0M588.4 362.5h0M582.7 348.9h0M584.6 361.3h0M589.4 366.3h0M588.8 363.7h0M589.4 366.7h0M587.8 362.7h0M588 362.3h0M588.5 362.4h0M589 366.9h0M583.7 355.8h0M585.2 357.7h0M586.8 357.9h0M585.5 355.2h0M584.2 354.7h0M589.8 366h0M587.5 358.2h0M582.3 354.5h0M583.5 356.5h0M589.6 362.7h0M584 361.5h0M587.9 364.2h0M583.7 352.9h0M584.4 354.4h0M584.8 359.9h0M588.5 360.9h0M582.7 356.6h0M584.7 356.1h0M587.1 360.3h0M583.6 355.5h0M585.6 356.8h0M583.5 360.5h0M588.7 363.3h0M585.9 354.7h0M586.7 356.6h0M587.7 360.1h0M585.1 357.9h0M587.9 361.8h0M588.1 358.9h0M584.7 361.6h0M584.1 354.2h0M584 359.3h0M582.3 352.5h0M583.6 360.1h0M584.8 362.8h0M586.1 365.2h0M585.2 358.4h0M587.6 365.7h0M584 351.8h0M584.6 357.2h0M586 364.6h0M582.3 357.8h0M584.3 359.1h0M582.8 353.6h0M586.7 358.3h0M588.1 363.1h0M587.4 365.4h0M585.7 364.1h0M584.5 354.7h0M589.5 362.7h0M587.5 365h0M581.9 355.9h0M584.7 355.9h0M583.2 358.6h0M589.3 363.6h0M589.6 368.3h0M585.2 356.8h0M585.7 357.6h0M584.4 357.2h0M585.1 363.3h0M583.8 358.1h0M589.5 367.4h0M589.1 363.5h0M585.5 362.8h0M588.5 367.6h0M582.3 354.6h0M584.5 362.6h0M583.1 353.3h0M583.5 351.5h0M586.8 349.2h0M588.5 365.3h0M588.1 358.2h0M583.2 353.7h0M583.8 350.7h0M583.1 353.7h0M586.3 359.5h0M583.1 358.4h0M590 363h0M585 355.7h0M585 360.5h0M587.5 363.1h0M587.8 362.2h0M589 365.6h0M585.8 365.2h0M589.7 363.9h0M585 360.2h0M585.8 362.2h0M586.8 365.7h0M587 364.3h0M588.2 360.1h0M590.2 367.4h0M588.4 367.4h0M585.5 357.3h0M586.6 365.2h0M588.6 367.4h0M586 358.3h0M586.9 357.6h0M583.4 360.9h0M582.9 354.7h0M590.9 367.4h0M588.5 361.3h0M589.1 367.6h0M587.6 359.5h0M586.7 359.5h0M585.4 362.4h0M585.9 360.8h0M583 356.3h0M585.2 360.2h0M584.3 352.1h0M584.2 350.9h0M584 355h0M584.6 356.2h0M589.3 363.2h0M632.1 385.1h0M638.1 381.2h0M633.6 395.2h0M635 384.5h0M633.8 368.6h0M629.4 375.8h0M631.7 390.5h0M631.2 391.2h0M635.8 370.5h0M632.5 373.1h0M631.8 386h0M632.9 366.1h0M635.9 370.4h0M633.4 389.5h0M632.1 376.2h0M631.2 388.1h0M627.2 396.5h0M632.4 377.1h0M634.6 383.5h0M633.7 372.9h0M631.3 378.5h0M638.1 378.3h0M632.2 376.4h0M636 371.5h0M632.5 366.8h0M634.4 372.3h0M632.3 365.6h0M631.5 376.2h0M632 369.1h0M635.2 381.1h0M638.6 379.4h0M635.3 370.1h0M635.1 382.2h0M631.6 374.5h0M628.3 383.3h0M639.4 379.7h0M636.1 373.1h0M633.8 385.3h0M632 379.5h0M628.2 386.8h0M635.2 369.3h0M631.1 369.7h0M631.5 382.3h0M632.7 388.3h0M638.4 384.4h0M637 391.3h0M634.1 390.5h0M633.5 369.2h0M633.8 388.7h0M634.7 369.5h0M634.3 371.4h0M636.5 373.9h0M635.4 370.2h0M635.9 387.4h0M633.9 368.8h0M629 382.5h0M628.2 382.4h0M628.3 395.9h0M628.9 383.5h0M636.6 390.2h0M628.2 395.3h0M632.7 382.3h0M633.3 369.4h0M637 382.5h0M631.5 366.9h0M635.5 384.9h0M637.3 383h0M632.5 373h0M632 369.7h0M637.9 379.3h0M630.9 376.6h0M637.5 381h0M632.4 389h0M634.1 392.1h0M632.4 388.2h0M638.8 384.2h0M635.8 370h0M632.2 367.4h0M632.6 366.2h0M634.1 368.6h0M635.1 388.6h0M628.7 387.3h0M631 384.6h0M637.6 376.4h0M629.8 381.7h0M632.5 389.3h0M627.4 396.7h0M631.3 384.6h0M633.2 392h0M633.1 372.5h0M637.8 377.9h0M631.9 393h0M638.3 378h0M630.6 370.8h0M631.6 373.8h0M631 370.3h0M631.4 385.1h0M633.6 394.1h0M631.2 374.2h0M631.4 385.2h0M632.2 376.4h0M635.2 384.3h0M631.6 369.9h0M635.5 386.3h0M635.8 370.6h0M633.6 391.5h0M631.2 378.9h0M631.7 372.7h0M631.1 375.2h0M631.3 383.1h0M632.5 366.5h0M627.7 381.6h0M633.5 379.7h0M631.5 366.3h0M635.2 372.3h0M635 389.7h0M636.1 383.9h0M632.9 369.4h0M630.4 380.8h0M633.8 370.3h0M635.2 382.7h0M633.7 368.9h0M628.9 387.3h0M631.6 367.4h0M633 366.8h0M630.7 386.6h0M631.5 371.4h0M636.1 376.5h0M635.6 371.1h0M629.7 377h0M631.4 369.4h0M632.6 372.5h0M633.4 370.5h0M632.4 368.7h0M635.5 373.1h0M630.6 388.3h0M637.6 389.5h0M634 378.6h0M638.2 378.3h0M633.3 370.2h0M632.5 367.3h0M632.4 366.4h0M632.9 374.4h0M632.7 370.8h0M630 379.1h0M635.2 371h0M630.5 379.9h0M633 369.9h0M633.9 390.6h0M638.7 382.4h0M627.5 382h0M635.5 367.5h0M631.5 368.5h0M634.8 388.3h0M635.5 391.3h0M630.8 371.6h0M635.2 379.5h0M632.9 374.7h0M635.8 368.3h0M632.2 365.1h0M635.8 378.1h0M637 379.1h0M627.4 395.8h0M633.1 369.3h0M635.3 369.5h0M634.2 382.6h0M632.8 372.9h0M630.8 377h0M634.5 372.2h0M627 383h0M633.9 392.1h0M631.4 371.5h0M633.8 368.5h0M635.2 373h0M634.8 369h0M632.6 390.4h0M632.7 390.4h0M635.6 373.3h0M634.7 374.6h0M633 387h0M635.5 393.3h0M631.7 378.4h0M630.2 389.2h0M637.4 375.9h0M635.9 377.6h0M630.1 390.2h0M630.7 377.8h0M630.5 381h0M625.4 404.3h0M625.2 402.3h0M625.3 403.4h0M624.6 403.9h0M625.1 396.4h0M624.7 403.8h0M624.1 400.1h0M625.1 400.9h0M624.8 399.6h0M624.3 400.4h0M624.9 401h0M624.5 400.6h0M624.9 399.6h0M624.2 402.9h0M624.8 398.8h0M624.1 404.5h0M625.1 404.8h0M625.1 401.1h0M624.8 403h0M624.7 397.7h0M624.9 402.5h0M624.5 406.1h0M624.4 404.6h0M624.8 395.5h0M625.9 403.1h0M624.3 404.4h0M624.3 402.4h0M624.9 399.6h0M624.6 401.5h0M624 402.8h0M625.9 404.4h0M625.4 398.7h0M624 400.6h0M625 403.4h0M624.5 402.2h0M626 396.6h0M624.2 401.1h0M624.7 400.1h0M625.4 399.3h0M624.3 403.4h0M624.7 404.7h0M624.9 402.5h0M625.2 398.9h0M624.7 399.8h0M623.9 401.3h0M624.4 401.7h0M624.5 397.7h0M623.9 402.3h0M624.7 396.5h0M624.3 401.8h0M624.8 403.1h0M624.6 399.5h0M624.8 402.3h0M625.1 402.2h0M624.8 397.3h0M625.2 404.5h0M625.4 407.1h0M625.2 402.4h0M624.9 401.8h0M625.3 403.9h0M625.4 405.2h0M625 403.1h0M625.2 402.2h0M625 404.9h0M624.9 403.6h0M624.6 400.6h0M623.7 400.1h0M623.7 404.7h0M624.9 400.8h0M625.4 403.6h0M624.6 402.7h0M625.4 404h0M625.1 401.1h0M623.6 404.2h0M625.1 402h0M625.5 400.7h0M625.4 402.9h0M625 402.5h0M624.9 401.9h0M625.4 402.3h0M624.6 396.5h0M625.4 405h0M624.7 401.5h0M625 397h0M662 376.2h0M663.3 372h0M661.9 374h0M660.9 377h0M661.3 375.9h0M662.7 376.3h0M662.5 369.6h0M660.9 378.2h0M663.3 372.2h0M662.9 375.4h0M662.1 376.5h0M662.3 368.7h0M662.3 370.2h0M662.5 373h0M662.6 372.5h0M662.4 368.8h0M662.8 373.5h0M662.4 376.5h0M661.9 374.3h0M662 376h0M662.6 369.5h0M663.2 370.7h0M661.9 376.9h0M662.3 374.4h0M663.4 373h0M661.1 377.8h0M661.3 376.3h0M662.3 372.6h0M662.1 375.7h0M661.1 376.6h0M659.7 377.8h0M661.3 377.7h0M662.3 373.3h0M663.4 373.6h0M661.3 376.6h0M662.5 375h0M663 371.6h0M662.6 370.6h0M662.2 373.2h0M662.2 376.9h0M663 370h0M662 377.2h0M662.7 371.8h0M660.2 378.2h0M662.1 373.3h0M662.6 372.3h0M662.7 373.6h0M661.6 374.6h0M662.9 377.2h0M660.4 378h0M660.2 378h0M662.5 371.2h0M663.1 370.3h0M660.8 377.2h0M662.2 373.2h0M663.1 369.8h0M662.2 372.9h0M662 375.1h0M663.5 374.2h0M662 376.9h0M662.3 374.6h0M663.1 369.8h0M661.1 377.3h0M663.4 373.2h0M662.1 377.6h0M660.1 377.4h0M662.6 369.5h0M661.3 377.4h0M662.8 369.9h0M660.8 377.8h0M663.1 374.9h0M662.4 370.5h0M661.6 378.2h0M663.5 374h0M662.3 368h0M662.2 366.9h0M662.5 365.9h0M662.2 365.5h0M661.9 366h0M662.7 364.4h0M661.5 367.2h0M661.7 367.5h0M662.4 368.2h0M663 365.7h0M604.1 386.9h0M603.8 387.2h0M636.6 361.2h0M604.1 387.3h0M636.1 366.8h0M639.1 362.5h0M641.8 363.8h0M637.6 360.9h0M638.8 362h0M603.8 387.4h0M641.5 363.4h0M603.9 387.1h0M636.5 360.9h0M640 362.6h0M636.3 360.6h0M642.1 364h0M638.8 361.7h0M638.8 362.4h0M641.3 363.3h0M604.2 387.4h0M640.5 363h0M637.8 361.3h0M640 363h0M603.9 387.6h0M636 366.8h0M636.3 360.9h0M636.5 360.8h0M603.8 387.1h0M613.2 369.1h0M640 319.5h0M639.9 319.8h0M612.5 368.8h0M639.5 319.7h0M613 369.7h0M612.2 368.4h0M612.2 368.6h0M639.3 319.4h0M612.8 369.5h0" stroke="#c6c6c6" stroke-width="0.6" stroke-linecap="round" fill="none" stroke-opacity="0.95"/>
<path d="M634.6 388.9h0M636.9 381.7h0M636 371.3h0M636.6 391.8h0M630.6 387.8h0M637.8 377.6h0M638.2 388.4h0M631.9 388.9h0M626.2 397.5h0M632.4 390.3h0M632.7 386.7h0M631.4 374.3h0M633.3 385.2h0M632.1 381.8h0M634.9 378.9h0M628.2 395.5h0M638.1 385.5h0M631.2 374h0M633.1 373.6h0M634.6 391.2h0M632.5 370h0M633 382.6h0M632 369.1h0M635.1 374.7h0M638.9 378.9h0M633.6 389h0M631.7 388.9h0M631.9 370h0M636.6 387.4h0M630.8 373.2h0M637.1 389.5h0M631 389.7h0M627.1 396.7h0M635.1 380.7h0M638 381.7h0M628.1 383.5h0M634.1 395.3h0M636.9 379.2h0M630.9 375.5h0M628.9 385.5h0M632.5 367.7h0M634 389.1h0M634.6 384.6h0M625.7 397.6h0M637.7 385.9h0M634.6 391.5h0M630.7 387.3h0M633.4 384.7h0M634.4 377h0M635.5 370.8h0M636.4 389.5h0M637.5 387.8h0M630.4 372h0M630.8 372.6h0M636 377.2h0M635.4 392.4h0M635.1 370.6h0M633.3 377.3h0M636.5 376.8h0M630.8 385.9h0M634.9 377.4h0M628.1 385.5h0M631.1 376h0M630 382.6h0M635.1 388h0M632.4 375.4h0M629.7 389.6h0M630.9 383.4h0M627.9 382.9h0M630.9 384.4h0M630.4 381.2h0M632.7 392.4h0M637.8 383.6h0M636 376.5h0M634 383.7h0M634.5 378.4h0M629.2 378.3h0M628.7 387.6h0M626.4 397.3h0M629.4 376.2h0M629.7 381.7h0M634.1 379.7h0M635.4 380.4h0M634.3 382.2h0M631.5 393.8h0M637.1 388.1h0M637.6 390.4h0M634.1 372.8h0M638.6 377h0M631.9 369.7h0M637.4 384.5h0M632.1 370.9h0M636 381.1h0M637.4 388.9h0M631.4 376.4h0M635.2 391.8h0M638.6 386.5h0M630.3 386.1h0M632 393.2h0M632.2 369.7h0M629.1 387h0M636.8 389.2h0M637.5 385.2h0M631.4 380.8h0M632.1 375.9h0M637.9 387.1h0M634.1 385h0M635.6 381.3h0M639.5 383.1h0M633.4 392.7h0M638.1 381.6h0M629.5 378.1h0M630.7 392.3h0M634.6 384.6h0M636.1 377.8h0M631.7 391.3h0M635.2 382.6h0M638.9 381.4h0M634 383.3h0M634.7 383.4h0M637.9 389.4h0M636.9 389.1h0M631.8 376.7h0M631.6 388.9h0M636.9 380.8h0M633.8 391.1h0M625.1 403.9h0M624.2 399.2h0M624.5 402.6h0M625.3 408.6h0M624.2 407.1h0M663.2 375.9h0M612.6 368h0M611.9 369.5h0" stroke="#e4bbb0" stroke-width="0.6" stroke-linecap="round" fill="none" stroke-opacity="0.95"/>
<path d="M635.9 390.2h0M630.1 389.5h0M631 376.2h0M631.1 391.7h0M633.5 381.7h0M630.6 383.8h0M632.5 373.1h0M632.1 365.1h0M629.2 385.7h0M634.5 394.4h0M637.3 386.2h0M634.3 392.3h0M630.1 380.6h0M639 379.7h0M628.4 381.9h0M632.3 373.4h0M627.8 396.5h0M636.2 384.8h0M627.4 383.9h0M631.2 393h0M633.7 389h0M633.7 390.7h0M635.4 379.7h0M630 388h0M632.4 373h0M632.6 387.5h0M635.8 374.1h0M635.5 388.9h0M638.5 386.5h0M631.2 392.9h0M635.3 377.1h0M632.9 381.7h0M633.9 387.9h0M630.7 386.5h0M627.6 381.2h0M631.8 393.6h0M636.6 389.8h0M634.1 391.8h0M628.2 385.6h0M637.6 378.7h0M636.5 380.9h0M634.8 384.5h0M637 377.3h0M634.4 376.7h0M627.5 385.8h0M636.1 378.9h0M628.3 394.9h0M638.8 384.1h0M631.6 378h0M631.8 368.4h0M628.5 384.3h0M637 387.7h0M637.7 388.4h0M636 391.2h0M629.9 394.1h0M634.3 383.6h0M629.3 375.5h0M629.7 388.9h0M637.2 378.1h0M633.2 387.1h0M637.8 385.9h0M632.8 373.1h0M635.7 372.2h0M631.5 382.2h0M633 377h0M633.3 386.8h0M633.4 377.3h0M629.3 393.8h0M629.7 384.1h0M637.9 377.2h0M628.7 380.2h0M632.6 394.3h0M632.5 394.2h0M637.2 382.8h0M630.6 385h0M635.2 376.3h0M631.1 372.2h0M637.5 375.7h0M628.6 387.9h0M631.7 381.1h0M628.1 383.1h0M634.9 373.4h0M630.8 377.4h0M635.5 382.5h0M632.3 376.2h0M628.7 385.1h0M630.6 384.1h0M637.4 385.4h0M637 381h0M631 392.1h0M630.1 388.4h0M630.8 391.8h0M636.6 382.1h0M629 385.4h0M631.6 381.8h0M629.8 375.4h0M627.7 385.5h0M637.6 389.2h0M629.5 383.8h0M633 390.8h0M628.9 378.7h0M627.2 396.7h0M636.1 379.4h0M633.6 389.3h0M633.6 390.2h0M635.9 386.8h0M632.6 392.8h0M631.5 380.8h0M635.6 385.9h0M634 388.2h0M635.3 368h0M639.3 381.8h0M634.6 379.4h0M631.2 374.5h0M632.1 376h0M636 391h0M630 384.6h0M635.7 371.7h0M631 388.1h0M636.3 384.9h0M627.8 395.5h0M638.7 385.2h0M633.8 377.2h0M637 377.8h0M628 381.5h0M633.1 384.4h0M636.8 386.3h0M637.9 381.9h0M635.4 379.6h0M625.1 399.1h0M625.2 403.8h0M625.3 405.7h0M624.5 409.8h0M663.2 371.7h0M612.7 368.9h0" stroke="#dd917c" stroke-width="0.6" stroke-linecap="round" fill="none" stroke-opacity="0.95"/>
<path d="M638.3 388.4h0M629.3 386h0M633.3 388.7h0M636.3 377.5h0M636.5 374.9h0M633.5 386.1h0M638.7 384.1h0M635 388.2h0M633.8 377.9h0M631.9 381.2h0M636.8 390.7h0M629.1 389.8h0M632.5 391.2h0M633.4 379.6h0M634.5 374.9h0M633.4 378.8h0M638.2 381h0M630.7 375.6h0M630.7 389h0M634.1 379.4h0M630.8 379.3h0M632.9 391.1h0M632.2 374.4h0M632.3 378.2h0M637 379.8h0M626.3 397.2h0M633.4 385.7h0M639.8 382.4h0M632.3 369.3h0M630.7 385.8h0M629 385.1h0M632.3 373.2h0M635.5 380.8h0M633.4 375.5h0M632.2 366.4h0M633.7 392.4h0M627.2 383.7h0M632.6 384.8h0M628.2 385.4h0M630.5 385.2h0M630.1 382.4h0M631.2 381.9h0M634.2 385h0M628.5 380.9h0M629.6 390.6h0M628.7 388.1h0M628.3 385.9h0M638.5 387.3h0M631.6 371.1h0M631.5 369.3h0M635.6 381.6h0M638.6 385.5h0M630.1 385h0M629.1 385h0M630.2 380.7h0M636.5 380.6h0M630.3 378.7h0M632.8 388h0M635.6 389.1h0M632.5 383.1h0M631 385.3h0M634.5 393.3h0M628.2 385.4h0M637.1 386.5h0M633.4 379.7h0M633.4 376.4h0M632.3 384.6h0M634.1 394.8h0M629.1 382.7h0M637.2 390.4h0M630.1 385.1h0M635 378.1h0M631.8 385.7h0M631.3 384.6h0M636.4 381.6h0M630.2 375.5h0M629 389.4h0M629.5 385.6h0M631.1 382.6h0M631 376.3h0M633.6 392.7h0M632.4 375.5h0M636.7 389.6h0M628.6 380h0M631.3 376.7h0M636 381.3h0M629 379.1h0M634.2 379.9h0M628 384.9h0M632.8 373h0M635.6 377.8h0M636.7 390.9h0M638.8 384.9h0M632.5 379h0M633.3 393h0M639.2 382.6h0M630.6 377.3h0M631.3 392h0M632.5 373.8h0M634.6 377.9h0M634.6 383.9h0M631.2 392.6h0M632.1 370.5h0M626.7 396.9h0M632.6 382.4h0M633.3 390.3h0M631.2 377.2h0M634.9 373.3h0M635.2 383.8h0M637.4 378.6h0M635.6 374.6h0M634.5 375.2h0M634.9 380.7h0M629.4 378.4h0M638.3 385.6h0M629.7 388h0M635.5 392.2h0M632.9 387.3h0M637.2 384.1h0M627.9 386.6h0M632.6 389.1h0M630.2 376.4h0M635.2 391.7h0M635.6 381.2h0M633.6 376.6h0M630.6 381.1h0M631 390.5h0M631.9 393.1h0M629.7 389.4h0M637.4 383h0M633.3 379.7h0M638.5 386.9h0M638.8 378.1h0M632.8 381h0M632.1 369.7h0M638.5 379.7h0M630.5 381.5h0M629.4 379.9h0M638.5 382.3h0M631.3 390h0M631.9 393.3h0M633.3 393.7h0M631 382.7h0M633.9 378.9h0M639.1 384h0M630.5 388.2h0M638.9 380.5h0M632 385h0M635.7 374.3h0M636.5 382.8h0M630.8 376.7h0M635.8 390.3h0M637.1 383.1h0M631.2 385.8h0M634 375h0M632.6 374.9h0M638.3 378.8h0M630.9 382.3h0M638.6 381.3h0M632.2 373h0M627.9 381.6h0M633.7 388.1h0M633.8 392.6h0M631.8 390h0M633.7 387.5h0M628.8 380.1h0M631.7 390.1h0M629.4 377.6h0M633.8 370.1h0M634.2 392.7h0M628.3 383.8h0M635 393.5h0M637.3 385.5h0M630.7 375.9h0M637.5 382.4h0M638.5 379.9h0M630.1 376.7h0M627.6 396.1h0M629.2 377.4h0M629.4 384.8h0M634.8 375.1h0M633.2 392.6h0M633.6 387.9h0M631.5 390.5h0M636.7 380.4h0M637.9 384.2h0M635.1 376.9h0M635.5 383.4h0M638.3 377.8h0M633.4 370.1h0M631.5 380.3h0M628.3 379.4h0M632.8 385.5h0M634.6 387.8h0M633 390.5h0M638.1 381.3h0M634.6 378h0M628.1 395.8h0M636.8 387.7h0M629.9 394.2h0M635.5 392.8h0M637.4 389.9h0M632.5 371.9h0M631 389h0M630.9 373.9h0M634 385.2h0M634.6 378.4h0M633.5 382.5h0M631.3 383.4h0M634.3 383.4h0M635.6 369.1h0M632.8 366.2h0M629.8 376.6h0M635.1 373.6h0M625.9 397.4h0M632 381.9h0M637.6 383.9h0M628.8 389.6h0M636.2 376h0M639.8 383.2h0M638.6 379.8h0M636 385.3h0M631.3 376.6h0M628.9 382.2h0M633.5 383.1h0M630.9 386.8h0M626.8 397.3h0M628.7 377.6h0M634.3 380.9h0M635.2 369.6h0M636.9 382h0M633.4 385.6h0M636.9 376.9h0M633 388.6h0M636 387.4h0M630.6 389.7h0M633.4 393.6h0M632.7 375.7h0M634.3 391.1h0M631.9 377.1h0M631 372.9h0M628.6 383.6h0M631.3 375.8h0M637.5 380.3h0M638.4 378.8h0M637.4 381.8h0M632.1 391.2h0M633 392.8h0M637.1 385.5h0M635.6 382.8h0M632.9 382.2h0M639 384.7h0M628.7 387.8h0M632.7 383.9h0M631.9 393.1h0M631.6 380.6h0M628.9 381.7h0M636.2 377.8h0M638.5 361.3h0M639.1 361.7h0M612.7 369.8h0" stroke="#d6624a" stroke-width="0.6" stroke-linecap="round" fill="none" stroke-opacity="0.95"/>
<rect x="675" y="352.9" width="3.2" height="17.4" fill="url(#gr2)"/>
<text x="671.8" y="351.6" font-size="6.9" font-style="italic">max</text>
<text x="672.5" y="376.6" font-size="6.9" font-style="italic">min</text>
<text x="2.7" y="432.4" font-size="9" font-weight="bold">g</text>
<rect x="27.2" y="520.7" width="7.9" height="25.2" fill="#808080" stroke="#1a1a1a" stroke-width=".9"/>
<rect x="39.3" y="518" width="7.9" height="27.9" fill="#808080" stroke="#1a1a1a" stroke-width=".9"/>
<rect x="51.4" y="512.7" width="7.9" height="33.2" fill="#808080" stroke="#1a1a1a" stroke-width=".9"/>
<rect x="63.5" y="509" width="7.9" height="36.9" fill="#808080" stroke="#1a1a1a" stroke-width=".9"/>
<rect x="75.6" y="511" width="7.9" height="34.9" fill="#808080" stroke="#1a1a1a" stroke-width=".9"/>
<rect x="87.7" y="512.7" width="7.9" height="33.2" fill="#808080" stroke="#1a1a1a" stroke-width=".9"/>
<rect x="99.8" y="514" width="7.9" height="31.9" fill="#808080" stroke="#1a1a1a" stroke-width=".9"/>
<rect x="111.9" y="516" width="7.9" height="29.9" fill="#808080" stroke="#1a1a1a" stroke-width=".9"/>
<rect x="124" y="514.7" width="7.9" height="31.2" fill="#808080" stroke="#1a1a1a" stroke-width=".9"/>
<rect x="136.1" y="536.9" width="7.9" height="9" fill="#808080" stroke="#1a1a1a" stroke-width=".9"/>
<rect x="148.2" y="505.1" width="7.9" height="40.8" fill="#808080" stroke="#1a1a1a" stroke-width=".9"/>
<rect x="160.2" y="539.3" width="7.9" height="6.6" fill="#808080" stroke="#1a1a1a" stroke-width=".9"/>
<line x1="23" y1="445.4" x2="23" y2="546.8" stroke="#000" stroke-width="1.8"/>
<line x1="22.1" y1="545.9" x2="173" y2="545.9" stroke="#000" stroke-width="1.8"/>
<line x1="18.6" y1="545.9" x2="23" y2="545.9" stroke="#000" stroke-width="1.4040000000000001"/>
<text x="17.6" y="548.7" font-size="7.9" text-anchor="end">0</text>
<line x1="18.6" y1="512.7" x2="23" y2="512.7" stroke="#000" stroke-width="1.4040000000000001"/>
<text x="17.6" y="515.5" font-size="7.9" text-anchor="end">5</text>
<line x1="18.6" y1="479.5" x2="23" y2="479.5" stroke="#000" stroke-width="1.4040000000000001"/>
<text x="17.6" y="482.3" font-size="7.9" text-anchor="end">10</text>
<line x1="18.6" y1="446.3" x2="23" y2="446.3" stroke="#000" stroke-width="1.4040000000000001"/>
<text x="17.6" y="449.1" font-size="7.9" text-anchor="end">15</text>
<line x1="20.4" y1="539.3" x2="23" y2="539.3" stroke="#000" stroke-width="1.4400000000000002"/>
<line x1="20.4" y1="532.6" x2="23" y2="532.6" stroke="#000" stroke-width="1.4400000000000002"/>
<line x1="20.4" y1="526" x2="23" y2="526" stroke="#000" stroke-width="1.4400000000000002"/>
<line x1="20.4" y1="519.3" x2="23" y2="519.3" stroke="#000" stroke-width="1.4400000000000002"/>
<line x1="20.4" y1="506.1" x2="23" y2="506.1" stroke="#000" stroke-width="1.4400000000000002"/>
<line x1="20.4" y1="499.4" x2="23" y2="499.4" stroke="#000" stroke-width="1.4400000000000002"/>
<line x1="20.4" y1="492.8" x2="23" y2="492.8" stroke="#000" stroke-width="1.4400000000000002"/>
<line x1="20.4" y1="486.1" x2="23" y2="486.1" stroke="#000" stroke-width="1.4400000000000002"/>
<line x1="20.4" y1="472.9" x2="23" y2="472.9" stroke="#000" stroke-width="1.4400000000000002"/>
<line x1="20.4" y1="466.2" x2="23" y2="466.2" stroke="#000" stroke-width="1.4400000000000002"/>
<line x1="20.4" y1="459.6" x2="23" y2="459.6" stroke="#000" stroke-width="1.4400000000000002"/>
<line x1="20.4" y1="452.9" x2="23" y2="452.9" stroke="#000" stroke-width="1.4400000000000002"/>
<line x1="31.2" y1="545.9" x2="31.2" y2="550.5" stroke="#000" stroke-width="1.4040000000000001"/>
<line x1="43.3" y1="545.9" x2="43.3" y2="550.5" stroke="#000" stroke-width="1.4040000000000001"/>
<line x1="55.4" y1="545.9" x2="55.4" y2="550.5" stroke="#000" stroke-width="1.4040000000000001"/>
<line x1="67.5" y1="545.9" x2="67.5" y2="550.5" stroke="#000" stroke-width="1.4040000000000001"/>
<line x1="79.6" y1="545.9" x2="79.6" y2="550.5" stroke="#000" stroke-width="1.4040000000000001"/>
<line x1="91.7" y1="545.9" x2="91.7" y2="550.5" stroke="#000" stroke-width="1.4040000000000001"/>
<line x1="103.7" y1="545.9" x2="103.7" y2="550.5" stroke="#000" stroke-width="1.4040000000000001"/>
<line x1="115.8" y1="545.9" x2="115.8" y2="550.5" stroke="#000" stroke-width="1.4040000000000001"/>
<line x1="127.9" y1="545.9" x2="127.9" y2="550.5" stroke="#000" stroke-width="1.4040000000000001"/>
<line x1="140" y1="545.9" x2="140" y2="550.5" stroke="#000" stroke-width="1.4040000000000001"/>
<line x1="152.1" y1="545.9" x2="152.1" y2="550.5" stroke="#000" stroke-width="1.4040000000000001"/>
<line x1="164.2" y1="545.9" x2="164.2" y2="550.5" stroke="#000" stroke-width="1.4040000000000001"/>
<path d="M31.2 502.1V539.3M29.5 502.1h3.4M29.5 539.3h3.4M43.3 508.1V527.3M41.6 508.1h3.4M41.6 527.3h3.4M55.4 495.4V530M53.7 495.4h3.4M53.7 530h3.4M67.5 487.5V530.6M65.8 487.5h3.4M65.8 530.6h3.4M79.6 484.1V537.9M77.9 484.1h3.4M77.9 537.9h3.4M91.7 492.1V532.6M90 492.1h3.4M90 532.6h3.4M103.7 498.8V529.3M102 498.8h3.4M102 529.3h3.4M115.8 500.1V533.3M114.1 500.1h3.4M114.1 533.3h3.4M127.9 489.5V539.9M126.2 489.5h3.4M126.2 539.9h3.4M140 532.6V541.3M138.3 532.6h3.4M138.3 541.3h3.4M152.1 480.2V529.3M150.4 480.2h3.4M150.4 529.3h3.4M164.2 533.3V545.2M162.5 533.3h3.4M162.5 545.2h3.4" stroke="#000" stroke-width=".9" fill="none"/>
<path d="M33.3 531.3h0M33.2 528.1h0M33.3 531.9h0M29.6 517.4h0M31.8 494.8h0M41.6 524.7h0M43.9 520.5h0M41.9 524.7h0M41.5 520.5h0M44.1 504.7h0M55.5 521.1h0M55.2 515.5h0M55.4 525.2h0M54.3 521.8h0M54.8 490.1h0M66.9 512.7h0M67.2 504.7h0M65.3 518.3h0M65.3 507.2h0M67.2 478.8h0M77.4 516.3h0M80.9 524.8h0M78.4 508.1h0M78 529.6h0M80.3 473.5h0M91.8 521.9h0M91 507.7h0M90.9 516.3h0M93.6 521.1h0M91.6 484.1h0M104 521.2h0M103.5 513.5h0M105.7 520h0M101.7 512.5h0M113.9 527.7h0M117.7 523.6h0M114.9 525.8h0M113.8 527.1h0M114.8 494.8h0M127.6 521.6h0M129 531.1h0M125.6 518.5h0M128.1 530.3h0M128.1 476.8h0M141.9 538.9h0M139 537.3h0M139 536.2h0M142 537.2h0M151.4 509.3h0M152.1 509.6h0M153.2 523h0M153.1 498.9h0M152.4 471.5h0M162.2 541.6h0M165.7 538.1h0M163.4 543.2h0M164.1 539.8h0" stroke="#000" stroke-width="1.9" stroke-linecap="round" fill="none"/>
<path d="M23 520.7h0M30.8 520.7h0M38.5 520.7h0M46.3 520.7h0M54.1 520.7h0M61.8 520.7h0M69.6 520.7h0M77.4 520.7h0M85.2 520.7h0M92.9 520.7h0M100.7 520.7h0M108.5 520.7h0M116.2 520.7h0M124 520.7h0M131.8 520.7h0M139.6 520.7h0M147.3 520.7h0M155.1 520.7h0M162.9 520.7h0M170.6 520.7h0" stroke="#ff5a52" stroke-width="3.4" stroke-linecap="round" fill="none"/>
<text x="31.5" y="559.4" font-size="7.6" text-anchor="end" transform="rotate(-45 31.5 559.4)">10F</text>
<text x="43.6" y="559.4" font-size="7.6" text-anchor="end" font-style="italic" transform="rotate(-45 43.6 559.4)">-Erg</text>
<text x="55.7" y="559.4" font-size="7.6" text-anchor="end" font-style="italic" transform="rotate(-45 55.7 559.4)">-Etv2</text>
<text x="67.8" y="559.4" font-size="7.6" text-anchor="end" font-style="italic" transform="rotate(-45 67.8 559.4)">-Fli1</text>
<text x="79.9" y="559.4" font-size="7.6" text-anchor="end" font-style="italic" transform="rotate(-45 79.9 559.4)">-Foxo1</text>
<text x="92" y="559.4" font-size="7.6" text-anchor="end" font-style="italic" transform="rotate(-45 92 559.4)">-Hey1</text>
<text x="104" y="559.4" font-size="7.6" text-anchor="end" font-style="italic" transform="rotate(-45 104 559.4)">-Klf2</text>
<text x="116.1" y="559.4" font-size="7.6" text-anchor="end" font-style="italic" transform="rotate(-45 116.1 559.4)">-Lmo2</text>
<text x="128.2" y="559.4" font-size="7.6" text-anchor="end" font-style="italic" transform="rotate(-45 128.2 559.4)">-Nr2f2</text>
<text x="140.3" y="559.4" font-size="7.6" text-anchor="end" font-style="italic" transform="rotate(-45 140.3 559.4)">-Sox17</text>
<text x="152.4" y="559.4" font-size="7.6" text-anchor="end" font-style="italic" transform="rotate(-45 152.4 559.4)">-Tal1</text>
<text x="164.5" y="559.4" font-size="7.6" text-anchor="end" transform="rotate(-45 164.5 559.4)">control</text>
<text x="140.3" y="503.8" font-size="6.8" transform="rotate(-90 140.3 503.8)">p= 0.0089</text>
<text x="153.2" y="465.2" font-size="6.8" transform="rotate(-90 153.2 465.2)">p= 0.0211</text>
<text x="166.4" y="503.6" font-size="6.8" transform="rotate(-90 166.4 503.6)">p= 0.0259</text>
<text x="6" y="496" font-size="7.6" text-anchor="middle" transform="rotate(-90 6 496)">% PECAM1 positive</text>
<line x1="30.7" y1="576.5" x2="145.6" y2="576.5" stroke="#000" stroke-width="2.6" stroke-linecap="round"/>
<text x="83" y="587" font-size="8" text-anchor="middle">10F - 1F</text>
<text x="189.5" y="433" font-size="9" font-weight="bold">h</text>
<rect x="220.4" y="537.6" width="7.9" height="9.3" fill="#808080" stroke="#1a1a1a" stroke-width=".9"/>
<rect x="232.2" y="509.4" width="7.9" height="37.5" fill="#808080" stroke="#1a1a1a" stroke-width=".9"/>
<rect x="244" y="521.6" width="7.9" height="25.3" fill="#808080" stroke="#1a1a1a" stroke-width=".9"/>
<rect x="255.8" y="517.3" width="7.9" height="29.6" fill="#808080" stroke="#1a1a1a" stroke-width=".9"/>
<rect x="267.6" y="533.3" width="7.9" height="13.6" fill="#808080" stroke="#1a1a1a" stroke-width=".9"/>
<rect x="279.4" y="531.5" width="7.9" height="15.4" fill="#808080" stroke="#1a1a1a" stroke-width=".9"/>
<rect x="291.2" y="511.9" width="7.9" height="35" fill="#808080" stroke="#1a1a1a" stroke-width=".9"/>
<rect x="303" y="536.9" width="7.9" height="10" fill="#808080" stroke="#1a1a1a" stroke-width=".9"/>
<rect x="314.8" y="532.3" width="7.9" height="14.6" fill="#808080" stroke="#1a1a1a" stroke-width=".9"/>
<rect x="326.6" y="534" width="7.9" height="12.9" fill="#808080" stroke="#1a1a1a" stroke-width=".9"/>
<rect x="338.4" y="539" width="7.9" height="7.9" fill="#808080" stroke="#1a1a1a" stroke-width=".9"/>
<line x1="216.9" y1="456.8" x2="216.9" y2="547.8" stroke="#000" stroke-width="1.8"/>
<line x1="216" y1="546.9" x2="349.5" y2="546.9" stroke="#000" stroke-width="1.8"/>
<line x1="212.6" y1="546.9" x2="216.9" y2="546.9" stroke="#000" stroke-width="1.4040000000000001"/>
<text x="212.3" y="549.7" font-size="7.8" text-anchor="end">0</text>
<line x1="212.6" y1="529" x2="216.9" y2="529" stroke="#000" stroke-width="1.4040000000000001"/>
<text x="212.3" y="531.9" font-size="7.8" text-anchor="end">5</text>
<line x1="212.6" y1="511.2" x2="216.9" y2="511.2" stroke="#000" stroke-width="1.4040000000000001"/>
<text x="212.3" y="514" font-size="7.8" text-anchor="end">10</text>
<line x1="212.6" y1="493.3" x2="216.9" y2="493.3" stroke="#000" stroke-width="1.4040000000000001"/>
<text x="212.3" y="496.2" font-size="7.8" text-anchor="end">15</text>
<line x1="212.6" y1="475.5" x2="216.9" y2="475.5" stroke="#000" stroke-width="1.4040000000000001"/>
<text x="212.3" y="478.3" font-size="7.8" text-anchor="end">20</text>
<line x1="212.6" y1="457.6" x2="216.9" y2="457.6" stroke="#000" stroke-width="1.4040000000000001"/>
<text x="212.3" y="460.5" font-size="7.8" text-anchor="end">25</text>
<line x1="214.3" y1="540.9" x2="216.9" y2="540.9" stroke="#000" stroke-width="1.4400000000000002"/>
<line x1="214.3" y1="535" x2="216.9" y2="535" stroke="#000" stroke-width="1.4400000000000002"/>
<line x1="214.3" y1="523.1" x2="216.9" y2="523.1" stroke="#000" stroke-width="1.4400000000000002"/>
<line x1="214.3" y1="517.1" x2="216.9" y2="517.1" stroke="#000" stroke-width="1.4400000000000002"/>
<line x1="214.3" y1="505.2" x2="216.9" y2="505.2" stroke="#000" stroke-width="1.4400000000000002"/>
<line x1="214.3" y1="499.3" x2="216.9" y2="499.3" stroke="#000" stroke-width="1.4400000000000002"/>
<line x1="214.3" y1="487.4" x2="216.9" y2="487.4" stroke="#000" stroke-width="1.4400000000000002"/>
<line x1="214.3" y1="481.4" x2="216.9" y2="481.4" stroke="#000" stroke-width="1.4400000000000002"/>
<line x1="214.3" y1="469.5" x2="216.9" y2="469.5" stroke="#000" stroke-width="1.4400000000000002"/>
<line x1="214.3" y1="463.6" x2="216.9" y2="463.6" stroke="#000" stroke-width="1.4400000000000002"/>
<line x1="224.3" y1="546.9" x2="224.3" y2="551.5" stroke="#000" stroke-width="1.4040000000000001"/>
<line x1="236.1" y1="546.9" x2="236.1" y2="551.5" stroke="#000" stroke-width="1.4040000000000001"/>
<line x1="247.9" y1="546.9" x2="247.9" y2="551.5" stroke="#000" stroke-width="1.4040000000000001"/>
<line x1="259.7" y1="546.9" x2="259.7" y2="551.5" stroke="#000" stroke-width="1.4040000000000001"/>
<line x1="271.5" y1="546.9" x2="271.5" y2="551.5" stroke="#000" stroke-width="1.4040000000000001"/>
<line x1="283.3" y1="546.9" x2="283.3" y2="551.5" stroke="#000" stroke-width="1.4040000000000001"/>
<line x1="295.1" y1="546.9" x2="295.1" y2="551.5" stroke="#000" stroke-width="1.4040000000000001"/>
<line x1="306.9" y1="546.9" x2="306.9" y2="551.5" stroke="#000" stroke-width="1.4040000000000001"/>
<line x1="318.7" y1="546.9" x2="318.7" y2="551.5" stroke="#000" stroke-width="1.4040000000000001"/>
<line x1="330.5" y1="546.9" x2="330.5" y2="551.5" stroke="#000" stroke-width="1.4040000000000001"/>
<line x1="342.3" y1="546.9" x2="342.3" y2="551.5" stroke="#000" stroke-width="1.4040000000000001"/>
<path d="M224.3 533.3V542.6M222.6 533.3h3.4M222.6 542.6h3.4M236.1 484.1V535.1M234.4 484.1h3.4M234.4 535.1h3.4M247.9 517.3V525.8M246.2 517.3h3.4M246.2 525.8h3.4M259.7 499.8V534.4M258 499.8h3.4M258 534.4h3.4M271.5 527.3V539.4M269.8 527.3h3.4M269.8 539.4h3.4M283.3 520.1V543.3M281.6 520.1h3.4M281.6 543.3h3.4M295.1 505.1V518.7M293.4 505.1h3.4M293.4 518.7h3.4M306.9 529.4V544.4M305.2 529.4h3.4M305.2 544.4h3.4M318.7 524.1V540.8M317 524.1h3.4M317 540.8h3.4M330.5 524.4V544.4M328.8 524.4h3.4M328.8 544.4h3.4M342.3 532.6V545.5M340.6 532.6h3.4M340.6 545.5h3.4" stroke="#000" stroke-width=".9" fill="none"/>
<path d="M226.4 537.2h0M223.9 539h0M222.9 537.2h0M223.1 540.5h0M233.9 520.6h0M236.6 528.8h0M234.4 510.3h0M237.1 518.5h0M235.9 474.8h0M249.2 522.5h0M247.2 522.7h0M247.1 524h0M247 521.5h0M247 515.5h0M260.6 513.7h0M258.4 515.1h0M260.1 520.8h0M260.7 516.6h0M259.8 491.6h0M273.1 533h0M269.6 538.2h0M270 534.1h0M270.8 532.3h0M271.7 525.5h0M281.8 538.9h0M282.5 538.7h0M282.4 536.5h0M284.1 532.8h0M282.9 516.6h0M293.8 517.4h0M293.9 510.3h0M296.3 510.4h0M293.1 517.4h0M305.6 537.8h0M304.6 539.4h0M307.6 542.2h0M305.2 538.7h0M307.3 526.6h0M321 534h0M321 536.2h0M320.5 539h0M320.5 539.1h0M329.2 532.8h0M330.6 538.8h0M332.4 540.5h0M332.6 540.6h0M330.2 520.1h0M344.1 541.1h0M342.1 541.5h0M341 539.9h0M340.1 537.6h0M342.5 529h0" stroke="#000" stroke-width="1.9" stroke-linecap="round" fill="none"/>
<path d="M216.9 537.4h0M224.7 537.4h0M232.4 537.4h0M240.2 537.4h0M248 537.4h0M255.8 537.4h0M263.5 537.4h0M271.3 537.4h0M279.1 537.4h0M286.8 537.4h0M294.6 537.4h0M302.4 537.4h0M310.1 537.4h0M317.9 537.4h0M325.7 537.4h0M333.5 537.4h0M341.2 537.4h0M349 537.4h0" stroke="#ff5a52" stroke-width="3.4" stroke-linecap="round" fill="none"/>
<text x="225.3" y="559.1" font-size="6.9" text-anchor="end" font-style="italic" transform="rotate(-45 225.3 559.1)">Sox17</text>
<text x="237.1" y="559.1" font-size="6.9" text-anchor="end" font-style="italic" transform="rotate(-45 237.1 559.1)">Sox17 Erg</text>
<text x="248.9" y="559.1" font-size="6.9" text-anchor="end" font-style="italic" transform="rotate(-45 248.9 559.1)">Sox17 Etv2</text>
<text x="260.7" y="559.1" font-size="6.9" text-anchor="end" font-style="italic" transform="rotate(-45 260.7 559.1)">Sox17 Fli1</text>
<text x="272.5" y="559.1" font-size="6.9" text-anchor="end" font-style="italic" transform="rotate(-45 272.5 559.1)">Sox17 Foxo1</text>
<text x="284.3" y="559.1" font-size="6.9" text-anchor="end" font-style="italic" transform="rotate(-45 284.3 559.1)">Sox17 Hey1</text>
<text x="296.1" y="559.1" font-size="6.9" text-anchor="end" font-style="italic" transform="rotate(-45 296.1 559.1)">Sox17 Klf2</text>
<text x="307.9" y="559.1" font-size="6.9" text-anchor="end" font-style="italic" transform="rotate(-45 307.9 559.1)">Sox17 Lmo2</text>
<text x="319.7" y="559.1" font-size="6.9" text-anchor="end" font-style="italic" transform="rotate(-45 319.7 559.1)">Sox17 Nr2f2</text>
<text x="331.5" y="559.1" font-size="6.9" text-anchor="end" font-style="italic" transform="rotate(-45 331.5 559.1)">Sox17 Tal1</text>
<text x="343.3" y="559.1" font-size="6.9" text-anchor="end" transform="rotate(-45 343.3 559.1)">control</text>
<text x="237.4" y="469" font-size="6.8" transform="rotate(-90 237.4 469)">p= 0.0023</text>
<text x="248.9" y="482" font-size="6.8" transform="rotate(-90 248.9 482)">p= 0.0311</text>
<text x="260.9" y="482" font-size="6.8" transform="rotate(-90 260.9 482)">p= 0.0274</text>
<text x="296.2" y="482" font-size="6.8" transform="rotate(-90 296.2 482)">p= 0.0104</text>
<text x="200" y="497.8" font-size="7.6" text-anchor="middle" transform="rotate(-90 200 497.8)">% PECAM1 positive</text>
<line x1="231" y1="589.6" x2="333.2" y2="589.6" stroke="#000" stroke-width="2.6" stroke-linecap="round"/>
<text x="281.8" y="597.7" font-size="7.1" text-anchor="middle"><tspan font-style="italic">Sox17</tspan> + 1F</text>
<text x="364.4" y="433" font-size="9" font-weight="bold">i</text>
<rect x="403.6" y="518.8" width="8.1" height="26.3" fill="#808080" stroke="#1a1a1a" stroke-width=".9"/>
<rect x="416.7" y="518.5" width="8.1" height="26.6" fill="#808080" stroke="#1a1a1a" stroke-width=".9"/>
<rect x="429.9" y="505.7" width="8.1" height="39.4" fill="#808080" stroke="#1a1a1a" stroke-width=".9"/>
<rect x="443" y="515.2" width="8.1" height="29.9" fill="#808080" stroke="#1a1a1a" stroke-width=".9"/>
<rect x="456.2" y="517.7" width="8.1" height="27.4" fill="#808080" stroke="#1a1a1a" stroke-width=".9"/>
<rect x="469.3" y="537.8" width="8.1" height="7.3" fill="#808080" stroke="#1a1a1a" stroke-width=".9"/>
<rect x="482.4" y="539.6" width="8.1" height="5.5" fill="#808080" stroke="#1a1a1a" stroke-width=".9"/>
<line x1="398.7" y1="452.9" x2="398.7" y2="546.1" stroke="#000" stroke-width="2.0"/>
<line x1="397.7" y1="545.1" x2="495" y2="545.1" stroke="#000" stroke-width="2.0"/>
<line x1="393.9" y1="545.1" x2="398.7" y2="545.1" stroke="#000" stroke-width="1.56"/>
<text x="391.9" y="548.2" font-size="8.6" text-anchor="end">0</text>
<line x1="393.9" y1="526.9" x2="398.7" y2="526.9" stroke="#000" stroke-width="1.56"/>
<text x="391.9" y="529.9" font-size="8.6" text-anchor="end">5</text>
<line x1="393.9" y1="508.6" x2="398.7" y2="508.6" stroke="#000" stroke-width="1.56"/>
<text x="391.9" y="511.7" font-size="8.6" text-anchor="end">10</text>
<line x1="393.9" y1="490.4" x2="398.7" y2="490.4" stroke="#000" stroke-width="1.56"/>
<text x="391.9" y="493.4" font-size="8.6" text-anchor="end">15</text>
<line x1="393.9" y1="472.1" x2="398.7" y2="472.1" stroke="#000" stroke-width="1.56"/>
<text x="391.9" y="475.2" font-size="8.6" text-anchor="end">20</text>
<line x1="393.9" y1="453.9" x2="398.7" y2="453.9" stroke="#000" stroke-width="1.56"/>
<text x="391.9" y="456.9" font-size="8.6" text-anchor="end">25</text>
<line x1="395.8" y1="539" x2="398.7" y2="539" stroke="#000" stroke-width="1.6"/>
<line x1="395.8" y1="532.9" x2="398.7" y2="532.9" stroke="#000" stroke-width="1.6"/>
<line x1="395.8" y1="520.8" x2="398.7" y2="520.8" stroke="#000" stroke-width="1.6"/>
<line x1="395.8" y1="514.7" x2="398.7" y2="514.7" stroke="#000" stroke-width="1.6"/>
<line x1="395.8" y1="502.5" x2="398.7" y2="502.5" stroke="#000" stroke-width="1.6"/>
<line x1="395.8" y1="496.4" x2="398.7" y2="496.4" stroke="#000" stroke-width="1.6"/>
<line x1="395.8" y1="484.3" x2="398.7" y2="484.3" stroke="#000" stroke-width="1.6"/>
<line x1="395.8" y1="478.2" x2="398.7" y2="478.2" stroke="#000" stroke-width="1.6"/>
<line x1="395.8" y1="466" x2="398.7" y2="466" stroke="#000" stroke-width="1.6"/>
<line x1="395.8" y1="459.9" x2="398.7" y2="459.9" stroke="#000" stroke-width="1.6"/>
<line x1="407.6" y1="545.1" x2="407.6" y2="550.1" stroke="#000" stroke-width="1.56"/>
<line x1="420.8" y1="545.1" x2="420.8" y2="550.1" stroke="#000" stroke-width="1.56"/>
<line x1="433.9" y1="545.1" x2="433.9" y2="550.1" stroke="#000" stroke-width="1.56"/>
<line x1="447.1" y1="545.1" x2="447.1" y2="550.1" stroke="#000" stroke-width="1.56"/>
<line x1="460.2" y1="545.1" x2="460.2" y2="550.1" stroke="#000" stroke-width="1.56"/>
<line x1="473.4" y1="545.1" x2="473.4" y2="550.1" stroke="#000" stroke-width="1.56"/>
<line x1="486.5" y1="545.1" x2="486.5" y2="550.1" stroke="#000" stroke-width="1.56"/>
<path d="M407.6 494.7V542.5M405.4 494.7h4.4M405.4 542.5h4.4M420.8 497.7V540.4M418.6 497.7h4.4M418.6 540.4h4.4M433.9 469.5V541.5M431.7 469.5h4.4M431.7 541.5h4.4M447.1 491.1V539.3M444.9 491.1h4.4M444.9 539.3h4.4M460.2 493.3V541.5M458 493.3h4.4M458 541.5h4.4M473.4 532.3V543.6M471.2 532.3h4.4M471.2 543.6h4.4M486.5 538.5V542.2M484.3 538.5h4.4M484.3 542.2h4.4" stroke="#000" stroke-width=".9" fill="none"/>
<path d="M406.6 536.4h0M408.5 533h0M409.8 525.9h0M406 525.4h0M408.3 491.4h0M419.3 536h0M421.7 523.8h0M422.6 535h0M420 530.5h0M420.5 491.8h0M435.6 514.7h0M436 531.4h0M436.3 498h0M435.7 501.1h0M434.5 461.9h0M444.7 521.1h0M446.5 533.7h0M448.9 532.6h0M446.2 516.4h0M446.6 492.2h0M462.2 516.2h0M458.7 531h0M458.4 530.3h0M460.2 537.2h0M459.7 492.5h0M472.9 542.7h0M473.4 542.1h0M471.9 540.8h0M475 536.7h0M473.8 531.2h0M485.7 541.8h0M487 541.6h0M486.8 540h0M484.6 541.3h0" stroke="#000" stroke-width="1.9" stroke-linecap="round" fill="none"/>
<path d="M398.7 518.8h0M406.5 518.8h0M414.2 518.8h0M422 518.8h0M429.8 518.8h0M437.5 518.8h0M445.3 518.8h0M453.1 518.8h0M460.9 518.8h0M468.6 518.8h0M476.4 518.8h0M484.2 518.8h0M491.9 518.8h0" stroke="#ff5a52" stroke-width="3.4" stroke-linecap="round" fill="none"/>
<text x="410.4" y="555.6" font-size="8.9" text-anchor="end" transform="rotate(-45 410.4 555.6)">5F</text>
<text x="423.6" y="555.6" font-size="8.9" text-anchor="end" font-style="italic" transform="rotate(-45 423.6 555.6)">-Erg</text>
<text x="436.7" y="555.6" font-size="8.9" text-anchor="end" font-style="italic" transform="rotate(-45 436.7 555.6)">-Etv2</text>
<text x="449.9" y="555.6" font-size="8.9" text-anchor="end" font-style="italic" transform="rotate(-45 449.9 555.6)">-Fli1</text>
<text x="463" y="555.6" font-size="8.9" text-anchor="end" font-style="italic" transform="rotate(-45 463 555.6)">-Klf2</text>
<text x="476.2" y="555.6" font-size="8.9" text-anchor="end" font-style="italic" transform="rotate(-45 476.2 555.6)">-Sox17</text>
<text x="489.3" y="555.6" font-size="8.9" text-anchor="end" transform="rotate(-45 489.3 555.6)">control</text>
<text x="435.3" y="451.2" font-size="6.8" transform="rotate(-90 435.3 451.2)">p= 0.015</text>
<text x="378.3" y="502.2" font-size="7.85" text-anchor="middle" transform="rotate(-90 378.3 502.2)">%  PECAM1 positive</text>
<line x1="411" y1="580.6" x2="473.6" y2="580.6" stroke="#000" stroke-width="2.8" stroke-linecap="round"/>
<text x="448.3" y="591.2" font-size="8.9" text-anchor="middle">5F - 1F</text>
<text x="516.5" y="433" font-size="9" font-weight="bold">j</text>
<rect x="552.9" y="522.3" width="7.7" height="20" fill="#808080" stroke="#1a1a1a" stroke-width=".9"/>
<rect x="565.9" y="492.2" width="7.7" height="50.1" fill="#808080" stroke="#1a1a1a" stroke-width=".9"/>
<rect x="578.8" y="507.1" width="7.7" height="35.2" fill="#808080" stroke="#1a1a1a" stroke-width=".9"/>
<rect x="591.7" y="508.2" width="7.7" height="34.1" fill="#808080" stroke="#1a1a1a" stroke-width=".9"/>
<rect x="604.6" y="500.7" width="7.7" height="41.6" fill="#808080" stroke="#1a1a1a" stroke-width=".9"/>
<rect x="617.5" y="509.6" width="7.7" height="32.7" fill="#808080" stroke="#1a1a1a" stroke-width=".9"/>
<rect x="630.5" y="503.3" width="7.7" height="39" fill="#808080" stroke="#1a1a1a" stroke-width=".9"/>
<rect x="643.4" y="506.2" width="7.7" height="36.1" fill="#808080" stroke="#1a1a1a" stroke-width=".9"/>
<rect x="656.3" y="529.8" width="7.7" height="12.5" fill="#808080" stroke="#1a1a1a" stroke-width=".9"/>
<rect x="669.2" y="534.1" width="7.7" height="8.2" fill="#808080" stroke="#1a1a1a" stroke-width=".9"/>
<line x1="548.3" y1="452.4" x2="548.3" y2="543.2" stroke="#000" stroke-width="1.8"/>
<line x1="547.4" y1="542.3" x2="681.5" y2="542.3" stroke="#000" stroke-width="1.8"/>
<line x1="544.1" y1="542.3" x2="548.3" y2="542.3" stroke="#000" stroke-width="1.4040000000000001"/>
<text x="543.8" y="545.2" font-size="8.0" text-anchor="end">0</text>
<line x1="544.1" y1="520" x2="548.3" y2="520" stroke="#000" stroke-width="1.4040000000000001"/>
<text x="543.8" y="522.9" font-size="8.0" text-anchor="end">10</text>
<line x1="544.1" y1="497.8" x2="548.3" y2="497.8" stroke="#000" stroke-width="1.4040000000000001"/>
<text x="543.8" y="500.7" font-size="8.0" text-anchor="end">20</text>
<line x1="544.1" y1="475.5" x2="548.3" y2="475.5" stroke="#000" stroke-width="1.4040000000000001"/>
<text x="543.8" y="478.4" font-size="8.0" text-anchor="end">30</text>
<line x1="544.1" y1="453.3" x2="548.3" y2="453.3" stroke="#000" stroke-width="1.4040000000000001"/>
<text x="543.8" y="456.1" font-size="8.0" text-anchor="end">40</text>
<line x1="545.8" y1="534.9" x2="548.3" y2="534.9" stroke="#000" stroke-width="1.4400000000000002"/>
<line x1="545.8" y1="527.5" x2="548.3" y2="527.5" stroke="#000" stroke-width="1.4400000000000002"/>
<line x1="545.8" y1="512.6" x2="548.3" y2="512.6" stroke="#000" stroke-width="1.4400000000000002"/>
<line x1="545.8" y1="505.2" x2="548.3" y2="505.2" stroke="#000" stroke-width="1.4400000000000002"/>
<line x1="545.8" y1="490.4" x2="548.3" y2="490.4" stroke="#000" stroke-width="1.4400000000000002"/>
<line x1="545.8" y1="482.9" x2="548.3" y2="482.9" stroke="#000" stroke-width="1.4400000000000002"/>
<line x1="545.8" y1="468.1" x2="548.3" y2="468.1" stroke="#000" stroke-width="1.4400000000000002"/>
<line x1="545.8" y1="460.7" x2="548.3" y2="460.7" stroke="#000" stroke-width="1.4400000000000002"/>
<line x1="556.8" y1="542.3" x2="556.8" y2="546.9" stroke="#000" stroke-width="1.4040000000000001"/>
<line x1="569.7" y1="542.3" x2="569.7" y2="546.9" stroke="#000" stroke-width="1.4040000000000001"/>
<line x1="582.6" y1="542.3" x2="582.6" y2="546.9" stroke="#000" stroke-width="1.4040000000000001"/>
<line x1="595.6" y1="542.3" x2="595.6" y2="546.9" stroke="#000" stroke-width="1.4040000000000001"/>
<line x1="608.5" y1="542.3" x2="608.5" y2="546.9" stroke="#000" stroke-width="1.4040000000000001"/>
<line x1="621.4" y1="542.3" x2="621.4" y2="546.9" stroke="#000" stroke-width="1.4040000000000001"/>
<line x1="634.3" y1="542.3" x2="634.3" y2="546.9" stroke="#000" stroke-width="1.4040000000000001"/>
<line x1="647.2" y1="542.3" x2="647.2" y2="546.9" stroke="#000" stroke-width="1.4040000000000001"/>
<line x1="660.2" y1="542.3" x2="660.2" y2="546.9" stroke="#000" stroke-width="1.4040000000000001"/>
<line x1="673.1" y1="542.3" x2="673.1" y2="546.9" stroke="#000" stroke-width="1.4040000000000001"/>
<path d="M556.8 515.6V527.8M554.4 515.6h4.8M554.4 527.8h4.8M569.7 471.1V513.4M567.3 471.1h4.8M567.3 513.4h4.8M582.6 488.9V524.5M580.2 488.9h4.8M580.2 524.5h4.8M595.6 492.7V523.4M593.2 492.7h4.8M593.2 523.4h4.8M608.5 486.6V514.5M606.1 486.6h4.8M606.1 514.5h4.8M621.4 490.4V528.3M619 490.4h4.8M619 528.3h4.8M634.3 484.4V522.7M631.9 484.4h4.8M631.9 522.7h4.8M647.2 496V516.5M644.8 496h4.8M644.8 516.5h4.8M660.2 520.5V539M657.8 520.5h4.8M657.8 539h4.8M673.1 531.6V536.1M670.7 531.6h4.8M670.7 536.1h4.8" stroke="#000" stroke-width=".9" fill="none"/>
<path d="M558.9 521.4h0M558.9 526.1h0M557.9 520.7h0M558.1 525.9h0M571.5 500.2h0M570.1 505.6h0M569.3 498.8h0M571.4 507.7h0M582.8 504.2h0M582.4 516.7h0M581 504.9h0M584.1 504.9h0M596.2 515.3h0M597.4 507.7h0M593.6 514h0M596.8 505.5h0M609.8 507.6h0M608.8 503.8h0M609.2 498.1h0M608.1 507.3h0M620.9 510.9h0M620.5 506.9h0M621.7 521.9h0M622.8 507.3h0M632.8 504.2h0M633.2 518.9h0M635.8 508.1h0M633.8 514.4h0M649.2 505.8h0M648.3 513.7h0M648.9 505.5h0M647.3 511.6h0M661.7 529.6h0M660 530.5h0M658 537.1h0M661.9 534.1h0M675.2 534h0M672.2 535.2h0M671.8 535.3h0M675.2 533.6h0" stroke="#000" stroke-width="1.3" stroke-linecap="round" fill="none"/>
<path d="M548.3 522.3h0M556.1 522.3h0M563.8 522.3h0M571.6 522.3h0M579.4 522.3h0M587.1 522.3h0M594.9 522.3h0M602.7 522.3h0M610.5 522.3h0M618.2 522.3h0M626 522.3h0M633.8 522.3h0M641.5 522.3h0M649.3 522.3h0M657.1 522.3h0M664.8 522.3h0M672.6 522.3h0M680.4 522.3h0" stroke="#ff5a52" stroke-width="3.4" stroke-linecap="round" fill="none"/>
<text x="556.6" y="553.3" font-size="6.8" text-anchor="end" font-style="italic" transform="rotate(-45 556.6 553.3)">Sox17</text>
<text x="569.5" y="553.3" font-size="6.8" text-anchor="end" font-style="italic" transform="rotate(-45 569.5 553.3)">Sox17 Erg</text>
<text x="582.4" y="553.3" font-size="6.8" text-anchor="end" font-style="italic" transform="rotate(-45 582.4 553.3)">Sox17 Erg Fli1</text>
<text x="595.4" y="553.3" font-size="6.8" text-anchor="end" font-style="italic" transform="rotate(-45 595.4 553.3)">Sox17 Erg Fli1 Klf2</text>
<text x="608.3" y="553.3" font-size="6.8" text-anchor="end" font-style="italic" transform="rotate(-45 608.3 553.3)">Sox17 Erg Klf2</text>
<text x="621.2" y="553.3" font-size="6.8" text-anchor="end" font-style="italic" transform="rotate(-45 621.2 553.3)">Sox17 Fli1</text>
<text x="634.1" y="553.3" font-size="6.8" text-anchor="end" font-style="italic" transform="rotate(-45 634.1 553.3)">Sox17 Fli1 Klf2</text>
<text x="647" y="553.3" font-size="6.8" text-anchor="end" font-style="italic" transform="rotate(-45 647 553.3)">Sox17 Klf2</text>
<text x="660" y="553.3" font-size="6.8" text-anchor="end" font-style="italic" transform="rotate(-45 660 553.3)">Etv2 Erg Fli1</text>
<text x="672.9" y="553.3" font-size="6.8" text-anchor="end" transform="rotate(-45 672.9 553.3)">control</text>
<text x="570.9" y="464.8" font-size="6.8" transform="rotate(-90 570.9 464.8)">p= 0.0163</text>
<text x="610" y="464.8" font-size="6.8" transform="rotate(-90 610 464.8)">p= 0.0253</text>
<text x="531.2" y="493.7" font-size="7.65" text-anchor="middle" transform="rotate(-90 531.2 493.7)">% PECAM1 positive</text>
<defs><filter id="b1" x="-10%" y="-10%" width="120%" height="120%"><feGaussianBlur stdDeviation="0.35"/></filter><filter id="b2" x="-20%" y="-20%" width="140%" height="140%"><feGaussianBlur stdDeviation="1.3"/></filter><filter id="b4" x="-20%" y="-20%" width="140%" height="140%"><feGaussianBlur stdDeviation="0.7"/></filter><filter id="b3" x="-20%" y="-20%" width="140%" height="140%"><feGaussianBlur stdDeviation="5"/></filter></defs>
<text x="6" y="605.6" font-size="9" font-weight="bold">k</text>
<clipPath id="cp1"><rect x="14.3" y="617.3" width="143.5" height="106.5"/></clipPath>
<g clip-path="url(#cp1)">
<rect x="14.3" y="617.3" width="143.5" height="106.5" fill="#00000e"/>
<path d="M89.7 720h0M32.8 674.4h0M47.4 700.2h0M34.7 721.5h0M132.9 668.9h0M86.5 682.9h0M68.4 640.9h0M156.9 719.2h0M45.5 627.5h0M115.1 677.4h0M98.7 620.1h0M58.4 657.1h0M39.7 633.7h0M106.5 682.6h0M45.8 720.3h0M120.7 630.1h0M148.3 631.2h0M50.4 669.1h0M24.6 630.5h0M134.1 657.6h0M23.5 677.3h0M103.3 671.3h0M22.2 643.4h0M152.2 668.7h0M93 702.1h0M65 710.7h0M81.8 719.2h0M40.4 649.2h0M70.4 629h0M61.2 676.8h0M28.7 717h0M136.1 648.7h0M91.8 704.1h0M85.6 664.5h0M127.3 723.2h0M31.5 680.7h0M69 688.4h0M20 719.4h0M29 680h0M70.6 714.3h0M85.8 654.9h0M151.4 643.4h0M111.5 693h0M21.5 629h0M72.3 643.2h0M129.6 701.9h0M92.5 705.6h0M54.9 680.1h0M55.2 651.3h0M143.8 716.7h0M147.6 713.3h0M42.3 687.4h0M88.8 696.5h0M140.3 684.7h0M120.6 654.1h0M122.2 661.2h0M25 696.7h0M135.2 706.8h0M84.1 624.6h0M55.7 706.2h0M77.9 645.7h0M60.5 708.1h0M23.2 639.8h0M30.9 630.4h0M47 686.8h0M122.2 617.7h0M153.1 633.2h0M42.8 621.6h0M146.5 710h0M58.8 690.3h0M145.8 617.8h0M90.9 626.3h0M22.3 639.5h0M84.1 712h0M43.5 695.4h0M77.4 622h0M127.3 712.3h0M128.9 622.3h0M95.1 673.2h0M89.4 711.9h0M14.4 655.9h0M34.3 622.3h0M104.1 715.8h0M88.5 684.8h0M140.2 683.3h0M116.1 640.1h0M61.3 719.4h0M136.1 659.5h0M109.2 682.1h0M26.7 653.4h0M72.5 688.9h0M21.6 720.2h0M17.3 636.3h0M24.4 633.9h0M141 686.4h0M119.7 697.5h0M73.3 652.7h0M132.7 696.2h0M101.6 634h0M25.5 631.1h0M133.3 660.4h0M53.3 635.4h0M50 667.1h0M30.8 698.5h0M82.9 620.5h0M58.1 647.4h0M151.5 700.7h0M72.1 706.9h0M40.2 687.6h0M137.4 661.9h0M154.9 644.9h0M88 720.2h0M110 623.8h0M115.4 700.8h0M36.5 661.5h0M140.8 618.9h0M131.1 687.6h0M125.1 704.2h0M78.7 715.3h0M68.4 664h0M110.8 690.7h0M117.6 707.5h0M136.4 688.2h0M147.7 668.7h0M131.4 675.3h0M153.6 671.7h0M120.3 656.7h0M56.5 685.4h0M69.5 625h0M62.5 673.6h0M137.9 674.8h0M100.1 682.2h0M104.4 647.2h0M145.3 705.8h0M17.4 705.2h0M80 661.3h0M37.7 704h0M59.7 693.3h0M88.3 679.3h0M61.8 626.6h0M28.4 651.8h0M132.5 680.9h0M108.6 629.4h0M35.1 718.1h0M20.3 625.8h0M95.6 662.2h0M76.9 712.2h0M94 641.8h0M63.6 666.2h0M127.6 714.4h0M102.1 719.2h0M19.8 714.9h0M112.1 620.7h0M123.8 712h0M96 677.5h0M102.7 637.7h0M133.3 621.4h0M63.7 635.7h0M148.6 720.9h0M94.6 687.8h0M112.6 644.1h0M100.5 657.8h0M45.4 671.1h0M144.1 636.2h0M79.7 688.6h0M140.4 685.1h0M154.5 668.3h0M116.2 708.3h0M34.4 670.1h0M84.2 666.7h0M38 624h0M122.7 636h0M85 696.9h0M67.4 706.3h0M52.2 643.1h0M62.9 670.2h0M87.7 626.6h0M68.2 617.9h0M52 665.3h0M127.9 668.3h0M76.2 703.8h0M113.5 712.6h0M106.4 628.8h0M65.3 683.6h0M123.4 670h0M74.8 683.5h0M100.5 686.6h0M154.3 664.4h0M113.7 648.3h0M151.6 720.1h0M68.5 719.4h0M111.2 637.3h0M111.5 642.7h0M18.8 676h0M117.1 646.6h0M67.4 706.5h0M38.6 714h0M127.1 713.5h0M55.4 678.4h0M24.2 700.1h0M69.6 641.5h0M67.1 646.6h0M47.5 673.1h0M71.2 691.4h0M111.1 701.7h0M32.7 715.9h0M106.9 620.9h0M134.8 715.1h0M43.1 678h0M107.2 626.8h0M109.2 623.7h0M146.6 681.9h0M78.3 664.6h0M22.9 650.1h0M16.5 700.4h0M35.1 644.8h0M134.4 659.2h0M118.7 723h0M30.9 675.7h0M44.9 634.4h0M111.5 657.6h0M114.1 689.2h0M37.8 691.8h0M59 723.3h0M104.8 629.2h0M101.8 658.3h0M85 643.6h0M121.7 709.5h0M85.1 681.7h0M157.7 712h0M92.2 690.6h0M147.2 722.2h0M56.4 668.9h0M144.7 658.2h0M156.4 695.1h0M151.7 712.8h0M142.6 644.4h0M46.9 630.5h0M45.6 696.3h0M71.9 676.5h0M64.5 682.8h0M21.4 720h0M109.5 705.7h0M53.6 642.9h0M117.9 661.7h0M39 674.5h0M143.9 691.6h0M123.3 691.5h0M99 621.2h0M30.3 718.6h0M108.1 691.5h0M80.7 666.7h0M116.9 625.2h0M26.1 696.4h0M107.8 625.7h0M52.6 678.7h0M144 689h0M52 656.4h0M142 674.8h0M43.1 618h0M43.3 694.2h0M103.1 618h0M73.3 711.1h0M46.4 617.8h0M70.3 707.4h0M58.9 706h0M144 655.5h0M143.7 712.2h0M135.1 623.1h0M154.6 667.6h0M62.8 668.6h0M87.9 721h0M109.4 692.5h0M23.8 679.5h0M68 619.2h0M31.8 636.4h0M15.3 654.4h0M57.5 676.2h0M147.4 635.1h0M48.1 670h0M19.9 693.6h0M65.9 646.1h0M138.4 669h0M72.8 680.3h0M97.2 656.1h0M107.3 631h0M62.4 644.3h0M146.1 718.5h0M134 705.2h0M129.2 656h0M86.2 622.1h0M68.3 661.7h0M111.4 621.7h0M136.1 681.7h0M107.8 708.3h0M141.6 686.2h0M102.1 691.3h0M53.3 708h0M120.1 713h0M106.9 620.9h0M61.1 658.3h0M107.8 712.4h0M130.5 723.5h0M142.8 637.7h0M147.9 687.3h0M94.7 720.9h0M106.9 712.9h0M89.4 629.3h0M24.1 635.6h0M22.7 630.3h0M142.1 639h0M31.5 636.8h0M69.7 620.4h0M119.7 705.6h0M145.4 674.4h0M22 695.6h0M145.1 688.5h0M110.7 703h0M48.5 618h0M111.2 666.1h0M112.3 646.8h0M66.6 717.6h0M85.1 680.1h0M89.7 697.7h0M102.2 628.2h0M78.4 648h0M92.3 618.6h0M80.5 655.9h0M37.8 653.2h0M57.1 658.3h0M101.9 658.4h0M51.3 691.9h0M128.6 633h0M49.3 675.9h0M146.4 621.9h0M37.2 703.6h0M48.3 682.9h0M79.8 680.9h0M93.6 618.7h0M116.7 705.9h0M90.4 714.4h0M71.8 629.3h0M121.8 670.6h0M43.8 690.3h0M132.8 707.8h0M36.6 684h0M38 721.9h0M61.5 711.9h0M68.7 689.6h0M86 722h0M78.2 652h0M133.6 634.6h0M67.1 620.7h0M121.9 713.2h0M105.7 709.8h0M59 652.4h0M58.6 628.8h0M141.9 626.6h0M110.3 700.4h0M65.8 704.7h0M104.5 622.1h0M54.7 626.5h0M115.1 634.9h0M105.2 684.2h0M35.3 699.4h0M35.2 662.1h0M30 626.6h0M134.3 686.8h0M140.7 664.3h0M138.6 713.2h0M35.4 654.9h0M108.2 711.6h0M143.9 682h0M139.6 707.1h0M103.3 672.1h0M68.8 680.9h0M136 712.9h0M154.6 698.2h0M15.8 715.2h0M71.2 635h0M90.1 694.9h0M24.9 636.1h0M119.6 653h0M57 620.5h0M64 650.1h0M99.9 715.2h0M156.3 626.5h0M79.6 662.1h0M152.1 708.7h0M99.9 684.5h0M30.1 674.5h0M115.9 618.8h0M23.1 677h0M96.6 659.1h0M117.1 723.7h0M126.3 698.5h0M83.8 636.9h0M42.1 625.2h0M143.6 717.6h0M67.2 627.4h0M20.7 627.3h0M74.9 638.5h0M132.2 719.1h0M98.5 717.7h0M142.5 671.1h0M62.3 719.8h0M47.8 679.7h0M76.6 683.5h0M126.1 690h0M46.1 693h0M43.6 641.1h0M111.3 627.2h0M15.9 656.8h0M16.4 720.3h0M52 680.9h0M141.9 694.9h0M118.2 698.9h0M79.9 667.9h0M119 681.4h0M36 626.4h0M135.6 710.8h0M27.9 705.4h0M95.8 679.1h0M98.3 682.8h0M62.9 711.5h0M137.1 696.4h0M64.4 701.5h0M48.4 677.6h0M130.5 711.1h0M76.2 657.1h0M83.1 673.8h0M87.8 687.8h0M65.7 623.1h0M56.5 630.1h0M20.7 705.1h0M67.4 661.3h0M118.2 665.9h0M52.7 659.8h0M116 667.1h0M126.2 661.6h0M108 634.5h0M154.4 718.8h0M71.1 627h0M44.4 709.1h0M62 644.8h0M131.5 700.2h0M145.8 668.9h0M100.6 703.9h0M44.8 713.7h0M112.9 665.3h0M22 677.7h0M156 625.2h0M145 695.6h0M111.3 696.1h0M36.5 683.2h0M124.9 623.6h0M42.8 694.5h0M41.8 676.2h0M114.5 709.4h0M74.2 632.1h0M151.9 683.6h0M33 657.8h0M145 707.5h0M38 661.4h0M54.9 665.2h0M119 629.2h0M44.5 712.9h0M109.5 625.8h0M66.7 648.2h0M32.5 624.5h0M139.5 673.6h0M102.4 715.2h0M42.6 640.6h0M68.9 647.8h0M80.3 710.7h0M58.4 701.5h0M80.8 649.6h0M70.7 712.9h0M52.4 641.4h0M25 715.4h0M43.2 622.8h0M138.6 642.4h0M36.3 701.5h0M154.4 705.5h0M127.3 696.8h0M57.6 721.6h0M67.4 683.6h0M95.7 711.6h0M54.4 723h0M121.7 712h0M24.2 695h0M113.7 647.5h0M21.6 660.2h0M52.6 636.6h0M70.7 629.8h0M73 638.8h0M30.9 670.8h0M113.5 709.9h0M26.1 622h0M14.3 691.1h0M28.3 685.6h0M119.1 665.1h0M111.5 627.4h0M95.7 679.1h0M157.5 703h0M58.7 626.5h0M111.2 638.5h0M115.1 633.9h0M148.3 714.2h0M15 701.3h0M21.4 640.1h0M117.4 725.5h0M94.3 683.7h0M84.8 644h0M143.5 637.9h0M117.3 646h0M105.7 648.2h0M69.2 719.9h0M47.5 687.3h0M107.9 708h0M140.1 673.2h0M53.9 707.2h0M126.3 659.6h0M68.2 719.4h0M102.8 628.5h0M36.3 648.9h0M64.3 719.9h0M68 707.7h0M33.1 644.3h0M14.6 721.1h0M144.5 663.3h0M63.4 673.4h0M63 677h0M155.2 697.9h0M107.4 623.3h0M135.5 675.5h0M78 660h0M113.8 643.8h0M65.9 648.2h0M29.7 696.7h0M36.2 722.2h0M126.3 698.5h0M108.4 671.1h0M109.9 675.9h0M54.9 705.9h0M16.2 636.4h0M141.2 695.6h0M72.3 711h0M23.9 649h0M111.7 655.2h0M141.7 683.2h0M55 723.5h0M87.1 626.7h0M112.3 702.1h0M105.8 664.1h0M61.1 667h0M106.6 708h0M132.5 717.2h0M142.9 715.8h0M73.5 685.1h0M70.4 622.1h0M34.8 720.1h0M76.7 677.2h0M40.9 654.9h0M146.8 682.9h0M68.6 618.3h0M121.4 716.4h0M55.2 682.1h0M103.8 664.4h0M24.2 718.2h0M32.8 643.2h0M144.8 706.9h0M114.5 648.4h0M138.6 666.9h0M77.3 657.7h0M141.6 685.4h0M140.5 659.9h0M20.9 628.9h0M139.4 667.3h0M116.1 677.1h0M154.6 647.8h0M33.5 671.1h0M154.8 667.4h0M141.1 662.9h0M26.5 705.8h0M59.9 671.3h0M44.9 719.4h0M110.3 663.4h0M128 713.6h0M68.1 662.7h0M40.3 659.2h0M108 708.1h0M133.7 627.2h0M34.2 623.9h0M81.9 689.7h0M107.9 630.2h0M119.8 656.2h0M35.7 703.2h0M139.1 707h0M31.9 675.2h0M57.5 634h0M120.9 712h0M23.5 636.5h0M100.3 662.6h0M115 674.9h0M124.4 663.7h0M97 621.2h0M150.7 635.7h0M50.6 668.2h0M30.6 650.5h0M100.1 621.7h0M127.6 713.8h0M53.3 652.9h0M38.7 700.5h0M154.3 699.2h0M104.5 682h0M117.9 660.9h0M85.5 626.2h0M112.8 659.4h0M51.8 668.8h0M50.6 681.6h0M135.9 661h0M93.6 663.3h0M144.4 680.6h0M72.1 677.9h0M146.3 709.9h0M24.9 694.7h0M44.5 625.8h0M82.2 692.3h0M56.4 648.2h0M103.1 637h0M137.1 627.3h0M16.6 663.1h0M87.5 679.1h0M135 674.6h0M136.7 646.5h0M100.7 621h0M80.2 699.9h0M100.4 648.7h0" stroke="#0a0cff" stroke-width="1.9" stroke-linecap="round" fill="none" filter="url(#b1)"/>
<path d="M145.4 685.4h0M75.7 659.1h0M145.8 705h0M116.3 625.8h0M110 712.5h0M50.2 668.4h0M84.3 624.3h0M68.3 686.1h0M111.2 703.2h0M102.1 656.5h0M33.3 650.6h0M73.5 685.2h0M150.8 622.3h0M55.9 693.9h0M16.8 662.4h0M101 623.6h0M83.4 718h0M54.5 680.6h0M107.2 710.4h0M154.2 624.8h0M30.7 634h0M46.2 661.9h0M146.2 618.5h0M101 636.5h0M34 661.6h0M156.1 711h0M157.3 703.5h0M106.8 686.2h0M38.8 672.1h0M21.5 635.7h0M81.4 720.2h0M98 723.2h0M29.6 708.7h0M22 658.7h0M128.7 699.6h0M43.4 643.2h0M61.4 696.7h0M134.1 693.2h0M31.8 644.3h0M79.5 666.8h0M112.3 704h0M27.9 687.5h0M73.1 686.1h0M26.7 692.6h0M113.5 705h0M40 623.9h0M144.9 636h0M21.5 672.5h0M155.1 673.4h0M78.2 693.3h0M77 706.1h0M126.4 697.5h0M56.5 627h0M144.4 669.3h0M75.3 723.1h0M55.1 703.5h0M145.7 671.3h0M59 626.5h0M131.8 664h0M37 659.9h0M109.7 672.7h0M53.4 648.8h0M14.4 690.4h0M154 693h0M111 664.6h0M26.7 636.2h0M72.8 647.9h0M71.6 629.7h0M103.6 693.6h0M145.8 656.2h0M48.7 617.4h0M107.6 680.3h0M141.3 649.8h0M52.1 707h0M38.4 647.8h0M79.5 700.3h0M95.4 713h0M146.8 638.7h0M15.4 648.7h0M140.3 658.6h0M62.8 687.5h0M156.6 702.4h0M102.4 660.9h0M111.7 702.4h0M44 655.7h0M106.4 636.6h0M81.6 715.9h0M112.7 672.9h0M67.4 629h0M64.7 621.1h0M86.7 714.6h0M82.6 659.4h0M72.5 712.4h0M61 648.1h0M114.3 699.7h0M105.6 722.4h0M156.8 697.4h0M55 722.5h0M68.2 642.9h0M18.1 640.4h0M39.8 648.9h0M137.1 625.2h0M142.2 634.9h0M116 630.7h0M18.6 675.1h0M41.5 656h0M59.5 644h0M92.4 679.9h0M34.3 654.5h0M133.9 641.4h0M100.8 714.1h0M72.7 705.2h0M144.4 638.1h0M108 702.2h0M110.4 716.2h0M96.9 691.7h0M103.5 670h0M93.8 682.3h0M92.7 711.9h0M99.2 636h0M115.7 619.9h0M66 630.2h0M59.9 712.9h0M128.9 633.6h0M134.1 716.6h0M152.3 706.9h0M26.1 658.6h0M77.4 666.7h0M121.8 636.7h0M48.4 710h0M106.4 680.9h0M89.5 672.3h0M74.7 686.5h0M110.7 674.6h0M54.3 660h0M111 622.4h0M125.1 667.8h0M55.2 651.5h0M121.2 716.5h0M142.3 620.4h0M131.6 625.8h0M134.1 637.8h0M32.6 690.9h0M39 639.2h0M63.3 721.9h0M45.8 690.7h0M147.1 671.1h0M133 651.4h0M77.3 677.9h0M52.6 656.5h0M151.8 717.7h0M84 713.8h0M97.6 665h0M65.9 697.4h0M52 674.3h0M112.3 622.2h0M91.8 662.2h0M14.7 712.4h0M64.7 701.7h0M90.4 648.6h0M125.8 638.2h0M86 685.3h0M53.3 649.3h0M77.9 669.5h0M144.3 662.5h0M134 681.2h0M65.5 661.4h0M22.9 630.6h0M72 662.2h0M41.2 705.4h0M28.1 696.8h0M35 688.6h0M104.2 664.3h0M131.6 657.2h0M79.8 651.8h0M120.2 661.5h0M59.5 618.2h0M120.2 707.7h0M37.1 649h0M133.6 718.6h0M151.1 634.8h0M143.1 618.4h0M110.1 665.8h0M22.2 629.8h0M20.9 650.4h0M148.1 684.8h0M60.3 635.7h0M113 716.3h0M64.8 707.1h0M22.4 679.7h0M64.6 677.8h0M119.8 656.6h0M98 632.1h0M38.1 670h0M66.5 722.8h0M134.2 633.3h0M81 690.5h0M69 690.4h0M77.2 656.9h0M95.2 698.7h0M22 640.1h0M17.2 699.5h0M87.6 691.6h0M119 646.4h0M140.9 642.4h0M152 689.6h0M37.1 704.3h0M27.3 678.1h0M65.2 662.2h0M33.2 687.4h0M21.6 712.7h0M124.6 666h0M63.5 668.5h0M105.8 666.8h0M26.3 707h0M113.8 680.3h0M126.3 683.7h0M151.9 635h0M14.7 678.2h0M76.4 723.5h0M143.3 670.5h0M124.5 651h0M136.7 686.3h0M49.6 657.8h0M53 700.5h0M153.1 714.8h0M150.9 658.6h0M32.8 677.2h0M133.4 708.2h0M101.6 660.1h0M30 690.6h0M61 677.2h0M22.3 674.2h0M60.8 653.9h0M57.8 655h0M53.3 723.3h0M75 643.4h0M129.9 722.9h0M24.7 685.8h0M43.6 722h0M99.9 705.9h0M47.6 692.4h0M30.2 626.2h0M116.1 650.6h0M63.6 720.9h0M22.6 679.7h0M140.9 675h0M100 650.9h0M38.3 656.2h0M94.3 692.1h0M104.6 635.5h0M70.6 676h0M70.1 633.1h0M37.9 679.2h0M15.8 622.9h0M25.8 622.7h0M59.6 636.6h0M63.4 672.1h0M34.1 698.6h0M81.4 639h0M121.7 650.3h0M113 656.5h0M52.8 651.9h0M78.2 715.8h0M21.8 665.9h0M102.2 691.3h0M113.3 674.5h0M46.4 632.4h0M156.7 652.2h0M88.6 629.7h0M22.8 720.6h0M139.1 667.6h0M144.4 641.3h0" stroke="#0a0cff" stroke-width="2.6" stroke-linecap="round" fill="none" filter="url(#b1)"/>
<line x1="17.9" y1="719.6" x2="48.8" y2="719.6" stroke="#b4b4bc" stroke-width="1.5"/>
</g>
<rect x="14.3" y="600.6" width="143.5" height="16.7" fill="#fff" stroke="#444" stroke-width=".8"/>
<text x="86.1" y="609.8" font-size="7.9" text-anchor="middle">control</text>
<text x="175.2" y="605.6" font-size="9" font-weight="bold">l</text>
<clipPath id="cp2"><rect x="184" y="617.3" width="142.8" height="106.5"/></clipPath>
<g clip-path="url(#cp2)">
<rect x="184" y="617.3" width="142.8" height="106.5" fill="#08043a"/>
<path d="M239.2 712.7h0M245.2 628.6h0M326.6 690.7h0M190.8 713.8h0M235 702.8h0M246.9 697.6h0M196.6 685.2h0M246.6 681.7h0M301.9 648.7h0M316.3 647.6h0M200.9 689.7h0M217.9 700.5h0M307.3 662.2h0M193.5 636.7h0M291.4 717.6h0M251.3 661.2h0M284 656.1h0M214.3 629.9h0M266.8 699.4h0M214.9 665.4h0M279 679.3h0M246.1 618.9h0M249 639.8h0M310.9 696.5h0M271.2 683.7h0M227.8 679.3h0M244.7 705.1h0M301.3 705.2h0M300.6 659.8h0M233.3 649h0M247.4 631.2h0M314 645.8h0M250.4 641.7h0M191.4 634.9h0M245.9 685.6h0M280.5 645h0M194.1 687.1h0M309.1 684.8h0M257.2 695.6h0M297.8 634.1h0M199.4 723.8h0M244.6 628.2h0M249.2 665.1h0M229.8 663.9h0M243.7 650.1h0" stroke="#a01090" stroke-opacity=".16" stroke-width="20" stroke-linecap="round" fill="none" filter="url(#b3)"/>
<path d="M234.5 635Q240.8 625.5 247.1 619.2M222.9 639.2Q232.8 640.6 235.5 633.9M186.1 649.7Q200.8 651.2 207.1 646.5M211.3 669.7Q215.5 662.9 222.3 659.6M184 678.1Q196.6 675.3 208.2 670.1M209.2 646.5Q217.6 651.2 226 649.7M196.6 678.1Q205 681.4 209.6 682.3M240.8 666.5Q241.2 669.7 243.3 672.2M262.8 621.3Q263.5 625.5 265.1 629.7M295.4 618.8Q295.8 622.4 297.7 625.9M284.9 682.3Q291.2 686.1 298.6 688.6M310.1 681.8Q319.6 685.4 328 691.1M282.8 700.1Q288.1 704.3 293.7 707.5M211.3 686.5Q213 692.8 215.5 699.1M263.9 669.7Q266.4 674.3 270.2 678.1M320.6 686.5Q324.4 691.7 328 698.7M318.5 698Q323.2 701.2 328 703.3M187.2 656Q193.5 655.4 198.7 653.9M226 662.3Q228.1 665.5 228.8 668.6M217.6 626.6Q215.5 629.7 212.4 631.4" stroke="#d01880" stroke-opacity=".55" stroke-width="3" stroke-linecap="round" fill="none" filter="url(#b2)"/>
<path d="M234.5 635Q240.8 625.5 247.1 619.2M222.9 639.2Q232.8 640.6 235.5 633.9M186.1 649.7Q200.8 651.2 207.1 646.5M211.3 669.7Q215.5 662.9 222.3 659.6M184 678.1Q196.6 675.3 208.2 670.1M209.2 646.5Q217.6 651.2 226 649.7M196.6 678.1Q205 681.4 209.6 682.3M240.8 666.5Q241.2 669.7 243.3 672.2M262.8 621.3Q263.5 625.5 265.1 629.7M295.4 618.8Q295.8 622.4 297.7 625.9M284.9 682.3Q291.2 686.1 298.6 688.6M310.1 681.8Q319.6 685.4 328 691.1M282.8 700.1Q288.1 704.3 293.7 707.5M211.3 686.5Q213 692.8 215.5 699.1M263.9 669.7Q266.4 674.3 270.2 678.1M320.6 686.5Q324.4 691.7 328 698.7M318.5 698Q323.2 701.2 328 703.3M187.2 656Q193.5 655.4 198.7 653.9M226 662.3Q228.1 665.5 228.8 668.6M217.6 626.6Q215.5 629.7 212.4 631.4" stroke="#ff2c90" stroke-opacity=".78" stroke-width="1.5" stroke-linecap="round" fill="none" filter="url(#b4)"/>
<path d="M325 726.5Q326 725.2 327 723.8M251.8 653.1Q253.2 655.1 255.7 655.1M228.8 641.7Q230.2 637.4 234.7 637.3M201.7 703.8Q200.6 701.5 202.3 699.5M226.7 670.3Q227.8 665 233 663.4M234.5 636.4Q236.8 633.6 240.3 634.5M293.3 648.4Q294.2 646.9 295.6 645.8M254 709.3Q259.3 705.4 259.6 698.8M184.5 717.3Q188.9 715.4 193.5 714.2M295.6 721.9Q293.6 718 296.3 714.7M244.9 664Q248 659.7 251.7 655.9M259.9 706.5Q259.7 703.8 262.2 702.6M241.9 623.2Q245.9 623.1 247.3 626.9M232.1 688.5Q232 684.4 235.2 681.8M221.2 619.2Q224.3 620.8 227.6 619.8M177.3 711Q181.4 709.1 184.9 706.3M227 702.1Q231.1 699.4 231.6 694.5M252.4 641.5Q253.9 639.2 256.4 640.5M197.3 623.7Q200.9 627.7 205.8 630.1M265.3 662Q263.9 659.3 265.9 657M186.6 725.4Q189.7 725 192.8 724.5M238.1 670.3Q236.1 664.6 239.5 659.6M294.1 708.5Q297.6 707.1 296.2 703.6M312.4 645.1Q313.2 642.5 315.5 640.8M328.7 710.8Q331.8 709.6 334.3 707.3M260.4 726.6Q263.5 727.3 265.1 730.1M213.1 649.4Q213 646.6 212.8 643.8M274.1 631Q278.7 632.3 282.3 635.4M243.6 688.9Q248.6 689.3 251.8 685.4M180.7 647.9Q183.6 645.4 186.7 643M214.7 620.4Q217.1 621.8 219.2 623.5M236.5 714.1Q237.5 712.5 238.3 710.9M226.8 689.6Q227.9 687.9 229.9 688.5M281.8 641.2Q284.6 644.3 288.6 643.4M308 697.4Q308.5 692.1 305.3 687.8M290.4 620.6Q292.9 619 295.4 620.6M267 700.2Q267.1 697.8 267.2 695.3M282.1 721.6Q288.2 723.6 292.4 718.7M230 683.6Q232.1 680 231.9 675.8M234.2 714.8Q237.9 714.7 239.8 711.6M308.5 674.4Q309.1 676.9 311.5 676.2M286.4 669.1Q284.4 664.5 285.3 659.5M287.7 716.4Q292.7 718.8 297.1 715.3M221.2 682.7Q227.1 682.2 232 678.8M216.2 625.2Q216.9 623.2 216.4 621.1" stroke="#e0208c" stroke-opacity=".55" stroke-width="1.3" stroke-linecap="round" fill="none" filter="url(#b2)"/>
<ellipse cx="323.8" cy="692.3" rx="7" ry="10" fill="#e020a0" fill-opacity=".45" filter="url(#b2)"/>
<path d="M257.6 682.3h0M233.4 705.4h0M277.5 646.5h0M249.2 651.8h0M321.7 657h0M308 623.4h0M304.9 689.6h0M323.8 684.4h0" stroke="#ff2a90" stroke-width="2.6" stroke-linecap="round" fill="none" filter="url(#b1)"/>
<path d="M278.9 706.2h0M299.2 646.9h0M200.4 649.1h0M219.9 717.9h0M211.5 676.2h0M243.4 677.3h0M255.7 667.4h0M231.3 706.4h0M262.3 629.3h0M188.5 623.2h0M211.2 665.4h0M254.6 663.3h0M321.4 689.9h0M287 717.7h0M293.7 720.6h0M190.1 646.9h0M276.6 674.5h0M250.8 639.5h0M230.7 714.7h0M294.8 690h0M216.3 722.4h0M202.5 667.8h0M243.7 717.8h0M229.5 697.7h0M294.6 675.5h0M220.6 630h0M255.9 638.5h0M288.7 633.4h0M262.6 626.8h0M199.4 700.2h0M232.9 647.5h0M283.9 715h0M286 652h0M297.4 667.6h0M319 676.3h0M211.7 625.1h0M309.4 627.5h0M191.5 635.9h0M286 723.5h0M273.8 713.2h0M311.1 712.3h0M271.2 651.6h0M282 696.2h0M203.7 644.7h0M219.4 693.5h0M194.6 664.7h0M267.8 662.4h0M265 645.8h0M232 702h0M295.4 706.2h0M202.2 634.7h0M290.1 697.1h0M213.3 673.1h0M280.4 687.9h0M204.2 703.6h0M311.3 658.3h0M297.2 667.1h0M258.9 688.8h0M198.5 674.2h0M258.1 627.4h0M302.5 713.2h0M308.9 675.8h0M219.1 625.8h0M229.4 720.2h0M201.4 705.3h0M263.3 617.8h0M243.5 634.3h0M214.7 664.9h0M189.4 664.5h0M299.5 704.2h0M322.2 701.1h0M201.4 632.5h0M232.7 711.5h0M211.1 711.1h0M243.9 640.4h0M262.8 667.2h0M184.6 660.6h0M282 618.1h0M293.9 710.8h0M310.6 705.7h0M200.1 630.1h0M265.3 714.2h0M287.9 661h0M318.8 709.4h0M220.9 704.1h0M209.8 708.7h0M276.3 655.5h0M271.8 700.5h0M324.2 635.7h0M251.2 673.9h0M293.1 624.9h0M271.1 625.6h0M233.1 641.8h0M309.6 659.3h0M288.2 636h0M244.8 665h0M314.9 654.3h0M276.7 699.4h0M295.3 703.7h0M277.8 688.8h0M322.3 654.4h0M249.6 626.7h0M247.9 714.7h0M282.7 666.6h0M211.2 642.1h0M202.8 674.2h0M240.6 630.7h0M263.9 684.8h0M320.6 649.2h0M220.7 704.8h0M218.8 652.1h0M189.8 664.3h0M258.7 650.3h0M269.9 709.4h0M226 675.3h0M312.2 691.5h0M208.3 722.5h0M320 687.3h0M296.4 634.1h0M318.7 695.1h0M240.9 675.6h0M297.6 659.5h0M261.6 688.4h0M282.7 647.4h0M195.1 702.6h0M277.2 712h0M219.2 658.2h0M242.9 674.5h0M280.1 642.4h0M234.5 619.2h0M197.3 676.6h0M192.8 718.8h0M244 621.4h0M284.9 634.5h0M270.1 682.7h0M199.6 701.4h0M237.7 643.7h0M217.6 644.9h0M198.8 713.8h0M198.6 640h0M311.9 627.9h0M201.5 621.7h0M311.4 681.6h0M218.4 660.4h0M280.6 688.4h0M308 683.2h0M322.3 646.4h0M203.2 713.5h0M185.3 664.5h0M187.2 645.5h0M232.4 623.1h0M288.2 625.8h0M269.5 641h0M225.6 628.4h0M308.9 659.4h0M244.7 707.6h0M293.7 658.7h0M283.7 624.5h0M245.6 659.3h0M231.8 669.7h0M296.6 682.1h0M279.2 683.3h0M312.4 692.8h0M216.2 702.2h0M274.5 706.6h0M218.5 674.8h0M221.6 711.9h0M250 633.5h0M273.5 714.6h0M291.1 657.2h0M245.2 719.3h0M276.1 629.8h0M317.8 699.8h0M316.5 716.5h0M266.1 687.4h0M194 712.2h0M326.7 695.9h0M207.4 632.7h0M317.7 697.6h0M235.4 618.5h0M200.6 688.9h0M292.8 693.2h0M184.3 644.7h0M215.4 711.4h0M300.6 710h0M326.5 657.4h0M301.2 717.4h0M312.1 694.6h0M206.3 628.5h0M208.6 653.1h0M288.6 722.4h0M316.9 659.5h0M309.4 698.8h0M312.6 655.5h0M274.1 673.4h0M272.8 689.2h0M248.7 722.3h0M208.2 683.2h0M266.5 666.7h0M257.1 634.2h0M325.5 678.1h0M325.7 713h0M269.9 623.5h0M318.8 720h0M318 692.5h0M289.5 721.1h0M254.5 632.5h0M220.4 712.8h0M284.9 660h0M190.6 720h0M230.4 637.4h0M241.1 679h0M228.9 629.1h0M313.8 652.5h0M316.5 692.6h0M259.2 631.6h0M267.1 662.4h0M222.3 659.1h0M242.9 655.1h0M225.1 687.1h0M316.9 692.2h0M274 622.6h0M289.5 706.1h0M287 692.7h0M197.2 706.5h0M184.3 692.2h0M230.6 627h0M198 646.5h0M255.5 696.7h0M307.2 684.9h0M276 662.9h0M294.5 696h0M296.6 687h0M274.1 620.5h0M225 684.2h0M272.5 629.2h0M228.8 721.8h0M314.2 626h0M226.4 701.9h0M276.5 665.6h0M315.4 696h0M267.1 694.4h0M209.1 650.8h0M295.7 696.9h0M289.6 646h0M313.5 656.1h0M270.3 722h0M285.9 717.4h0M220.4 645.9h0M228.7 685.9h0M205.5 654.1h0M203.8 711.7h0M317.9 643.8h0M289.9 620.7h0M250.5 682.9h0M189.9 706.4h0M188.8 720.9h0M253.2 617.6h0M245.7 714.6h0M316.9 621.8h0M258.7 691.1h0M302.3 717h0M242.5 653h0M197.3 628.2h0M269.1 666h0M241.5 647.2h0M226.6 644.4h0M199.9 635.2h0M221.1 660.1h0M278 639.9h0M291.7 711.3h0M224.9 633.5h0M205.6 694.3h0M254 698.6h0M249.7 666.4h0M252.3 677.5h0M256.4 675h0M272.6 629h0M280.1 694.4h0M230.7 617.7h0M315.9 723h0M268.7 632.3h0M323.8 667h0M207.3 691.9h0M275.5 697.3h0M202.8 646.4h0M269.1 679.1h0M271.9 691.9h0M253.8 695.8h0M197.9 697.7h0M256.9 651.9h0M266.4 620.6h0M311.2 667.3h0M262.8 622.4h0M244.3 679.3h0M275.4 630.7h0M280.7 628.6h0M264 689.4h0M242.5 692.2h0M322.4 657.1h0M235.2 712.1h0M236.4 691.7h0M246.1 671.1h0M208 648h0M277.4 640.6h0M188.1 711.7h0M263.5 659.9h0M278.5 617.4h0M234.6 675.3h0M199.8 625.5h0M269.9 707.2h0M224.2 640.4h0M302.2 631.8h0M252.6 686.9h0M264 635h0M243.2 688.8h0M190.9 696.3h0M282.4 672.4h0M325.6 654.4h0M233.3 667.8h0M188.3 691.9h0M247.7 665.1h0M314.4 636.8h0M275.1 691.1h0M200.9 638.1h0M229.7 653.2h0M301.3 706h0M268.1 694.4h0M212.2 688h0M244.7 648.8h0M311 671.6h0M213.2 630.2h0M302.9 641.4h0M273.9 712.8h0M267.1 646.9h0M213.9 703.5h0M215.5 618.5h0M252.6 640.5h0M196.9 710.4h0M262.3 618.4h0M270.9 647.8h0M218.8 619.8h0M229 713.9h0M245.7 621.3h0M324.8 711.4h0M302.5 714.6h0M197.8 635.4h0M302.9 641.4h0M226.7 640.5h0M284.8 646.6h0M282.3 631.8h0M196.7 650.7h0M234.5 705.6h0M229.4 682.7h0M223.5 687.7h0M191.5 691.5h0M271.1 653.3h0M298.7 624.3h0M286 618.3h0M305.6 680.1h0M239.4 624.4h0M242 643.1h0M235.5 685.9h0M247.9 658.3h0M302.4 721.3h0M253.6 679.5h0M217.6 622.2h0M232 630.4h0M283.8 653.9h0M187.9 715.5h0M220.5 654.4h0M319 662.7h0M310.7 654h0M216.8 668h0M188.8 692.2h0M231.5 685.1h0M262.3 676.4h0M198.8 680.6h0M311.6 629.3h0M294.7 668.7h0M220.8 619.1h0M226.6 706.4h0M264.6 676.3h0M204 675h0M239.9 630.4h0M229.3 653.6h0M225.4 706.3h0M274.1 654.9h0M275.4 674.3h0M269.6 676.2h0M237.8 707h0M270.2 682.4h0M205.1 685.4h0M189.4 664.1h0M230 634.7h0M266.2 721.6h0M231.3 676.8h0M240.7 710.2h0M229 624.2h0M248.3 633.9h0M211.2 703.3h0M325.6 667h0M251.7 619.2h0M247.4 689.9h0M228 677.4h0M281.7 639.8h0M258.3 713.6h0M202.8 631h0M222.3 634h0M201.4 688.6h0M223.8 701.3h0M244 667.1h0M255.6 650.6h0M244.3 717.3h0M231.3 643.1h0M316.4 700.3h0M217.8 706.9h0M326.8 687.9h0M221.6 665h0M306.5 690.5h0M273.5 623.5h0M285.4 713.2h0M209.1 693.8h0M306.8 619.4h0M273.5 711.6h0M261.4 682.1h0M308.6 683.9h0M272 658.7h0M208.3 697.8h0M206.2 719.1h0M229.1 691.2h0M211.2 685.6h0M213.6 661.7h0M256.7 633.4h0M257.7 622.3h0M277.7 637.9h0M291.9 642.9h0M218.7 722.2h0M188.6 631.2h0M200.8 708.1h0M267.8 712.3h0M300.1 682.8h0M259.2 618.7h0M184.5 655.9h0M295.4 695.9h0M307.3 651.5h0M218.2 693.1h0M246.6 664.1h0M220.2 679.6h0M281.7 658.3h0M318 643.7h0M288.4 625.2h0M323.5 715.3h0M320.3 687.3h0M281.5 703.1h0M240.2 696.3h0M313.8 632h0M209.4 629.7h0M191.3 642.9h0M206.8 620.8h0M245.9 682.7h0M312.3 644.3h0M305.6 701h0M223.7 646.9h0M222 621.3h0M289.7 714h0M243.8 647.5h0M211.2 675.7h0M212.2 698.9h0M313.7 649.3h0M219.6 689.7h0M210 656.7h0M237.3 703.3h0M321.2 682.7h0M249.2 636.6h0M209.3 707.5h0M299.9 706.6h0M234.2 645.6h0M216.3 687.1h0M189.4 703.6h0M283.9 720.4h0M263.7 697.5h0M280.1 638.7h0M221 633h0M320.5 703h0M239.3 712.5h0M278.6 711.3h0M309.7 668h0M254.8 698.4h0M197.1 690.9h0M242.3 666.1h0M226.2 660.8h0M256.1 719.2h0M212.2 665.9h0M282.7 691.7h0M211.9 702.6h0M224.7 676.9h0M316.6 661.7h0M247 666.4h0M307.1 650.9h0M245.6 642.9h0M286.4 710.4h0M296.7 640.6h0M237.1 702.5h0M276.6 690.1h0M242.4 656.7h0M188.4 637.8h0M258.5 703.9h0M309.7 710.4h0M275.4 694.6h0M282 714.1h0M309.9 676.9h0M236.6 709.2h0M314 685.3h0M285.2 699.8h0M290.4 710.2h0M256.6 645.1h0M283.2 661.8h0M191.5 660.2h0M249.1 696.6h0M267.6 691.1h0M206.2 676.7h0M248.1 680.7h0M257.5 699h0M292.2 715.4h0M197.2 656.9h0M244.5 637h0M221 626.5h0M224.4 626.4h0M270.2 722.2h0M316.6 626.2h0M239.9 661.7h0M233.1 675.7h0M245 699.3h0M238 621.9h0M314.2 670.5h0M250.6 621.1h0M189.2 636.3h0M306.7 649.3h0M240.5 618.5h0M236.1 649.2h0M277.7 700.9h0M263.2 686.3h0M303.8 721.2h0M233.6 709.2h0M312 703.9h0M194.6 670h0M219.9 690.7h0M240 701.5h0M225.8 654.3h0M194.9 675.6h0M225.1 677.3h0M274.5 639.7h0M224.3 679h0M198.8 632.8h0M239.2 690.3h0M310.5 679.5h0M284.2 680.6h0M189.3 679h0M242 644.6h0M201.2 653.4h0M191.8 623.5h0M205.5 707h0M284.7 671.5h0M267.7 631.2h0M219.4 640.8h0M203.5 706.2h0M303.8 646.8h0M197 645.6h0M206.4 630.7h0M231.7 702.3h0M300.8 643.2h0M308 642.2h0M262.7 687h0M277.3 670.2h0M209.9 702.9h0M286.8 680.4h0M321.3 663.2h0M234.5 721h0M186.8 650h0M220.6 633h0M241.3 624.9h0M190.6 722.8h0M309.7 651.8h0M261.6 671.1h0M279.9 669.3h0M289.8 718.6h0M198.5 660.7h0M304.3 699.8h0M237.7 707.8h0M244.6 620.3h0M205.1 659.1h0M266.7 654.4h0M238 667.6h0M304.9 722.6h0M270.4 699.7h0M267.5 644.6h0M237.2 622.4h0M292.5 688.7h0M299 700.5h0M294.7 666.5h0M289.2 696.9h0M213.2 627.3h0M257.6 636.4h0M230.4 639.4h0M233.3 655.5h0M259.2 716.3h0M272.8 694.7h0M282 675.9h0M301.7 719.8h0M246.3 675.1h0M207.8 643.7h0M283.1 678.1h0M251.2 677.2h0M266 664.5h0M299.9 621.6h0M234.7 624.6h0M264.2 695.7h0M186.3 653.7h0M196.2 703.7h0M184.6 642.5h0M251.9 661h0M320.4 637.7h0M318.4 675.3h0M202.2 708.3h0M247.7 715.9h0M211.3 715.9h0M219.8 680.6h0M296.1 699.6h0M255 636.8h0M285.7 674h0M185.2 639.1h0M277.9 648.7h0M273.8 639h0M289 682.2h0M289.5 666.1h0M204.8 645.7h0M293.4 672.4h0M270.1 660.6h0M246.4 618.2h0M237.8 621.5h0M234.5 675.4h0M310.1 668h0M206.1 693.3h0M257.8 655.7h0M241.5 629.2h0M297.3 711.2h0M239.3 642.9h0M312 622.6h0M281.2 658.3h0M279.1 626.5h0M288.2 716.9h0M218 663h0M270.2 717.2h0M302 680.8h0M193.3 699.6h0M274.4 696.6h0M304 697h0M285.9 688.6h0M326.6 629.8h0M198.1 683.9h0M235.8 639.5h0M307.6 621.1h0M244.3 632.1h0M323.9 696.8h0M266.3 644.4h0M185.7 661.6h0M242.6 675.4h0M198.5 657h0M244.2 648.1h0M308.7 686.1h0M249.1 679.1h0M228.1 626.9h0M284.1 653.6h0M312.8 625.9h0M220.4 638.4h0M260.8 716h0M306 663.8h0M301.2 682.8h0M226.2 636.6h0M189.2 678.7h0M229.1 653.9h0M313.3 651.7h0M251.8 628.2h0M198.7 624.4h0M255.2 664h0M219.5 663.1h0M318.4 700.4h0M205.4 646.8h0M247 709.4h0M253.1 688h0M257 705.9h0M236.8 618.5h0M236 620.6h0M240 623.7h0M313.6 671.2h0M301.1 657.5h0M245.9 664.8h0M319.2 621.5h0M264.5 630h0M193.5 649.8h0M274 712.3h0M234.2 624.7h0M231.1 713.3h0M295 705.9h0M202.6 652.2h0M306.2 652h0M318.5 648.2h0M252.4 619.4h0M293.7 671.5h0M260.4 681.3h0M297.1 693.3h0M188.1 639.4h0M206.8 717.6h0M188.2 716.9h0M319.1 641.9h0M314.6 636.5h0M265.6 651.1h0M208 694h0M290.8 660.1h0M278.6 713.5h0M313.4 635.7h0M268 660.5h0M265.9 652.6h0M325.5 722.2h0M315.1 697.3h0M236.7 646.5h0M324.4 655.1h0M245.2 658.5h0M213.1 622.9h0M234.6 722h0M303.7 634.7h0M281.7 690.8h0M247.7 709.1h0M207.6 692.1h0M240.6 671.4h0M287.8 679.5h0M238.2 687.8h0M208.7 707.2h0M244.5 706.8h0M298.7 686.8h0M206.5 692.1h0M198.7 675.4h0M269.9 709.2h0M273.8 675.5h0M277.1 655.4h0M235.1 626.4h0M297.6 705.4h0M249.3 637.2h0M199.2 703.9h0M201.7 708.1h0M188.6 712.7h0M301.3 715.6h0M325.7 640.6h0M301.2 721h0M214.3 654.7h0M272.5 674.6h0M244 668.1h0M283.9 716h0M282.3 702.7h0M321.7 657.3h0M207.4 620.4h0M266.1 633.2h0M288.9 664.1h0M260.7 644.3h0M305.2 634.6h0M305.1 702.7h0M271.5 713.7h0M266.8 621.2h0M298.6 700h0M197.3 713h0M212.6 684.7h0M316.8 678.3h0M232.7 702.6h0M220.2 641.4h0M228.1 693.8h0M221.8 628.9h0M250.6 672.4h0M270.5 660h0M193.2 705.7h0M301 673.2h0M303.7 716.9h0M295.6 667.9h0M267.6 619.1h0M252.9 683.4h0M237.8 647.6h0M210 656.7h0M202.2 674h0M269 702.3h0M274.9 693.8h0M226.9 716.3h0M236.6 674.8h0M246.1 715.8h0M269.9 661.6h0M280.5 631.2h0M266.5 630.8h0M227.1 698.4h0M229.5 653.1h0M246.4 643.4h0M183.5 639.9h0M229 651.6h0M232.2 673h0M252.9 696.5h0M205.3 628.2h0M298.4 689.9h0M274.9 696.7h0M196.8 704.2h0M232.2 701.8h0M187.2 709.9h0M298.4 619.9h0M261 683.5h0M309.7 659.6h0M262.5 629.8h0M245.9 689h0M257 651.2h0M303.4 720.9h0M200.5 659h0M239.2 708.5h0M295 669.4h0M257.1 650.7h0M249.2 680.3h0M267.7 666.3h0M211.8 643.4h0M200.4 696.1h0M277.3 699.5h0M203.3 630.3h0M311 630h0M235.6 717.1h0M319.6 674.9h0M255.5 701.2h0M241.7 629h0M248.1 636.9h0M280.6 677.2h0M260.2 675.6h0M327.4 686.4h0M201.6 718.5h0M230.6 674.8h0M208.9 631.7h0M324.6 678.7h0M197.7 673.5h0M309.8 680.7h0M276.4 652.5h0M310.2 650.3h0M252.7 675.7h0M195.3 712h0M244.2 688.8h0M274.5 714.8h0M296.8 632h0M311.9 632.8h0M271.5 682.5h0M212.5 702.9h0M213.2 699.5h0M295.2 683.8h0M308.6 653.1h0M218 633.2h0" stroke="#1012ff" stroke-width="1.6" stroke-linecap="round" fill="none" filter="url(#b1)"/>
<path d="M291.3 693.4h0M304.1 663.4h0M304.4 637.5h0M306 694.1h0M195.8 703.4h0M201 636.5h0M239.4 710.8h0M198.8 679.9h0M245 705.9h0M322.4 676.2h0M280.9 709.5h0M268.7 670.2h0M235.8 634.2h0M250.9 627.2h0M283.5 693.8h0M199.2 715.1h0M218 653.5h0M292.3 692.5h0M251.1 723.5h0M281.8 707.8h0M317.4 683.1h0M292.1 653.5h0M324.2 626.4h0M199.7 672.9h0M211.8 621.1h0M300.7 657.9h0M259.6 680.7h0M295.6 685.7h0M203.1 696.3h0M259.8 676.7h0M218.8 667.5h0M222.5 718.3h0M319.2 648.5h0M310.9 647.1h0M326.5 678.4h0M299.3 628.8h0M193.9 642.6h0M246.7 657.1h0M289.2 661.3h0M232.1 678.1h0M226.7 668.9h0M240.9 663.2h0M265.6 650.4h0M310.6 618.2h0M326.4 678.4h0M307.2 716.9h0M302.4 722.4h0M207.7 621.1h0M213.4 623.2h0M251.9 691.5h0M225.3 698h0M217.2 632.6h0M265.2 697.3h0M221.9 658h0M292.2 669.8h0M317.5 677.7h0M290.2 642.4h0M287.1 668.9h0M300.1 648.6h0M220.2 650.9h0M271.1 712.5h0M196.4 643.7h0M241.6 671.4h0M295.9 660.7h0M249.4 626.5h0M266.9 666.6h0M284.8 650.9h0M218.8 663.2h0M241.4 626.6h0M274.4 715.1h0M299.1 689h0M233.6 657.6h0M285.5 675.8h0M267.9 627.2h0M227.3 711.6h0M309.9 680.7h0M313.5 653.9h0M235.3 630.3h0M326.3 722.8h0M317.8 698.9h0M219.6 646.7h0M266.6 701.7h0M269.7 617.9h0M227.2 627.8h0M308.1 678.9h0M297.8 635.6h0M231.4 653.5h0M229.3 629h0M246.1 709.9h0M268.2 635.8h0M201 641.8h0M207.2 661h0M276.9 685.5h0M232.7 674.5h0M207.8 671.9h0M187.9 640.5h0M215.1 718.9h0M298.9 660.6h0M259.9 714.2h0M294.8 619.3h0M281.4 690h0M221.4 620.7h0M231.7 698.6h0M205.4 722.6h0M242.2 702.2h0M318.3 636.8h0M287.3 723.3h0M196.9 645.4h0M295.9 632.5h0M262.8 696.7h0M225.8 718.3h0M286.4 718h0M289 681.8h0M238.1 670.3h0M227.8 636.7h0M271.1 659.7h0M265.5 622.1h0M261.1 621.6h0M254.6 679.4h0M296.7 642h0M245.5 661.9h0M264.4 668.2h0M297.2 678.6h0M300.4 635.1h0M197.9 678.9h0M252.6 645.3h0M267 712.2h0M234.9 652.8h0M209.3 637.8h0M209.1 691.3h0M205.8 688.9h0M199.4 655.5h0M242.6 637.6h0M277.9 651.5h0M241.7 707.8h0M229.5 678.9h0M215.3 655.9h0M252.3 661.8h0M215.5 665.9h0M188.4 686.4h0M289.8 697.6h0M262 671.5h0M243.9 683.2h0M251.6 704.5h0M249.8 713.1h0M239.6 696.2h0M268.6 668.1h0M237.2 650.1h0M300.7 648.2h0M191.2 654.1h0M314.6 698.9h0M256.6 674.4h0M214.9 658.2h0M240.6 705.6h0M325.9 701.8h0M300.2 673.2h0M222.9 683.6h0M234.2 689.2h0M236.5 649.8h0M289.3 705.5h0M269.8 624.1h0M257.4 680.6h0M213.8 648.5h0M267.6 682.2h0M268.2 652h0M315.3 624.8h0M211 650.2h0M326.8 683.2h0M195.4 696.7h0M238.7 701.8h0M188.5 647.4h0M192.7 649.2h0M268.9 705.7h0M249 677.7h0M225 647.3h0M276.6 629.7h0M199.5 666.3h0M310.7 693.4h0M225.8 704.4h0M321.4 634h0M231.5 714.5h0M322.3 622.1h0M221.3 650.9h0M272.7 676h0M206 648.1h0M236.2 669.4h0M184.8 688.9h0M239.4 649.1h0M250.8 698.3h0M209.6 715.3h0M203.9 639.6h0M214.4 659.4h0M264 631.2h0M268.9 652.1h0M263.8 680.6h0M302.6 623.9h0M239.6 715.7h0M250 628.8h0M235.6 689h0M189.9 694.2h0M275.8 723.7h0M285.1 666.3h0M316.9 719.4h0M191.5 714h0M306.4 634.8h0M227.8 680.3h0M326.5 679.7h0M288.6 688.5h0M299.9 680.4h0M271.2 672h0M314.5 636.3h0M321.2 702.8h0M242.9 677.3h0M203.1 655h0M310.3 664.1h0M226.6 626h0M305.5 704.9h0M195.7 674.6h0M244.3 697.3h0M313 625.2h0M322.3 639.5h0M288.8 719h0M316.2 642.6h0M322.7 691.2h0M324.5 633.4h0M243.1 709.8h0M268.7 701.8h0M276.1 714.3h0M217.7 642.7h0M249.6 637.3h0M202.6 716.6h0M236.8 646.5h0M317.4 723.5h0M298.1 618.7h0M322.1 709.8h0M256.3 661.6h0M270.5 719.5h0M267.6 627.9h0M324.2 643.2h0M218.5 716.8h0M326.1 623.4h0M242.5 716.4h0M293.9 659.2h0M295.9 636.7h0M319.7 696.7h0M255.3 689.4h0M308.2 622.7h0M318.4 714.5h0M234.9 715.5h0M251.6 702.3h0M202 678.4h0M287 649.5h0M238.5 717.3h0M200.5 697h0M220.4 639.5h0M269.8 644.5h0M315 702.6h0M310.7 681.4h0M281.1 657.1h0M280 681.8h0M200.2 663.7h0M263.8 718.3h0M268.8 680.8h0M189.7 686.4h0M192.9 685.9h0M260.5 643.6h0M269.6 637.5h0M321.9 631.9h0M218.7 685.3h0M325.5 678.2h0M309 623.4h0M241.3 709.8h0M237.9 689.4h0M325.4 639.4h0M242.1 637.1h0M304.5 671.2h0M295.8 693.6h0M243.5 640.7h0M296.3 631.7h0M311.3 629.9h0M257.5 704.8h0M310 653.3h0M210.2 656.6h0M241.1 706.1h0M193.4 678.3h0" stroke="#1012ff" stroke-width="2.1" stroke-linecap="round" fill="none" filter="url(#b1)"/>
<path d="M288.6 699.2h0M261.4 715.4h0M261.3 698.9h0M224.4 714h0M300.5 656.3h0M189 632.9h0M203.4 695.3h0M221.1 695.5h0M204.2 689h0M290.8 698.1h0M210.3 674.8h0M310.5 696.6h0M225.7 691.2h0M276.9 635.1h0M202.9 708.7h0M294.9 639.7h0M316.1 698.4h0M236.7 678.2h0M266.7 651.7h0M258.5 722.5h0M228.5 702h0M313.3 671.6h0M200.7 631.5h0M302.3 720.7h0M209 698.4h0M318 692.8h0M262.9 653.5h0M295.1 697.6h0M228.9 690.8h0M233.5 709.2h0M188.7 687.5h0M254.8 677.7h0M187.4 652.9h0M298.4 681.9h0M292.2 617.8h0M207 690.5h0M283 707.7h0M200.8 625.8h0M226.5 696.3h0M257.6 676.4h0M307.1 640.9h0M186.5 708h0M246.1 677.3h0M272.3 714.7h0M202.8 692.3h0M205.3 652.7h0M324.6 649.2h0M297.9 623.9h0M289.7 619.1h0M218.2 641.6h0M214.5 647.7h0M220.3 689.9h0M211.9 657.6h0M203.7 623.5h0M225.8 674.7h0M312.5 651.9h0M312.2 637.9h0M295.9 684.9h0M317.6 681.4h0M289.8 650.9h0M306.4 654h0M323.8 702.1h0M199.5 657.2h0M242.1 720.3h0M187.7 671.2h0M187.2 716.3h0M195.7 697.1h0M316.1 695.7h0M281.2 683.9h0M247.9 643.1h0M217 717.8h0M276.1 666.4h0M287 676.2h0M265.9 650.7h0M231.5 701.1h0M208.7 635.2h0M271.1 714.4h0M208.2 692.9h0M290.3 713.1h0M187.8 722.1h0M255.3 675.8h0M200 667.6h0M302.1 699.2h0M316.1 649.7h0M277.2 649.8h0M208.1 696.1h0M226.5 655.3h0M325.4 660.4h0M255.1 697.9h0M278.8 681.4h0" stroke="#f01868" stroke-opacity=".9" stroke-width="1.1" stroke-linecap="round" fill="none" filter="url(#b1)"/>
<line x1="187.6" y1="719.6" x2="218.5" y2="719.6" stroke="#b4b4bc" stroke-width="1.5"/>
</g>
<rect x="184" y="600.6" width="142.8" height="16.7" fill="#fff" stroke="#444" stroke-width=".8"/>
<text x="255.4" y="609.8" font-size="7.9" text-anchor="middle">10F</text>
<text x="340.4" y="605.6" font-size="9" font-weight="bold">m</text>
<clipPath id="cp3"><rect x="353.5" y="617.3" width="143.3" height="106.5"/></clipPath>
<g clip-path="url(#cp3)">
<rect x="353.5" y="617.3" width="143.3" height="106.5" fill="#02023a"/>
<path d="M425.9 617.3h0M357.4 717.2h0M366.8 687.5h0M367.8 619.3h0M458.1 618.5h0M385.3 639.9h0M365.8 658.3h0M451.6 720.3h0M368.7 645.2h0M395 714.3h0M438.3 666.3h0M460.5 636.3h0M492.2 701.9h0M357.3 676.7h0M482.4 679h0M430.2 708.2h0M379.4 630.7h0M464 722.7h0M484 684.9h0M438.2 673.2h0M389.6 674.4h0M445.7 619.1h0M403.9 722h0M371.8 651.3h0M493.7 656.9h0M456.5 694.3h0M415.6 659.7h0M432.2 677.3h0M468 672.5h0M485.9 646h0M401 659.6h0M453.2 650.1h0M363.2 694.7h0M480.8 672.9h0M422.2 678.6h0M364 629.3h0M410.7 710.1h0M427.7 681.1h0M434.2 675.9h0M385.4 679.6h0M416.7 626.9h0M415.9 721.3h0M368.9 700.9h0M451.3 684.9h0M455.9 620.6h0M362.3 676h0M482 703.4h0M376 709.9h0M480.3 685.5h0M418.9 696h0M406.6 688.9h0M491.5 713.7h0M411.8 645.3h0M491.9 687.3h0M442.7 669.3h0M437.1 620.9h0M490.4 699.8h0M458.8 622.2h0M450.8 674.3h0M482.4 689.2h0M406.1 669.7h0M374.7 626.6h0M358.6 686.9h0M489.6 723.7h0M485 706.3h0M373.2 627.4h0M477.3 678.2h0M381.4 641h0M453.4 643.5h0M462.9 664.6h0M469.5 680.4h0M411.6 674.9h0M443.4 676.5h0M469.5 618.6h0M430.2 718.7h0M471.8 679.8h0M468.1 669.5h0M417.1 707.9h0M368.2 624.9h0M378.9 681.6h0M368.4 693.6h0M492.4 646.5h0M379.4 643.3h0M474 670.9h0M429.7 617.7h0M392.8 702.5h0M463.9 620.5h0M421 645.9h0M450.9 712.6h0M467.4 636.1h0M472.4 648.8h0M458.8 702.1h0M369 686.4h0M426.3 703.8h0M386.2 704h0M384.2 626.1h0M436.2 630h0M359.9 697h0M446.9 651.7h0M494.4 664.4h0M452.1 674.6h0M421.1 714.5h0M443 654h0M440.5 646h0M429.2 674.3h0M486.5 687h0M373.9 686.8h0M409.5 673.5h0M483.8 662.5h0M457.4 711.5h0M408.4 714.4h0M418.5 681.1h0M479.9 636.8h0M397.1 708.3h0M382.6 682.2h0M403.2 619.4h0M428.2 718.5h0M442.2 713.5h0M368.7 713.1h0M436.5 654.7h0M486.5 650.8h0M372 626.7h0M453.8 720.5h0M489.4 662.7h0M414.3 656.8h0M460.8 707.1h0M367.9 681.1h0M397.5 677.6h0M483.8 658h0M441.1 618.7h0M406.9 629.8h0M378.1 681.4h0M365.6 713.5h0M364.2 635h0M392.2 662.1h0M392.9 695.8h0M426.8 705.4h0M362.1 706.9h0M378.2 660.1h0M364.7 624.3h0M398.1 622.6h0M490.6 632.1h0M472.7 656h0M484.9 696.9h0M433.9 677.5h0M391.2 660.7h0M405.3 639.1h0M406.3 641.2h0M417.3 723.5h0M413.8 646h0M454.8 683.5h0M371 696.5h0M460 705.1h0M421.5 710.4h0M489.8 640.9h0M380.3 632.6h0M454.9 679.2h0M356.8 714.7h0M493.7 654.6h0M434.9 624.6h0M476.9 644.3h0M408.4 629h0M467.4 712.5h0M448.7 708.3h0M489.8 713.4h0M482.1 680.6h0M496.6 656.6h0M424.4 693.8h0M393.1 633.3h0M354.7 723.1h0M371.9 691.6h0M488.9 652.9h0M461 625.9h0M355.9 630.7h0M479.9 701.6h0M441 617.8h0M446.6 632.3h0M417.3 691.3h0M441 681.2h0M379.8 623h0M398.7 683.5h0M366.4 681.3h0M474.3 647.5h0M425 681.1h0M396.2 707.3h0M408.1 671.9h0M494.5 679.3h0M393.7 652.5h0M496.7 721.3h0M440 652.4h0M485.9 717.2h0M376.8 644.2h0M454.7 715.9h0M448.4 661h0M445 640h0M443.9 631h0M465.9 647h0M441 673.1h0M442.1 650.4h0M422.4 660.7h0M490.2 693.2h0M494.7 719.4h0M452.5 721.5h0M465.7 692.1h0M438.3 721.2h0M392.2 686.3h0M416.2 624.1h0M374.9 722.6h0M395.7 719.1h0M372.2 689.3h0M456.8 662h0M415.5 656.5h0M395 680.1h0M478.1 646.4h0M434.9 697.5h0M405.7 705.1h0M379.4 636.8h0M471.1 689.8h0M478.7 619h0M370.1 637.6h0M410.8 668h0M385.2 722.3h0M459.2 702.7h0M357.6 629.8h0M431.2 641.5h0M436.2 687.6h0M414.3 645.6h0M414 653h0M422.5 623h0M489.1 682.6h0M467.6 636.9h0M444.9 680.5h0M426.4 674.9h0M368.4 690.5h0M459.7 667.6h0M363.5 638.7h0M368.8 681.8h0M385.8 715.4h0M414.6 663.5h0M451.4 634.8h0M418.1 642.8h0M420.6 673.1h0M418.7 665h0M382.3 696.9h0M461.9 633h0M354.3 651.9h0M473.6 690.7h0M489 648.9h0M403.9 656.6h0M489.7 714h0M424.8 617.9h0M392.2 722.5h0M368.5 665.9h0M496.2 619.9h0M462.8 662.3h0M402.9 624.1h0M494.9 701.5h0M488.5 681.7h0M488.7 687.3h0M425.8 668.6h0M425.8 664.9h0M356.1 619.2h0M486.4 709.2h0M466.5 636.7h0M368 682.4h0M397.6 683.5h0M484.5 637.8h0M479.4 618.2h0M413.5 699.2h0M482 705.8h0M415.4 697.3h0M435.7 650.8h0M414.6 686h0M478.6 627.4h0M416.5 696.7h0M365.2 714.8h0M401.7 649.2h0M399.5 697.1h0M435.4 621.3h0M414.4 676.9h0M369.3 683h0M470.9 699.1h0M453.4 659.9h0M412.7 686.2h0M495.2 659.5h0M443.5 693.2h0M426.3 677.2h0M400.7 664.8h0M438.1 673.7h0M398.8 640.2h0M387.9 657.3h0M356.5 688.5h0M484.6 661.7h0M399.7 629.4h0M419.8 715.7h0M482.6 656.4h0M423.6 646.2h0M399.9 723.4h0M471.1 679.4h0M448.7 697.8h0M405.6 685.6h0M433.7 721.3h0M406.7 645.4h0M454.6 716.3h0M384.9 659.8h0M371.7 651.4h0M479.9 670h0M435.4 712.5h0M430.3 709h0M376.3 720.4h0M396.5 713.3h0M443.8 659.6h0M410.5 664.1h0M471.2 644.2h0M401.7 692.3h0M412.5 650h0M472.7 665.3h0M495.4 655h0M477.2 700.4h0M400.6 625.1h0M363.3 634h0M441.3 678.9h0M447.6 698.5h0M379.9 622.8h0M363.2 661.1h0M354.7 682.7h0M406 652.9h0M485.3 696h0M391.3 710.5h0M408.8 639.1h0M483.1 700.5h0M420.9 635.2h0M419.2 658.7h0M358.7 680h0M384.5 656.6h0M410.3 639.3h0M374.4 637.2h0M416.4 630.1h0M476.4 657.8h0M485.8 621h0M361.1 675.1h0M411.6 628.4h0M408.1 675.1h0M370.3 625.7h0M451 626.2h0M494.8 627.6h0M397.6 716.9h0M362.7 625.5h0M446.7 630.6h0M452.9 678h0M354 686.6h0M477.2 641h0M484.8 710.2h0M488.6 709.9h0M360 722.9h0M371.1 624.4h0M420.6 679.6h0M383 664.6h0M485.6 708.2h0M363.2 676.8h0M404.9 642.5h0M404.9 666.1h0M389.9 627.2h0M404.5 691.8h0M378.5 676.3h0M435.9 714.6h0M407.9 660.1h0M409.2 666.9h0M487.5 692.3h0M411.8 686.5h0M378.7 638h0M483.1 621.9h0M494.1 676.2h0M375.3 654.9h0M464.5 686.8h0M461 667.8h0M459.5 670h0M355.1 658.8h0M391.3 704.2h0M399.4 673.7h0M373.6 716.4h0M375.9 699.4h0M494.5 629.5h0M443.6 713.6h0M413.9 647.1h0M484.7 638.9h0M410.3 690.6h0M405.8 634.6h0M488.9 623.1h0M360.3 626.4h0M466.9 699.9h0M424.9 628.8h0M375.4 657.7h0M373.1 721.4h0M430.3 706.8h0M428 619.4h0M486.1 656.6h0M441.1 701.3h0M401.4 647.6h0M406.5 662h0M376.2 677.8h0M384.6 716.6h0M454.5 643.3h0M413.6 643.6h0M363.9 670.5h0M427.2 672.4h0M392.3 702.3h0M409 693.2h0M483.8 618.8h0M465.3 646.3h0M413.1 678.6h0M391.6 634.4h0M356.2 655.9h0M492.8 621.2h0M420.3 697.6h0M468.7 671.8h0M357.9 661.3h0M478.3 685.1h0M408.2 677.1h0M460.6 684.8h0M403.8 664.5h0M380 708.2h0M364.4 660h0M455.7 681.2h0M448 668.1h0M461.6 639.1h0M468.3 711.8h0M485.5 722.6h0M447.2 719.9h0M363 697.5h0M394 718.8h0M392.2 650.6h0M435.5 703.3h0M448.1 621.1h0M483.6 711.5h0M369.1 646.7h0M409.2 622h0M433.7 631.5h0M389.8 618.6h0M355.9 656.3h0M413.6 617.8h0M389.8 673.9h0M437.7 658.2h0M469.1 669.1h0M368.8 647.6h0M382.3 708.3h0M488.9 692.6h0M393.4 644.1h0M406.1 696h0M470.9 652.4h0M437.6 633.5h0M395.7 653.2h0M415 634.5h0M458.3 659.3h0M417.5 704.4h0M354.1 643.4h0M475.1 632.5h0M441.5 672.1h0M380.2 709.3h0M469.9 634.3h0M354.1 656h0M469.9 651.3h0M464.5 667.2h0M375.3 668h0M466.6 668.2h0M440.3 705.7h0M456.6 652.5h0M396.2 679h0M431.2 702.9h0M487.7 688h0M485.3 647.5h0M382.6 686.2h0M481.4 618.2h0M412.6 649.9h0M468.2 672.4h0M398.2 714.3h0M355.5 651.2h0M481.8 705h0M406.8 672.4h0M461.8 661.6h0M477 660.5h0M496 699.4h0M423 719.5h0M495.8 676.7h0M443.2 664h0M365.3 697.2h0M493.8 640.8h0M478.9 666.1h0M470.6 639.9h0M456.6 650.2h0M461.8 647h0M394.1 696h0M414.3 640.3h0M448.6 723.6h0M471.8 648.7h0M373.9 705.1h0M447.5 621.3h0M383.1 715h0M491.7 711.4h0M480.4 640.4h0M466.1 681.9h0M492.2 676.6h0M370.6 684.8h0M455.6 692.8h0M383.6 676.6h0M369.3 671.7h0M447 652.4h0M495.3 663.5h0M416.8 694.5h0M488.7 648.1h0M468.7 684.1h0M486.8 662.8h0M429.8 674.7h0M363.8 707h0M440.8 676.7h0M385.4 624.3h0M363.4 713.8h0M387.7 619.2h0M485.4 672h0M463.4 706.4h0M464.4 636.3h0M467.8 635.3h0M387.7 711.4h0M366.4 710.5h0M450.2 713.6h0M438.6 628.2h0M466.1 668.8h0M421 626.6h0M364.6 652.7h0M465.7 659.3h0M374.6 684.3h0M388.7 657.7h0M451.9 682.2h0M495 699.3h0M447.5 684.5h0M436.2 719.9h0M434.4 663.6h0M400.6 714.9h0M453.2 668.5h0M388.5 676.9h0M432 721.7h0M393 700.9h0M377.6 674.7h0M414.8 663.9h0M406.9 662.5h0M423.8 668.1h0M436.2 670.5h0M396.7 636.7h0M380.9 703.3h0M429.7 657.8h0M398 630.3h0M380.5 661.5h0M378.3 642.9h0M485.1 716.5h0M449.8 696.8h0M459.4 675.7h0M454.7 630.5h0M364.4 672.7h0M484.2 640.6h0M386.5 676.8h0M476.5 627.8h0M371.4 628.1h0M458 674.5h0M416.9 674.9h0M473.8 705.4h0M463.6 664h0M413.3 718.5h0M384.6 658.4h0M379.4 673.2h0M485.5 663.4h0M441.3 621.5h0M414.8 716.5h0M446.7 700.5h0M385.4 684.3h0M403.3 670.8h0M359.7 647.4h0M492.3 666.8h0M492.6 699.9h0M422.9 630.9h0M453.7 699.2h0M461.4 675h0M440.9 694.7h0M470.1 654.9h0M377.3 684.6h0M368.2 628.1h0M360.5 674.7h0M431.4 664.4h0M406.1 650.4h0M487.3 705.5h0M437.4 636.3h0M474.3 684h0M489.4 634.5h0M476.1 704.9h0M417.8 618.3h0M437.7 623.9h0M358.7 723.6h0M384.5 719.4h0M488.6 701.7h0M397.8 684.5h0M400.4 646.9h0M486.1 663.3h0M363.6 718.4h0M375.3 635.3h0M493.3 624.6h0M354.4 630.7h0M401.9 692.1h0M466.4 662.1h0M471.2 707.3h0M454.7 658.5h0M419.4 671.6h0M391.5 656.7h0M411.6 684.1h0M478.6 705.1h0M450.4 628h0M427.6 669.2h0M468.3 669.1h0M405.2 628.9h0M432.8 646.8h0M396.9 689.4h0M367.5 666.8h0M419.7 664.1h0M380.8 666.5h0M461.4 721.2h0M402.5 681.9h0M377.6 635h0M398.9 648.9h0M391.6 691.6h0M455.8 689.5h0M433 646.5h0M380.8 668.4h0M428.5 701.3h0M462.2 632.1h0M375 714.1h0M423.8 716h0M423.3 711.7h0M372.1 669.5h0M442 714h0M479.9 701.5h0M400.3 682.1h0M359.8 706.9h0M484.7 620.7h0M443.3 699.9h0M419.6 682.1h0M468.8 692.5h0M435.8 668.9h0M357.8 640.9h0M454.2 672.4h0M374.5 637.3h0M394.3 650.7h0M440.4 682.3h0M463.2 671.5h0M456.6 627.9h0M362.2 644.9h0M365.6 632.3h0M439.8 721.9h0M496.7 648.2h0M374.3 681.4h0M366.7 689.4h0M457.8 693.3h0M389.6 659.1h0M495.2 701.3h0M412.2 691.5h0M364.9 709.8h0M378.7 621.3h0M459 715.6h0M393.9 662.3h0M381.3 645.7h0M464.1 678.2h0M369.8 636h0M425.4 697.5h0M490.9 658.3h0M418.7 621h0M407.3 643.9h0M400.4 649.1h0M451.4 684.9h0M394.1 671h0M487 675.7h0M453.9 722.3h0M480 647.5h0M443.4 620.7h0M469.9 625.9h0M472.4 626h0M419.7 663h0M387.4 662.9h0M494.1 624.4h0M438 618.2h0M484.1 691.8h0M416.1 701.7h0M478.5 631.7h0M439.6 675.2h0M493.7 715.1h0M444.5 637.1h0M381.8 703.5h0M378.7 722.7h0M382.4 704.8h0M362.2 620.1h0M489.9 715.3h0M435.7 650h0M363.1 683.1h0M368.8 658.3h0M491.8 627h0M461.9 669.3h0M384.7 619.8h0M386.4 628.3h0M421.1 693.9h0M495.5 656.3h0M449.5 706.4h0M449.3 664.4h0M491.1 662h0M389.1 669.2h0M387.1 634.7h0M467.8 685.2h0M356.2 638.5h0M434 669.1h0M444.4 657.5h0M353.5 640.5h0M374.9 689.8h0M472.5 692.2h0M389 659.6h0M369.1 716.9h0M434 641.1h0M408.9 627h0M482.1 721.8h0M452 664.9h0M474.6 712.2h0M465.7 689h0M403.1 626.4h0M442.1 708h0M395.1 716.9h0M394.6 689.8h0M392.8 633.4h0M404.1 704.1h0M363.3 629.7h0M367.5 687.8h0M424.5 647.1h0M361.5 707.2h0M443.2 635.7h0M441.4 710.8h0M420.5 688.7h0M384.8 623.8h0M429.8 702.5h0M413.4 670.6h0M365.7 707.7h0M361.9 723.5h0M455.1 633.5h0M431.9 642.5h0M489.2 704.7h0M473.3 679.8h0M399 629.2h0M388.6 657.4h0M478 679.4h0M474.6 723.1h0M457.6 670.9h0M414.4 723.7h0M437.8 683.7h0M449 718.2h0M375 709.5h0M403.1 688.6h0M359.4 689.9h0M400.4 695.5h0M484.2 723.3h0M448.9 650.1h0M422.3 628.9h0M375.6 664.2h0M377 668.1h0M459.4 626h0M493.5 713h0M421.8 637h0M476.8 707h0M432.1 626.2h0M464.4 634h0M367.6 675.3h0M449.2 698.8h0M393.5 637.2h0M467.2 624.4h0M373.4 704.3h0M465.3 681.7h0M377.2 625h0M357.6 633.5h0M446.2 643.4h0M402.7 703.7h0M425.9 629.4h0M369.4 658.9h0M417.9 691h0M457.7 671.2h0M413.3 713.4h0M475.9 670.6h0M386.2 665.7h0M480.6 636.3h0M475 683.5h0M404.8 676.6h0M451.6 673.7h0M417.7 721.1h0M415.8 671.1h0M411.4 619.3h0M401.2 643.8h0M489.9 686.8h0M451.7 639.8h0M439.6 636.9h0M473.8 681.8h0M407.5 647.9h0M417.4 714.7h0M425.3 635.7h0M443.1 626h0M457.4 709.7h0M460.5 716.2h0M489.6 701.8h0M488 631.8h0M400.2 650.6h0M439.8 671.9h0M481.4 626.1h0M418.9 688.4h0M411.7 708.2h0M373.5 662.3h0M423 719.2h0M434.2 693h0M387.5 626.2h0M372 672.8h0M449.3 694.2h0M408.1 665.1h0M432 641.4h0M414 719.6h0M423 714.3h0M367.9 700.3h0M481.3 669.4h0M458.5 685.6h0M365.4 622.6h0M488 661.5h0M432.2 644h0M462.5 651.2h0M467.7 624.4h0M380.4 684.6h0M380.1 670.6h0M411.4 722.9h0M381.4 695.2h0M400 680.8h0M361.2 621.1h0M421.2 708h0M436.5 633h0M433.6 632.9h0M431.6 639.4h0M459.3 656.9h0M471.5 711.4h0M477.5 692.9h0M478.4 632h0M467.6 626.8h0M459.1 692h0M387.7 693h0M419.3 694.6h0M397.6 710.1h0M404.7 707.6h0M438.3 668.5h0M423.4 695.7h0M413.3 669.3h0M383.5 639.3h0M383.7 716h0M373.2 714.1h0M373.5 718.4h0M360.9 676.8h0M368.3 695.5h0M354 640.4h0M420.2 642.3h0M429.7 693.8h0M368.2 681.9h0M484.7 679.5h0M375.4 678.5h0M481 721h0M493.7 632.7h0M475.7 666.5h0M405 627.8h0M465.6 703.6h0M428.3 667.9h0M481.8 646.7h0M493 638.7h0M420.5 710h0M412 687.1h0M373.8 622.7h0M463.9 642.8h0M385.4 700.5h0M383.2 665.1h0M456.6 664.2h0M452.4 721.5h0M486.3 700.8h0M472.4 645.3h0M446.2 698h0M475.3 630.5h0M381.6 666.1h0M442.4 706.5h0M457 641.2h0M473.1 637.2h0M384 675.2h0M466.8 703.2h0M469.3 692.2h0M451.7 652.1h0M410.6 687h0M379.6 718.2h0M470.9 642.1h0M412.4 623.2h0M450.7 691.6h0M448 687.8h0M394.8 719h0M355.5 723.8h0M393.4 683.1h0M400.7 631.2h0M441.4 668.4h0M469.1 717.3h0M366.2 631.3h0M437.8 623.6h0M487.8 629.1h0M371.1 684.1h0M400.6 685.7h0M495.8 694.5h0M494.2 645.7h0M388.1 623.7h0M470.1 656.9h0M394.5 669.5h0M411.9 633.2h0M388.2 692h0M359.2 685.7h0M441.8 655.7h0M438.7 622.5h0M419.6 709.1h0M441.6 650.1h0M430.2 681.6h0M365.5 671h0M413 635.2h0M414.3 706.3h0M479.2 644.3h0M496.7 699.3h0M370.5 698.8h0M391.2 695h0M438.3 689h0M438.4 691h0M376.7 697.2h0M390.6 687.6h0M393.9 638.4h0M473 721.6h0M395.2 714.8h0M464.1 697.3h0M456.1 701.3h0M445.7 707.2h0M377 644.7h0M376.4 701.9h0M457.8 679.3h0M396.4 650.7h0M436.3 701.6h0M399.2 625.2h0M496 632.9h0M400.5 692.5h0M358.5 675.1h0M453.7 682.9h0M379.8 712.7h0M416.8 718.2h0M358.9 695.9h0M405.4 627.4h0M460.6 690.8h0M430 654.2h0M461 664.7h0M359.3 716.9h0M378.7 682.7h0M400.1 625h0M378.6 701.7h0M450.4 696.9h0M420.7 695h0M477.4 638.7h0M421.5 705.1h0M391 705.6h0M482.2 696.2h0M371.9 715h0M388.5 703.1h0M458.1 715.9h0M384 709.3h0M377.6 656.7h0M401.9 634.4h0M456.3 692.4h0M389.2 671.4h0M363.2 682.3h0M355.4 679.7h0M466.3 718h0M436.2 677.4h0M483.2 723.8h0M389.1 642.9h0M450.7 720.7h0M418.6 686.4h0M359.6 703.9h0M469 640.7h0M486.9 715.3h0M444.9 669.7h0M466.4 658h0M362.5 685.3h0M461.1 631.3h0M485.3 653.5h0M427.3 624.1h0M414 667.5h0M373.7 623h0M429.1 627.6h0M435.1 721.6h0M398.4 674.1h0M487.4 669.6h0M402.6 664.9h0M401.4 659.5h0M377.2 686.2h0M461.3 714h0M453.4 689.2h0M401.5 627h0M436.3 627.8h0M405.5 654.3h0M400.3 665.3h0M387.1 649.4h0M401.5 626.7h0M357.7 672.7h0M411.8 696.8h0M452.7 698.5h0M493.5 719.7h0M437.9 667.2h0M379.7 658.2h0M466.1 684.5h0M366.6 710.3h0M400.7 701.8h0M400.2 619.9h0M470.1 703.7h0M470.5 644.5h0M366 699.5h0M442.6 656.8h0M442.2 709.1h0M457.9 705.6h0M448.7 672.4h0M410.9 719.4h0M473.7 715.4h0M435.2 709.7h0M423.4 680h0M416.3 719.4h0M453.5 672.5h0M428.6 638.6h0M408.5 715.1h0M428.4 617.6h0M364.3 703.3h0M485.3 630.2h0M470.4 628.2h0M394.7 720h0M408.8 625.2h0M458.1 691.1h0M409.7 656h0M477.3 642.9h0M483.4 620.5h0M456 679.1h0M369.6 631.1h0M438.3 711.5h0M425.8 646.1h0M446.7 706.2h0M422.4 651.7h0M409.4 652.7h0M415.5 653.1h0M435.3 636.4h0M449.4 687.7h0M463.6 626.2h0M474.1 708.3h0M414.5 709.7h0M420.8 632.3h0M399.5 626.5h0M418.9 697h0M376.2 711.8h0M404.7 650.5h0M490.4 623.4h0M446.9 701.4h0M468.1 710.5h0M356.6 617.7h0M411 700.9h0M490.9 691.9h0M434.3 697.2h0M425.3 715.9h0M477.4 667h0M420.9 682h0M368.5 659.9h0M487 629.1h0M369.9 695.7h0M395.2 668.9h0M450.7 641.2h0M401 654.9h0M477.9 698h0M454.7 627.3h0M363.5 670.7h0M496.1 671.4h0M400.9 680.2h0M424.2 648.2h0M476.8 694.2h0M465.9 664.6h0M447.1 707.1h0M393.1 676.5h0M389.5 649.3h0M403.9 677h0M375 695.6h0M379 692.5h0M388.9 694.8h0M389.2 652.6h0M387.4 662.4h0M373 688.6h0M478.1 620.9h0M489.8 683.2h0M482.1 689.5h0M380 654.4h0M394.9 622.6h0M418.3 695.3h0M354.7 653.3h0M479.2 626.5h0M427.2 644h0M469.7 681.2h0M495.9 647.6h0M480.9 672.2h0M480.5 636.9h0M396.6 655.9h0M382.7 703h0M475.9 718.3h0M421 713.3h0M407.6 635.1h0M386.4 650h0M404.6 711.9h0M401.7 673.1h0M381.8 624.8h0M363.9 638.4h0M388.3 702.7h0M480.2 703.2h0M476.9 679.7h0M418 623.1h0M450 645.9h0M432.1 664.1h0M489.4 700.4h0M431.9 642.8h0M375.3 621.5h0M469.8 681.4h0M488.4 708.7h0M457.7 703.9h0M470.8 619.7h0M373.3 684.9h0M408.2 692.6h0M420.9 675h0M431.9 721h0M433.4 691.5h0M466.6 712.9h0M366.7 631.3h0M408 674.3h0M396.7 630.8h0M417.5 709.3h0M452 681.2h0M416.5 692.3h0M360.2 721.8h0M362.4 695.8h0M488.7 628.7h0M444.9 653.8h0M369.6 659h0M443.1 669h0M380.5 675.5h0M433.9 675.2h0M414 648.4h0M480.2 642.5h0M380.2 708.2h0M381.9 682.3h0M436.7 689.1h0M494.2 665.9h0M367.1 633.5h0M358.2 680.7h0M459.8 674.7h0M359.6 686.3h0M454.4 710.4h0M363.1 674.2h0M353.7 641.4h0M441.7 658h0M394.9 621.6h0M442 655.8h0M413.2 677.8h0M406.2 655.6h0M443 650.4h0M363.8 674.4h0M441 618.6h0M379.4 622.9h0M471.2 642h0M379.3 666.6h0M423.5 664.4h0M427.9 694.5h0M450.2 691.4h0M401.5 625.3h0M485.6 720.5h0M376.6 654.1h0M494 640.9h0M419.9 689.3h0M494.6 701.5h0M435.3 673.2h0M474.3 677.9h0M438.5 634.9h0M479.6 686.2h0M455.3 687.6h0M388 618h0M426.9 719h0M444.1 696.9h0M445.4 683.5h0M378.9 637.8h0M484.3 627.5h0M492.4 660.7h0M396 714.9h0M417.5 646.2h0M415.2 720.9h0M480 683.2h0M491.1 726.1h0M391.9 651.4h0M462.9 650.5h0M365 673.6h0M467.1 634.6h0M424.8 696.1h0M385.2 646.5h0M400.5 642.8h0M440.3 695.3h0M443.8 655.3h0M479.4 616.6h0M406.5 691.2h0M468.2 686.4h0M387.2 718.6h0M484.4 625.4h0M488.3 696.8h0M415.2 632.6h0M400 685.3h0M397.6 651.2h0M375.8 646.3h0M459.2 691.4h0M421.7 708.8h0M356.9 637.4h0M462.7 707.1h0M376.3 643.9h0M373.4 638.1h0M413.5 668.2h0M378.2 704.1h0M413.8 636.6h0M401.9 626.5h0M490.2 719.2h0M452.6 700h0M484.6 687.2h0M391.7 662.8h0M396 631h0M476.9 667.8h0M450 687.1h0M364 659.7h0M369.7 643.9h0M416.2 723h0M489.6 634.2h0M476.1 660.1h0M368 657.4h0M359.7 703.7h0M485.5 696.2h0M369.9 714.2h0M415.6 696.1h0M465.2 636.4h0M396.2 704h0M415.5 641.2h0M436.1 649.8h0M464.3 651.5h0M454.5 672.1h0M488.9 715.2h0M354.1 668.6h0M384.2 715h0M477.8 658.9h0M497 623.3h0M399.5 662.2h0M487 714.7h0M418.7 696.8h0M466.9 690.9h0M363.7 719.6h0M375.7 663.3h0M493.8 701.3h0M446.5 682.2h0M447.3 656.5h0M432.1 641.9h0M429.6 654.1h0M426.1 632.9h0M457.3 677.8h0M411.4 646.4h0M398.8 674.8h0M481.4 657.9h0M392.5 644h0M470.1 680.5h0M480.8 644.6h0M479.3 722h0M432.4 721.3h0M449.9 689.8h0M413 691.9h0M372.4 645.2h0M423.4 631.1h0M494.1 682.3h0M406.2 629.7h0M365 654.8h0M412.5 674h0M411.7 692.6h0M371.3 640.6h0M400.3 626.7h0M437.2 658.3h0M433.8 632.4h0M478.1 691.8h0M376.5 652h0M469.8 627.8h0M493 693.4h0M467.8 634.7h0M373.2 668.4h0M480 671.2h0M400.9 625.2h0M407.6 692.5h0M438.5 666.5h0M479.7 663.2h0M431.2 619.2h0M408.3 630.7h0M388.3 633.7h0M479.4 645.4h0M425.4 674.6h0M486.6 647.8h0M356.4 714.9h0M423.6 720h0M490.9 692h0M477.2 685.3h0M430.3 665.6h0M379.9 680.8h0M390.4 675.4h0M358.1 639.1h0M378.2 634.4h0M409 626.9h0M419.6 622.7h0M483.9 722.7h0M379.8 684.8h0M364.5 663.4h0M371.1 625.5h0M362.8 670.8h0M421.8 660.5h0M437.1 638.8h0M493.5 632.7h0M402.1 644.5h0M473.5 685.1h0M485.9 679.1h0M427.3 670.8h0M454.9 650.1h0M354.3 696.8h0M385.3 691.3h0M411.8 647.1h0M421.2 667h0M478.9 649.9h0M401.9 681.2h0M362.9 621.4h0M472.3 691.8h0M420.8 675.6h0M439.5 688.8h0M367.8 687.7h0M421.7 704.8h0M494.9 716.9h0M485.9 672.3h0M446.3 688.9h0M462.4 704.2h0M378.7 682.7h0M487.7 662h0M495.7 684.4h0M378.6 681.2h0M400.7 629.6h0M485.7 710h0M450.4 701.8h0M417 635.6h0M409.1 688.4h0M383.4 695.6h0M443.4 712.7h0M443.2 640.7h0M388.3 702.8h0M450.4 692.3h0M388.2 668.5h0M413.1 685.7h0M459.8 684.2h0M370 626.7h0M448.5 720.7h0M406.8 626.3h0M412.6 651.4h0M363.5 676.2h0M414.4 686.9h0M371.5 664h0M394.6 622.6h0M460.4 632.8h0M397.1 688.7h0M416.2 717.1h0M458 657h0M379.5 656.2h0M389 656.2h0M358.9 711.4h0M387.7 627.9h0M371.9 623.2h0M394.1 654.6h0M366.3 714.4h0M434.3 633.1h0M408.8 691.3h0M451.4 633.2h0M412.5 687.1h0M388.6 620.7h0M358.3 722.4h0M421.9 639.8h0M436.5 637.2h0M472.9 626.1h0M404.1 619.4h0M446.6 698.3h0M377.7 650h0M474.2 714.5h0M354.9 638.6h0M494.8 653.4h0M495.7 655.8h0M453.6 657.4h0M431.4 618.3h0M478.3 632h0M360.5 674h0M413.6 722h0M432.7 655.8h0M470.9 709.5h0M375.2 704.6h0M412.9 640.1h0M353.4 652.4h0M376.4 651.8h0M452.1 675.9h0M398.1 683.3h0M488.7 677.9h0M492.6 628.2h0M467.8 685.4h0M449.1 714.6h0M424.8 714.3h0M468.9 626.8h0M371.5 638.8h0M370.8 714h0M412 662.6h0M491.8 708.5h0M357.8 637.2h0M376.7 721.3h0M406.8 694.5h0M383.9 664.4h0M374.8 668.8h0M365.2 713h0M487.3 714.5h0M459.7 625.3h0M402.3 652.1h0M429.2 623.2h0M401.6 722.3h0M384.3 637.7h0M393.1 691h0M493.9 624h0M436.9 702h0M468.5 623.3h0M405.6 640h0M391.6 695.4h0M375.5 686.4h0M464.3 697.8h0M417.7 673.3h0M441.7 718.4h0M454.4 651.8h0M375.2 619.9h0M457.3 693.2h0M407.8 628.8h0M439.6 637.4h0M465.9 703.2h0M472.7 665.2h0M475.1 670.3h0M458.5 667.6h0M412.4 646h0M417.1 668.1h0M483.4 649.5h0M436.5 616.1h0M473.9 631.5h0M436.9 669.1h0M472.9 662.3h0M492.7 693.9h0M455.8 649h0M394.5 695.9h0M353.3 657.7h0M495.2 653.9h0M458.7 698h0M444.4 653h0M405.5 696.3h0M471.8 641.9h0M407.8 642.3h0M412.3 623.2h0M422.9 635.3h0M459.9 680.8h0M469.7 705.7h0M446.4 619.8h0M471 635.5h0M357.6 615.7h0M433.4 683.1h0M458.1 630.1h0M474.3 659.5h0M377.5 621h0M382.5 677.3h0M450.7 639.4h0M372.2 651.2h0M442 637.7h0M400.4 625h0M441.5 717.1h0M376.4 678.7h0M458 679.4h0M491.2 628h0M470.7 664.6h0M369.4 721.1h0M377.2 626.6h0M433.7 667.4h0M454.7 628.9h0M442.2 681.1h0M414.4 709.3h0M425.5 629.6h0M461.9 662h0M393 675.9h0M383.8 693.2h0M406 661.6h0M472.9 637h0M425.5 663.3h0M457.1 663.5h0M455.2 679.4h0M365.6 621.4h0M467.7 689h0M426.5 681.6h0M428 680.2h0M367.8 684.3h0M454.1 668.1h0M390.3 659.5h0M398.2 626.7h0M398.9 625.7h0M433.4 704.2h0M399.5 629.8h0M428.3 617.6h0M415.1 645.6h0M421.9 698.9h0M465.6 659.1h0M454.9 668.6h0M373.9 627.1h0M491.8 722.7h0M453.5 717.3h0M388.3 675.3h0M468.4 649.7h0M482.9 672.2h0M481.4 638.8h0M464.6 636.2h0M392.8 638.4h0M426.3 709.4h0M398.2 630.2h0M388.9 651.1h0M478.9 654.5h0M414.5 635.2h0M411 720.7h0M375.9 708.1h0M395 678.1h0M410.3 677.2h0M406.4 669.6h0M370 665.6h0M460.8 696h0M479.2 700.9h0M370.9 653.4h0M435.4 628.1h0M413.3 616.7h0M474.2 646.3h0M375.5 655.9h0M455.5 711.6h0M393.2 682.7h0M358.8 710.2h0M406.3 631.3h0M382.7 716.4h0M456.8 676.2h0M458.7 644.6h0M400.5 680.5h0M400.3 655.4h0M354.1 722.8h0M383.2 662.4h0M441.2 657.5h0M461.4 705.9h0M473.8 702.4h0M351.8 644.9h0M495.6 658.9h0M483.1 617.8h0M371.9 658.8h0M407.8 652.1h0M351.8 683h0M444 646.6h0M386.6 634.9h0" stroke="#0a0cf8" stroke-width="1.7" stroke-linecap="round" fill="none" filter="url(#b1)"/>
<path d="M402.7 623.3h0M365.5 691.4h0M455.9 618.8h0M476.6 644.8h0M455.3 650.3h0M456.7 659.5h0M421.2 627.6h0M416.3 697.9h0M364.1 649.9h0M380.2 695.1h0M360.3 713.5h0M388.3 675h0M379.9 675h0M449.9 692.1h0M411.7 661.2h0M371.6 659h0M360.5 716h0M485 658.5h0M404.2 677h0M478.3 690.3h0M495.6 632.6h0M387.8 620.2h0M401.2 639.8h0M496.2 691.7h0M388 721.6h0M457 660.5h0M373.2 686.8h0M426.5 640.4h0M354.2 636h0M363.3 713.2h0M412.8 670.7h0M358 638.8h0M394.4 723h0M372.3 638.4h0M367 662.1h0M419.3 681.4h0M370.1 722.1h0M357.6 703.1h0M458.8 715.4h0M468.8 621.7h0M377.8 651.8h0M487 693.6h0M392.7 625.2h0M438.8 635.3h0M413.8 642.2h0M377.9 717.9h0M488.2 665.5h0M399.6 651h0M356.6 637.9h0M489.3 628.5h0M496.5 686.3h0M476.8 644.9h0M377.2 675.4h0M407.9 657.2h0M417.3 700.9h0M476.8 700.7h0M438 688h0M438.2 653.4h0M438.3 717.3h0M480.1 693h0M414.8 715h0M482 660.8h0M457.6 648.7h0M359.8 710.5h0M474.3 692.6h0M480.4 635.5h0M395.9 660.9h0M451.6 701.2h0M364.9 715.4h0M433.2 640h0M386.2 717.7h0M459.5 631.6h0M435.4 634.7h0M421.5 676.2h0M386.1 647.8h0M452 685.7h0M427.3 665.8h0M415.5 638.1h0M421.5 715.4h0M408.3 677.4h0M353.5 619.8h0M494.1 654.1h0M478.4 712.1h0M433.7 643.2h0M358.7 624.6h0M431.3 633.7h0M467.7 643.8h0M462 704.8h0M361.2 665.5h0M483.2 701.8h0M457.3 621.1h0M455.5 648.3h0M377.6 623.9h0M481.6 639.2h0M460.2 639.4h0M452.6 711.9h0M412.8 626.3h0M489.5 648.1h0M484 626.1h0M390.6 658.6h0M379.5 710.8h0M455.6 699h0M392 651.6h0M424.8 659.2h0M359 663.3h0M393.7 705.1h0M474.6 678.1h0M392.7 638.2h0M353.8 657.6h0M430.1 680.4h0M411.5 648h0M479.6 721.1h0M464.9 723.4h0M453.6 675.3h0M494.4 637.8h0M479.9 681.4h0M361.4 625.1h0M391.7 701.3h0M431.9 622.5h0M410 635h0M453.1 694.5h0M369.9 713.2h0M493.7 707.6h0M361.9 664.8h0M397.8 639.3h0M446.1 695h0M444.7 643.5h0M432.4 720.1h0M421 664.8h0M447 650.6h0M461.8 722.6h0M467 670.4h0M409.5 629.5h0M431.9 663.1h0M494.7 691.8h0M398.6 621.1h0M477.3 713.5h0M464.8 703.8h0M398.1 702.2h0M479.9 649.1h0M472.5 696.3h0M435.7 676.8h0M446.7 654.7h0M408 654.4h0M426.1 653.4h0M466.4 675.2h0M409.8 672.8h0M427.8 670.5h0M411.6 636.9h0M401.6 626.9h0M356.2 656.7h0M356.1 671h0M462.6 643.3h0M449.5 696.7h0M407.2 695.4h0M364.2 711.8h0M401.4 697.1h0M492.5 627.7h0M368.3 690.5h0M440.8 665.7h0M390.3 652.7h0M383.5 687.9h0M442.2 690.5h0M496.7 626.1h0M434.3 705.7h0M374.4 659h0M430.5 698.1h0M387.7 703.1h0M387.2 679.2h0M484.8 661.5h0M475.2 635.4h0M445.9 718.7h0M430.3 641.7h0M383.7 648.6h0M402.3 678.6h0M362.2 644.5h0M370.9 650.7h0M377.6 628.6h0M380 644.3h0M494.8 719.2h0M445.7 718.3h0M431.1 665.3h0M370.9 668h0M383.6 646.9h0M441.2 682.5h0M447.2 682.8h0M361.6 646.8h0M427.2 695.8h0M479.4 683.7h0M453.4 667.7h0M425.9 642.5h0M354.3 676.9h0M483.6 697h0M474.3 673.8h0M482.4 676.3h0M354.9 697.2h0M406 630.7h0M448.9 710.9h0M366.8 619.9h0M426.4 709.5h0M375.8 704.5h0M442.4 687.8h0M364.8 721.8h0M465.8 647.7h0M375.2 630.1h0M488.9 714.6h0M490.9 708.1h0M453.2 628.2h0M471.5 664.3h0M419.6 627.6h0M384.4 707.9h0M414.9 701.6h0M365.9 643.3h0M430.7 639.8h0M458.3 617.3h0M406.1 692.1h0M443.7 698.7h0M373.9 659.5h0M402.5 634.7h0M449.2 685.6h0M400.6 681.9h0M462.2 634.5h0M438.6 637.5h0M473.1 676h0M461.2 681.6h0M448.1 675.8h0M449.9 710.8h0M447.3 642.2h0M416.8 630.1h0M393.4 643.5h0M445.1 638.1h0M478.8 678.7h0M406.4 681.9h0M485.8 718.6h0M399.9 671.9h0M444.3 647.8h0M398.4 695.3h0M479.5 639.1h0M438.3 667.9h0M392.4 629.2h0M361.4 669.4h0M372.6 699.1h0M491.6 720.4h0M483.3 647.3h0M444 652h0M457.9 723.1h0M405.7 668.1h0M440.7 635.7h0M494.4 702.3h0M442.9 634.7h0M487.6 619.7h0M399 689.6h0M364.3 670.9h0M469.3 662.9h0M420.5 638.2h0M485.8 720h0M473.7 663.2h0M464.1 704.9h0M359.2 697.4h0M406.4 675h0M481 704h0M435.8 657.1h0M381.2 618.4h0M448.5 644.1h0M453.6 717.4h0M471.6 678h0M397.7 696.8h0M485.9 718.2h0M372.7 643.5h0M486.8 620.8h0M490.4 683.4h0M494 681.1h0M355 710.7h0M468.1 678.5h0M400.1 636.5h0M409.2 704.5h0M465.4 658.4h0M441.9 632.4h0M377.3 652h0M483.7 641.8h0M375.2 697.5h0M484.2 695.2h0M487.6 659.4h0M372.2 664.3h0M386.8 638.1h0M383.1 661.8h0M410 631.2h0M461.2 714.1h0M360.5 639.7h0M466.7 672.9h0M364.6 718.1h0M453.9 650.4h0M483.4 707.4h0M445.6 679.1h0M396.1 630.7h0M370.3 668.9h0M449.6 666.3h0M451.3 685.5h0M470.2 709h0M447.7 641.1h0M478.1 686.9h0M407.8 722.2h0M413.2 708.4h0M481.4 677.6h0M463.9 661.6h0M489.1 689.5h0M473.9 669.1h0M357.6 696.7h0M450.2 637.2h0M380 712.1h0M365.5 663.6h0M413.4 629h0M413.3 661.2h0M485.6 639.8h0M367.2 713.2h0M381.8 637.8h0M495.6 677.4h0M422 643.4h0M367.1 635.5h0M440 663.3h0M443.6 706h0M483.5 682.2h0M459 683.2h0M415.7 721.8h0M495.1 624.7h0M359 689.3h0M489.4 627.9h0M437.3 652.6h0M368.3 677.7h0M487.9 698.5h0M489.3 692.5h0M462.2 618.4h0M394 670.6h0M380.2 690.2h0M451.6 660.4h0M444.9 652.7h0M450.3 682.5h0M364.6 684.4h0M427.9 718.6h0M403.5 650.5h0M436.5 621.9h0M451.2 712.1h0M402.8 663.7h0M493.4 625h0M422.8 660.4h0M467.5 647.4h0M475.4 703.1h0M482 697.7h0M382.6 630.3h0M405.6 635.9h0M445.9 687.1h0M381.2 630.9h0M444.8 702h0M436.8 658.3h0M439.8 697h0M396.4 629.1h0M442.3 674.2h0M478.6 705.5h0M483.3 703.8h0M420.4 716.5h0M401.6 657.2h0M424.8 647.8h0M495.2 719.8h0M397 679.1h0M362.8 709.5h0M443.6 658.9h0M445 649.2h0M394.8 628.4h0M453 672.6h0M485.3 642.9h0M405.2 713.4h0M369.7 720.1h0M388.2 694.4h0M396.6 704.1h0M449.3 679h0M445.7 636.1h0M449.9 636.8h0M479.1 681.8h0M494.1 698.9h0M470.4 696.6h0M437.5 657.8h0M452 694.4h0M471.4 706.7h0M386.3 659.9h0M437.2 715.8h0M461.2 638.1h0M466.8 709.3h0M391.8 629.6h0M413.1 712.3h0M442.2 621.6h0M428.6 617.7h0M492 722h0M404.4 643.9h0M357.2 683h0M395 644.4h0M433.6 667.9h0M425.9 632.9h0M387.4 673.8h0M478 667.3h0M479.1 652h0M489 696h0M489.3 684.2h0M396.5 632.7h0M453.6 645.3h0M431 715.2h0M476.4 622.3h0M364.4 676.6h0M362.3 703.4h0M381.6 708.1h0M435.8 628.8h0M457.9 668.1h0M446.4 662.8h0M471.9 650.4h0M461.8 668.5h0M399.6 643.1h0M393.6 633h0M455.8 642h0M371.4 717.5h0M459.3 697.7h0M376.8 669.1h0M440 704.1h0M487.7 620.8h0M454.5 700.7h0M450.5 684.2h0M492.2 664.8h0M435.6 704.1h0M476.4 672.3h0M435 715h0M475.2 722.8h0M454.3 722.4h0M398.3 714.2h0M393 631.1h0M483.7 650.8h0M471.4 621.2h0M481.5 636.5h0M399.2 661.1h0M370.9 645.1h0M392.5 674.8h0M430.9 619.6h0M382 722.8h0M470.9 680.3h0M359.9 705.8h0M472.8 657.2h0M418.9 686.3h0M441.8 657.1h0M441.9 627.1h0M417.4 645.7h0M478.2 660h0M394.5 620.6h0M456.4 701.2h0M489.4 695.7h0M381.4 679.5h0M403.1 663.9h0M419.3 660.1h0M423.9 684.9h0M456.4 717h0M456.8 630.7h0M417.6 712.6h0M489.4 718.4h0M421.8 718.2h0M450.1 644.3h0M369.2 654.8h0M410.1 711.2h0M370.6 637.2h0M439.5 693.9h0M397.2 688.7h0M363.7 654.8h0M476.5 684.5h0M378.5 651.2h0M358.7 707.6h0M405.7 624.2h0M407.9 691.6h0M405 716.3h0M398.3 667.4h0M456.3 628.7h0M472.2 666.4h0M381.1 665.3h0M355.9 679.1h0M359.1 693.5h0M416.4 715.7h0M466.9 633.5h0M480.1 658.9h0M466.9 697.4h0M415.6 719.4h0M411 694.2h0M462.2 715.3h0M440.2 684.2h0M414.8 619.3h0M384 630.7h0M395.4 628h0M392.4 677.4h0M384.1 689.7h0M371.2 621.7h0M464.2 705.5h0M489.7 691.6h0M372.7 679.2h0M433.8 692.1h0M380 617.3h0M419.5 617.6h0M490.4 629.4h0M414.7 722.4h0M456.6 700.6h0M455.7 678.9h0M488.3 700.6h0M439 629h0M358.9 630.1h0M438.8 618.4h0M378.1 706h0M378.1 670.4h0M359.4 682.4h0M422.8 647.8h0M481.2 703.5h0M372.2 644.2h0M421.2 647.7h0M468 668.7h0M440.6 652h0M411 628.5h0M457.5 665.5h0M434 688.5h0M443.5 699h0M420.5 715.2h0M440.9 718.7h0M482.9 719.4h0M409.2 690.2h0M437.6 649.6h0M429 661.8h0M363.5 672.9h0M453.8 689.9h0M407.2 670.3h0M471.7 627h0M468 689h0M422 652.4h0M363.9 631.6h0M362.1 712h0M459.1 642.7h0M458.4 635.1h0M363.5 665.7h0M434.5 688h0M483.4 654.8h0M412.4 670.8h0M423.9 670.2h0M428.3 694.4h0M434.5 648.6h0M359.8 707.3h0M474 662.1h0M447.6 650.1h0M422.1 721.9h0M396.2 660.3h0M410.3 687.6h0M494.5 685.5h0M411.4 624.7h0M402.4 675h0M429.5 644.7h0M400.4 655.3h0M402.3 695.9h0M369.5 654.3h0M472.8 640.2h0M450 700.8h0M361.7 643.3h0M450.3 708.8h0M454.8 651.5h0M446.1 664.7h0M481.9 722.1h0M440.3 632h0M353.6 625.6h0M456.9 655.7h0M380.4 710.8h0M440.2 715.1h0M454.9 678.4h0M409 675.7h0M454 652.3h0M493.4 690.5h0M372.2 665.9h0M471.7 631.5h0M458 639.9h0M462.8 677.7h0M466.1 717.4h0M433.3 683h0M414.1 683h0M354.4 653h0M471.4 636h0M443 702.1h0M463.3 680.3h0M455.3 699.2h0M464.9 650.1h0M416.6 692.9h0M392 655.8h0M371.5 639.6h0M385.1 668.6h0M491.9 694.2h0M469.9 622.7h0M391.9 712.7h0M392.4 622.8h0M355.6 643.4h0M425.1 658h0M439.2 651.4h0M429.3 623h0M456.8 697h0M458.2 677h0M488.4 687.4h0M479.9 688h0M478.3 689.3h0M478.1 624.5h0M431 656.9h0M359.9 702h0M443.7 677h0M413.8 640h0M362.1 622.4h0M375.1 644.2h0M393 668.6h0M378.4 705.1h0M409.3 656h0M494.9 716.2h0M399.2 683h0M360 718.6h0M426.5 636h0M366.2 680.9h0M375.5 682.3h0M373.8 681.4h0M491.2 696.2h0M401 692.9h0M399.5 628.1h0M478.8 663.2h0M360.7 673.1h0M447.9 690.5h0M408.8 667.7h0M493.7 672.2h0M402 722.2h0M369 651.7h0M421.7 665.9h0M411.2 679.1h0M437 662.3h0M391.6 679.7h0M399.1 692.6h0M493.3 683.6h0M491 659.1h0M475 686.9h0M474.7 692.8h0M415.1 640.2h0M489.6 675.7h0M368.2 652.9h0M420.1 723.6h0M418.8 666.4h0M367.2 705h0M476.5 624.1h0M412.3 718.5h0M405.8 659h0M385.4 694.1h0M449.7 713h0M424 660.9h0M491.1 719.5h0M445.5 700.7h0M482.2 672.9h0M413.8 722.5h0M414.3 699.4h0M357.7 703h0M361.6 647.2h0M380.1 683.5h0M411.5 680.6h0M439.9 670.9h0M452 633.9h0M385.2 708.4h0M460.6 660.5h0M442.2 654.3h0M413.9 659.8h0M399.2 697.8h0M363.8 663.9h0M390.7 660.6h0M387.7 632.8h0M393.2 629.1h0M386.8 720.5h0M367.9 649.3h0M385 637.6h0M381.5 636.9h0M415.8 630.6h0" stroke="#0a0cf8" stroke-width="2.3" stroke-linecap="round" fill="none" filter="url(#b1)"/>
<circle cx="445.8" cy="662.3" r="1.3" fill="#ff2a78" filter="url(#b1)"/>
<circle cx="394.5" cy="679.3" r="1.6" fill="#ff2a78" filter="url(#b1)"/>
<circle cx="400.5" cy="673.3" r="1.2" fill="#ff2a78" filter="url(#b1)"/>
<circle cx="364.5" cy="667.3" r="1.3" fill="#ff2a78" filter="url(#b1)"/>
<circle cx="385.5" cy="649.3" r="0.8" fill="#ff2a78" filter="url(#b1)"/>
<circle cx="419.5" cy="667.3" r="0.9" fill="#ff2a78" filter="url(#b1)"/>
<circle cx="466.5" cy="680.3" r="0.8" fill="#ff2a78" filter="url(#b1)"/>
<circle cx="463.5" cy="686.3" r="0.7" fill="#ff2a78" filter="url(#b1)"/>
<circle cx="440.5" cy="676.3" r="0.7" fill="#ff2a78" filter="url(#b1)"/>
<circle cx="382.5" cy="642.3" r="0.6" fill="#ff2a78" filter="url(#b1)"/>
<circle cx="359.5" cy="630.3" r="0.5" fill="#ff2a78" filter="url(#b1)"/>
<circle cx="411.5" cy="685.3" r="0.5" fill="#ff2a78" filter="url(#b1)"/>
<circle cx="489.5" cy="712.3" r="0.5" fill="#ff2a78" filter="url(#b1)"/>
<circle cx="377.5" cy="668.3" r="0.5" fill="#ff2a78" filter="url(#b1)"/>
<circle cx="447.5" cy="663.3" r="2.4" fill="none" stroke="#ff2050" stroke-width=".9" filter="url(#b1)"/>
<line x1="357.1" y1="719.6" x2="388" y2="719.6" stroke="#b4b4bc" stroke-width="1.5"/>
</g>
<rect x="353.5" y="600.6" width="143.3" height="16.7" fill="#fff" stroke="#444" stroke-width=".8"/>
<text x="425.1" y="609.8" font-size="7.9" text-anchor="middle">10F-<tspan font-style="italic">Sox17</tspan></text>
<text x="513" y="605.6" font-size="9" font-weight="bold">n</text>
<clipPath id="cp4"><rect x="522.8" y="617.3" width="143.6" height="106.5"/></clipPath>
<g clip-path="url(#cp4)">
<rect x="522.8" y="617.3" width="143.6" height="106.5" fill="#060224"/>
<path d="M524.2 689.4h0M663.4 675.9h0M558.6 679.6h0M665 710.2h0M653.2 626.6h0M666 698.8h0M616.6 719h0M650.9 628.2h0M600.9 707.1h0M647.2 617.9h0M529.7 715.1h0M625.5 708h0M570 639.2h0M571.9 636.5h0M608.8 671h0M665.7 639.8h0M581.2 668.2h0M632.4 676.4h0M534.8 657.7h0M649.2 632.4h0M592.7 678.9h0M608.9 711.1h0M646.3 689.5h0M568.8 723.7h0M580.7 706.4h0M603.4 637h0M603.9 672.8h0M534.6 684.4h0M604.3 633.8h0M526.2 675.5h0M620.6 711.3h0M582.1 660.9h0M535.9 643.2h0M625.9 678.4h0M627.6 655.2h0M654.6 706.4h0M641.2 674h0M651.1 694.9h0M557.5 618.1h0M630 710h0" stroke="#900860" stroke-opacity=".16" stroke-width="20" stroke-linecap="round" fill="none" filter="url(#b3)"/>
<path d="M635.2 704.9Q637.9 702.4 639.3 699M617.4 714Q619.3 704.2 628.9 701.8M604.4 726.1Q609.3 720.8 614.7 715.9M598.9 690.6Q606.1 680.2 610 668.2M624.5 709.2Q634.3 701.3 645.6 706.8M525.7 657.9Q531.1 654.8 536.9 652.5M526.7 656.8Q535.1 655.5 542.2 650.6M526.1 635.5Q533 629.9 540.7 625.3M532.9 639.9Q536.5 636.8 538.7 632.7M620 615.5Q626.5 621.2 634.8 618.8M659 713.1Q665 710.6 671.4 711.4M540.4 679.7Q547.9 678.4 555.3 677M529.4 643.3Q535.4 645.5 541.8 644.3M582.9 690.1Q590.5 681.2 598.3 672.6M589.6 676.6Q594.1 669.4 599.8 662.9M652.5 666Q656 666.5 659.5 666.8M514.6 704.3Q526.1 700.2 536.2 693.5M601.9 661.7Q607.5 657.1 614.7 655.6M613.6 652.5Q620.4 648.3 627.3 644.2M645.2 715.7Q649.7 718.9 655.2 719.1M643.5 712.7Q652 718.4 661.4 722.1M589.3 667.5Q591.7 665.3 592.9 662.3M544.9 711.5Q547.9 708.1 552.3 706.7M545.9 673.9Q550.2 675.2 554 677.4M512 645.3Q517 642.1 520.9 637.7M513.5 646.5Q515.9 642.1 519 638.2M604 662.7Q607.1 654 609.1 645M631.2 624.2Q635 625.2 637.4 622.1M632.1 627.6Q638.8 619.4 648.4 615M548.2 716.6Q550.6 721.1 555.7 720.8M532.5 669.6Q542.8 669.2 552.9 671.5M537 671.7Q543.1 672.1 548.3 669.2M533 670Q542 660.2 554.3 665.1M563.3 693.8Q568.9 691.5 571.7 686.2M613.3 693.1Q623.4 692.4 629.8 700.1M520.6 708.6Q531.3 702.7 534.1 690.7M526.7 695.6Q530.3 692.2 534.9 690.6M541.2 696.8Q548.6 699.1 556.2 697.5M549.8 700Q553.9 703.6 559.4 704.1M543.5 708.5Q551.5 706.3 559.2 709.5M553.2 702.6Q557 703.9 560.8 704.7M590.8 730.7Q593.8 725.7 594.8 720M590.3 652Q600.9 654.3 608 646.1M586.1 649.6Q592 651.7 597.4 648.7M556 672.4Q560.4 669.9 565.4 670.6M549.3 675Q557.6 676.8 565.3 673M652.9 693.2Q661.5 692.3 670.1 691.1M632.5 668.5Q634.7 665.1 633.5 661.2M632.1 668.1Q631.4 660.2 633.2 652.4M621.3 670.8Q627.6 660.5 637.4 653.4M651.7 702Q659.8 698.2 668 694.7M622.8 620Q628.9 613.1 628.5 603.9M613.3 630.2Q620 624.7 625.1 617.7M614.7 640.7Q617.6 636.4 622.1 634M620.7 629.4Q629.6 632.9 639.1 632M549.1 672.3Q552.4 670.2 555.9 672M659.4 644.5Q665.3 636.9 673.7 632.3M661.8 637.7Q664.2 635.7 666.7 633.8M578.3 725.9Q581.6 714.5 592.5 709.7M579.5 719.3Q582.1 714.1 585.2 709.1M617.7 723.3Q624.9 716.3 632.6 709.8M622.2 717.7Q624.4 711.2 630.9 708.7M578 620.9Q587.1 617.7 596.7 619M543.7 644.9Q547.7 642.1 552.6 642.7M554.6 649.2Q558.8 645.4 564.5 645.6M642.8 692.3Q650.5 688.4 651.7 679.7M663.6 729.8Q673.9 719.8 668.1 706.6M655.1 674Q661.2 665.9 669.4 659.8M656.1 674.7Q654.5 660 667.9 653.9M579.3 700.3Q588.5 693.8 594 683.9M591.2 712.2Q601.7 708.4 612.2 704.6M625.2 732.1Q632.5 724.2 634.1 713.5M523.2 650.8Q529.3 646.5 530.6 639M629.2 647.8Q633.5 643.9 637 639.2M576.5 705.1Q580.4 700.8 584 696.3M590.8 666.3Q598 667.8 604.8 670.7M587.8 668.5Q593.4 670.1 598.7 667.7M650.2 617Q655.1 612.1 656.6 605.2M652.6 620.8Q660.1 611.6 665 600.9M661.7 683Q670.1 678.7 674.4 670.2M655.4 686.8Q663.6 684.9 668.7 678.2M640.5 665.1Q646.6 666.3 652.7 667.2M610.5 697.1Q613.8 691.2 620.5 689.9M601.3 703.9Q605.7 702.2 608.6 698.5M547.4 695.9Q555.9 691.4 557.2 681.9M553.9 694.6Q559.2 691.7 560.3 685.7M591.6 637.3Q603.4 638.1 614.7 634.8M580.6 679.5Q585.6 680.2 590.6 681.2M580.9 684.7Q584.3 684.5 587.2 686M540.5 653.9Q549.2 654.8 557.9 655.6M583.9 616.3Q590.5 616.2 597.1 616.8M579 615.9Q588.8 622.8 600.8 621.4M568.7 712.2Q568.2 707.2 571.7 703.6M608.3 647.4Q620.7 651.7 630.1 642.5M574.4 685.2Q581.1 683.2 587.7 681M589.8 684.3Q593.2 685.7 596.8 684.8M588.3 685.1Q596.1 683.3 603.8 681M661.5 627.5Q661.8 617 667.9 608.4M660.3 619.3Q665.8 614.6 667.3 607.5M634.1 667.1Q641 668.2 647.8 669.5M567.9 708.4Q577 713.6 582.2 722.8M567.1 707.5Q573.1 716.9 583.8 720.2M610.1 693.5Q615.1 689.5 620.5 685.9M591.7 679.4Q597.6 669.8 607.8 664.9M579.2 684.5Q587.5 682.4 594.1 676.9M560.6 705.5Q564.6 697.2 567.6 688.5M563.2 701Q564.8 697.5 565.8 693.9M561 702.1Q561.4 696.7 566.2 694.1M630.9 707.1Q634.9 700.7 642 698.3M600.7 729.6Q603.7 720.9 612.4 718M618.8 696Q624 684.6 634.5 677.7M609.1 696.5Q614.7 689.7 623.3 688.2M625 709Q636.3 709.2 645.6 702.8M526.5 657.9Q534 659.6 541.5 660.9M565.4 655.5Q571.2 657.6 576.7 660.2M530.1 635.9Q532.8 630 539.3 629.4M529.6 636.3Q541.8 639.1 549.7 629.4M534.4 648.6Q545 649.9 555.5 648.1M646.2 664.4Q655.9 665.2 665.7 665.2M547.4 659.1Q547.7 653.6 549.5 648.4M607.8 662.6Q612 661.1 614.3 657.3M533.9 624.3Q536.8 621.2 539.1 617.6M621.2 657.8Q631.7 660.2 642.1 662.9M617.9 650.4Q631.1 648.9 641 657.8M588.3 672.7Q593.6 665.4 596.7 657M588.3 676.7Q588.7 670.8 593.3 667.3M545.7 667.1Q551.2 670.7 556.4 674.7M510.4 617.3Q519.9 615.2 529.1 611.6M510.6 651.5Q519.2 649.8 518.6 641.2M506.6 647Q510.8 639.1 519.2 635.9M623.1 627.6Q634.2 630.2 641.8 621.7M623.8 628Q633.2 624.5 641.6 619M664.2 690.1Q671.6 684.4 672 675.1M545.7 717.2Q555.8 714.5 562.3 722.8M550.3 665Q554.5 663.6 558.6 661.8M560.4 700.5Q567 692 567.4 681.3M546.4 697.1Q557 697.3 566.9 700.7M660.9 632.2Q662.9 628.9 664.9 625.8M589.1 728Q591.3 722.2 593.4 716.4M595.6 720.6Q597.4 714.8 599.6 709.2M589.4 654.8Q595.1 654.5 599.8 651.2M560.8 634.9Q565 628.4 566.2 620.8M538.2 710.5Q546.7 704.7 551.2 695.4M634.1 697.5Q645.2 692.1 657.1 689.2M637.1 657.5Q641.4 655.7 643.4 651.5M657.1 700.6Q659.5 698.7 662 696.8M537.2 732.9Q544.7 723.2 545 710.9M604.7 649.6Q611.4 641.2 620.5 635.6M613 633.7Q618.9 629.3 626 627.6M633.9 729.7Q639.2 726.5 645.2 727.9M624 732.4Q636.4 735.7 646.5 728M540 674.1Q548.7 672.6 557 669.5M586 715.5Q595.5 708.8 605.6 703M614.2 728.8Q628.5 725.4 630.7 711M574.3 621.5Q580.2 620.8 585.7 618.3M535.5 655.8Q543.1 649.4 550.3 642.7M605.9 702.9Q613.1 704.5 617.6 698.7M608.2 707.7Q617.1 699.5 628.9 697M623.2 730.2Q630.3 722.1 635 712.4M516 653.3Q520.6 646.7 527.4 642.6M583.9 702.9Q589.6 694.8 596 687.4M583.5 701.5Q586.3 698.7 588.7 695.6M657.1 620.2Q656.7 607.8 667.6 602M542.5 633.4Q548.4 629.3 554.7 625.6M546 631.7Q552.1 627.6 558.2 623.6M546.5 679.5Q548.7 675.5 550.2 671.1M544.2 690.7Q545.3 684.5 547.4 678.6M642.2 661Q645.7 661 649.2 661.2M554.5 699.6Q557.3 694.6 558.5 689M553.7 699.9Q556.3 694.3 560.6 690M584.2 666.3Q593.8 664.1 595.2 654.3M610.4 640.6Q618 639 625.8 639.1M599.5 687.4Q605.1 683.4 610.1 678.6M605.4 682Q609.8 679.4 614.3 677.1M584.5 683.8Q588.6 684.6 592.6 685.2M575 682.4Q581.1 682.9 586.8 684.8M539.5 650.9Q546.1 659 556.6 659.5M533.2 655.7Q542.7 660.7 553.3 662.2M591.4 617.8Q595.8 618.7 600.3 618.2M591.4 619.2Q599.6 610.9 610.4 606.4M591.2 615.6Q603.9 616.6 616 612.8M585.8 626.2Q590.2 623.6 594 620.2M582.4 616.1Q592.7 613.3 602.8 609.6M587.8 684.2Q596.1 679.3 605.7 679.6M660.1 629.7Q662.4 624 665.1 618.6M626 666.9Q637.9 671.7 650.3 668.8M633.3 670.1Q639.7 670.2 645.6 672.6M577.3 720.5Q579.6 726.8 585.7 729.5M570.4 715.3Q577.6 725.4 588.9 730.3M608 702.2Q614 694.7 621.7 689.1M611.2 700.6Q622.3 698.3 625.7 687.5M583 685Q597.2 685.9 604.2 673.4M634.7 641.3Q643.9 629.2 658.2 634.4M643.9 634.2Q652.1 625.4 664.1 626.3M627.9 725.6Q631.1 720.4 635.2 715.8M572.9 694.7Q574.4 690.8 573.5 686.7" stroke="#d00c70" stroke-opacity=".4" stroke-width="2.4" stroke-linecap="round" fill="none" filter="url(#b2)"/>
<path d="M629.6 628.5h0M660 683.2h0M596.5 701.2h0M604.1 693.6h0M548.5 680.1h0M550.6 658.8h0M550.2 686.7h0M589 670.5h0M584.2 699.5h0M655.6 679.6h0M654.1 707.7h0M570.5 684.5h0M657 662.1h0M535.4 666.4h0M546 634h0M638.3 712.5h0M555.8 670.7h0M541 636.5h0M603.4 621.7h0M634.7 638.4h0M526 679.1h0M658.7 656.5h0M632.8 683.4h0M549.7 664.2h0M549.5 688.1h0M651.2 624.1h0M603.2 694.4h0M646.8 619.1h0M604.6 680.2h0M553.9 659h0M594.6 623h0M632 652.8h0M630.7 719.1h0M541.7 648.3h0M530.7 720.9h0M597.3 634.1h0M559.3 659.8h0M594.4 649.1h0M653.4 679.7h0M586.2 629.1h0M596.9 637.5h0M567.2 661.7h0M548 637.6h0M624.4 620.3h0M598.7 653.2h0M633.1 714h0M582 693.1h0M641.3 687h0M544.5 669.4h0M662.4 623.8h0M624.4 642.1h0M553.9 654.5h0M552.2 698.7h0M620.4 703.1h0M643.4 683.6h0M593.8 629.9h0M649.5 674.7h0M627.9 619.3h0M634.2 692.2h0M615 674.3h0M588.2 706.4h0M545.5 662.8h0M568.9 664.9h0M545.4 687.7h0M634.3 692.7h0M646.1 629.7h0M643.1 696.2h0M609.5 663h0M564.6 639.6h0M569.2 650.6h0M665.5 714.9h0M548.1 670h0M627.8 628.8h0M601.6 646.7h0M556.2 666.2h0M575.9 711.2h0M571.8 699.8h0M584.8 663.6h0M593 706.6h0M533.7 698.4h0M586.3 634.2h0M548.9 630.2h0M661.8 669.1h0M567.4 715.8h0M643.6 647.4h0M653.5 632.9h0M603.9 704h0M578.3 681.3h0M589.6 650.5h0M523 631.1h0M570.8 721.6h0M529.9 664.9h0M655.2 626.6h0M584 720.6h0M563.5 623h0M585.5 706.2h0M651 682.8h0M575.8 619.4h0M605.6 692.8h0M568 617.8h0M535.6 617.9h0M548.2 639.9h0M558.6 618.5h0M624 655h0M566.4 668.6h0M583.5 664.4h0M610.3 690.6h0M564.9 618.8h0M631.3 641.4h0M598.4 673.1h0M598.3 639.7h0M529.2 716.8h0M544.2 623.1h0M573.4 628.5h0M557.8 674.5h0M582.4 695.9h0M641.5 653.1h0M606.4 693h0M600.4 638.5h0M537.8 688.8h0M615 712.1h0M611.8 640.3h0M611.4 661.6h0M538.5 706.6h0M604.3 627.5h0M619.9 677.8h0M534.9 681.3h0M611.7 618.5h0M587.4 642.4h0M577.2 618.8h0M662.9 675.7h0M590 697.2h0M584.5 622.6h0M644.5 716.7h0M560.8 662.1h0M534.9 675.6h0M641.7 658.3h0M639.1 700.9h0M596.2 651.1h0M657.3 680.1h0M608.7 722.9h0M600.6 673.9h0M552.1 662.8h0M530.6 646.8h0M547.2 639h0M557.1 636.7h0M609.3 720.4h0M567.9 720h0M546.3 662.3h0M627.6 651.9h0M660.9 640.9h0M597.1 711.7h0M534.9 643.9h0M566.6 717.5h0M532.1 666h0M664.4 661.9h0M573.2 625.1h0M619.9 704.5h0M628.8 662.7h0M635.9 714.3h0M565.5 676.1h0M570.6 683.2h0M596.4 623.8h0M538.4 694h0M598.5 629.5h0M548.5 714.8h0M622.3 721.5h0M612.4 626h0M633.6 716.7h0M553.1 694.9h0M552.7 667.3h0M577.8 676.7h0M641.9 708.2h0M548.4 624.3h0M582.1 658.2h0M614.9 663.4h0M561.1 653.4h0M666.1 646.1h0M539.5 663.2h0M613.4 720.4h0M652.6 690.6h0M577.1 657.2h0M557 634.3h0M609.9 702h0M600.1 722.3h0M529.8 662.8h0M618.7 618.8h0M664.3 646.5h0M601.3 688.1h0M643.4 702h0M565.5 712h0M578.6 621.5h0M597.9 626h0M524.6 624.1h0M605.2 630.2h0M660.9 705.4h0M590.1 643.9h0M661.5 661h0M594.4 722.3h0M579.3 655.7h0M619.2 696.7h0M592.7 680.4h0M575.8 627.7h0M626.6 657h0M654 640.3h0M579.9 628.3h0M623.4 667.3h0M633.2 704.3h0M590.1 625.2h0M663.8 708.1h0M546.6 653h0M643.9 641.6h0M541 685.5h0M529.7 632.9h0M607.6 621.2h0M620.6 672.7h0M523.1 671.7h0M660.1 720.2h0M582.2 688.8h0M524.5 705.1h0M647 706.5h0M583.4 624h0M647.6 690.9h0M566.5 721.9h0M616.5 621.3h0M621.7 715.6h0M596.8 653.8h0M532.2 684.7h0M554.1 709.2h0M625.6 672.7h0M553 713.2h0M557 682.4h0M600.3 635.8h0M595 654.4h0M532.3 672.7h0M523.1 638.5h0M623.7 637.2h0M648.7 665.1h0M662.4 623.9h0M569.1 667.7h0M553.7 699h0M590.4 636.8h0M532.4 638.7h0M553.9 658.1h0M589.1 709.1h0M636.9 721.4h0M655.3 640.6h0M567.1 639.4h0M609.8 713.9h0M627.6 640.6h0M604.9 708.1h0M537.6 658.6h0M562.5 621.8h0M663.6 630.9h0M551.7 646.4h0M664.9 681h0M580.9 619.9h0M610.3 646.9h0M635.9 617.3h0M534 676.5h0M584.9 685.3h0M586.9 630h0M614.7 628.1h0M545.1 692.4h0M590.4 715.2h0M623.4 619.6h0M638.2 645.1h0M526.8 688.3h0M633.4 707.7h0M661.7 673.3h0M569.9 718.5h0M572.1 629.8h0M528.8 640.5h0M564.8 647.8h0M534.8 705.8h0M650.6 687.3h0M647.6 632.8h0M582.4 663.3h0M652.9 694.6h0M636.8 630h0M584.1 722.3h0M532.7 702.4h0M640 632.1h0M583 634.4h0M634.1 684.7h0M631 668.3h0M587.7 672.4h0M585.5 690.6h0M658.6 659.3h0M559.6 722.5h0M573.5 661.9h0M634.3 669.2h0M586.5 624.9h0M635.9 650.4h0M575.6 639.8h0M597.2 707.6h0M607.5 631.5h0M530.9 628.4h0M547.9 632.8h0M554.3 630.8h0M552.4 674.5h0M576.5 669.4h0M602.3 688.5h0M603.8 687.4h0M659 618.6h0M656.8 633.6h0M657.2 695.2h0M586 629h0M618.5 622.9h0M637.9 703.4h0M582.3 658.9h0M634.5 690.4h0M636.2 622.7h0M659.7 722.6h0M546 646.2h0M570.2 647.6h0M591.1 693.9h0M579.7 680h0M563.4 659.7h0M598.4 708.1h0M583.5 663.4h0M532.7 658.4h0M561.3 718.3h0M539.2 688.4h0M572.2 679.7h0M609.4 627.8h0M660.8 677.5h0M551.9 635.3h0M563.6 695.8h0M598.3 642.7h0M562.1 711.5h0M537.5 628.1h0M652.8 694.1h0M623.1 714.3h0M616.4 643.7h0M603.3 702.8h0M644.9 649.8h0M615.3 696.6h0M650.7 655.2h0M596.3 721.8h0M589.3 677.8h0M540.1 675.5h0M585.3 661.9h0M620.3 625.9h0M645.4 670.6h0M659.3 622h0M542.6 702.8h0M657.9 714.4h0M620.1 655.2h0M580.9 713.9h0M663.6 619.9h0M580.2 706.3h0M556.3 695.6h0M582.6 652.5h0M582 678.3h0M558.9 661.7h0M633.5 712.4h0M540.4 679.2h0M648.8 627.5h0M535.4 653.2h0M555.7 631.8h0M578.4 639.1h0M548.6 687.3h0M564.7 721.4h0M595.5 688.4h0M609.6 620.8h0M619.4 659.6h0M531 689.1h0M536.7 720.2h0M599.2 709.3h0M529.6 675.6h0M658.9 668.1h0M530.9 718.6h0M527.6 655.8h0M593.5 665.4h0M538.9 619.6h0M603.6 640.3h0M654.1 662.4h0M550.4 622.6h0M627 717.8h0M651.6 641.1h0M551.9 677.9h0M621.3 700.9h0M616.8 628h0M572.4 717.3h0M611.2 703.9h0M626.5 647.5h0M652.6 645.9h0M544.4 680h0M543.6 679.9h0M643.1 643.5h0M535 620.2h0M632.7 709.1h0M540.6 644.1h0M525.5 644.3h0M642.6 623.2h0M640.8 695.1h0M644.1 710.9h0M648.3 638.6h0M583.3 632.7h0M561.7 668.4h0M568.8 703.8h0M576.9 677.9h0M527.3 620.8h0M612.2 716.6h0M616.6 638.5h0M615.7 719.9h0M640.8 700.8h0M640.5 631.1h0M598.1 640.2h0M576.5 634h0M584.7 618.3h0M530.7 678.5h0M568.4 688.2h0M651.2 672.9h0M570.7 670.1h0M560.8 656.2h0M632.5 630.7h0M623.9 669.6h0M604.2 723.5h0M584.3 658.5h0M533 681.8h0M617.1 645.3h0M630.2 639.1h0M629.5 717.4h0M608 654.7h0M616.4 697.3h0M664.1 672h0M556.3 645.8h0M552.4 667.8h0M636.2 645.5h0M550 621.6h0M659.5 629.9h0M654 646.7h0M610.1 630.3h0M581.6 698.6h0M630.3 690.9h0M529.6 713.1h0M637.4 638h0M545.6 640.2h0M601.9 674.6h0M654.6 656.3h0M639.2 657.7h0M601.8 628.7h0M552.8 624.1h0M561.3 704.6h0M545.6 712h0M664.3 632.2h0M573.5 630.8h0M611.3 627.4h0M558.8 647.3h0M659.9 671.7h0M572.6 712.9h0M664.3 622.9h0M551.3 649h0M652.6 700.4h0M601.6 711.7h0M627.6 675.6h0M556.8 674.4h0M606.7 646.7h0M526.4 623.9h0M536.6 672.8h0M592.4 710h0M647.4 683.6h0M538.5 708h0M562.1 679.8h0M609.5 652.7h0M629.9 661.3h0M595.5 666.3h0M556.1 628.3h0M658.3 695.8h0M525.2 660h0M613.7 666.7h0M551.9 660.4h0M629.9 626.7h0M616.8 627.1h0M653.6 707.3h0M550.9 665.2h0M618.9 709.1h0M650.6 636.7h0M532.3 673.5h0M611.5 688h0M599.3 712.2h0M573.3 670.7h0M530.5 664h0M598.7 628.5h0M637.5 673h0M570 622.2h0M618.3 654.7h0M629 696.9h0M633.4 630.2h0M614.4 703.1h0M593.3 716.8h0M595 624h0M546.2 621.8h0M539.6 675.8h0M638 631.9h0M555.5 700.8h0M633 651.4h0M577.6 627.8h0M649.1 686.3h0M658.7 636.4h0M658 680.1h0M627.6 669.5h0M653.9 676.7h0M540.1 722.7h0M538.5 625.1h0M642.8 698.8h0M639 635.2h0M551.3 702h0M525 651.9h0M582.8 682.6h0M585 713.3h0M656.3 673.6h0M578.2 689.8h0M527.7 620.6h0M544.1 626.1h0M547.2 646.6h0M545.1 640.1h0M572.6 684h0M636.6 653.3h0M532.3 719h0M584.3 670.9h0M665.8 645.4h0M628.7 711.8h0M545.8 648.2h0M591.7 683.6h0M597.4 712.1h0M602.2 695.1h0M529.4 637.9h0M582.4 686.6h0M587.9 701.4h0M553.1 638.9h0M642.1 674h0M589.7 659.7h0M596.3 628.6h0M602.5 680.4h0M616.7 678.2h0M567 697.4h0M644.9 682.8h0M564 698.7h0M562.1 691.8h0M546.5 688.3h0M637.1 694.4h0M590.5 667.1h0M556.1 681.1h0M544.1 656.3h0M644.8 701.9h0M540.9 681h0M530.8 654.9h0M641.8 714.9h0M546.6 722.6h0M556.8 706.9h0M558 666.6h0M543.8 640h0M551.8 711.5h0M647.9 625.8h0M663.7 716.8h0M632.4 717.7h0M616.8 679h0M582.5 630.8h0M551 641.9h0M649.6 691.6h0M654.8 642.2h0M646.2 703.7h0M649.6 644.4h0M559.4 644.5h0M641.6 694.1h0M597.3 713.9h0M523.6 705.6h0M580.9 644.4h0M654.1 712.7h0M546.9 676.5h0M570.2 717.2h0M537.2 721.3h0M619.7 639.2h0M581.4 648.5h0M645.2 653.3h0M527.9 688.2h0M647.4 709.3h0M616.1 713.6h0M636.8 650.7h0M544 671.2h0M661.7 653.9h0M525.8 673.5h0M588.9 639.6h0M609.6 629.6h0M610.9 699.3h0M560.8 676.1h0M605.5 656.3h0M647.2 630.8h0M654.1 627.8h0M542.7 723.7h0M603.7 702.5h0M647.5 643.6h0M564.7 711h0M659.3 672.8h0M584.8 662.8h0M612.4 694.4h0M552.3 711h0M526.3 686.8h0M620.6 691.2h0M572.9 692.1h0M586.4 699h0M543.4 691.7h0M579.5 675.6h0M551.3 697.7h0M558.5 627.9h0M651.8 668.3h0M604.4 717.5h0M541.3 672.9h0M579.7 657.2h0M572.3 691.9h0M559.9 687.7h0M561.8 633.1h0M653.5 712.3h0M593.8 681.3h0M616.9 670.4h0M569.1 639.6h0M624.1 657.3h0M593.8 691.9h0M567.4 657h0M593.4 640.2h0M622.8 644.9h0M536.7 669.9h0M651.6 660.3h0M635.1 720.9h0M545.8 620.7h0M533.1 698.2h0M549.4 679h0M540.5 673.2h0M632.7 667.9h0M653.8 699.3h0M575.5 651.8h0M614.6 647.9h0M656.7 677.1h0M606.4 717.1h0M621.7 639.8h0M530.1 671.2h0M665.6 703.9h0M644.2 673.6h0M649.7 680.9h0M624.5 668.9h0M600.3 718.1h0M548 672.5h0M604.2 688.7h0M653.8 697.3h0M602.1 623.5h0M564.9 617.7h0M551.6 641.3h0M628.6 711.2h0M531.4 693.8h0M632.3 656.9h0M665.9 716.6h0M565.9 670.7h0M665.6 622.7h0M611.8 702h0M632.8 653.5h0M613.8 630.2h0M525.9 717.9h0M537.7 666.3h0M602.9 636.9h0M613.4 654h0M563.8 630.4h0M590.6 662.4h0M541.7 659.7h0M565.5 653.3h0M606.8 719.2h0M570.4 691.3h0M580.7 645.9h0M545.4 631.1h0M552.3 641.1h0M548.3 629.9h0M608.5 647.3h0M544.7 655.6h0M566.7 698.8h0M529.4 672.2h0M637.9 633.6h0M644.4 691.6h0M551 629.1h0M608.8 650.3h0M591.2 658.8h0M534 696.4h0M548.5 709h0M547.9 717.4h0M632.9 654h0M529.6 680.6h0M639.5 720h0M525.3 673.1h0M643.6 674.1h0M621 691.5h0M587.7 628.3h0M565.2 652.8h0M649.2 671.5h0M667.9 717.2h0M561.5 617.1h0M609.3 724.2h0M590.6 658.4h0M619.7 704.1h0M544.5 669.5h0M556 680.4h0M558.2 674.5h0M593.3 689.2h0M551 646.3h0M587 643.9h0M643.7 642.5h0M566.6 624.9h0M572.1 683.2h0M578.4 687.8h0M548.6 680.7h0M631.9 666.1h0M639.2 635.9h0M624.5 668.6h0M536.9 721.8h0M659.6 659h0M606.1 649.9h0M604.8 693.3h0M649 686h0M603.8 622.5h0M564.4 638.3h0M604 684.2h0M557.7 723.9h0M547.6 668.7h0M529.9 675h0M596.7 637.9h0M556.7 628.8h0M586.2 698.1h0M534.4 689.8h0M616.5 627.8h0M644.1 682.4h0M619 620.1h0M551.1 646.6h0M607.8 686.8h0M655.8 637.7h0M638.3 716.6h0M600.4 626.2h0M599.7 712.3h0M636.3 631.6h0M667.7 647.7h0M663.8 716.4h0M601.6 621.4h0M614.9 696.2h0M526.2 687h0M613.8 715.7h0M523.8 677.5h0M565 616.9h0M650.7 680h0M657 626.3h0M636.5 634.9h0M541.6 674.4h0M527 687.9h0M577.5 640.1h0M581.3 680.6h0M656 680.2h0M611.3 620.5h0M567.4 626.1h0M588.9 658.7h0M551.4 645.5h0M578.8 618.1h0M641.1 665.4h0M534.9 700.1h0M614 702.2h0M591.2 695.8h0M620.4 667.7h0M611.9 702.9h0M540 679h0M584.3 723.2h0M602.1 705.1h0M590.7 695.3h0M528.2 688.1h0M584.6 670h0M618.1 619.5h0M568.6 623.9h0M569.4 640h0M545.4 688.9h0M591.5 636.2h0M566.9 658.2h0M629.6 720.1h0M546 650h0M579.5 676.8h0M579.7 678.6h0M627.2 670.8h0M553 630.8h0M551.2 676.6h0M636.1 710.7h0M589.3 707h0M615.1 721.5h0M630.2 673.9h0M585.3 662.3h0M554.3 696.1h0M587 672.7h0M620.6 703.4h0M538.2 628.9h0M566.7 624h0M575 713.5h0M610.5 676.4h0M590.7 709.4h0M631.4 667.4h0M529.9 627.1h0M548.8 714.6h0M539.1 681.7h0M552.5 639.4h0M546.2 686.7h0M658.9 633.3h0M613.7 665.2h0M552.7 658.9h0M555.4 707h0M646.3 631.3h0M595.1 670.7h0M599.8 640.8h0M561.7 621.7h0M573.2 662.6h0M633 683.6h0M661.4 672h0M620.7 672.6h0M560 647.1h0M647.6 675.3h0M527.9 642.1h0M529.3 717.9h0M543.1 669.8h0M635.5 723.9h0M616.3 637.7h0M632.3 669.5h0M542.6 623.5h0M657.1 693.5h0M565.6 668.8h0M546 686.5h0M663.7 631.7h0M591.5 629.1h0M532.4 664.1h0M534.2 702.8h0M586.7 661.6h0M545.2 649.3h0M614.3 667.7h0M585.1 714.4h0M609.3 622.3h0M608.1 618.3h0M536.4 649.9h0M564.2 700.7h0M642.9 710.6h0M593.9 720.9h0M549.6 631.8h0M590 658.5h0M627.7 663.7h0M654.6 698.1h0M561.3 690.5h0M570 640.8h0M583.8 665.3h0M587 723h0M578.2 639.6h0M547 618.7h0M561.9 629.3h0M613.6 649.5h0M598.8 634.1h0M583.5 692h0M642.5 665.5h0M580.1 716.4h0M615.2 629.6h0M562.6 623.4h0M552.7 656.2h0M628.1 649.3h0M571.1 645h0M609.3 687.4h0M664.8 681.6h0" stroke="#1216ff" stroke-width="1.55" stroke-linecap="round" fill="none" filter="url(#b1)"/>
<path d="M560.6 651.5h0M585 666.4h0M614.2 621.5h0M648.1 657.1h0M575.3 645.2h0M530.6 717.1h0M611 678h0M549.5 697.2h0M624.6 666.2h0M580.7 640.1h0M609.1 621.8h0M532.5 636h0M649.2 696.6h0M566 703.9h0M652.4 657.2h0M604.9 635h0M583.9 638.5h0M642.8 643.4h0M602.3 645.4h0M545.8 684.2h0M614.4 699.9h0M611.1 678.5h0M580.3 674.1h0M538.2 637.7h0M626.6 648.2h0M629.5 679.1h0M572.5 647.8h0M607.9 642.2h0M659 719.6h0M576.2 617.7h0M635.7 625h0M644.8 684.1h0M654.3 714h0M553.1 632.5h0M533.1 651.9h0M637.7 633h0M634 618.1h0M576.4 648.7h0M563.8 618.4h0M603.2 645.4h0M611 711.3h0M592.6 646.5h0M630.8 626.3h0M586.6 638.2h0M629.9 620.7h0M613.6 716.8h0M645.9 630.1h0M608.1 686.2h0M537.4 630.3h0M561 617.8h0M569.9 641.8h0M619.5 719.8h0M593.1 638.4h0M561.9 649.3h0M623.4 639.7h0M559.3 686.7h0M583.1 641h0M637.7 721.1h0M660.9 658.8h0M523.4 671.4h0M590.6 658.4h0M537 651.1h0M613.4 704h0M633.2 659.2h0M629.9 655.8h0M631.3 643.5h0M621.5 632.1h0M616.8 696.1h0M655.8 648h0M566.8 617.5h0M639.1 714.7h0M643.3 622.3h0M558.9 660.2h0M596.3 633.3h0M623.7 669.1h0M547.9 719.5h0M566.3 639.1h0M557.4 625.2h0M578.4 689.2h0M527.5 676.1h0M606.9 717.7h0M606.7 699h0M615.7 723.5h0M569.6 623.8h0M531.9 722.7h0M643.6 705.5h0M568.7 697.1h0M578.7 700.4h0M623.6 684.4h0M615.6 625h0M612.1 689.2h0M652.6 714.6h0M585.5 647.2h0M531.5 651.4h0M567.7 721.7h0M538.2 627.1h0M640.8 673h0M617.1 702.6h0M656.4 617.5h0M654.4 634.8h0M651.6 669.8h0M622.1 651.3h0M657.2 643.5h0M611.6 619.7h0M614.8 668.6h0M633.5 723h0M609.2 710.2h0M556.6 638.8h0M623.6 690.7h0M562.4 625.1h0M563.1 623.2h0M658.5 654.6h0M647.8 702.8h0M558.7 723.3h0M538.5 716.3h0M628.1 635.2h0M584.1 722.1h0M659 619.5h0M601.5 635h0M624.5 662.8h0M599.4 633.7h0M560 630.8h0M576.1 702h0M543.5 632.1h0M603.4 706.5h0M637.9 633.8h0M597.5 637.9h0M646.4 642.9h0M607.4 701.8h0M574.6 712.1h0M665.3 624.6h0M598.4 632.2h0M645.6 663.1h0M524.9 673.3h0M605.6 684.6h0M523.3 705h0M537.9 634.3h0M661.3 656.6h0M612 620.6h0M663 702.1h0M636.9 691.1h0M596.7 631.4h0M610.6 651.6h0M620.9 656.4h0M598.2 707.8h0M664.1 701.5h0M634.4 686h0M610.4 625.5h0M555.1 636h0M595 682.6h0M561.1 691h0M657.3 644.3h0M547.9 630.4h0M618.3 667.7h0M659.3 697.9h0M605.2 708.5h0M532 635h0M527.9 650.4h0M621 653.1h0M571.6 715.3h0M654.6 630.1h0M596.8 722.4h0M524.9 662.8h0M593.9 674.4h0M624.7 692.9h0M525.9 721h0M630.9 684.6h0M645.8 702.4h0M597.8 627.2h0M597 647.9h0M570.9 683.6h0M640.6 665.7h0M533.4 712.3h0M588.6 667.2h0M613.1 718.2h0M659.4 660.8h0M562.9 639.2h0M619.6 690.9h0M556.5 669.2h0M608.3 702.1h0M534.5 688.6h0M549.9 654.2h0M541.6 680.4h0M599.3 715.1h0M564.1 634.1h0M647 687.7h0M546 668.9h0M623.6 719.4h0M615.7 721.6h0M617.8 689.7h0M543.1 682.2h0M571.7 673.2h0M641.7 626.6h0M614 634.1h0M566.6 713.5h0M608.6 706.7h0M595.1 671h0M602.6 624.9h0M659.8 634h0M567.8 625.3h0M583.8 629.6h0M664 669.5h0M563.6 698.7h0M655.6 692.3h0M575.2 717.4h0M665.1 652.6h0M523.9 636.5h0M536.6 646.2h0M626.8 722.7h0M638 634.2h0M663.6 651.3h0M573 641h0M596.3 700.4h0M650.4 621.2h0M541.6 670h0M541.2 680.4h0" stroke="#1216ff" stroke-width="2.2" stroke-linecap="round" fill="none" filter="url(#b1)"/>
<path d="M635.2 704.9Q637.9 702.4 639.3 699M617.4 714Q619.3 704.2 628.9 701.8M604.4 726.1Q609.3 720.8 614.7 715.9M598.9 690.6Q606.1 680.2 610 668.2M624.5 709.2Q634.3 701.3 645.6 706.8M525.7 657.9Q531.1 654.8 536.9 652.5M526.7 656.8Q535.1 655.5 542.2 650.6M526.1 635.5Q533 629.9 540.7 625.3M532.9 639.9Q536.5 636.8 538.7 632.7M620 615.5Q626.5 621.2 634.8 618.8M659 713.1Q665 710.6 671.4 711.4M540.4 679.7Q547.9 678.4 555.3 677M529.4 643.3Q535.4 645.5 541.8 644.3M582.9 690.1Q590.5 681.2 598.3 672.6M589.6 676.6Q594.1 669.4 599.8 662.9M652.5 666Q656 666.5 659.5 666.8M514.6 704.3Q526.1 700.2 536.2 693.5M601.9 661.7Q607.5 657.1 614.7 655.6M613.6 652.5Q620.4 648.3 627.3 644.2M645.2 715.7Q649.7 718.9 655.2 719.1M643.5 712.7Q652 718.4 661.4 722.1M589.3 667.5Q591.7 665.3 592.9 662.3M544.9 711.5Q547.9 708.1 552.3 706.7M545.9 673.9Q550.2 675.2 554 677.4M512 645.3Q517 642.1 520.9 637.7M513.5 646.5Q515.9 642.1 519 638.2M604 662.7Q607.1 654 609.1 645M631.2 624.2Q635 625.2 637.4 622.1M632.1 627.6Q638.8 619.4 648.4 615M548.2 716.6Q550.6 721.1 555.7 720.8M532.5 669.6Q542.8 669.2 552.9 671.5M537 671.7Q543.1 672.1 548.3 669.2M533 670Q542 660.2 554.3 665.1M563.3 693.8Q568.9 691.5 571.7 686.2M613.3 693.1Q623.4 692.4 629.8 700.1M520.6 708.6Q531.3 702.7 534.1 690.7M526.7 695.6Q530.3 692.2 534.9 690.6M541.2 696.8Q548.6 699.1 556.2 697.5M549.8 700Q553.9 703.6 559.4 704.1M543.5 708.5Q551.5 706.3 559.2 709.5M553.2 702.6Q557 703.9 560.8 704.7M590.8 730.7Q593.8 725.7 594.8 720M590.3 652Q600.9 654.3 608 646.1M586.1 649.6Q592 651.7 597.4 648.7M556 672.4Q560.4 669.9 565.4 670.6M549.3 675Q557.6 676.8 565.3 673M652.9 693.2Q661.5 692.3 670.1 691.1M632.5 668.5Q634.7 665.1 633.5 661.2M632.1 668.1Q631.4 660.2 633.2 652.4M621.3 670.8Q627.6 660.5 637.4 653.4M651.7 702Q659.8 698.2 668 694.7M622.8 620Q628.9 613.1 628.5 603.9M613.3 630.2Q620 624.7 625.1 617.7M614.7 640.7Q617.6 636.4 622.1 634M620.7 629.4Q629.6 632.9 639.1 632M549.1 672.3Q552.4 670.2 555.9 672M659.4 644.5Q665.3 636.9 673.7 632.3M661.8 637.7Q664.2 635.7 666.7 633.8M578.3 725.9Q581.6 714.5 592.5 709.7M579.5 719.3Q582.1 714.1 585.2 709.1M617.7 723.3Q624.9 716.3 632.6 709.8M622.2 717.7Q624.4 711.2 630.9 708.7M578 620.9Q587.1 617.7 596.7 619M543.7 644.9Q547.7 642.1 552.6 642.7M554.6 649.2Q558.8 645.4 564.5 645.6M642.8 692.3Q650.5 688.4 651.7 679.7M663.6 729.8Q673.9 719.8 668.1 706.6M655.1 674Q661.2 665.9 669.4 659.8M656.1 674.7Q654.5 660 667.9 653.9M579.3 700.3Q588.5 693.8 594 683.9M591.2 712.2Q601.7 708.4 612.2 704.6M625.2 732.1Q632.5 724.2 634.1 713.5M523.2 650.8Q529.3 646.5 530.6 639M629.2 647.8Q633.5 643.9 637 639.2M576.5 705.1Q580.4 700.8 584 696.3M590.8 666.3Q598 667.8 604.8 670.7M587.8 668.5Q593.4 670.1 598.7 667.7M650.2 617Q655.1 612.1 656.6 605.2M652.6 620.8Q660.1 611.6 665 600.9M661.7 683Q670.1 678.7 674.4 670.2M655.4 686.8Q663.6 684.9 668.7 678.2M640.5 665.1Q646.6 666.3 652.7 667.2M610.5 697.1Q613.8 691.2 620.5 689.9M601.3 703.9Q605.7 702.2 608.6 698.5M547.4 695.9Q555.9 691.4 557.2 681.9M553.9 694.6Q559.2 691.7 560.3 685.7M591.6 637.3Q603.4 638.1 614.7 634.8M580.6 679.5Q585.6 680.2 590.6 681.2M580.9 684.7Q584.3 684.5 587.2 686M540.5 653.9Q549.2 654.8 557.9 655.6M583.9 616.3Q590.5 616.2 597.1 616.8M579 615.9Q588.8 622.8 600.8 621.4M568.7 712.2Q568.2 707.2 571.7 703.6M608.3 647.4Q620.7 651.7 630.1 642.5M574.4 685.2Q581.1 683.2 587.7 681M589.8 684.3Q593.2 685.7 596.8 684.8M588.3 685.1Q596.1 683.3 603.8 681M661.5 627.5Q661.8 617 667.9 608.4M660.3 619.3Q665.8 614.6 667.3 607.5M634.1 667.1Q641 668.2 647.8 669.5M567.9 708.4Q577 713.6 582.2 722.8M567.1 707.5Q573.1 716.9 583.8 720.2M610.1 693.5Q615.1 689.5 620.5 685.9M591.7 679.4Q597.6 669.8 607.8 664.9M579.2 684.5Q587.5 682.4 594.1 676.9M560.6 705.5Q564.6 697.2 567.6 688.5M563.2 701Q564.8 697.5 565.8 693.9M561 702.1Q561.4 696.7 566.2 694.1" stroke="#ff1448" stroke-opacity=".88" stroke-width=".95" stroke-linecap="round" fill="none" filter="url(#b1)"/>
<path d="M630.9 707.1Q634.9 700.7 642 698.3M600.7 729.6Q603.7 720.9 612.4 718M618.8 696Q624 684.6 634.5 677.7M609.1 696.5Q614.7 689.7 623.3 688.2M625 709Q636.3 709.2 645.6 702.8M526.5 657.9Q534 659.6 541.5 660.9M565.4 655.5Q571.2 657.6 576.7 660.2M530.1 635.9Q532.8 630 539.3 629.4M529.6 636.3Q541.8 639.1 549.7 629.4M534.4 648.6Q545 649.9 555.5 648.1M646.2 664.4Q655.9 665.2 665.7 665.2M547.4 659.1Q547.7 653.6 549.5 648.4M607.8 662.6Q612 661.1 614.3 657.3M533.9 624.3Q536.8 621.2 539.1 617.6M621.2 657.8Q631.7 660.2 642.1 662.9M617.9 650.4Q631.1 648.9 641 657.8M588.3 672.7Q593.6 665.4 596.7 657M588.3 676.7Q588.7 670.8 593.3 667.3M545.7 667.1Q551.2 670.7 556.4 674.7M510.4 617.3Q519.9 615.2 529.1 611.6M510.6 651.5Q519.2 649.8 518.6 641.2M506.6 647Q510.8 639.1 519.2 635.9M623.1 627.6Q634.2 630.2 641.8 621.7M623.8 628Q633.2 624.5 641.6 619M664.2 690.1Q671.6 684.4 672 675.1M545.7 717.2Q555.8 714.5 562.3 722.8M550.3 665Q554.5 663.6 558.6 661.8M560.4 700.5Q567 692 567.4 681.3M546.4 697.1Q557 697.3 566.9 700.7M660.9 632.2Q662.9 628.9 664.9 625.8M589.1 728Q591.3 722.2 593.4 716.4M595.6 720.6Q597.4 714.8 599.6 709.2M589.4 654.8Q595.1 654.5 599.8 651.2M560.8 634.9Q565 628.4 566.2 620.8M538.2 710.5Q546.7 704.7 551.2 695.4M634.1 697.5Q645.2 692.1 657.1 689.2M637.1 657.5Q641.4 655.7 643.4 651.5M657.1 700.6Q659.5 698.7 662 696.8M537.2 732.9Q544.7 723.2 545 710.9M604.7 649.6Q611.4 641.2 620.5 635.6M613 633.7Q618.9 629.3 626 627.6M633.9 729.7Q639.2 726.5 645.2 727.9M624 732.4Q636.4 735.7 646.5 728M540 674.1Q548.7 672.6 557 669.5M586 715.5Q595.5 708.8 605.6 703M614.2 728.8Q628.5 725.4 630.7 711M574.3 621.5Q580.2 620.8 585.7 618.3M535.5 655.8Q543.1 649.4 550.3 642.7M605.9 702.9Q613.1 704.5 617.6 698.7M608.2 707.7Q617.1 699.5 628.9 697M623.2 730.2Q630.3 722.1 635 712.4M516 653.3Q520.6 646.7 527.4 642.6M583.9 702.9Q589.6 694.8 596 687.4M583.5 701.5Q586.3 698.7 588.7 695.6M657.1 620.2Q656.7 607.8 667.6 602M542.5 633.4Q548.4 629.3 554.7 625.6M546 631.7Q552.1 627.6 558.2 623.6M546.5 679.5Q548.7 675.5 550.2 671.1M544.2 690.7Q545.3 684.5 547.4 678.6M642.2 661Q645.7 661 649.2 661.2M554.5 699.6Q557.3 694.6 558.5 689M553.7 699.9Q556.3 694.3 560.6 690M584.2 666.3Q593.8 664.1 595.2 654.3M610.4 640.6Q618 639 625.8 639.1M599.5 687.4Q605.1 683.4 610.1 678.6M605.4 682Q609.8 679.4 614.3 677.1M584.5 683.8Q588.6 684.6 592.6 685.2M575 682.4Q581.1 682.9 586.8 684.8M539.5 650.9Q546.1 659 556.6 659.5M533.2 655.7Q542.7 660.7 553.3 662.2M591.4 617.8Q595.8 618.7 600.3 618.2M591.4 619.2Q599.6 610.9 610.4 606.4M591.2 615.6Q603.9 616.6 616 612.8M585.8 626.2Q590.2 623.6 594 620.2M582.4 616.1Q592.7 613.3 602.8 609.6M587.8 684.2Q596.1 679.3 605.7 679.6M660.1 629.7Q662.4 624 665.1 618.6M626 666.9Q637.9 671.7 650.3 668.8M633.3 670.1Q639.7 670.2 645.6 672.6M577.3 720.5Q579.6 726.8 585.7 729.5M570.4 715.3Q577.6 725.4 588.9 730.3M608 702.2Q614 694.7 621.7 689.1M611.2 700.6Q622.3 698.3 625.7 687.5M583 685Q597.2 685.9 604.2 673.4M634.7 641.3Q643.9 629.2 658.2 634.4M643.9 634.2Q652.1 625.4 664.1 626.3M627.9 725.6Q631.1 720.4 635.2 715.8M572.9 694.7Q574.4 690.8 573.5 686.7" stroke="#f01866" stroke-opacity=".8" stroke-width=".75" stroke-linecap="round" fill="none" filter="url(#b1)"/>
<path d="M629.3 703.7Q630.7 700.5 633.2 698.1M599 729.7Q603.5 728.7 605 724.4M600.4 725.6Q604.8 718.3 612.7 715.3M614.4 701.6Q623.1 697.2 629.9 690.2M610.7 691.1Q618.5 690.6 625.9 688M600.6 698.1Q608.6 688.3 613.8 676.9M627.2 714.4Q635.8 710.2 645.3 708.6M557.5 653Q568 652.9 577.8 656.9M614.3 620.7Q623.4 620.8 632.4 620.3M594.6 724.9Q589.9 713.7 598.5 705.1M603 728.8Q600.3 717.9 600.2 706.7M652.6 715.7Q658.8 712.1 665.9 712.2M552.3 675Q561.6 677.5 571.1 676M542.6 678.5Q551.1 674.3 559.9 677.7M558.3 675.9Q565.6 670.6 574.4 672.2M588.3 676.6Q594.7 670.2 602.5 665.7M636 657.9Q649 655.6 660.5 662.2M513.4 704.5Q518.7 703.1 524.1 702.6M518.6 701.5Q525.4 696.9 533.6 697.6M546.6 664.2Q552.9 658.4 548.3 651M546.6 670.4Q541.9 660.2 546.5 650M602 662.8Q610.9 654.2 623.3 654.2M540 620.2Q544 611.8 549.3 604.2M651.9 718.8Q655.4 720.5 659.3 721M581.3 683.8Q588.7 679.7 592.8 672.4M550.1 708.1Q559 703.9 563.2 695M550.4 705.7Q554.6 703.1 558.7 700.4M548.7 706.1Q558.9 700 562.8 689M585.2 675.3Q586 671.7 587.5 668.4M552.6 672.3Q556.9 674.1 560.4 677.2M524.2 615.3Q530.9 611.5 538.6 611.7M523 612.3Q530.6 606.7 538.6 601.9M600.8 666.9Q607.6 663 607.6 655.2M662.2 683.5Q664.8 678.5 668.1 673.9M550.1 716Q554.5 724.5 564 724.3M623.3 697Q631.9 701.5 639.4 707.8M519.7 701.7Q524.8 692.1 535.3 689M523.1 698Q529.5 694.1 533.8 687.9M660.4 640.5Q664.9 629.4 671.2 619.2M658.5 629.1Q661 625.7 663.5 622.4M557.7 639.4Q556.1 629.3 561.5 620.6M552.4 699.6Q554.8 697.1 557.4 694.8M549.8 698.3Q554.8 692.6 561.8 689.5M543.9 699.3Q546.1 692.7 553.1 692.9M649.1 695.6Q652.9 694.4 656.8 695.5M631 668.4Q636.1 657.2 640 645.6M631.2 659.9Q632.4 656.3 636.2 655.5M658.1 699.3Q665.7 699.5 672.1 695.6M650.5 705.1Q655.7 700.2 662.6 699.1M621.6 616.7Q623.8 614.4 626.1 612.1M528.6 738.9Q533.5 727.3 541.2 717.4M609.1 635.7Q620.5 635 631.8 633.5M618.4 634Q622.5 635.1 626.5 633.5M536.4 675.1Q543.3 674.3 549.9 672.2M541.2 668.2Q552.7 674.2 565.6 672.1M534.3 687.5Q536.3 684.5 539 682.1M532.8 690.4Q541.9 685.9 544.9 676.2M542.1 680.8Q545 673.9 551 669.5M618.2 720.7Q624.6 715.4 629.7 708.9M540.7 645.6Q545.3 645.7 547.7 641.8M635.5 701.1Q638.8 692.9 644.8 686.3M662.1 738.5Q664.5 731.1 670 725.5M581.7 700.6Q590.1 695.3 598.5 690.1M577.1 702.4Q585.5 693.4 596.1 687.2M604.2 706.2Q609.6 707.3 612 702.2M626.4 720.9Q628.7 716.7 629.2 712M629.5 726.7Q631.8 719.2 637 713.5M520.4 651.5Q522.2 648.3 525 645.8M629.2 650.4Q634.7 644 639.2 636.8M587.4 663.6Q597.6 670.7 609.6 667.6M548.6 627.4Q552.5 623.9 555.9 620.1M544.6 632.5Q546.9 630 548.6 627.2M652.8 688.6Q661.2 682.1 670.9 677.6M545.7 684.6Q548.6 678.5 549.5 671.7M640.9 662.2Q646.6 663.9 652.4 664.9M648.3 663.4Q656 665.5 662.9 661.5M607.5 697.6Q611.1 695.7 614.8 694.1M590.1 655.8Q590.9 652.2 593.3 649.3M578 667.5Q579.5 658.3 588.1 654.5M602.2 684.8Q612 682.9 613.5 672.9M593.8 692.8Q603.4 684.6 609 673.3M561.9 685.4Q568.9 683.5 575.8 685.8M573.4 688.3Q577.4 687.8 581.2 686.8M545 648.1Q556.1 652.1 567.8 654.1M589.6 619.3Q594 620.3 598.5 619.1M567.1 706.6Q566.2 702.7 566.1 698.8M617.8 655.5Q625 646.5 634.8 640.4M615.5 666.2Q627.2 662.9 638.2 668.1M584.4 677.6Q591.1 671.4 600 669.1M636 633.3Q642 631.2 647.1 635M625.8 723.7Q632.1 722 634.8 716.1M616.9 730.3Q619.7 725.2 624.2 721.4" stroke="#d81878" stroke-opacity=".7" stroke-width=".55" stroke-linecap="round" fill="none"/>
<line x1="526.4" y1="719.6" x2="557.3" y2="719.6" stroke="#b4b4bc" stroke-width="1.5"/>
</g>
<rect x="522.8" y="600.6" width="143.6" height="16.7" fill="#fff" stroke="#444" stroke-width=".8"/>
<text x="594.6" y="609.8" font-size="7.9" text-anchor="middle"><tspan font-style="italic">Sox17 Erg</tspan></text>
<text x="13.3" y="695.2" font-size="7.8" fill="#f0283c" transform="rotate(-90 13.3 695.2)">Pecam</text>
<text x="13.3" y="668.3" font-size="7.9" fill="#3b3fd0" transform="rotate(-90 13.3 668.3)">Nuclei</text>
</svg>
</body></html>
